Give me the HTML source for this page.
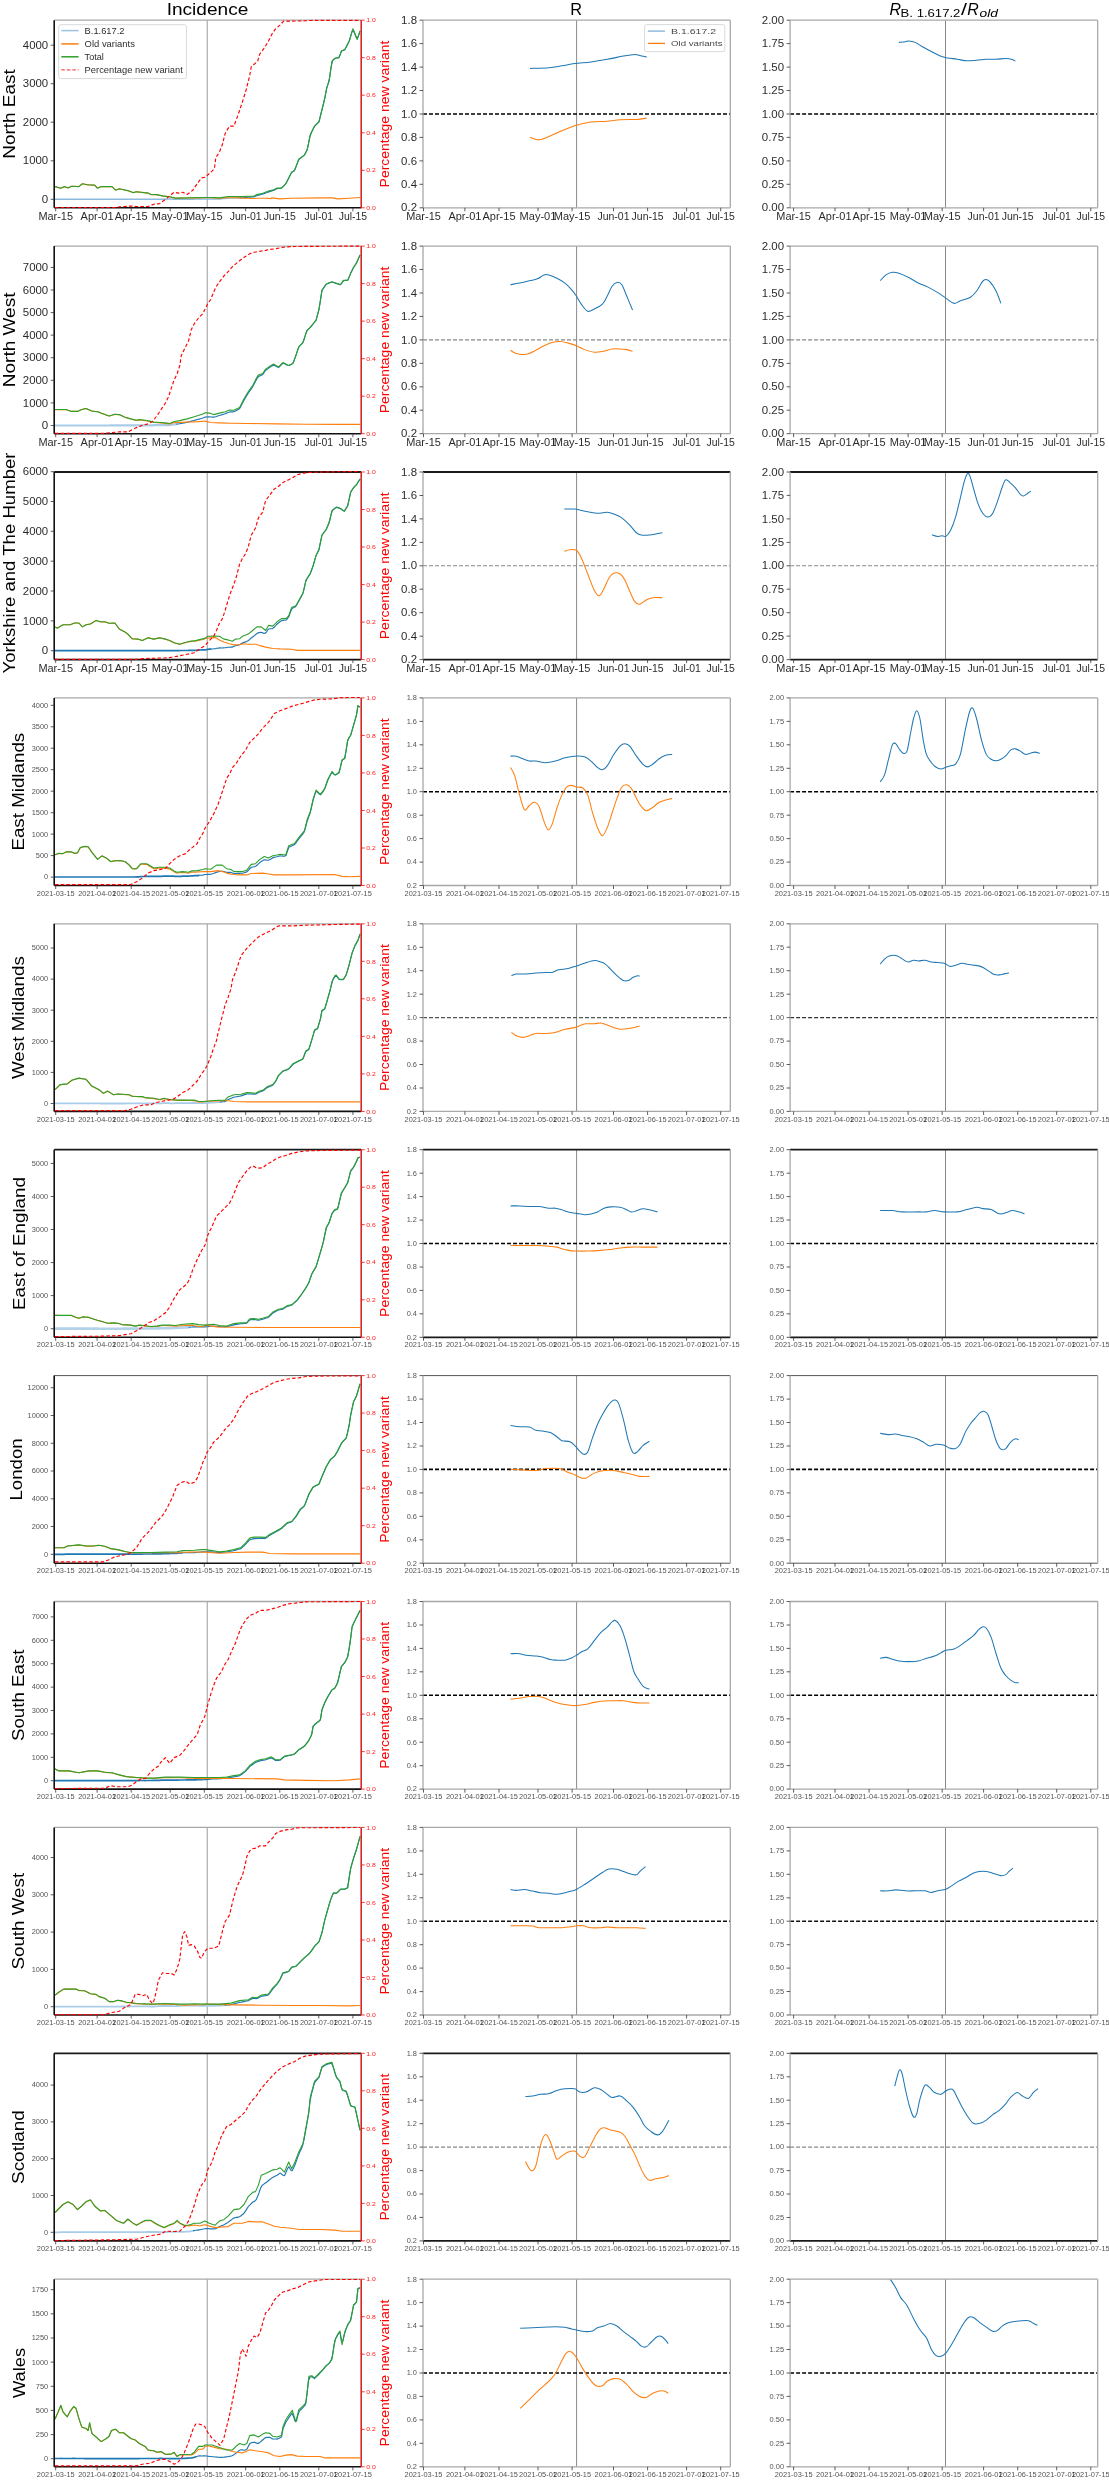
<!DOCTYPE html>
<html><head><meta charset="utf-8"><style>
html,body{margin:0;padding:0;background:#fff;}
svg{display:block;filter:blur(0.45px);}
text{font-family:"Liberation Sans", sans-serif;}
</style></head><body>
<svg width="1109" height="2480" viewBox="0 0 1109 2480">
<rect width="1109" height="2480" fill="#fff"/>
<text x="207.5" y="14.6" font-size="17" fill="#000" text-anchor="middle" textLength="81.7" lengthAdjust="spacingAndGlyphs">Incidence</text>
<text x="576.2" y="15.0" font-size="17" fill="#000" text-anchor="middle" textLength="11.8" lengthAdjust="spacingAndGlyphs">R</text>
<text x="889.4" y="14.6" font-size="17" font-style="italic" textLength="11.5" lengthAdjust="spacingAndGlyphs">R</text>
<text x="900.6" y="16.8" font-size="11.5" textLength="59.8" lengthAdjust="spacingAndGlyphs">B. 1.617.2</text>
<text x="961.0" y="14.6" font-size="17" textLength="6" lengthAdjust="spacingAndGlyphs">/</text>
<text x="967.3" y="14.6" font-size="17" font-style="italic" textLength="11.5" lengthAdjust="spacingAndGlyphs">R</text>
<text x="979.6" y="16.8" font-size="11.5" font-style="italic" textLength="18.4" lengthAdjust="spacingAndGlyphs">old</text>
<text x="14.7" y="114.0" font-size="17" fill="#000" text-anchor="middle" textLength="89.6" lengthAdjust="spacingAndGlyphs" transform="rotate(-90 14.7 114.0)">North East</text>
<line x1="207.3" y1="20.2" x2="207.3" y2="207.8" stroke="#b8b8b8" stroke-width="1.4"/>
<clipPath id="c0_0"><rect x="54.2" y="20.2" width="307.0" height="187.6"/></clipPath>
<polyline points="55.0,199.3 56.5,199.3 58.0,199.3 59.5,199.3 61.0,199.3 62.5,199.3 64.0,199.3 65.5,199.3 67.0,199.3 68.5,199.3 70.0,199.3 71.5,199.3 73.0,199.3 74.5,199.3 76.0,199.3 77.5,199.3 79.0,199.3 80.5,199.3 82.0,199.3 83.5,199.3 85.0,199.3 86.5,199.3 88.0,199.3 89.5,199.3 91.0,199.3 92.5,199.3 94.0,199.3 95.5,199.3 97.0,199.3 98.5,199.3 100.0,199.3 101.5,199.3 103.0,199.3 104.5,199.3 106.0,199.3 107.5,199.3 109.0,199.3 110.5,199.3 112.0,199.3 113.5,199.3 115.0,199.3 116.5,199.3 118.0,199.3 119.5,199.2 121.0,199.2 122.5,199.2 124.0,199.2 125.5,199.2 127.0,199.2 128.5,199.2 130.0,199.2 131.5,199.2 133.0,199.2 134.5,199.2 136.0,199.2 137.5,199.2 139.0,199.2 140.5,199.2 142.0,199.3 143.5,199.3 145.0,199.3 146.5,199.3 148.0,199.3 149.5,199.2 151.0,199.2 152.5,199.2 154.0,199.2 155.5,199.2 157.0,199.2 158.5,199.2 160.0,199.2 161.5,199.2 163.0,199.2 164.5,199.2 166.0,199.2 167.5,199.1 169.0,199.1 170.5,199.1 172.0,199.1 173.5,199.2 175.0,199.2 176.5,199.2 178.0,199.2 179.5,199.2 181.0,199.2 182.5,199.2 184.0,199.2 185.5,199.2 187.0,199.2 188.5,199.2 190.0,199.2 191.5,199.2 193.0,199.2 194.5,199.1 196.0,199.1 197.5,199.1 199.0,199.1 200.5,199.0 202.0,199.0 203.5,199.0 205.0,199.0 206.5,199.0 208.0,199.0 209.5,199.0 211.0,199.0 212.5,198.9 214.0,198.9 215.5,198.9 217.0,198.9 218.5,198.9 220.0,198.9 221.5,198.7 223.0,198.6 224.5,198.5 226.0,198.3 227.5,198.2 229.0,198.1 230.5,198.1 232.0,198.1 233.5,198.1 235.0,198.0 236.5,198.0 238.0,197.9 239.5,197.8 241.0,197.8" fill="none" stroke="#8dbbe0" stroke-width="1.5" stroke-linejoin="round" clip-path="url(#c0_0)"/>
<polyline points="239.5,197.8 241.0,197.8 242.5,197.7 244.0,197.6 245.5,197.5 247.0,197.4 248.5,197.2 250.0,197.1 251.5,196.9 253.0,196.9 254.5,196.6 256.0,196.0 257.5,195.5 259.0,195.1 260.5,194.7 262.0,194.3 263.5,193.9 265.0,193.3 266.5,192.7 268.0,192.1 269.5,191.6 271.0,191.1 272.5,190.6 274.0,190.2 275.5,189.4 277.0,188.6 278.5,188.5 280.0,188.4 281.5,188.2 283.0,186.6 284.5,185.1 286.0,183.4 287.5,180.4 289.0,177.4 290.5,174.4 292.0,172.1 293.5,171.4 295.0,169.3 296.5,165.4 298.0,161.4 299.5,158.8 301.0,157.7 302.5,156.6 304.0,155.5 305.5,153.1 307.0,150.1 308.5,143.7 310.0,136.2 311.5,132.3 313.0,129.3 314.5,126.3 316.0,124.7 317.5,123.2 319.0,121.5 320.5,115.5 322.0,109.5 323.5,103.5 325.0,97.1 326.5,89.1 328.0,84.2 329.5,78.1 331.0,67.6 332.5,60.7 334.0,59.2 335.5,58.3 337.0,58.0 338.5,57.8 340.0,55.0 341.5,51.1 343.0,50.5 344.5,49.9 346.0,47.5 347.5,44.5 349.0,41.5 350.5,36.8 352.0,31.7 353.5,30.5 355.0,34.2 356.5,38.0 358.0,37.1 359.5,32.6 360.1,31.0" fill="none" stroke="#1f77b4" stroke-width="1.15" stroke-linejoin="round" clip-path="url(#c0_0)"/>
<polyline points="55.0,186.6 56.5,187.0 58.0,187.5 59.5,187.9 61.0,188.2 62.5,187.5 64.0,186.8 65.5,187.0 67.0,187.6 68.5,187.8 70.0,187.1 71.5,186.3 73.0,186.4 74.5,186.4 76.0,186.5 77.5,186.5 79.0,186.4 80.5,185.2 82.0,184.0 83.5,184.0 85.0,184.3 86.5,184.6 88.0,184.9 89.5,184.9 91.0,185.0 92.5,185.1 94.0,185.1 95.5,186.1 97.0,187.7 98.5,187.9 100.0,187.1 101.5,186.6 103.0,186.6 104.5,186.6 106.0,186.6 107.5,186.6 109.0,186.6 110.5,186.6 112.0,186.6 113.5,188.1 115.0,189.6 116.5,189.8 118.0,189.2 119.5,188.9 121.0,189.2 122.5,189.5 124.0,189.8 125.5,190.2 127.0,190.5 128.5,190.9 130.0,191.5 131.5,192.1 133.0,192.7 134.5,192.3 136.0,191.9 137.5,191.9 139.0,192.1 140.5,192.3 142.0,192.4 143.5,192.6 145.0,192.8 146.5,192.9 148.0,193.1 149.5,193.8 151.0,194.6 152.5,194.6 154.0,194.7 155.5,194.7 157.0,194.8 158.5,195.1 160.0,195.5 161.5,195.8 163.0,196.1 164.5,196.3 166.0,196.4 167.5,196.6 169.0,196.8 170.5,197.0 172.0,197.4 173.5,197.7 175.0,198.1 176.5,198.2 178.0,198.2 179.5,198.1 181.0,198.1 182.5,198.1 184.0,198.0 185.5,198.0 187.0,198.0 188.5,198.0 190.0,197.9 191.5,197.9 193.0,197.9 194.5,197.9 196.0,197.9 197.5,197.9 199.0,197.9 200.5,197.9 202.0,197.8 203.5,197.8 205.0,197.8 206.5,197.8 208.0,197.8 209.5,197.8 211.0,197.8 212.5,197.9 214.0,197.9 215.5,198.1 217.0,198.2 218.5,198.3 220.0,198.3 221.5,198.1 223.0,198.0 224.5,197.9 226.0,197.8 227.5,197.7 229.0,197.7 230.5,197.7 232.0,197.7 233.5,197.7 235.0,197.8 236.5,197.8 238.0,197.9 239.5,198.0 241.0,198.0 242.5,198.1 244.0,198.1 245.5,198.2 247.0,198.2 248.5,198.3 250.0,198.4 251.5,198.5 253.0,198.5 254.5,198.5 256.0,198.3 257.5,198.2 259.0,198.3 260.5,198.3 262.0,198.3 263.5,198.3 265.0,198.3 266.5,198.3 268.0,198.4 269.5,198.5 271.0,198.6 271.4,197.9 280.0,198.9 291.6,198.2 320.4,197.9 332.0,197.9 337.7,198.9 349.3,198.2 360.1,197.5" fill="none" stroke="#ff7f0e" stroke-width="1.1" stroke-linejoin="round" clip-path="url(#c0_0)"/>
<polyline points="55.0,186.6 60.8,188.3 64.4,186.6 68.0,188.0 71.6,186.3 78.9,186.6 82.5,183.7 87.5,184.8 94.7,185.1 97.6,188.3 101.2,186.6 112.0,186.6 115.6,190.2 119.3,188.7 127.9,190.6 133.0,192.6 136.6,191.8 148.1,193.1 151.0,194.5 156.8,194.6 162.5,195.9 169.7,196.7 175.5,198.1 205.0,197.5 213.7,197.5 219.4,197.9 228.1,196.5 241.1,196.5 254.1,196.1 256.9,194.6 262.7,193.2 268.5,191.0 274.3,189.6 277.1,188.1 281.5,188.1 285.8,183.8 288.7,178.0 291.6,172.3 294.4,170.8 298.8,159.3 304.5,154.9 307.4,149.2 310.3,134.7 314.6,126.1 319.0,121.8 321.9,110.2 324.7,98.7 326.9,87.1 329.1,81.4 332.0,61.2 334.8,58.3 339.2,57.6 341.3,51.1 344.9,49.6 349.3,41.0 352.9,28.7 357.2,39.5 360.1,30.9" fill="none" stroke="#2ca02c" stroke-width="1.1" stroke-linejoin="round" clip-path="url(#c0_0)"/>
<line x1="54.2" y1="20.2" x2="361.2" y2="20.2" stroke="#a8a8a8" stroke-width="1.3"/>
<line x1="54.2" y1="207.8" x2="361.2" y2="207.8" stroke="#111" stroke-width="1.6"/>
<line x1="54.2" y1="20.2" x2="54.2" y2="207.8" stroke="#111" stroke-width="1.6"/>
<line x1="361.2" y1="20.2" x2="361.2" y2="207.8" stroke="#d62728" stroke-width="1.6"/>
<clipPath id="c0_0r"><rect x="54.2" y="19.2" width="307.0" height="189.6"/></clipPath>
<polyline points="55.0,207.5 116.4,207.5 119.3,206.8 125.0,206.5 130.8,206.0 136.6,206.5 148.1,206.5 153.9,204.2 159.6,203.6 165.4,199.5 169.7,195.9 174.1,192.3 178.4,193.1 182.7,192.3 187.1,194.5 192.8,190.2 197.2,183.7 201.5,177.9 205.0,177.3 210.8,172.3 214.4,168.7 215.8,157.8 219.4,152.1 222.3,144.8 225.2,133.3 229.5,126.1 233.9,126.1 238.2,114.5 242.5,101.6 246.1,90.0 249.7,75.6 251.2,66.9 257.7,61.2 259.8,54.0 264.2,48.2 268.5,41.0 272.1,33.8 275.7,28.7 280.0,25.1 283.6,21.1 291.6,21.1 306.0,20.8 311.8,20.3 334.8,20.3 360.8,20.3" fill="none" stroke="#ff0000" stroke-width="1.15" stroke-linejoin="round" stroke-dasharray="3.5,2.2" clip-path="url(#c0_0r)"/>
<line x1="50.7" y1="199.3" x2="54.2" y2="199.3" stroke="#333" stroke-width="0.8"/>
<text x="48.2" y="202.9" font-size="10.0" fill="#000" text-anchor="end" textLength="6.4" lengthAdjust="spacingAndGlyphs" fill-opacity="0.85">0</text>
<line x1="50.7" y1="160.8" x2="54.2" y2="160.8" stroke="#333" stroke-width="0.8"/>
<text x="48.2" y="164.4" font-size="10.0" fill="#000" text-anchor="end" textLength="25.4" lengthAdjust="spacingAndGlyphs" fill-opacity="0.85">1000</text>
<line x1="50.7" y1="122.2" x2="54.2" y2="122.2" stroke="#333" stroke-width="0.8"/>
<text x="48.2" y="125.8" font-size="10.0" fill="#000" text-anchor="end" textLength="25.4" lengthAdjust="spacingAndGlyphs" fill-opacity="0.85">2000</text>
<line x1="50.7" y1="83.7" x2="54.2" y2="83.7" stroke="#333" stroke-width="0.8"/>
<text x="48.2" y="87.3" font-size="10.0" fill="#000" text-anchor="end" textLength="25.4" lengthAdjust="spacingAndGlyphs" fill-opacity="0.85">3000</text>
<line x1="50.7" y1="45.2" x2="54.2" y2="45.2" stroke="#333" stroke-width="0.8"/>
<text x="48.2" y="48.8" font-size="10.0" fill="#000" text-anchor="end" textLength="25.4" lengthAdjust="spacingAndGlyphs" fill-opacity="0.85">4000</text>
<line x1="361.2" y1="207.8" x2="364.7" y2="207.8" stroke="#ff0000" stroke-width="0.8"/>
<text x="366.2" y="210.0" font-size="6.0" fill="#ff0000" text-anchor="start" textLength="9.5" lengthAdjust="spacingAndGlyphs" fill-opacity="0.9">0.0</text>
<line x1="361.2" y1="170.3" x2="364.7" y2="170.3" stroke="#ff0000" stroke-width="0.8"/>
<text x="366.2" y="172.4" font-size="6.0" fill="#ff0000" text-anchor="start" textLength="9.5" lengthAdjust="spacingAndGlyphs" fill-opacity="0.9">0.2</text>
<line x1="361.2" y1="132.8" x2="364.7" y2="132.8" stroke="#ff0000" stroke-width="0.8"/>
<text x="366.2" y="134.9" font-size="6.0" fill="#ff0000" text-anchor="start" textLength="9.5" lengthAdjust="spacingAndGlyphs" fill-opacity="0.9">0.4</text>
<line x1="361.2" y1="95.2" x2="364.7" y2="95.2" stroke="#ff0000" stroke-width="0.8"/>
<text x="366.2" y="97.4" font-size="6.0" fill="#ff0000" text-anchor="start" textLength="9.5" lengthAdjust="spacingAndGlyphs" fill-opacity="0.9">0.6</text>
<line x1="361.2" y1="57.7" x2="364.7" y2="57.7" stroke="#ff0000" stroke-width="0.8"/>
<text x="366.2" y="59.9" font-size="6.0" fill="#ff0000" text-anchor="start" textLength="9.5" lengthAdjust="spacingAndGlyphs" fill-opacity="0.9">0.8</text>
<line x1="361.2" y1="20.2" x2="364.7" y2="20.2" stroke="#ff0000" stroke-width="0.8"/>
<text x="366.2" y="22.4" font-size="6.0" fill="#ff0000" text-anchor="start" textLength="9.5" lengthAdjust="spacingAndGlyphs" fill-opacity="0.9">1.0</text>
<line x1="55.7" y1="207.8" x2="55.7" y2="211.3" stroke="#333" stroke-width="0.8"/>
<text x="55.7" y="220.2" font-size="10.0" fill="#000" text-anchor="middle" textLength="34.6" lengthAdjust="spacingAndGlyphs" fill-opacity="0.85">Mar-15</text>
<line x1="97.1" y1="207.8" x2="97.1" y2="211.3" stroke="#333" stroke-width="0.8"/>
<text x="97.1" y="220.2" font-size="10.0" fill="#000" text-anchor="middle" textLength="33.0" lengthAdjust="spacingAndGlyphs" fill-opacity="0.85">Apr-01</text>
<line x1="131.2" y1="207.8" x2="131.2" y2="211.3" stroke="#333" stroke-width="0.8"/>
<text x="131.2" y="220.2" font-size="10.0" fill="#000" text-anchor="middle" textLength="33.0" lengthAdjust="spacingAndGlyphs" fill-opacity="0.85">Apr-15</text>
<line x1="170.2" y1="207.8" x2="170.2" y2="211.3" stroke="#333" stroke-width="0.8"/>
<text x="170.2" y="220.2" font-size="10.0" fill="#000" text-anchor="middle" textLength="36.8" lengthAdjust="spacingAndGlyphs" fill-opacity="0.85">May-01</text>
<line x1="204.3" y1="207.8" x2="204.3" y2="211.3" stroke="#333" stroke-width="0.8"/>
<text x="204.3" y="220.2" font-size="10.0" fill="#000" text-anchor="middle" textLength="36.8" lengthAdjust="spacingAndGlyphs" fill-opacity="0.85">May-15</text>
<line x1="245.7" y1="207.8" x2="245.7" y2="211.3" stroke="#333" stroke-width="0.8"/>
<text x="245.7" y="220.2" font-size="10.0" fill="#000" text-anchor="middle" textLength="32.0" lengthAdjust="spacingAndGlyphs" fill-opacity="0.85">Jun-01</text>
<line x1="279.8" y1="207.8" x2="279.8" y2="211.3" stroke="#333" stroke-width="0.8"/>
<text x="279.8" y="220.2" font-size="10.0" fill="#000" text-anchor="middle" textLength="32.0" lengthAdjust="spacingAndGlyphs" fill-opacity="0.85">Jun-15</text>
<line x1="318.8" y1="207.8" x2="318.8" y2="211.3" stroke="#333" stroke-width="0.8"/>
<text x="318.8" y="220.2" font-size="10.0" fill="#000" text-anchor="middle" textLength="28.4" lengthAdjust="spacingAndGlyphs" fill-opacity="0.85">Jul-01</text>
<line x1="352.9" y1="207.8" x2="352.9" y2="211.3" stroke="#333" stroke-width="0.8"/>
<text x="352.9" y="220.2" font-size="10.0" fill="#000" text-anchor="middle" textLength="28.4" lengthAdjust="spacingAndGlyphs" fill-opacity="0.85">Jul-15</text>
<rect x="58.7" y="24.7" width="127.7" height="53.9" rx="2" fill="#fff" fill-opacity="0.8" stroke="#d9d9d9" stroke-width="1"/>
<line x1="61.3" y1="30.6" x2="78.6" y2="30.6" stroke="#9cc3e0" stroke-width="1.5"/>
<text x="84.6" y="33.9" font-size="9.0" fill="#000" text-anchor="start" textLength="39.9" lengthAdjust="spacingAndGlyphs" fill-opacity="0.85">B.1.617.2</text>
<line x1="61.3" y1="43.9" x2="78.6" y2="43.9" stroke="#ff7f0e" stroke-width="1.5"/>
<text x="84.6" y="47.2" font-size="9.0" fill="#000" text-anchor="start" textLength="50.3" lengthAdjust="spacingAndGlyphs" fill-opacity="0.85">Old variants</text>
<line x1="61.3" y1="56.8" x2="78.6" y2="56.8" stroke="#2ca02c" stroke-width="1.5"/>
<text x="84.6" y="60.1" font-size="9.0" fill="#000" text-anchor="start" textLength="19.3" lengthAdjust="spacingAndGlyphs" fill-opacity="0.85">Total</text>
<line x1="61.3" y1="69.8" x2="78.6" y2="69.8" stroke="#ff5050" stroke-width="1.3" stroke-dasharray="3.5,2"/>
<text x="84.6" y="73.1" font-size="9.0" fill="#000" text-anchor="start" textLength="98.2" lengthAdjust="spacingAndGlyphs" fill-opacity="0.85">Percentage new variant</text>
<text x="389.0" y="114.0" font-size="12" fill="#ff0000" text-anchor="middle" textLength="146.8" lengthAdjust="spacingAndGlyphs" transform="rotate(-90 389.0 114.0)">Percentage new variant</text>
<line x1="576.6" y1="20.2" x2="576.6" y2="207.8" stroke="#8a8a8a" stroke-width="1.0"/>
<line x1="423.0" y1="114.0" x2="730.3" y2="114.0" stroke="#000" stroke-width="1.6" stroke-dasharray="4,2"/>
<clipPath id="c0_1"><rect x="423.0" y="20.2" width="307.3" height="187.6"/></clipPath>
<path d="M529.97,68.43 C533.11,68.32 543.50,68.21 548.80,67.78 C554.10,67.35 557.46,66.54 561.79,65.83 C566.11,65.13 569.90,64.21 574.77,63.56 C579.64,62.91 585.59,62.64 591.00,61.94 C596.41,61.24 601.82,60.32 607.23,59.34 C612.64,58.37 618.86,56.91 623.46,56.10 C628.06,55.28 632.12,54.58 634.82,54.47 C637.53,54.36 637.69,55.01 639.69,55.45 C641.70,55.88 645.64,56.80 646.83,57.07" fill="none" stroke="#1f77b4" stroke-width="1.05" stroke-linejoin="round" clip-path="url(#c0_1)"/>
<path d="M529.97,137.25 C531.49,137.68 535.92,139.95 539.06,139.85 C542.20,139.74 545.01,138.12 548.80,136.60 C552.59,135.09 557.19,132.65 561.79,130.76 C566.38,128.86 571.52,126.70 576.39,125.24 C581.26,123.78 585.86,122.64 591.00,121.99 C596.14,121.34 602.36,121.72 607.23,121.34 C612.10,120.96 615.35,120.05 620.22,119.72 C625.09,119.40 632.01,119.67 636.45,119.40 C640.88,119.13 645.10,118.31 646.83,118.10" fill="none" stroke="#ff7f0e" stroke-width="1.05" stroke-linejoin="round" clip-path="url(#c0_1)"/>
<line x1="423.0" y1="20.2" x2="730.3" y2="20.2" stroke="#a8a8a8" stroke-width="1.3"/>
<line x1="423.0" y1="207.8" x2="730.3" y2="207.8" stroke="#a8a8a8" stroke-width="1.3"/>
<line x1="423.0" y1="20.2" x2="423.0" y2="207.8" stroke="#a8a8a8" stroke-width="1.3"/>
<line x1="730.3" y1="20.2" x2="730.3" y2="207.8" stroke="#a8a8a8" stroke-width="1.3"/>
<line x1="419.5" y1="207.8" x2="423.0" y2="207.8" stroke="#333" stroke-width="0.8"/>
<text x="417.0" y="211.4" font-size="10.0" fill="#000" text-anchor="end" textLength="15.9" lengthAdjust="spacingAndGlyphs" fill-opacity="0.85">0.2</text>
<line x1="419.5" y1="184.3" x2="423.0" y2="184.3" stroke="#333" stroke-width="0.8"/>
<text x="417.0" y="187.9" font-size="10.0" fill="#000" text-anchor="end" textLength="15.9" lengthAdjust="spacingAndGlyphs" fill-opacity="0.85">0.4</text>
<line x1="419.5" y1="160.9" x2="423.0" y2="160.9" stroke="#333" stroke-width="0.8"/>
<text x="417.0" y="164.5" font-size="10.0" fill="#000" text-anchor="end" textLength="15.9" lengthAdjust="spacingAndGlyphs" fill-opacity="0.85">0.6</text>
<line x1="419.5" y1="137.4" x2="423.0" y2="137.4" stroke="#333" stroke-width="0.8"/>
<text x="417.0" y="141.0" font-size="10.0" fill="#000" text-anchor="end" textLength="15.9" lengthAdjust="spacingAndGlyphs" fill-opacity="0.85">0.8</text>
<line x1="419.5" y1="114.0" x2="423.0" y2="114.0" stroke="#333" stroke-width="0.8"/>
<text x="417.0" y="117.6" font-size="10.0" fill="#000" text-anchor="end" textLength="15.9" lengthAdjust="spacingAndGlyphs" fill-opacity="0.85">1.0</text>
<line x1="419.5" y1="90.5" x2="423.0" y2="90.5" stroke="#333" stroke-width="0.8"/>
<text x="417.0" y="94.1" font-size="10.0" fill="#000" text-anchor="end" textLength="15.9" lengthAdjust="spacingAndGlyphs" fill-opacity="0.85">1.2</text>
<line x1="419.5" y1="67.1" x2="423.0" y2="67.1" stroke="#333" stroke-width="0.8"/>
<text x="417.0" y="70.7" font-size="10.0" fill="#000" text-anchor="end" textLength="15.9" lengthAdjust="spacingAndGlyphs" fill-opacity="0.85">1.4</text>
<line x1="419.5" y1="43.6" x2="423.0" y2="43.6" stroke="#333" stroke-width="0.8"/>
<text x="417.0" y="47.2" font-size="10.0" fill="#000" text-anchor="end" textLength="15.9" lengthAdjust="spacingAndGlyphs" fill-opacity="0.85">1.6</text>
<line x1="419.5" y1="20.2" x2="423.0" y2="20.2" stroke="#333" stroke-width="0.8"/>
<text x="417.0" y="23.8" font-size="10.0" fill="#000" text-anchor="end" textLength="15.9" lengthAdjust="spacingAndGlyphs" fill-opacity="0.85">1.8</text>
<line x1="423.5" y1="207.8" x2="423.5" y2="211.3" stroke="#333" stroke-width="0.8"/>
<text x="423.5" y="220.2" font-size="10.0" fill="#000" text-anchor="middle" textLength="34.6" lengthAdjust="spacingAndGlyphs" fill-opacity="0.85">Mar-15</text>
<line x1="464.9" y1="207.8" x2="464.9" y2="211.3" stroke="#333" stroke-width="0.8"/>
<text x="464.9" y="220.2" font-size="10.0" fill="#000" text-anchor="middle" textLength="33.0" lengthAdjust="spacingAndGlyphs" fill-opacity="0.85">Apr-01</text>
<line x1="499.0" y1="207.8" x2="499.0" y2="211.3" stroke="#333" stroke-width="0.8"/>
<text x="499.0" y="220.2" font-size="10.0" fill="#000" text-anchor="middle" textLength="33.0" lengthAdjust="spacingAndGlyphs" fill-opacity="0.85">Apr-15</text>
<line x1="538.0" y1="207.8" x2="538.0" y2="211.3" stroke="#333" stroke-width="0.8"/>
<text x="538.0" y="220.2" font-size="10.0" fill="#000" text-anchor="middle" textLength="36.8" lengthAdjust="spacingAndGlyphs" fill-opacity="0.85">May-01</text>
<line x1="572.1" y1="207.8" x2="572.1" y2="211.3" stroke="#333" stroke-width="0.8"/>
<text x="572.1" y="220.2" font-size="10.0" fill="#000" text-anchor="middle" textLength="36.8" lengthAdjust="spacingAndGlyphs" fill-opacity="0.85">May-15</text>
<line x1="613.5" y1="207.8" x2="613.5" y2="211.3" stroke="#333" stroke-width="0.8"/>
<text x="613.5" y="220.2" font-size="10.0" fill="#000" text-anchor="middle" textLength="32.0" lengthAdjust="spacingAndGlyphs" fill-opacity="0.85">Jun-01</text>
<line x1="647.6" y1="207.8" x2="647.6" y2="211.3" stroke="#333" stroke-width="0.8"/>
<text x="647.6" y="220.2" font-size="10.0" fill="#000" text-anchor="middle" textLength="32.0" lengthAdjust="spacingAndGlyphs" fill-opacity="0.85">Jun-15</text>
<line x1="686.6" y1="207.8" x2="686.6" y2="211.3" stroke="#333" stroke-width="0.8"/>
<text x="686.6" y="220.2" font-size="10.0" fill="#000" text-anchor="middle" textLength="28.4" lengthAdjust="spacingAndGlyphs" fill-opacity="0.85">Jul-01</text>
<line x1="720.7" y1="207.8" x2="720.7" y2="211.3" stroke="#333" stroke-width="0.8"/>
<text x="720.7" y="220.2" font-size="10.0" fill="#000" text-anchor="middle" textLength="28.4" lengthAdjust="spacingAndGlyphs" fill-opacity="0.85">Jul-15</text>
<rect x="644.6" y="24.6" width="80.2" height="27" rx="2" fill="#fff" fill-opacity="0.8" stroke="#d9d9d9" stroke-width="1"/>
<line x1="647.9" y1="31.1" x2="665.0" y2="31.1" stroke="#7fb2dc" stroke-width="1.3"/>
<text x="671.0" y="33.7" font-size="7.2" fill="#000" text-anchor="start" textLength="45.0" lengthAdjust="spacingAndGlyphs" fill-opacity="0.75">B.1.617.2</text>
<line x1="647.9" y1="43.4" x2="665.0" y2="43.4" stroke="#ff7f0e" stroke-width="1.3"/>
<text x="671.0" y="46.0" font-size="7.2" fill="#000" text-anchor="start" textLength="51.5" lengthAdjust="spacingAndGlyphs" fill-opacity="0.75">Old variants</text>
<line x1="945.5" y1="20.2" x2="945.5" y2="207.8" stroke="#8a8a8a" stroke-width="1.0"/>
<line x1="790.1" y1="114.0" x2="1097.7" y2="114.0" stroke="#000" stroke-width="1.6" stroke-dasharray="4,2"/>
<clipPath id="c0_2"><rect x="790.1" y="20.2" width="307.6" height="187.6"/></clipPath>
<path d="M898.91,42.37 C899.99,42.26 903.76,41.94 905.38,41.72 C907.00,41.51 907.00,40.97 908.62,41.08 C910.24,41.18 912.94,41.51 915.09,42.37 C917.25,43.23 918.87,44.75 921.57,46.26 C924.27,47.77 928.04,49.76 931.28,51.44 C934.52,53.11 938.29,55.21 940.99,56.29 C943.69,57.37 944.77,57.42 947.47,57.91 C950.16,58.40 953.94,58.72 957.18,59.20 C960.41,59.69 963.65,60.66 966.89,60.82 C970.13,60.99 973.36,60.45 976.60,60.18 C979.84,59.91 983.07,59.37 986.31,59.20 C989.55,59.04 992.79,59.31 996.02,59.20 C999.26,59.10 1003.04,58.50 1005.73,58.56 C1008.43,58.61 1010.59,59.10 1012.21,59.53 C1013.83,59.96 1014.91,60.88 1015.45,61.15" fill="none" stroke="#1f77b4" stroke-width="1.05" stroke-linejoin="round" clip-path="url(#c0_2)"/>
<line x1="790.1" y1="20.2" x2="1097.7" y2="20.2" stroke="#a8a8a8" stroke-width="1.3"/>
<line x1="790.1" y1="207.8" x2="1097.7" y2="207.8" stroke="#a8a8a8" stroke-width="1.3"/>
<line x1="790.1" y1="20.2" x2="790.1" y2="207.8" stroke="#a8a8a8" stroke-width="1.3"/>
<line x1="1097.7" y1="20.2" x2="1097.7" y2="207.8" stroke="#a8a8a8" stroke-width="1.3"/>
<line x1="786.6" y1="207.8" x2="790.1" y2="207.8" stroke="#333" stroke-width="0.8"/>
<text x="784.1" y="211.4" font-size="10.0" fill="#000" text-anchor="end" textLength="22.3" lengthAdjust="spacingAndGlyphs" fill-opacity="0.85">0.00</text>
<line x1="786.6" y1="184.3" x2="790.1" y2="184.3" stroke="#333" stroke-width="0.8"/>
<text x="784.1" y="187.9" font-size="10.0" fill="#000" text-anchor="end" textLength="22.3" lengthAdjust="spacingAndGlyphs" fill-opacity="0.85">0.25</text>
<line x1="786.6" y1="160.9" x2="790.1" y2="160.9" stroke="#333" stroke-width="0.8"/>
<text x="784.1" y="164.5" font-size="10.0" fill="#000" text-anchor="end" textLength="22.3" lengthAdjust="spacingAndGlyphs" fill-opacity="0.85">0.50</text>
<line x1="786.6" y1="137.4" x2="790.1" y2="137.4" stroke="#333" stroke-width="0.8"/>
<text x="784.1" y="141.0" font-size="10.0" fill="#000" text-anchor="end" textLength="22.3" lengthAdjust="spacingAndGlyphs" fill-opacity="0.85">0.75</text>
<line x1="786.6" y1="114.0" x2="790.1" y2="114.0" stroke="#333" stroke-width="0.8"/>
<text x="784.1" y="117.6" font-size="10.0" fill="#000" text-anchor="end" textLength="22.3" lengthAdjust="spacingAndGlyphs" fill-opacity="0.85">1.00</text>
<line x1="786.6" y1="90.5" x2="790.1" y2="90.5" stroke="#333" stroke-width="0.8"/>
<text x="784.1" y="94.1" font-size="10.0" fill="#000" text-anchor="end" textLength="22.3" lengthAdjust="spacingAndGlyphs" fill-opacity="0.85">1.25</text>
<line x1="786.6" y1="67.1" x2="790.1" y2="67.1" stroke="#333" stroke-width="0.8"/>
<text x="784.1" y="70.7" font-size="10.0" fill="#000" text-anchor="end" textLength="22.3" lengthAdjust="spacingAndGlyphs" fill-opacity="0.85">1.50</text>
<line x1="786.6" y1="43.6" x2="790.1" y2="43.6" stroke="#333" stroke-width="0.8"/>
<text x="784.1" y="47.2" font-size="10.0" fill="#000" text-anchor="end" textLength="22.3" lengthAdjust="spacingAndGlyphs" fill-opacity="0.85">1.75</text>
<line x1="786.6" y1="20.2" x2="790.1" y2="20.2" stroke="#333" stroke-width="0.8"/>
<text x="784.1" y="23.8" font-size="10.0" fill="#000" text-anchor="end" textLength="22.3" lengthAdjust="spacingAndGlyphs" fill-opacity="0.85">2.00</text>
<line x1="793.6" y1="207.8" x2="793.6" y2="211.3" stroke="#333" stroke-width="0.8"/>
<text x="793.6" y="220.2" font-size="10.0" fill="#000" text-anchor="middle" textLength="34.6" lengthAdjust="spacingAndGlyphs" fill-opacity="0.85">Mar-15</text>
<line x1="835.0" y1="207.8" x2="835.0" y2="211.3" stroke="#333" stroke-width="0.8"/>
<text x="835.0" y="220.2" font-size="10.0" fill="#000" text-anchor="middle" textLength="33.0" lengthAdjust="spacingAndGlyphs" fill-opacity="0.85">Apr-01</text>
<line x1="869.1" y1="207.8" x2="869.1" y2="211.3" stroke="#333" stroke-width="0.8"/>
<text x="869.1" y="220.2" font-size="10.0" fill="#000" text-anchor="middle" textLength="33.0" lengthAdjust="spacingAndGlyphs" fill-opacity="0.85">Apr-15</text>
<line x1="908.1" y1="207.8" x2="908.1" y2="211.3" stroke="#333" stroke-width="0.8"/>
<text x="908.1" y="220.2" font-size="10.0" fill="#000" text-anchor="middle" textLength="36.8" lengthAdjust="spacingAndGlyphs" fill-opacity="0.85">May-01</text>
<line x1="942.2" y1="207.8" x2="942.2" y2="211.3" stroke="#333" stroke-width="0.8"/>
<text x="942.2" y="220.2" font-size="10.0" fill="#000" text-anchor="middle" textLength="36.8" lengthAdjust="spacingAndGlyphs" fill-opacity="0.85">May-15</text>
<line x1="983.6" y1="207.8" x2="983.6" y2="211.3" stroke="#333" stroke-width="0.8"/>
<text x="983.6" y="220.2" font-size="10.0" fill="#000" text-anchor="middle" textLength="32.0" lengthAdjust="spacingAndGlyphs" fill-opacity="0.85">Jun-01</text>
<line x1="1017.7" y1="207.8" x2="1017.7" y2="211.3" stroke="#333" stroke-width="0.8"/>
<text x="1017.7" y="220.2" font-size="10.0" fill="#000" text-anchor="middle" textLength="32.0" lengthAdjust="spacingAndGlyphs" fill-opacity="0.85">Jun-15</text>
<line x1="1056.7" y1="207.8" x2="1056.7" y2="211.3" stroke="#333" stroke-width="0.8"/>
<text x="1056.7" y="220.2" font-size="10.0" fill="#000" text-anchor="middle" textLength="28.4" lengthAdjust="spacingAndGlyphs" fill-opacity="0.85">Jul-01</text>
<line x1="1090.8" y1="207.8" x2="1090.8" y2="211.3" stroke="#333" stroke-width="0.8"/>
<text x="1090.8" y="220.2" font-size="10.0" fill="#000" text-anchor="middle" textLength="28.4" lengthAdjust="spacingAndGlyphs" fill-opacity="0.85">Jul-15</text>
<text x="14.7" y="339.9" font-size="17" fill="#000" text-anchor="middle" textLength="94.7" lengthAdjust="spacingAndGlyphs" transform="rotate(-90 14.7 339.9)">North West</text>
<line x1="207.3" y1="246.1" x2="207.3" y2="433.7" stroke="#b8b8b8" stroke-width="1.4"/>
<clipPath id="c1_0"><rect x="54.2" y="246.1" width="307.0" height="187.6"/></clipPath>
<polyline points="55.0,425.5 56.5,425.5 58.0,425.5 59.5,425.5 61.0,425.5 62.5,425.5 64.0,425.5 65.5,425.5 67.0,425.5 68.5,425.5 70.0,425.5 71.5,425.5 73.0,425.5 74.5,425.5 76.0,425.5 77.5,425.5 79.0,425.5 80.5,425.5 82.0,425.5 83.5,425.5 85.0,425.5 86.5,425.5 88.0,425.5 89.5,425.5 91.0,425.5 92.5,425.5 94.0,425.5 95.5,425.5 97.0,425.5 98.5,425.5 100.0,425.5 101.5,425.5 103.0,425.5 104.5,425.5 106.0,425.5 107.5,425.5 109.0,425.5 110.5,425.4 112.0,425.4 113.5,425.4 115.0,425.4 116.5,425.4 118.0,425.4 119.5,425.4 121.0,425.4 122.5,425.4 124.0,425.4 125.5,425.4 127.0,425.4 128.5,425.4 130.0,425.4 131.5,425.4 133.0,425.4 134.5,425.3 136.0,425.3 137.5,425.3 139.0,425.3 140.5,425.3 142.0,425.3 143.5,425.3 145.0,425.3 146.5,425.3 148.0,425.3 149.5,425.3 151.0,425.3 152.5,425.3 154.0,425.2 155.5,425.2 157.0,425.2 158.5,425.2 160.0,425.1 161.5,425.1 163.0,425.1 164.5,425.1 166.0,425.1 167.5,425.1 169.0,425.1 170.5,425.0 172.0,424.7 173.5,424.5 175.0,424.3 176.5,424.1 178.0,424.0" fill="none" stroke="#a9cde8" stroke-width="2.2" stroke-linejoin="round" clip-path="url(#c1_0)"/>
<polyline points="176.5,424.1 178.0,424.0 179.5,423.8 181.0,423.4 182.5,423.1 184.0,422.9 185.5,422.6 187.0,422.3 188.5,422.0 190.0,421.5 191.5,421.1 193.0,420.7 194.5,420.3 196.0,419.9 197.5,419.5 199.0,419.1 200.5,418.7 202.0,418.3 203.5,417.8 205.0,417.1 206.5,417.0 208.0,416.8 209.5,416.8 211.0,417.0 212.5,417.1 214.0,417.1 215.5,416.7 217.0,416.2 218.5,415.7 220.0,415.3 221.5,414.9 223.0,414.4 224.5,414.0 226.0,413.4 227.5,412.8 229.0,412.2 230.5,411.9 232.0,411.8 233.5,411.8 235.0,411.2 236.5,410.4 238.0,409.6 239.5,408.8 241.0,406.0 242.5,403.1 244.0,400.2 245.5,397.7 247.0,395.1 248.5,392.7 250.0,390.6 251.5,388.6 253.0,386.2 254.5,383.3 256.0,380.4 257.5,377.8 259.0,376.1 260.5,375.6 262.0,375.0 263.5,373.5 265.0,371.2 266.5,369.7 268.0,368.6 269.5,367.5 271.0,366.6 272.5,365.6 274.0,365.3 275.5,366.1 277.0,366.8 278.5,367.6 280.0,366.1 281.5,364.5 283.0,363.1 284.5,363.8 286.0,364.5 287.5,365.2 289.0,365.5 290.5,364.8 292.0,364.0 293.5,362.0 295.0,357.9 296.5,353.6 298.0,349.1 299.5,346.1 301.0,344.6 302.5,343.1 304.0,339.6 305.5,334.8 307.0,330.7 308.5,329.2 310.0,327.7 311.5,325.9 313.0,324.0 314.5,322.2 316.0,320.3 317.5,314.8 319.0,309.0 320.5,299.8 322.0,290.4 323.5,288.1 325.0,285.9 326.5,284.0 328.0,283.5 329.5,282.9 331.0,282.3 332.5,282.2 334.0,282.6 335.5,283.1 337.0,283.6 338.5,284.1 340.0,284.6 341.5,283.4 343.0,281.1 344.5,280.5 346.0,280.4 347.5,280.4 349.0,277.4 350.5,273.6 352.0,270.5 353.5,267.5 355.0,265.2 356.5,262.9 358.0,259.6 359.5,256.3 360.1,255.1" fill="none" stroke="#1f77b4" stroke-width="1.15" stroke-linejoin="round" clip-path="url(#c1_0)"/>
<polyline points="55.0,409.6 56.5,409.6 58.0,409.6 59.5,409.6 61.0,409.6 62.5,409.6 64.0,409.6 65.5,409.6 67.0,409.9 68.5,410.4 70.0,410.9 71.5,411.4 73.0,411.4 74.5,411.4 76.0,411.4 77.5,411.4 79.0,410.7 80.5,410.1 82.0,409.5 83.5,409.1 85.0,408.8 86.5,408.7 88.0,409.4 89.5,410.0 91.0,410.7 92.5,411.1 94.0,411.3 95.5,411.5 97.0,411.6 98.5,412.1 100.0,412.6 101.5,413.2 103.0,413.7 104.5,414.3 106.0,414.9 107.5,415.5 109.0,416.0 110.5,415.7 112.0,415.2 113.5,414.8 115.0,414.4 116.5,414.5 118.0,414.6 119.5,414.8 121.0,415.5 122.5,416.1 124.0,416.8 125.5,417.4 127.0,417.9 128.5,418.3 130.0,418.8 131.5,419.2 133.0,419.6 134.5,420.0 136.0,420.4 137.5,420.3 139.0,419.9 140.5,420.0 142.0,420.2 143.5,420.4 145.0,420.6 146.5,420.8 148.0,421.1 149.5,421.3 151.0,421.7 152.5,422.0 154.0,422.3 155.5,422.5 157.0,422.6 158.5,422.8 160.0,422.9 161.5,423.0 163.0,423.2 164.5,423.3 166.0,423.4 167.5,423.6 169.0,423.9 170.5,423.7 172.0,423.2 173.5,422.8 175.0,422.6 176.5,422.5 178.0,422.4 179.5,422.4 181.0,422.4 182.5,422.4 184.0,422.2 185.5,422.1 187.0,422.1 188.5,421.9 190.0,422.0 191.5,422.0 193.0,421.9 194.5,421.9 196.0,421.7 197.5,421.7 199.0,421.6 200.5,421.5 202.0,421.4 203.5,421.3 205.0,421.1 210.8,422.5 219.4,422.9 231.0,423.2 248.3,423.5 277.1,423.9 306.0,424.2 334.8,424.4 360.1,424.4" fill="none" stroke="#ff7f0e" stroke-width="1.1" stroke-linejoin="round" clip-path="url(#c1_0)"/>
<polyline points="55.0,409.5 65.9,409.5 71.6,411.4 77.4,411.4 81.7,409.5 86.1,408.5 91.8,411.0 97.6,411.7 103.4,413.9 109.2,416.0 114.9,414.3 119.3,414.6 125.0,417.2 130.8,418.9 136.6,420.3 139.4,419.6 145.2,420.3 149.5,421.1 153.9,422.1 159.6,422.5 165.4,422.9 169.7,423.5 174.1,421.5 179.8,420.6 187.1,418.9 194.3,416.7 202.9,413.9 205.0,412.8 209.3,413.1 213.7,414.6 219.4,413.1 225.2,411.7 229.5,410.0 233.9,410.2 239.6,407.4 244.0,398.7 248.3,391.5 252.6,385.7 255.5,379.9 258.4,374.9 262.7,373.5 265.6,369.1 269.9,366.2 273.5,364.1 278.6,367.0 282.9,362.6 288.7,365.5 293.0,363.4 295.9,355.4 298.8,346.8 303.1,342.4 306.7,330.9 310.3,327.3 316.1,320.1 319.0,309.3 320.4,300.6 321.9,290.5 326.2,284.0 332.0,281.8 336.3,283.3 340.6,284.7 343.5,280.4 347.8,280.4 350.7,273.2 353.6,267.4 356.5,263.1 360.1,255.1" fill="none" stroke="#2ca02c" stroke-width="1.1" stroke-linejoin="round" clip-path="url(#c1_0)"/>
<line x1="54.2" y1="246.1" x2="361.2" y2="246.1" stroke="#a8a8a8" stroke-width="1.3"/>
<line x1="54.2" y1="433.7" x2="361.2" y2="433.7" stroke="#111" stroke-width="1.6"/>
<line x1="54.2" y1="246.1" x2="54.2" y2="433.7" stroke="#111" stroke-width="1.6"/>
<line x1="361.2" y1="246.1" x2="361.2" y2="433.7" stroke="#d62728" stroke-width="1.6"/>
<clipPath id="c1_0r"><rect x="54.2" y="245.1" width="307.0" height="189.6"/></clipPath>
<polyline points="55.0,433.3 104.8,433.3 110.6,432.6 119.3,431.9 127.9,431.9 130.8,430.4 136.6,427.6 142.3,425.4 148.1,423.9 152.4,421.5 156.8,416.0 162.5,407.4 165.4,403.0 168.3,397.3 171.2,388.6 174.1,379.9 177.0,374.2 179.8,365.5 181.3,355.4 184.2,349.6 188.5,341.0 191.4,329.4 194.3,323.7 198.6,317.9 202.9,313.6 205.0,309.3 207.9,303.5 210.8,299.2 213.7,291.9 216.5,286.2 219.4,281.8 223.8,276.1 228.1,271.7 232.4,266.7 236.7,263.1 241.1,259.5 245.4,256.6 249.7,253.7 254.1,252.3 259.8,251.3 265.6,250.4 269.9,249.4 274.3,248.9 280.0,247.9 285.8,246.9 294.4,246.5 320.4,246.3 360.1,246.1" fill="none" stroke="#ff0000" stroke-width="1.15" stroke-linejoin="round" stroke-dasharray="3.5,2.2" clip-path="url(#c1_0r)"/>
<line x1="50.7" y1="425.5" x2="54.2" y2="425.5" stroke="#333" stroke-width="0.8"/>
<text x="48.2" y="429.1" font-size="10.0" fill="#000" text-anchor="end" textLength="6.4" lengthAdjust="spacingAndGlyphs" fill-opacity="0.85">0</text>
<line x1="50.7" y1="402.9" x2="54.2" y2="402.9" stroke="#333" stroke-width="0.8"/>
<text x="48.2" y="406.5" font-size="10.0" fill="#000" text-anchor="end" textLength="25.4" lengthAdjust="spacingAndGlyphs" fill-opacity="0.85">1000</text>
<line x1="50.7" y1="380.3" x2="54.2" y2="380.3" stroke="#333" stroke-width="0.8"/>
<text x="48.2" y="383.9" font-size="10.0" fill="#000" text-anchor="end" textLength="25.4" lengthAdjust="spacingAndGlyphs" fill-opacity="0.85">2000</text>
<line x1="50.7" y1="357.7" x2="54.2" y2="357.7" stroke="#333" stroke-width="0.8"/>
<text x="48.2" y="361.3" font-size="10.0" fill="#000" text-anchor="end" textLength="25.4" lengthAdjust="spacingAndGlyphs" fill-opacity="0.85">3000</text>
<line x1="50.7" y1="335.1" x2="54.2" y2="335.1" stroke="#333" stroke-width="0.8"/>
<text x="48.2" y="338.7" font-size="10.0" fill="#000" text-anchor="end" textLength="25.4" lengthAdjust="spacingAndGlyphs" fill-opacity="0.85">4000</text>
<line x1="50.7" y1="312.6" x2="54.2" y2="312.6" stroke="#333" stroke-width="0.8"/>
<text x="48.2" y="316.2" font-size="10.0" fill="#000" text-anchor="end" textLength="25.4" lengthAdjust="spacingAndGlyphs" fill-opacity="0.85">5000</text>
<line x1="50.7" y1="290.0" x2="54.2" y2="290.0" stroke="#333" stroke-width="0.8"/>
<text x="48.2" y="293.6" font-size="10.0" fill="#000" text-anchor="end" textLength="25.4" lengthAdjust="spacingAndGlyphs" fill-opacity="0.85">6000</text>
<line x1="50.7" y1="267.4" x2="54.2" y2="267.4" stroke="#333" stroke-width="0.8"/>
<text x="48.2" y="271.0" font-size="10.0" fill="#000" text-anchor="end" textLength="25.4" lengthAdjust="spacingAndGlyphs" fill-opacity="0.85">7000</text>
<line x1="361.2" y1="433.7" x2="364.7" y2="433.7" stroke="#ff0000" stroke-width="0.8"/>
<text x="366.2" y="435.9" font-size="6.0" fill="#ff0000" text-anchor="start" textLength="9.5" lengthAdjust="spacingAndGlyphs" fill-opacity="0.9">0.0</text>
<line x1="361.2" y1="396.2" x2="364.7" y2="396.2" stroke="#ff0000" stroke-width="0.8"/>
<text x="366.2" y="398.3" font-size="6.0" fill="#ff0000" text-anchor="start" textLength="9.5" lengthAdjust="spacingAndGlyphs" fill-opacity="0.9">0.2</text>
<line x1="361.2" y1="358.7" x2="364.7" y2="358.7" stroke="#ff0000" stroke-width="0.8"/>
<text x="366.2" y="360.8" font-size="6.0" fill="#ff0000" text-anchor="start" textLength="9.5" lengthAdjust="spacingAndGlyphs" fill-opacity="0.9">0.4</text>
<line x1="361.2" y1="321.1" x2="364.7" y2="321.1" stroke="#ff0000" stroke-width="0.8"/>
<text x="366.2" y="323.3" font-size="6.0" fill="#ff0000" text-anchor="start" textLength="9.5" lengthAdjust="spacingAndGlyphs" fill-opacity="0.9">0.6</text>
<line x1="361.2" y1="283.6" x2="364.7" y2="283.6" stroke="#ff0000" stroke-width="0.8"/>
<text x="366.2" y="285.8" font-size="6.0" fill="#ff0000" text-anchor="start" textLength="9.5" lengthAdjust="spacingAndGlyphs" fill-opacity="0.9">0.8</text>
<line x1="361.2" y1="246.1" x2="364.7" y2="246.1" stroke="#ff0000" stroke-width="0.8"/>
<text x="366.2" y="248.3" font-size="6.0" fill="#ff0000" text-anchor="start" textLength="9.5" lengthAdjust="spacingAndGlyphs" fill-opacity="0.9">1.0</text>
<line x1="55.7" y1="433.7" x2="55.7" y2="437.2" stroke="#333" stroke-width="0.8"/>
<text x="55.7" y="446.1" font-size="10.0" fill="#000" text-anchor="middle" textLength="34.6" lengthAdjust="spacingAndGlyphs" fill-opacity="0.85">Mar-15</text>
<line x1="97.1" y1="433.7" x2="97.1" y2="437.2" stroke="#333" stroke-width="0.8"/>
<text x="97.1" y="446.1" font-size="10.0" fill="#000" text-anchor="middle" textLength="33.0" lengthAdjust="spacingAndGlyphs" fill-opacity="0.85">Apr-01</text>
<line x1="131.2" y1="433.7" x2="131.2" y2="437.2" stroke="#333" stroke-width="0.8"/>
<text x="131.2" y="446.1" font-size="10.0" fill="#000" text-anchor="middle" textLength="33.0" lengthAdjust="spacingAndGlyphs" fill-opacity="0.85">Apr-15</text>
<line x1="170.2" y1="433.7" x2="170.2" y2="437.2" stroke="#333" stroke-width="0.8"/>
<text x="170.2" y="446.1" font-size="10.0" fill="#000" text-anchor="middle" textLength="36.8" lengthAdjust="spacingAndGlyphs" fill-opacity="0.85">May-01</text>
<line x1="204.3" y1="433.7" x2="204.3" y2="437.2" stroke="#333" stroke-width="0.8"/>
<text x="204.3" y="446.1" font-size="10.0" fill="#000" text-anchor="middle" textLength="36.8" lengthAdjust="spacingAndGlyphs" fill-opacity="0.85">May-15</text>
<line x1="245.7" y1="433.7" x2="245.7" y2="437.2" stroke="#333" stroke-width="0.8"/>
<text x="245.7" y="446.1" font-size="10.0" fill="#000" text-anchor="middle" textLength="32.0" lengthAdjust="spacingAndGlyphs" fill-opacity="0.85">Jun-01</text>
<line x1="279.8" y1="433.7" x2="279.8" y2="437.2" stroke="#333" stroke-width="0.8"/>
<text x="279.8" y="446.1" font-size="10.0" fill="#000" text-anchor="middle" textLength="32.0" lengthAdjust="spacingAndGlyphs" fill-opacity="0.85">Jun-15</text>
<line x1="318.8" y1="433.7" x2="318.8" y2="437.2" stroke="#333" stroke-width="0.8"/>
<text x="318.8" y="446.1" font-size="10.0" fill="#000" text-anchor="middle" textLength="28.4" lengthAdjust="spacingAndGlyphs" fill-opacity="0.85">Jul-01</text>
<line x1="352.9" y1="433.7" x2="352.9" y2="437.2" stroke="#333" stroke-width="0.8"/>
<text x="352.9" y="446.1" font-size="10.0" fill="#000" text-anchor="middle" textLength="28.4" lengthAdjust="spacingAndGlyphs" fill-opacity="0.85">Jul-15</text>
<text x="389.0" y="339.9" font-size="12" fill="#ff0000" text-anchor="middle" textLength="146.8" lengthAdjust="spacingAndGlyphs" transform="rotate(-90 389.0 339.9)">Percentage new variant</text>
<line x1="576.6" y1="246.1" x2="576.6" y2="433.7" stroke="#8a8a8a" stroke-width="1.0"/>
<line x1="423.0" y1="339.9" x2="730.3" y2="339.9" stroke="#888" stroke-width="1.1" stroke-dasharray="4,2"/>
<clipPath id="c1_1"><rect x="423.0" y="246.1" width="307.3" height="187.6"/></clipPath>
<path d="M510.50,284.69 C512.01,284.42 516.45,283.72 519.59,283.07 C522.72,282.42 526.35,281.50 529.32,280.80 C532.30,280.09 535.00,279.82 537.44,278.85 C539.87,277.88 542.04,275.60 543.93,274.95 C545.83,274.30 546.64,274.41 548.80,274.95 C550.96,275.50 554.21,276.85 556.92,278.20 C559.62,279.55 562.60,281.18 565.03,283.07 C567.47,284.96 569.63,287.40 571.52,289.56 C573.42,291.73 574.77,293.62 576.39,296.05 C578.02,298.49 579.37,301.63 581.26,304.17 C583.16,306.71 585.59,310.50 587.75,311.31 C589.92,312.12 591.81,310.23 594.25,309.04 C596.68,307.85 600.20,306.33 602.36,304.17 C604.53,302.01 605.61,299.03 607.23,296.05 C608.85,293.08 610.48,288.59 612.10,286.32 C613.72,284.04 615.35,282.69 616.97,282.42 C618.59,282.15 620.22,282.42 621.84,284.69 C623.46,286.96 624.92,291.83 626.71,296.05 C628.49,300.27 631.58,307.69 632.55,310.01" fill="none" stroke="#1f77b4" stroke-width="1.05" stroke-linejoin="round" clip-path="url(#c1_1)"/>
<path d="M510.50,350.27 C511.47,350.81 514.28,352.81 516.34,353.51 C518.39,354.21 520.67,354.49 522.83,354.49 C525.00,354.49 527.16,354.21 529.32,353.51 C531.49,352.81 533.38,351.56 535.82,350.27 C538.25,348.97 541.23,347.02 543.93,345.72 C546.64,344.42 549.34,343.18 552.05,342.47 C554.75,341.77 557.46,341.39 560.16,341.50 C562.87,341.61 565.57,342.42 568.28,343.12 C570.98,343.83 573.69,344.64 576.39,345.72 C579.10,346.80 581.53,348.53 584.51,349.62 C587.48,350.70 591.00,351.94 594.25,352.21 C597.49,352.48 601.01,351.78 603.99,351.24 C606.96,350.70 609.40,349.35 612.10,348.97 C614.81,348.59 617.78,348.86 620.22,348.97 C622.65,349.07 624.65,349.24 626.71,349.62 C628.76,349.99 631.58,350.97 632.55,351.24" fill="none" stroke="#ff7f0e" stroke-width="1.05" stroke-linejoin="round" clip-path="url(#c1_1)"/>
<line x1="423.0" y1="246.1" x2="730.3" y2="246.1" stroke="#a8a8a8" stroke-width="1.3"/>
<line x1="423.0" y1="433.7" x2="730.3" y2="433.7" stroke="#a8a8a8" stroke-width="1.3"/>
<line x1="423.0" y1="246.1" x2="423.0" y2="433.7" stroke="#a8a8a8" stroke-width="1.3"/>
<line x1="730.3" y1="246.1" x2="730.3" y2="433.7" stroke="#a8a8a8" stroke-width="1.3"/>
<line x1="419.5" y1="433.7" x2="423.0" y2="433.7" stroke="#333" stroke-width="0.8"/>
<text x="417.0" y="437.3" font-size="10.0" fill="#000" text-anchor="end" textLength="15.9" lengthAdjust="spacingAndGlyphs" fill-opacity="0.85">0.2</text>
<line x1="419.5" y1="410.2" x2="423.0" y2="410.2" stroke="#333" stroke-width="0.8"/>
<text x="417.0" y="413.9" font-size="10.0" fill="#000" text-anchor="end" textLength="15.9" lengthAdjust="spacingAndGlyphs" fill-opacity="0.85">0.4</text>
<line x1="419.5" y1="386.8" x2="423.0" y2="386.8" stroke="#333" stroke-width="0.8"/>
<text x="417.0" y="390.4" font-size="10.0" fill="#000" text-anchor="end" textLength="15.9" lengthAdjust="spacingAndGlyphs" fill-opacity="0.85">0.6</text>
<line x1="419.5" y1="363.3" x2="423.0" y2="363.3" stroke="#333" stroke-width="0.8"/>
<text x="417.0" y="366.9" font-size="10.0" fill="#000" text-anchor="end" textLength="15.9" lengthAdjust="spacingAndGlyphs" fill-opacity="0.85">0.8</text>
<line x1="419.5" y1="339.9" x2="423.0" y2="339.9" stroke="#333" stroke-width="0.8"/>
<text x="417.0" y="343.5" font-size="10.0" fill="#000" text-anchor="end" textLength="15.9" lengthAdjust="spacingAndGlyphs" fill-opacity="0.85">1.0</text>
<line x1="419.5" y1="316.4" x2="423.0" y2="316.4" stroke="#333" stroke-width="0.8"/>
<text x="417.0" y="320.1" font-size="10.0" fill="#000" text-anchor="end" textLength="15.9" lengthAdjust="spacingAndGlyphs" fill-opacity="0.85">1.2</text>
<line x1="419.5" y1="293.0" x2="423.0" y2="293.0" stroke="#333" stroke-width="0.8"/>
<text x="417.0" y="296.6" font-size="10.0" fill="#000" text-anchor="end" textLength="15.9" lengthAdjust="spacingAndGlyphs" fill-opacity="0.85">1.4</text>
<line x1="419.5" y1="269.5" x2="423.0" y2="269.5" stroke="#333" stroke-width="0.8"/>
<text x="417.0" y="273.1" font-size="10.0" fill="#000" text-anchor="end" textLength="15.9" lengthAdjust="spacingAndGlyphs" fill-opacity="0.85">1.6</text>
<line x1="419.5" y1="246.1" x2="423.0" y2="246.1" stroke="#333" stroke-width="0.8"/>
<text x="417.0" y="249.7" font-size="10.0" fill="#000" text-anchor="end" textLength="15.9" lengthAdjust="spacingAndGlyphs" fill-opacity="0.85">1.8</text>
<line x1="423.5" y1="433.7" x2="423.5" y2="437.2" stroke="#333" stroke-width="0.8"/>
<text x="423.5" y="446.1" font-size="10.0" fill="#000" text-anchor="middle" textLength="34.6" lengthAdjust="spacingAndGlyphs" fill-opacity="0.85">Mar-15</text>
<line x1="464.9" y1="433.7" x2="464.9" y2="437.2" stroke="#333" stroke-width="0.8"/>
<text x="464.9" y="446.1" font-size="10.0" fill="#000" text-anchor="middle" textLength="33.0" lengthAdjust="spacingAndGlyphs" fill-opacity="0.85">Apr-01</text>
<line x1="499.0" y1="433.7" x2="499.0" y2="437.2" stroke="#333" stroke-width="0.8"/>
<text x="499.0" y="446.1" font-size="10.0" fill="#000" text-anchor="middle" textLength="33.0" lengthAdjust="spacingAndGlyphs" fill-opacity="0.85">Apr-15</text>
<line x1="538.0" y1="433.7" x2="538.0" y2="437.2" stroke="#333" stroke-width="0.8"/>
<text x="538.0" y="446.1" font-size="10.0" fill="#000" text-anchor="middle" textLength="36.8" lengthAdjust="spacingAndGlyphs" fill-opacity="0.85">May-01</text>
<line x1="572.1" y1="433.7" x2="572.1" y2="437.2" stroke="#333" stroke-width="0.8"/>
<text x="572.1" y="446.1" font-size="10.0" fill="#000" text-anchor="middle" textLength="36.8" lengthAdjust="spacingAndGlyphs" fill-opacity="0.85">May-15</text>
<line x1="613.5" y1="433.7" x2="613.5" y2="437.2" stroke="#333" stroke-width="0.8"/>
<text x="613.5" y="446.1" font-size="10.0" fill="#000" text-anchor="middle" textLength="32.0" lengthAdjust="spacingAndGlyphs" fill-opacity="0.85">Jun-01</text>
<line x1="647.6" y1="433.7" x2="647.6" y2="437.2" stroke="#333" stroke-width="0.8"/>
<text x="647.6" y="446.1" font-size="10.0" fill="#000" text-anchor="middle" textLength="32.0" lengthAdjust="spacingAndGlyphs" fill-opacity="0.85">Jun-15</text>
<line x1="686.6" y1="433.7" x2="686.6" y2="437.2" stroke="#333" stroke-width="0.8"/>
<text x="686.6" y="446.1" font-size="10.0" fill="#000" text-anchor="middle" textLength="28.4" lengthAdjust="spacingAndGlyphs" fill-opacity="0.85">Jul-01</text>
<line x1="720.7" y1="433.7" x2="720.7" y2="437.2" stroke="#333" stroke-width="0.8"/>
<text x="720.7" y="446.1" font-size="10.0" fill="#000" text-anchor="middle" textLength="28.4" lengthAdjust="spacingAndGlyphs" fill-opacity="0.85">Jul-15</text>
<line x1="945.5" y1="246.1" x2="945.5" y2="433.7" stroke="#8a8a8a" stroke-width="1.0"/>
<line x1="790.1" y1="339.9" x2="1097.7" y2="339.9" stroke="#888" stroke-width="1.1" stroke-dasharray="4,2"/>
<clipPath id="c1_2"><rect x="790.1" y="246.1" width="307.6" height="187.6"/></clipPath>
<path d="M880.13,280.67 C881.10,279.70 883.91,276.25 885.96,274.85 C888.01,273.44 890.28,272.53 892.43,272.26 C894.59,271.99 896.21,272.36 898.91,273.23 C901.61,274.09 905.38,275.82 908.62,277.44 C911.86,279.05 915.09,281.32 918.33,282.94 C921.57,284.56 924.81,285.53 928.04,287.15 C931.28,288.77 934.79,290.82 937.75,292.65 C940.72,294.48 943.15,296.37 945.85,298.15 C948.55,299.93 951.51,302.90 953.94,303.33 C956.37,303.76 957.72,301.71 960.41,300.74 C963.11,299.77 967.43,299.12 970.13,297.51 C972.82,295.89 974.71,293.46 976.60,291.03 C978.49,288.60 980.11,284.83 981.46,282.94 C982.81,281.05 983.34,279.97 984.69,279.70 C986.04,279.43 987.66,279.43 989.55,281.32 C991.44,283.21 994.14,287.36 996.02,291.03 C997.91,294.70 1000.07,301.28 1000.88,303.33" fill="none" stroke="#1f77b4" stroke-width="1.05" stroke-linejoin="round" clip-path="url(#c1_2)"/>
<line x1="790.1" y1="246.1" x2="1097.7" y2="246.1" stroke="#a8a8a8" stroke-width="1.3"/>
<line x1="790.1" y1="433.7" x2="1097.7" y2="433.7" stroke="#a8a8a8" stroke-width="1.3"/>
<line x1="790.1" y1="246.1" x2="790.1" y2="433.7" stroke="#a8a8a8" stroke-width="1.3"/>
<line x1="1097.7" y1="246.1" x2="1097.7" y2="433.7" stroke="#a8a8a8" stroke-width="1.3"/>
<line x1="786.6" y1="433.7" x2="790.1" y2="433.7" stroke="#333" stroke-width="0.8"/>
<text x="784.1" y="437.3" font-size="10.0" fill="#000" text-anchor="end" textLength="22.3" lengthAdjust="spacingAndGlyphs" fill-opacity="0.85">0.00</text>
<line x1="786.6" y1="410.2" x2="790.1" y2="410.2" stroke="#333" stroke-width="0.8"/>
<text x="784.1" y="413.9" font-size="10.0" fill="#000" text-anchor="end" textLength="22.3" lengthAdjust="spacingAndGlyphs" fill-opacity="0.85">0.25</text>
<line x1="786.6" y1="386.8" x2="790.1" y2="386.8" stroke="#333" stroke-width="0.8"/>
<text x="784.1" y="390.4" font-size="10.0" fill="#000" text-anchor="end" textLength="22.3" lengthAdjust="spacingAndGlyphs" fill-opacity="0.85">0.50</text>
<line x1="786.6" y1="363.4" x2="790.1" y2="363.4" stroke="#333" stroke-width="0.8"/>
<text x="784.1" y="367.0" font-size="10.0" fill="#000" text-anchor="end" textLength="22.3" lengthAdjust="spacingAndGlyphs" fill-opacity="0.85">0.75</text>
<line x1="786.6" y1="339.9" x2="790.1" y2="339.9" stroke="#333" stroke-width="0.8"/>
<text x="784.1" y="343.5" font-size="10.0" fill="#000" text-anchor="end" textLength="22.3" lengthAdjust="spacingAndGlyphs" fill-opacity="0.85">1.00</text>
<line x1="786.6" y1="316.4" x2="790.1" y2="316.4" stroke="#333" stroke-width="0.8"/>
<text x="784.1" y="320.1" font-size="10.0" fill="#000" text-anchor="end" textLength="22.3" lengthAdjust="spacingAndGlyphs" fill-opacity="0.85">1.25</text>
<line x1="786.6" y1="293.0" x2="790.1" y2="293.0" stroke="#333" stroke-width="0.8"/>
<text x="784.1" y="296.6" font-size="10.0" fill="#000" text-anchor="end" textLength="22.3" lengthAdjust="spacingAndGlyphs" fill-opacity="0.85">1.50</text>
<line x1="786.6" y1="269.5" x2="790.1" y2="269.5" stroke="#333" stroke-width="0.8"/>
<text x="784.1" y="273.1" font-size="10.0" fill="#000" text-anchor="end" textLength="22.3" lengthAdjust="spacingAndGlyphs" fill-opacity="0.85">1.75</text>
<line x1="786.6" y1="246.1" x2="790.1" y2="246.1" stroke="#333" stroke-width="0.8"/>
<text x="784.1" y="249.7" font-size="10.0" fill="#000" text-anchor="end" textLength="22.3" lengthAdjust="spacingAndGlyphs" fill-opacity="0.85">2.00</text>
<line x1="793.6" y1="433.7" x2="793.6" y2="437.2" stroke="#333" stroke-width="0.8"/>
<text x="793.6" y="446.1" font-size="10.0" fill="#000" text-anchor="middle" textLength="34.6" lengthAdjust="spacingAndGlyphs" fill-opacity="0.85">Mar-15</text>
<line x1="835.0" y1="433.7" x2="835.0" y2="437.2" stroke="#333" stroke-width="0.8"/>
<text x="835.0" y="446.1" font-size="10.0" fill="#000" text-anchor="middle" textLength="33.0" lengthAdjust="spacingAndGlyphs" fill-opacity="0.85">Apr-01</text>
<line x1="869.1" y1="433.7" x2="869.1" y2="437.2" stroke="#333" stroke-width="0.8"/>
<text x="869.1" y="446.1" font-size="10.0" fill="#000" text-anchor="middle" textLength="33.0" lengthAdjust="spacingAndGlyphs" fill-opacity="0.85">Apr-15</text>
<line x1="908.1" y1="433.7" x2="908.1" y2="437.2" stroke="#333" stroke-width="0.8"/>
<text x="908.1" y="446.1" font-size="10.0" fill="#000" text-anchor="middle" textLength="36.8" lengthAdjust="spacingAndGlyphs" fill-opacity="0.85">May-01</text>
<line x1="942.2" y1="433.7" x2="942.2" y2="437.2" stroke="#333" stroke-width="0.8"/>
<text x="942.2" y="446.1" font-size="10.0" fill="#000" text-anchor="middle" textLength="36.8" lengthAdjust="spacingAndGlyphs" fill-opacity="0.85">May-15</text>
<line x1="983.6" y1="433.7" x2="983.6" y2="437.2" stroke="#333" stroke-width="0.8"/>
<text x="983.6" y="446.1" font-size="10.0" fill="#000" text-anchor="middle" textLength="32.0" lengthAdjust="spacingAndGlyphs" fill-opacity="0.85">Jun-01</text>
<line x1="1017.7" y1="433.7" x2="1017.7" y2="437.2" stroke="#333" stroke-width="0.8"/>
<text x="1017.7" y="446.1" font-size="10.0" fill="#000" text-anchor="middle" textLength="32.0" lengthAdjust="spacingAndGlyphs" fill-opacity="0.85">Jun-15</text>
<line x1="1056.7" y1="433.7" x2="1056.7" y2="437.2" stroke="#333" stroke-width="0.8"/>
<text x="1056.7" y="446.1" font-size="10.0" fill="#000" text-anchor="middle" textLength="28.4" lengthAdjust="spacingAndGlyphs" fill-opacity="0.85">Jul-01</text>
<line x1="1090.8" y1="433.7" x2="1090.8" y2="437.2" stroke="#333" stroke-width="0.8"/>
<text x="1090.8" y="446.1" font-size="10.0" fill="#000" text-anchor="middle" textLength="28.4" lengthAdjust="spacingAndGlyphs" fill-opacity="0.85">Jul-15</text>
<text x="14.7" y="563.0" font-size="17" fill="#000" text-anchor="middle" textLength="221.0" lengthAdjust="spacingAndGlyphs" transform="rotate(-90 14.7 563.0)">Yorkshire and The Humber</text>
<line x1="207.3" y1="472.0" x2="207.3" y2="659.6" stroke="#b8b8b8" stroke-width="1.4"/>
<clipPath id="c2_0"><rect x="54.2" y="472.0" width="307.0" height="187.6"/></clipPath>
<polyline points="55.0,650.7 56.5,650.7 58.0,650.7 59.5,650.7 61.0,650.7 62.5,650.7 64.0,650.7 65.5,650.7 67.0,650.7 68.5,650.7 70.0,650.7 71.5,650.7 73.0,650.7 74.5,650.7 76.0,650.7 77.5,650.7 79.0,650.7 80.5,650.7 82.0,650.7 83.5,650.7 85.0,650.7 86.5,650.7 88.0,650.7 89.5,650.7 91.0,650.7 92.5,650.7 94.0,650.7 95.5,650.7 97.0,650.7 98.5,650.7 100.0,650.7 101.5,650.7 103.0,650.7 104.5,650.7 106.0,650.7 107.5,650.7 109.0,650.7 110.5,650.7 112.0,650.7 113.5,650.7 115.0,650.7 116.5,650.7 118.0,650.7 119.5,650.7 121.0,650.7 122.5,650.7 124.0,650.7 125.5,650.7 127.0,650.7 128.5,650.7 130.0,650.7 131.5,650.7 133.0,650.7 134.5,650.7 136.0,650.7 137.5,650.7 139.0,650.7 140.5,650.7 142.0,650.7 143.5,650.6 145.0,650.6 146.5,650.6 148.0,650.6 149.5,650.6 151.0,650.6 152.5,650.6 154.0,650.6 155.5,650.6 157.0,650.6 158.5,650.6 160.0,650.6 161.5,650.6 163.0,650.6 164.5,650.6 166.0,650.6 167.5,650.6 169.0,650.6 170.5,650.6 172.0,650.6 173.5,650.6 175.0,650.6 176.5,650.6 178.0,650.6 179.5,650.6 181.0,650.5 182.5,650.5 184.0,650.5 185.5,650.5 187.0,650.5 188.5,650.4 190.0,650.4 191.5,650.4 193.0,650.4 194.5,650.3 196.0,650.3 197.5,650.2 199.0,650.1 200.5,650.0 202.0,649.9 203.5,649.9 205.0,649.8 206.5,649.6 208.0,649.3 209.5,649.2 211.0,649.1" fill="none" stroke="#1f77b4" stroke-width="1.7" stroke-linejoin="round" clip-path="url(#c2_0)"/>
<polyline points="209.5,649.2 211.0,649.1 212.5,649.0 214.0,648.8 215.5,648.6 217.0,648.3 218.5,648.1 220.0,647.9 221.5,648.0 223.0,647.9 224.5,647.8 226.0,647.6 227.5,647.3 229.0,647.2 230.5,647.1 232.0,647.1 233.5,646.6 235.0,645.9 236.5,645.5 238.0,645.1 239.5,644.7 241.0,643.8 242.5,642.9 244.0,642.4 245.5,641.9 247.0,641.2 248.5,640.5 250.0,639.1 251.5,637.8 253.0,636.7 254.5,635.6 256.0,634.3 257.5,633.1 259.0,632.6 260.5,632.3 262.0,632.6 263.5,633.1 265.0,633.4 266.5,632.0 268.0,629.5 269.5,628.7 271.0,628.7 272.5,628.6 274.0,627.3 275.5,625.8 277.0,624.2 278.5,623.0 280.0,621.8 281.5,620.6 283.0,620.4 284.5,620.3 286.0,620.0 287.5,618.5 289.0,616.4 290.5,611.9 292.0,608.6 293.5,607.8 295.0,607.0 296.5,605.3 298.0,602.5 299.5,599.8 301.0,597.1 302.5,594.3 304.0,589.1 305.5,582.3 307.0,578.7 308.5,576.4 310.0,574.1 311.5,570.3 313.0,566.1 314.5,560.9 316.0,555.7 317.5,552.6 319.0,549.3 320.5,541.8 322.0,535.0 323.5,533.0 325.0,531.0 326.5,528.7 328.0,525.3 329.5,521.0 331.0,514.6 332.5,510.2 334.0,509.0 335.5,507.7 337.0,507.4 338.5,507.9 340.0,508.4 341.5,509.3 343.0,510.5 344.5,510.9 346.0,508.5 347.5,506.1 349.0,499.9 350.5,492.8 352.0,490.0 353.5,487.7 355.0,486.2 356.5,484.7 358.0,482.3 359.5,479.9 360.1,479.0" fill="none" stroke="#1f77b4" stroke-width="1.15" stroke-linejoin="round" clip-path="url(#c2_0)"/>
<polyline points="55.0,626.9 56.5,627.9 58.0,627.8 59.5,626.9 61.0,625.9 62.5,625.0 64.0,624.7 65.5,624.7 67.0,624.7 68.5,624.7 70.0,624.7 71.5,624.2 73.0,623.6 74.5,623.0 76.0,623.0 77.5,623.0 79.0,623.2 80.5,624.8 82.0,626.5 83.5,626.2 85.0,625.3 86.5,624.7 88.0,624.4 89.5,624.2 91.0,623.6 92.5,622.7 94.0,621.7 95.5,620.8 97.0,620.7 98.5,621.2 100.0,621.7 101.5,621.9 103.0,621.9 104.5,621.9 106.0,622.3 107.5,622.8 109.0,623.3 110.5,623.2 112.0,623.2 113.5,623.1 115.0,623.2 116.5,625.3 118.0,627.4 119.5,629.2 121.0,630.0 122.5,630.7 124.0,631.5 125.5,632.4 127.0,633.6 128.5,634.8 130.0,636.4 131.5,638.1 133.0,638.9 134.5,639.0 136.0,639.0 137.5,639.1 139.0,639.5 140.5,640.0 142.0,640.5 143.5,640.0 145.0,639.3 146.5,638.5 148.0,637.8 149.5,638.1 151.0,638.5 152.5,638.9 154.0,639.2 155.5,638.8 157.0,638.4 158.5,638.1 160.0,637.9 161.5,638.3 163.0,638.6 164.5,639.0 166.0,639.4 167.5,640.0 169.0,640.5 170.5,641.1 172.0,641.8 173.5,642.6 175.0,643.1 176.5,643.5 178.0,643.9 179.5,644.2 181.0,643.9 182.5,643.5 184.0,643.0 185.5,642.6 187.0,642.3 188.5,641.9 190.0,641.6 191.5,641.4 193.0,641.2 194.5,641.1 196.0,640.9 197.5,640.6 199.0,640.3 200.5,640.0 202.0,639.8 203.5,639.5 205.0,638.4 210.8,637.7 215.1,637.4 219.4,639.9 223.8,642.0 229.5,643.7 233.9,644.9 239.6,644.6 244.0,643.7 248.3,644.2 255.5,644.2 259.8,645.6 265.6,647.1 272.8,648.5 280.0,648.9 291.6,649.2 297.3,650.4 306.0,650.4 360.1,650.4" fill="none" stroke="#ff7f0e" stroke-width="1.1" stroke-linejoin="round" clip-path="url(#c2_0)"/>
<polyline points="55.0,626.9 57.2,628.3 63.0,624.7 70.2,624.7 74.5,623.0 78.9,623.0 82.5,626.9 86.1,624.7 90.4,624.0 96.2,620.4 100.5,621.8 104.8,621.8 109.2,623.3 114.9,623.0 119.3,629.0 125.0,631.9 128.6,634.8 132.2,638.8 138.0,639.1 142.3,640.6 148.1,637.7 153.9,639.1 159.6,637.7 165.4,639.1 169.7,640.6 174.1,642.7 179.8,644.2 184.2,642.7 189.9,641.3 195.7,640.6 201.5,639.1 205.0,638.4 207.9,636.2 213.7,636.0 219.4,636.2 223.8,639.1 228.1,639.9 232.4,641.3 235.3,639.1 239.6,638.8 242.5,636.2 248.3,634.1 252.6,630.5 256.9,626.9 261.3,626.9 265.6,630.5 268.5,625.4 272.8,626.1 277.1,621.8 281.5,618.6 285.8,618.6 288.7,616.0 291.6,607.4 295.9,605.7 300.2,598.0 303.1,593.0 306.0,580.0 310.3,573.5 313.2,565.5 316.1,555.4 319.0,549.7 321.9,535.3 326.2,529.5 329.1,523.0 332.0,510.7 336.3,507.1 340.6,508.6 344.2,511.4 347.8,505.7 350.7,492.0 353.6,487.6 356.5,484.8 360.1,479.0" fill="none" stroke="#2ca02c" stroke-width="1.1" stroke-linejoin="round" clip-path="url(#c2_0)"/>
<line x1="54.2" y1="472.0" x2="361.2" y2="472.0" stroke="#1a1a1a" stroke-width="1.8"/>
<line x1="54.2" y1="659.6" x2="361.2" y2="659.6" stroke="#111" stroke-width="1.6"/>
<line x1="54.2" y1="472.0" x2="54.2" y2="659.6" stroke="#111" stroke-width="1.6"/>
<line x1="361.2" y1="472.0" x2="361.2" y2="659.6" stroke="#d62728" stroke-width="1.6"/>
<clipPath id="c2_0r"><rect x="54.2" y="471.0" width="307.0" height="189.6"/></clipPath>
<polyline points="55.0,659.3 136.6,659.3 143.8,658.6 165.4,657.9 172.6,657.2 179.8,655.7 187.1,654.3 194.3,652.8 201.5,647.8 205.0,645.6 209.3,640.6 213.7,636.2 216.5,630.5 219.4,623.3 222.3,618.9 225.2,610.3 228.1,600.2 231.0,591.5 233.9,584.3 236.7,575.6 239.6,564.1 242.5,558.3 245.4,554.0 248.3,546.8 251.2,535.3 255.5,528.0 258.4,517.9 262.7,512.2 265.6,500.6 269.9,494.9 274.3,489.1 278.6,486.2 282.9,482.6 288.7,479.7 293.0,477.5 297.3,474.7 303.1,473.2 308.9,472.5 317.5,472.1 334.8,471.8 360.1,471.5" fill="none" stroke="#ff0000" stroke-width="1.15" stroke-linejoin="round" stroke-dasharray="3.5,2.2" clip-path="url(#c2_0r)"/>
<line x1="50.7" y1="650.7" x2="54.2" y2="650.7" stroke="#333" stroke-width="0.8"/>
<text x="48.2" y="654.3" font-size="10.0" fill="#000" text-anchor="end" textLength="6.4" lengthAdjust="spacingAndGlyphs" fill-opacity="0.85">0</text>
<line x1="50.7" y1="620.9" x2="54.2" y2="620.9" stroke="#333" stroke-width="0.8"/>
<text x="48.2" y="624.5" font-size="10.0" fill="#000" text-anchor="end" textLength="25.4" lengthAdjust="spacingAndGlyphs" fill-opacity="0.85">1000</text>
<line x1="50.7" y1="591.0" x2="54.2" y2="591.0" stroke="#333" stroke-width="0.8"/>
<text x="48.2" y="594.6" font-size="10.0" fill="#000" text-anchor="end" textLength="25.4" lengthAdjust="spacingAndGlyphs" fill-opacity="0.85">2000</text>
<line x1="50.7" y1="561.2" x2="54.2" y2="561.2" stroke="#333" stroke-width="0.8"/>
<text x="48.2" y="564.8" font-size="10.0" fill="#000" text-anchor="end" textLength="25.4" lengthAdjust="spacingAndGlyphs" fill-opacity="0.85">3000</text>
<line x1="50.7" y1="531.3" x2="54.2" y2="531.3" stroke="#333" stroke-width="0.8"/>
<text x="48.2" y="534.9" font-size="10.0" fill="#000" text-anchor="end" textLength="25.4" lengthAdjust="spacingAndGlyphs" fill-opacity="0.85">4000</text>
<line x1="50.7" y1="501.5" x2="54.2" y2="501.5" stroke="#333" stroke-width="0.8"/>
<text x="48.2" y="505.1" font-size="10.0" fill="#000" text-anchor="end" textLength="25.4" lengthAdjust="spacingAndGlyphs" fill-opacity="0.85">5000</text>
<line x1="50.7" y1="471.7" x2="54.2" y2="471.7" stroke="#333" stroke-width="0.8"/>
<text x="48.2" y="475.3" font-size="10.0" fill="#000" text-anchor="end" textLength="25.4" lengthAdjust="spacingAndGlyphs" fill-opacity="0.85">6000</text>
<line x1="361.2" y1="659.6" x2="364.7" y2="659.6" stroke="#ff0000" stroke-width="0.8"/>
<text x="366.2" y="661.8" font-size="6.0" fill="#ff0000" text-anchor="start" textLength="9.5" lengthAdjust="spacingAndGlyphs" fill-opacity="0.9">0.0</text>
<line x1="361.2" y1="622.1" x2="364.7" y2="622.1" stroke="#ff0000" stroke-width="0.8"/>
<text x="366.2" y="624.2" font-size="6.0" fill="#ff0000" text-anchor="start" textLength="9.5" lengthAdjust="spacingAndGlyphs" fill-opacity="0.9">0.2</text>
<line x1="361.2" y1="584.6" x2="364.7" y2="584.6" stroke="#ff0000" stroke-width="0.8"/>
<text x="366.2" y="586.7" font-size="6.0" fill="#ff0000" text-anchor="start" textLength="9.5" lengthAdjust="spacingAndGlyphs" fill-opacity="0.9">0.4</text>
<line x1="361.2" y1="547.0" x2="364.7" y2="547.0" stroke="#ff0000" stroke-width="0.8"/>
<text x="366.2" y="549.2" font-size="6.0" fill="#ff0000" text-anchor="start" textLength="9.5" lengthAdjust="spacingAndGlyphs" fill-opacity="0.9">0.6</text>
<line x1="361.2" y1="509.5" x2="364.7" y2="509.5" stroke="#ff0000" stroke-width="0.8"/>
<text x="366.2" y="511.7" font-size="6.0" fill="#ff0000" text-anchor="start" textLength="9.5" lengthAdjust="spacingAndGlyphs" fill-opacity="0.9">0.8</text>
<line x1="361.2" y1="472.0" x2="364.7" y2="472.0" stroke="#ff0000" stroke-width="0.8"/>
<text x="366.2" y="474.2" font-size="6.0" fill="#ff0000" text-anchor="start" textLength="9.5" lengthAdjust="spacingAndGlyphs" fill-opacity="0.9">1.0</text>
<line x1="55.7" y1="659.6" x2="55.7" y2="663.1" stroke="#333" stroke-width="0.8"/>
<text x="55.7" y="672.0" font-size="10.0" fill="#000" text-anchor="middle" textLength="34.6" lengthAdjust="spacingAndGlyphs" fill-opacity="0.85">Mar-15</text>
<line x1="97.1" y1="659.6" x2="97.1" y2="663.1" stroke="#333" stroke-width="0.8"/>
<text x="97.1" y="672.0" font-size="10.0" fill="#000" text-anchor="middle" textLength="33.0" lengthAdjust="spacingAndGlyphs" fill-opacity="0.85">Apr-01</text>
<line x1="131.2" y1="659.6" x2="131.2" y2="663.1" stroke="#333" stroke-width="0.8"/>
<text x="131.2" y="672.0" font-size="10.0" fill="#000" text-anchor="middle" textLength="33.0" lengthAdjust="spacingAndGlyphs" fill-opacity="0.85">Apr-15</text>
<line x1="170.2" y1="659.6" x2="170.2" y2="663.1" stroke="#333" stroke-width="0.8"/>
<text x="170.2" y="672.0" font-size="10.0" fill="#000" text-anchor="middle" textLength="36.8" lengthAdjust="spacingAndGlyphs" fill-opacity="0.85">May-01</text>
<line x1="204.3" y1="659.6" x2="204.3" y2="663.1" stroke="#333" stroke-width="0.8"/>
<text x="204.3" y="672.0" font-size="10.0" fill="#000" text-anchor="middle" textLength="36.8" lengthAdjust="spacingAndGlyphs" fill-opacity="0.85">May-15</text>
<line x1="245.7" y1="659.6" x2="245.7" y2="663.1" stroke="#333" stroke-width="0.8"/>
<text x="245.7" y="672.0" font-size="10.0" fill="#000" text-anchor="middle" textLength="32.0" lengthAdjust="spacingAndGlyphs" fill-opacity="0.85">Jun-01</text>
<line x1="279.8" y1="659.6" x2="279.8" y2="663.1" stroke="#333" stroke-width="0.8"/>
<text x="279.8" y="672.0" font-size="10.0" fill="#000" text-anchor="middle" textLength="32.0" lengthAdjust="spacingAndGlyphs" fill-opacity="0.85">Jun-15</text>
<line x1="318.8" y1="659.6" x2="318.8" y2="663.1" stroke="#333" stroke-width="0.8"/>
<text x="318.8" y="672.0" font-size="10.0" fill="#000" text-anchor="middle" textLength="28.4" lengthAdjust="spacingAndGlyphs" fill-opacity="0.85">Jul-01</text>
<line x1="352.9" y1="659.6" x2="352.9" y2="663.1" stroke="#333" stroke-width="0.8"/>
<text x="352.9" y="672.0" font-size="10.0" fill="#000" text-anchor="middle" textLength="28.4" lengthAdjust="spacingAndGlyphs" fill-opacity="0.85">Jul-15</text>
<text x="389.0" y="565.8" font-size="12" fill="#ff0000" text-anchor="middle" textLength="146.8" lengthAdjust="spacingAndGlyphs" transform="rotate(-90 389.0 565.8)">Percentage new variant</text>
<line x1="576.6" y1="472.0" x2="576.6" y2="659.6" stroke="#8a8a8a" stroke-width="1.0"/>
<line x1="423.0" y1="565.8" x2="730.3" y2="565.8" stroke="#888" stroke-width="1.1" stroke-dasharray="4,2"/>
<clipPath id="c2_1"><rect x="423.0" y="472.0" width="307.3" height="187.6"/></clipPath>
<path d="M564.38,509.07 C566.11,509.07 572.23,508.91 574.77,509.07 C577.31,509.23 577.48,509.61 579.64,510.04 C581.80,510.48 584.78,511.13 587.75,511.67 C590.73,512.21 594.25,513.18 597.49,513.29 C600.74,513.40 604.53,512.21 607.23,512.32 C609.94,512.42 611.29,513.02 613.72,513.94 C616.16,514.86 619.13,515.94 621.84,517.83 C624.54,519.73 627.52,522.81 629.95,525.30 C632.39,527.79 634.55,531.14 636.45,532.77 C638.34,534.39 639.15,534.66 641.32,535.04 C643.48,535.42 647.00,535.20 649.43,535.04 C651.87,534.88 653.76,534.44 655.92,534.06 C658.09,533.69 661.33,532.98 662.42,532.77" fill="none" stroke="#1f77b4" stroke-width="1.05" stroke-linejoin="round" clip-path="url(#c2_1)"/>
<path d="M564.38,551.27 C565.30,551.00 567.90,549.81 569.90,549.65 C571.90,549.48 574.50,548.94 576.39,550.30 C578.29,551.65 579.37,553.81 581.26,557.76 C583.16,561.71 585.59,568.58 587.75,573.99 C589.92,579.40 592.35,586.60 594.25,590.22 C596.14,593.85 597.49,596.01 599.12,595.74 C600.74,595.47 602.36,591.52 603.99,588.60 C605.61,585.68 607.23,580.76 608.85,578.21 C610.48,575.67 611.83,574.05 613.72,573.34 C615.62,572.64 618.32,572.80 620.22,573.99 C622.11,575.18 623.46,577.51 625.09,580.49 C626.71,583.46 628.33,588.33 629.95,591.85 C631.58,595.36 633.20,599.53 634.82,601.59 C636.45,603.64 637.80,604.45 639.69,604.18 C641.59,603.91 644.02,601.04 646.19,599.96 C648.35,598.88 649.97,598.07 652.68,597.69 C655.38,597.31 660.79,597.69 662.42,597.69" fill="none" stroke="#ff7f0e" stroke-width="1.05" stroke-linejoin="round" clip-path="url(#c2_1)"/>
<line x1="423.0" y1="472.0" x2="730.3" y2="472.0" stroke="#1a1a1a" stroke-width="1.8"/>
<line x1="423.0" y1="659.6" x2="730.3" y2="659.6" stroke="#1a1a1a" stroke-width="1.8"/>
<line x1="423.0" y1="472.0" x2="423.0" y2="659.6" stroke="#a8a8a8" stroke-width="1.3"/>
<line x1="730.3" y1="472.0" x2="730.3" y2="659.6" stroke="#a8a8a8" stroke-width="1.3"/>
<line x1="419.5" y1="659.6" x2="423.0" y2="659.6" stroke="#333" stroke-width="0.8"/>
<text x="417.0" y="663.2" font-size="10.0" fill="#000" text-anchor="end" textLength="15.9" lengthAdjust="spacingAndGlyphs" fill-opacity="0.85">0.2</text>
<line x1="419.5" y1="636.2" x2="423.0" y2="636.2" stroke="#333" stroke-width="0.8"/>
<text x="417.0" y="639.8" font-size="10.0" fill="#000" text-anchor="end" textLength="15.9" lengthAdjust="spacingAndGlyphs" fill-opacity="0.85">0.4</text>
<line x1="419.5" y1="612.7" x2="423.0" y2="612.7" stroke="#333" stroke-width="0.8"/>
<text x="417.0" y="616.3" font-size="10.0" fill="#000" text-anchor="end" textLength="15.9" lengthAdjust="spacingAndGlyphs" fill-opacity="0.85">0.6</text>
<line x1="419.5" y1="589.2" x2="423.0" y2="589.2" stroke="#333" stroke-width="0.8"/>
<text x="417.0" y="592.9" font-size="10.0" fill="#000" text-anchor="end" textLength="15.9" lengthAdjust="spacingAndGlyphs" fill-opacity="0.85">0.8</text>
<line x1="419.5" y1="565.8" x2="423.0" y2="565.8" stroke="#333" stroke-width="0.8"/>
<text x="417.0" y="569.4" font-size="10.0" fill="#000" text-anchor="end" textLength="15.9" lengthAdjust="spacingAndGlyphs" fill-opacity="0.85">1.0</text>
<line x1="419.5" y1="542.4" x2="423.0" y2="542.4" stroke="#333" stroke-width="0.8"/>
<text x="417.0" y="546.0" font-size="10.0" fill="#000" text-anchor="end" textLength="15.9" lengthAdjust="spacingAndGlyphs" fill-opacity="0.85">1.2</text>
<line x1="419.5" y1="518.9" x2="423.0" y2="518.9" stroke="#333" stroke-width="0.8"/>
<text x="417.0" y="522.5" font-size="10.0" fill="#000" text-anchor="end" textLength="15.9" lengthAdjust="spacingAndGlyphs" fill-opacity="0.85">1.4</text>
<line x1="419.5" y1="495.5" x2="423.0" y2="495.5" stroke="#333" stroke-width="0.8"/>
<text x="417.0" y="499.1" font-size="10.0" fill="#000" text-anchor="end" textLength="15.9" lengthAdjust="spacingAndGlyphs" fill-opacity="0.85">1.6</text>
<line x1="419.5" y1="472.0" x2="423.0" y2="472.0" stroke="#333" stroke-width="0.8"/>
<text x="417.0" y="475.6" font-size="10.0" fill="#000" text-anchor="end" textLength="15.9" lengthAdjust="spacingAndGlyphs" fill-opacity="0.85">1.8</text>
<line x1="423.5" y1="659.6" x2="423.5" y2="663.1" stroke="#333" stroke-width="0.8"/>
<text x="423.5" y="672.0" font-size="10.0" fill="#000" text-anchor="middle" textLength="34.6" lengthAdjust="spacingAndGlyphs" fill-opacity="0.85">Mar-15</text>
<line x1="464.9" y1="659.6" x2="464.9" y2="663.1" stroke="#333" stroke-width="0.8"/>
<text x="464.9" y="672.0" font-size="10.0" fill="#000" text-anchor="middle" textLength="33.0" lengthAdjust="spacingAndGlyphs" fill-opacity="0.85">Apr-01</text>
<line x1="499.0" y1="659.6" x2="499.0" y2="663.1" stroke="#333" stroke-width="0.8"/>
<text x="499.0" y="672.0" font-size="10.0" fill="#000" text-anchor="middle" textLength="33.0" lengthAdjust="spacingAndGlyphs" fill-opacity="0.85">Apr-15</text>
<line x1="538.0" y1="659.6" x2="538.0" y2="663.1" stroke="#333" stroke-width="0.8"/>
<text x="538.0" y="672.0" font-size="10.0" fill="#000" text-anchor="middle" textLength="36.8" lengthAdjust="spacingAndGlyphs" fill-opacity="0.85">May-01</text>
<line x1="572.1" y1="659.6" x2="572.1" y2="663.1" stroke="#333" stroke-width="0.8"/>
<text x="572.1" y="672.0" font-size="10.0" fill="#000" text-anchor="middle" textLength="36.8" lengthAdjust="spacingAndGlyphs" fill-opacity="0.85">May-15</text>
<line x1="613.5" y1="659.6" x2="613.5" y2="663.1" stroke="#333" stroke-width="0.8"/>
<text x="613.5" y="672.0" font-size="10.0" fill="#000" text-anchor="middle" textLength="32.0" lengthAdjust="spacingAndGlyphs" fill-opacity="0.85">Jun-01</text>
<line x1="647.6" y1="659.6" x2="647.6" y2="663.1" stroke="#333" stroke-width="0.8"/>
<text x="647.6" y="672.0" font-size="10.0" fill="#000" text-anchor="middle" textLength="32.0" lengthAdjust="spacingAndGlyphs" fill-opacity="0.85">Jun-15</text>
<line x1="686.6" y1="659.6" x2="686.6" y2="663.1" stroke="#333" stroke-width="0.8"/>
<text x="686.6" y="672.0" font-size="10.0" fill="#000" text-anchor="middle" textLength="28.4" lengthAdjust="spacingAndGlyphs" fill-opacity="0.85">Jul-01</text>
<line x1="720.7" y1="659.6" x2="720.7" y2="663.1" stroke="#333" stroke-width="0.8"/>
<text x="720.7" y="672.0" font-size="10.0" fill="#000" text-anchor="middle" textLength="28.4" lengthAdjust="spacingAndGlyphs" fill-opacity="0.85">Jul-15</text>
<line x1="945.5" y1="472.0" x2="945.5" y2="659.6" stroke="#8a8a8a" stroke-width="1.0"/>
<line x1="790.1" y1="565.8" x2="1097.7" y2="565.8" stroke="#888" stroke-width="1.1" stroke-dasharray="4,2"/>
<clipPath id="c2_2"><rect x="790.1" y="472.0" width="307.6" height="187.6"/></clipPath>
<path d="M931.93,534.84 C932.90,535.11 935.97,536.29 937.75,536.45 C939.54,536.62 941.26,535.81 942.61,535.81 C943.96,535.81 944.50,537.43 945.85,536.45 C947.20,535.48 949.08,533.22 950.70,529.98 C952.32,526.74 953.94,522.43 955.56,517.03 C957.18,511.64 958.96,503.54 960.41,497.61 C961.87,491.67 963.11,485.47 964.30,481.42 C965.49,477.38 966.57,474.14 967.54,473.33 C968.51,472.52 969.16,474.14 970.13,476.57 C971.10,479.00 972.01,483.31 973.36,487.90 C974.71,492.48 976.60,499.77 978.22,504.08 C979.84,508.40 981.46,511.64 983.07,513.79 C984.69,515.95 986.31,517.14 987.93,517.03 C989.55,516.92 991.17,515.84 992.79,513.15 C994.40,510.45 996.02,505.32 997.64,500.85 C999.26,496.37 1001.15,489.79 1002.50,486.28 C1003.85,482.77 1004.39,480.34 1005.73,479.80 C1007.08,479.26 1008.97,481.69 1010.59,483.04 C1012.21,484.39 1013.83,486.01 1015.45,487.90 C1017.06,489.79 1018.95,493.02 1020.30,494.37 C1021.65,495.72 1022.19,496.26 1023.54,495.99 C1024.89,495.72 1027.15,493.56 1028.39,492.75 C1029.64,491.94 1030.55,491.40 1030.98,491.13" fill="none" stroke="#1f77b4" stroke-width="1.05" stroke-linejoin="round" clip-path="url(#c2_2)"/>
<line x1="790.1" y1="472.0" x2="1097.7" y2="472.0" stroke="#1a1a1a" stroke-width="1.8"/>
<line x1="790.1" y1="659.6" x2="1097.7" y2="659.6" stroke="#1a1a1a" stroke-width="1.8"/>
<line x1="790.1" y1="472.0" x2="790.1" y2="659.6" stroke="#a8a8a8" stroke-width="1.3"/>
<line x1="1097.7" y1="472.0" x2="1097.7" y2="659.6" stroke="#a8a8a8" stroke-width="1.3"/>
<line x1="786.6" y1="659.6" x2="790.1" y2="659.6" stroke="#333" stroke-width="0.8"/>
<text x="784.1" y="663.2" font-size="10.0" fill="#000" text-anchor="end" textLength="22.3" lengthAdjust="spacingAndGlyphs" fill-opacity="0.85">0.00</text>
<line x1="786.6" y1="636.1" x2="790.1" y2="636.1" stroke="#333" stroke-width="0.8"/>
<text x="784.1" y="639.8" font-size="10.0" fill="#000" text-anchor="end" textLength="22.3" lengthAdjust="spacingAndGlyphs" fill-opacity="0.85">0.25</text>
<line x1="786.6" y1="612.7" x2="790.1" y2="612.7" stroke="#333" stroke-width="0.8"/>
<text x="784.1" y="616.3" font-size="10.0" fill="#000" text-anchor="end" textLength="22.3" lengthAdjust="spacingAndGlyphs" fill-opacity="0.85">0.50</text>
<line x1="786.6" y1="589.2" x2="790.1" y2="589.2" stroke="#333" stroke-width="0.8"/>
<text x="784.1" y="592.9" font-size="10.0" fill="#000" text-anchor="end" textLength="22.3" lengthAdjust="spacingAndGlyphs" fill-opacity="0.85">0.75</text>
<line x1="786.6" y1="565.8" x2="790.1" y2="565.8" stroke="#333" stroke-width="0.8"/>
<text x="784.1" y="569.4" font-size="10.0" fill="#000" text-anchor="end" textLength="22.3" lengthAdjust="spacingAndGlyphs" fill-opacity="0.85">1.00</text>
<line x1="786.6" y1="542.4" x2="790.1" y2="542.4" stroke="#333" stroke-width="0.8"/>
<text x="784.1" y="546.0" font-size="10.0" fill="#000" text-anchor="end" textLength="22.3" lengthAdjust="spacingAndGlyphs" fill-opacity="0.85">1.25</text>
<line x1="786.6" y1="518.9" x2="790.1" y2="518.9" stroke="#333" stroke-width="0.8"/>
<text x="784.1" y="522.5" font-size="10.0" fill="#000" text-anchor="end" textLength="22.3" lengthAdjust="spacingAndGlyphs" fill-opacity="0.85">1.50</text>
<line x1="786.6" y1="495.4" x2="790.1" y2="495.4" stroke="#333" stroke-width="0.8"/>
<text x="784.1" y="499.1" font-size="10.0" fill="#000" text-anchor="end" textLength="22.3" lengthAdjust="spacingAndGlyphs" fill-opacity="0.85">1.75</text>
<line x1="786.6" y1="472.0" x2="790.1" y2="472.0" stroke="#333" stroke-width="0.8"/>
<text x="784.1" y="475.6" font-size="10.0" fill="#000" text-anchor="end" textLength="22.3" lengthAdjust="spacingAndGlyphs" fill-opacity="0.85">2.00</text>
<line x1="793.6" y1="659.6" x2="793.6" y2="663.1" stroke="#333" stroke-width="0.8"/>
<text x="793.6" y="672.0" font-size="10.0" fill="#000" text-anchor="middle" textLength="34.6" lengthAdjust="spacingAndGlyphs" fill-opacity="0.85">Mar-15</text>
<line x1="835.0" y1="659.6" x2="835.0" y2="663.1" stroke="#333" stroke-width="0.8"/>
<text x="835.0" y="672.0" font-size="10.0" fill="#000" text-anchor="middle" textLength="33.0" lengthAdjust="spacingAndGlyphs" fill-opacity="0.85">Apr-01</text>
<line x1="869.1" y1="659.6" x2="869.1" y2="663.1" stroke="#333" stroke-width="0.8"/>
<text x="869.1" y="672.0" font-size="10.0" fill="#000" text-anchor="middle" textLength="33.0" lengthAdjust="spacingAndGlyphs" fill-opacity="0.85">Apr-15</text>
<line x1="908.1" y1="659.6" x2="908.1" y2="663.1" stroke="#333" stroke-width="0.8"/>
<text x="908.1" y="672.0" font-size="10.0" fill="#000" text-anchor="middle" textLength="36.8" lengthAdjust="spacingAndGlyphs" fill-opacity="0.85">May-01</text>
<line x1="942.2" y1="659.6" x2="942.2" y2="663.1" stroke="#333" stroke-width="0.8"/>
<text x="942.2" y="672.0" font-size="10.0" fill="#000" text-anchor="middle" textLength="36.8" lengthAdjust="spacingAndGlyphs" fill-opacity="0.85">May-15</text>
<line x1="983.6" y1="659.6" x2="983.6" y2="663.1" stroke="#333" stroke-width="0.8"/>
<text x="983.6" y="672.0" font-size="10.0" fill="#000" text-anchor="middle" textLength="32.0" lengthAdjust="spacingAndGlyphs" fill-opacity="0.85">Jun-01</text>
<line x1="1017.7" y1="659.6" x2="1017.7" y2="663.1" stroke="#333" stroke-width="0.8"/>
<text x="1017.7" y="672.0" font-size="10.0" fill="#000" text-anchor="middle" textLength="32.0" lengthAdjust="spacingAndGlyphs" fill-opacity="0.85">Jun-15</text>
<line x1="1056.7" y1="659.6" x2="1056.7" y2="663.1" stroke="#333" stroke-width="0.8"/>
<text x="1056.7" y="672.0" font-size="10.0" fill="#000" text-anchor="middle" textLength="28.4" lengthAdjust="spacingAndGlyphs" fill-opacity="0.85">Jul-01</text>
<line x1="1090.8" y1="659.6" x2="1090.8" y2="663.1" stroke="#333" stroke-width="0.8"/>
<text x="1090.8" y="672.0" font-size="10.0" fill="#000" text-anchor="middle" textLength="28.4" lengthAdjust="spacingAndGlyphs" fill-opacity="0.85">Jul-15</text>
<text x="24.5" y="791.7" font-size="17" fill="#000" text-anchor="middle" textLength="117.8" lengthAdjust="spacingAndGlyphs" transform="rotate(-90 24.5 791.7)">East Midlands</text>
<line x1="207.3" y1="697.9" x2="207.3" y2="885.5" stroke="#b8b8b8" stroke-width="1.4"/>
<clipPath id="c3_0"><rect x="54.2" y="697.9" width="307.0" height="187.6"/></clipPath>
<polyline points="55.0,877.0 56.5,877.0 58.0,877.0 59.5,877.0 61.0,877.0 62.5,877.0 64.0,877.0 65.5,877.0 67.0,877.0 68.5,877.0 70.0,877.0 71.5,877.0 73.0,877.0 74.5,877.0 76.0,877.0 77.5,877.0 79.0,877.0 80.5,877.0 82.0,877.0 83.5,877.0 85.0,877.0 86.5,877.0 88.0,877.0 89.5,877.0 91.0,877.0 92.5,877.0 94.0,877.0 95.5,877.0 97.0,877.0 98.5,877.0 100.0,877.0 101.5,877.0 103.0,877.0 104.5,877.0 106.0,877.0 107.5,877.0 109.0,877.0 110.5,877.0 112.0,877.0 113.5,877.0 115.0,877.0 116.5,877.0 118.0,877.0 119.5,877.0 121.0,877.0 122.5,877.0 124.0,877.0 125.5,877.0 127.0,877.0 128.5,877.0 130.0,877.0 131.5,877.0 133.0,877.0 134.5,877.0 136.0,876.9 137.5,876.9 139.0,876.8 140.5,876.7 142.0,876.6 143.5,876.5 145.0,876.4 146.5,876.3 148.0,876.3 149.5,876.3 151.0,876.3 152.5,876.3 154.0,876.4 155.5,876.3 157.0,876.3 158.5,876.3 160.0,876.3 161.5,876.3 163.0,876.2 164.5,876.2 166.0,876.2 167.5,876.1 169.0,876.1 170.5,876.1 172.0,876.1 173.5,876.2 175.0,876.3 176.5,876.4 178.0,876.4 179.5,876.3 181.0,876.3 182.5,876.2 184.0,876.2 185.5,876.2 187.0,876.2 188.5,876.2 190.0,876.0 191.5,875.9 193.0,875.8 194.5,875.7 196.0,875.7 197.5,875.6 199.0,875.4" fill="none" stroke="#1f77b4" stroke-width="1.7" stroke-linejoin="round" clip-path="url(#c3_0)"/>
<polyline points="197.5,875.6 199.0,875.4 200.5,875.2 202.0,875.1 203.5,874.9 205.0,874.5 206.5,874.5 208.0,874.4 209.5,874.4 211.0,874.2 212.5,873.7 214.0,873.2 215.5,872.6 217.0,872.1 218.5,871.8 220.0,871.5 221.5,871.3 223.0,871.3 224.5,871.7 226.0,872.1 227.5,872.4 229.0,872.4 230.5,872.4 232.0,872.8 233.5,873.5 235.0,873.6 236.5,873.5 238.0,873.4 239.5,873.4 241.0,873.3 242.5,873.2 244.0,872.8 245.5,872.4 247.0,871.8 248.5,870.2 250.0,868.5 251.5,867.3 253.0,867.0 254.5,866.7 256.0,866.0 257.5,864.7 259.0,863.3 260.5,862.1 262.0,861.1 263.5,860.0 265.0,859.8 266.5,860.1 268.0,860.3 269.5,859.8 271.0,858.9 272.5,857.9 274.0,857.4 275.5,857.0 277.0,856.7 278.5,856.3 280.0,855.9 281.5,856.0 283.0,856.1 284.5,856.2 286.0,855.5 287.5,850.8 289.0,847.1 290.5,846.5 292.0,845.8 293.5,845.2 295.0,844.1 296.5,842.1 298.0,840.0 299.5,838.1 301.0,836.2 302.5,834.3 304.0,832.4 305.5,827.7 307.0,821.7 308.5,817.3 310.0,813.5 311.5,807.3 313.0,800.5 314.5,795.6 316.0,791.1 317.5,792.3 319.0,793.7 320.5,794.8 322.0,792.8 323.5,790.8 325.0,788.3 326.5,783.8 328.0,779.8 329.5,776.8 331.0,773.8 332.5,772.6 334.0,774.3 335.5,774.9 337.0,774.0 338.5,773.1 340.0,768.9 341.5,762.1 343.0,759.3 344.5,758.6 346.0,751.2 347.5,741.4 349.0,737.8 350.5,735.5 352.0,730.6 353.5,725.4 355.0,720.1 356.5,714.7 358.0,705.8 359.5,706.8 360.1,707.1" fill="none" stroke="#1f77b4" stroke-width="1.15" stroke-linejoin="round" clip-path="url(#c3_0)"/>
<polyline points="55.0,854.8 56.5,854.3 58.0,853.7 59.5,853.5 61.0,853.6 62.5,853.7 64.0,853.1 65.5,852.2 67.0,852.0 68.5,852.0 70.0,852.0 71.5,852.0 73.0,852.7 74.5,853.4 76.0,853.2 77.5,852.7 79.0,850.0 80.5,847.6 82.0,847.2 83.5,846.8 85.0,846.6 86.5,846.7 88.0,846.8 89.5,848.8 91.0,851.1 92.5,853.1 94.0,855.0 95.5,856.9 97.0,858.7 98.5,858.7 100.0,857.4 101.5,856.2 103.0,856.4 104.5,857.2 106.0,857.9 107.5,859.1 109.0,860.3 110.5,861.6 112.0,861.4 113.5,861.1 115.0,860.9 116.5,860.8 118.0,860.7 119.5,860.6 121.0,860.9 122.5,861.2 124.0,861.4 125.5,862.0 127.0,863.3 128.5,864.5 130.0,866.1 131.5,867.9 133.0,868.8 134.5,868.9 136.0,868.9 137.5,867.8 139.0,866.2 140.5,864.5 142.0,864.2 143.5,864.3 145.0,864.4 146.5,864.5 148.0,865.3 149.5,866.2 151.0,867.1 152.5,868.0 154.0,868.7 155.5,868.6 157.0,868.4 158.5,868.2 160.0,868.1 161.5,868.1 163.0,868.2 164.5,868.2 166.0,868.3 167.5,868.6 169.0,868.9 170.5,869.6 172.0,870.5 173.5,871.4 175.0,872.2 176.5,872.9 178.0,873.0 179.5,872.8 181.0,872.7 182.5,872.5 184.0,872.7 185.5,872.8 187.0,873.0 188.5,873.2 190.0,872.6 191.5,872.1 193.0,872.1 194.5,872.1 196.0,872.1 197.5,872.0 199.0,871.9 200.5,871.8 202.0,871.7 203.5,871.5 205.0,871.6 210.8,871.6 218.0,870.6 222.3,871.6 226.6,873.1 232.4,874.5 239.6,874.9 246.8,874.9 251.2,873.5 262.7,873.1 267.0,873.8 274.3,874.9 291.6,874.9 334.8,874.5 342.1,876.4 349.3,876.7 360.1,876.4" fill="none" stroke="#ff7f0e" stroke-width="1.1" stroke-linejoin="round" clip-path="url(#c3_0)"/>
<polyline points="55.0,854.7 58.7,853.3 63.0,853.6 65.9,851.9 71.6,851.9 74.5,853.3 77.4,852.9 80.3,847.5 84.6,846.4 88.2,846.7 91.8,852.1 97.6,859.4 101.9,855.8 106.3,857.9 110.6,861.5 114.9,860.8 119.3,860.5 125.0,861.5 129.4,865.1 132.2,868.7 136.6,868.7 140.9,863.7 146.7,863.7 151.0,866.3 153.9,868.0 159.6,867.3 165.4,867.3 169.7,868.0 174.1,870.9 177.0,872.3 182.7,871.6 188.5,872.3 191.4,870.9 197.2,870.6 202.9,869.5 205.0,868.7 210.8,869.2 216.5,865.1 222.3,865.1 226.6,868.7 231.0,869.5 233.9,871.6 242.5,871.6 246.8,870.2 251.2,864.4 255.5,863.7 259.8,859.4 264.2,856.5 268.5,857.9 272.8,855.8 277.1,855.0 280.0,854.3 285.8,855.0 288.7,845.7 294.4,843.5 298.8,837.7 304.5,830.5 307.4,819.0 310.3,811.7 313.2,798.8 316.1,790.1 320.4,794.4 324.7,788.7 327.6,780.0 332.0,771.4 334.8,775.0 339.2,772.8 342.1,759.8 344.9,758.4 347.8,739.6 350.7,735.3 353.6,725.2 356.5,715.1 357.9,705.7 360.1,707.1" fill="none" stroke="#2ca02c" stroke-width="1.1" stroke-linejoin="round" clip-path="url(#c3_0)"/>
<line x1="54.2" y1="697.9" x2="361.2" y2="697.9" stroke="#a8a8a8" stroke-width="1.3"/>
<line x1="54.2" y1="885.5" x2="361.2" y2="885.5" stroke="#111" stroke-width="1.6"/>
<line x1="54.2" y1="697.9" x2="54.2" y2="885.5" stroke="#111" stroke-width="1.6"/>
<line x1="361.2" y1="697.9" x2="361.2" y2="885.5" stroke="#d62728" stroke-width="1.6"/>
<clipPath id="c3_0r"><rect x="54.2" y="696.9" width="307.0" height="189.6"/></clipPath>
<polyline points="55.0,884.6 130.8,884.6 136.6,881.7 142.3,878.1 148.1,873.1 153.9,870.6 159.6,869.7 165.4,868.3 169.7,863.7 174.1,859.4 179.8,855.8 185.6,853.6 188.5,850.7 192.8,847.1 197.2,843.5 200.0,837.7 202.9,833.4 205.0,828.3 209.3,821.8 213.7,813.9 218.0,804.5 220.9,795.9 223.8,787.2 226.6,778.6 230.2,772.8 232.4,767.7 236.7,762.7 241.1,755.5 245.4,750.4 249.7,742.5 254.1,738.2 258.4,733.8 262.7,728.1 268.5,722.3 274.3,713.6 280.0,710.8 285.8,708.6 291.6,706.4 297.3,704.7 303.1,703.3 308.9,701.4 314.6,699.9 320.4,699.2 332.0,698.9 339.2,697.8 349.3,697.5 360.1,697.5" fill="none" stroke="#ff0000" stroke-width="1.15" stroke-linejoin="round" stroke-dasharray="3.5,2.2" clip-path="url(#c3_0r)"/>
<line x1="50.7" y1="877.1" x2="54.2" y2="877.1" stroke="#333" stroke-width="0.8"/>
<text x="48.2" y="879.4" font-size="6.5" fill="#000" text-anchor="end" textLength="4.1" lengthAdjust="spacingAndGlyphs" fill-opacity="0.7">0</text>
<line x1="50.7" y1="855.6" x2="54.2" y2="855.6" stroke="#333" stroke-width="0.8"/>
<text x="48.2" y="858.0" font-size="6.5" fill="#000" text-anchor="end" textLength="12.4" lengthAdjust="spacingAndGlyphs" fill-opacity="0.7">500</text>
<line x1="50.7" y1="834.1" x2="54.2" y2="834.1" stroke="#333" stroke-width="0.8"/>
<text x="48.2" y="836.5" font-size="6.5" fill="#000" text-anchor="end" textLength="16.5" lengthAdjust="spacingAndGlyphs" fill-opacity="0.7">1000</text>
<line x1="50.7" y1="812.7" x2="54.2" y2="812.7" stroke="#333" stroke-width="0.8"/>
<text x="48.2" y="815.0" font-size="6.5" fill="#000" text-anchor="end" textLength="16.5" lengthAdjust="spacingAndGlyphs" fill-opacity="0.7">1500</text>
<line x1="50.7" y1="791.2" x2="54.2" y2="791.2" stroke="#333" stroke-width="0.8"/>
<text x="48.2" y="793.5" font-size="6.5" fill="#000" text-anchor="end" textLength="16.5" lengthAdjust="spacingAndGlyphs" fill-opacity="0.7">2000</text>
<line x1="50.7" y1="769.7" x2="54.2" y2="769.7" stroke="#333" stroke-width="0.8"/>
<text x="48.2" y="772.1" font-size="6.5" fill="#000" text-anchor="end" textLength="16.5" lengthAdjust="spacingAndGlyphs" fill-opacity="0.7">2500</text>
<line x1="50.7" y1="748.2" x2="54.2" y2="748.2" stroke="#333" stroke-width="0.8"/>
<text x="48.2" y="750.6" font-size="6.5" fill="#000" text-anchor="end" textLength="16.5" lengthAdjust="spacingAndGlyphs" fill-opacity="0.7">3000</text>
<line x1="50.7" y1="726.8" x2="54.2" y2="726.8" stroke="#333" stroke-width="0.8"/>
<text x="48.2" y="729.1" font-size="6.5" fill="#000" text-anchor="end" textLength="16.5" lengthAdjust="spacingAndGlyphs" fill-opacity="0.7">3500</text>
<line x1="50.7" y1="705.3" x2="54.2" y2="705.3" stroke="#333" stroke-width="0.8"/>
<text x="48.2" y="707.6" font-size="6.5" fill="#000" text-anchor="end" textLength="16.5" lengthAdjust="spacingAndGlyphs" fill-opacity="0.7">4000</text>
<line x1="361.2" y1="885.5" x2="364.7" y2="885.5" stroke="#ff0000" stroke-width="0.8"/>
<text x="366.2" y="887.7" font-size="6.0" fill="#ff0000" text-anchor="start" textLength="9.5" lengthAdjust="spacingAndGlyphs" fill-opacity="0.9">0.0</text>
<line x1="361.2" y1="848.0" x2="364.7" y2="848.0" stroke="#ff0000" stroke-width="0.8"/>
<text x="366.2" y="850.1" font-size="6.0" fill="#ff0000" text-anchor="start" textLength="9.5" lengthAdjust="spacingAndGlyphs" fill-opacity="0.9">0.2</text>
<line x1="361.2" y1="810.5" x2="364.7" y2="810.5" stroke="#ff0000" stroke-width="0.8"/>
<text x="366.2" y="812.6" font-size="6.0" fill="#ff0000" text-anchor="start" textLength="9.5" lengthAdjust="spacingAndGlyphs" fill-opacity="0.9">0.4</text>
<line x1="361.2" y1="772.9" x2="364.7" y2="772.9" stroke="#ff0000" stroke-width="0.8"/>
<text x="366.2" y="775.1" font-size="6.0" fill="#ff0000" text-anchor="start" textLength="9.5" lengthAdjust="spacingAndGlyphs" fill-opacity="0.9">0.6</text>
<line x1="361.2" y1="735.4" x2="364.7" y2="735.4" stroke="#ff0000" stroke-width="0.8"/>
<text x="366.2" y="737.6" font-size="6.0" fill="#ff0000" text-anchor="start" textLength="9.5" lengthAdjust="spacingAndGlyphs" fill-opacity="0.9">0.8</text>
<line x1="361.2" y1="697.9" x2="364.7" y2="697.9" stroke="#ff0000" stroke-width="0.8"/>
<text x="366.2" y="700.1" font-size="6.0" fill="#ff0000" text-anchor="start" textLength="9.5" lengthAdjust="spacingAndGlyphs" fill-opacity="0.9">1.0</text>
<line x1="55.7" y1="885.5" x2="55.7" y2="889.0" stroke="#333" stroke-width="0.8"/>
<text x="55.7" y="895.6" font-size="6.5" fill="#000" text-anchor="middle" textLength="37.8" lengthAdjust="spacingAndGlyphs" fill-opacity="0.7">2021-03-15</text>
<line x1="97.1" y1="885.5" x2="97.1" y2="889.0" stroke="#333" stroke-width="0.8"/>
<text x="97.1" y="895.6" font-size="6.5" fill="#000" text-anchor="middle" textLength="37.8" lengthAdjust="spacingAndGlyphs" fill-opacity="0.7">2021-04-01</text>
<line x1="131.2" y1="885.5" x2="131.2" y2="889.0" stroke="#333" stroke-width="0.8"/>
<text x="131.2" y="895.6" font-size="6.5" fill="#000" text-anchor="middle" textLength="37.8" lengthAdjust="spacingAndGlyphs" fill-opacity="0.7">2021-04-15</text>
<line x1="170.2" y1="885.5" x2="170.2" y2="889.0" stroke="#333" stroke-width="0.8"/>
<text x="170.2" y="895.6" font-size="6.5" fill="#000" text-anchor="middle" textLength="37.8" lengthAdjust="spacingAndGlyphs" fill-opacity="0.7">2021-05-01</text>
<line x1="204.3" y1="885.5" x2="204.3" y2="889.0" stroke="#333" stroke-width="0.8"/>
<text x="204.3" y="895.6" font-size="6.5" fill="#000" text-anchor="middle" textLength="37.8" lengthAdjust="spacingAndGlyphs" fill-opacity="0.7">2021-05-15</text>
<line x1="245.7" y1="885.5" x2="245.7" y2="889.0" stroke="#333" stroke-width="0.8"/>
<text x="245.7" y="895.6" font-size="6.5" fill="#000" text-anchor="middle" textLength="37.8" lengthAdjust="spacingAndGlyphs" fill-opacity="0.7">2021-06-01</text>
<line x1="279.8" y1="885.5" x2="279.8" y2="889.0" stroke="#333" stroke-width="0.8"/>
<text x="279.8" y="895.6" font-size="6.5" fill="#000" text-anchor="middle" textLength="37.8" lengthAdjust="spacingAndGlyphs" fill-opacity="0.7">2021-06-15</text>
<line x1="318.8" y1="885.5" x2="318.8" y2="889.0" stroke="#333" stroke-width="0.8"/>
<text x="318.8" y="895.6" font-size="6.5" fill="#000" text-anchor="middle" textLength="37.8" lengthAdjust="spacingAndGlyphs" fill-opacity="0.7">2021-07-01</text>
<line x1="352.9" y1="885.5" x2="352.9" y2="889.0" stroke="#333" stroke-width="0.8"/>
<text x="352.9" y="895.6" font-size="6.5" fill="#000" text-anchor="middle" textLength="37.8" lengthAdjust="spacingAndGlyphs" fill-opacity="0.7">2021-07-15</text>
<text x="389.0" y="791.7" font-size="12" fill="#ff0000" text-anchor="middle" textLength="146.8" lengthAdjust="spacingAndGlyphs" transform="rotate(-90 389.0 791.7)">Percentage new variant</text>
<line x1="576.6" y1="697.9" x2="576.6" y2="885.5" stroke="#8a8a8a" stroke-width="1.0"/>
<line x1="423.0" y1="791.7" x2="730.3" y2="791.7" stroke="#000" stroke-width="1.6" stroke-dasharray="4,2"/>
<clipPath id="c3_1"><rect x="423.0" y="697.9" width="307.3" height="187.6"/></clipPath>
<path d="M510.50,756.17 C511.47,756.17 514.28,755.74 516.34,756.17 C518.39,756.60 520.67,757.95 522.83,758.77 C525.00,759.58 527.16,760.66 529.32,761.04 C531.49,761.42 533.11,760.77 535.82,761.04 C538.52,761.31 542.31,762.66 545.55,762.66 C548.80,762.66 552.05,761.85 555.29,761.04 C558.54,760.23 561.79,758.60 565.03,757.79 C568.28,756.98 571.52,756.33 574.77,756.17 C578.02,756.01 581.80,756.01 584.51,756.82 C587.21,757.63 588.84,759.25 591.00,761.04 C593.17,762.82 595.60,766.07 597.49,767.53 C599.39,768.99 600.74,770.07 602.36,769.80 C603.99,769.53 605.34,768.45 607.23,765.91 C609.13,763.37 611.56,757.90 613.72,754.55 C615.89,751.19 618.32,747.57 620.22,745.78 C622.11,744.00 623.46,743.73 625.09,743.83 C626.71,743.94 628.06,744.38 629.95,746.43 C631.85,748.49 634.28,753.19 636.45,756.17 C638.61,759.15 641.05,762.50 642.94,764.28 C644.83,766.07 646.19,766.88 647.81,766.88 C649.43,766.88 650.78,765.64 652.68,764.28 C654.57,762.93 657.01,760.28 659.17,758.77 C661.33,757.25 663.50,755.90 665.66,755.20 C667.83,754.49 671.07,754.65 672.16,754.55" fill="none" stroke="#1f77b4" stroke-width="1.05" stroke-linejoin="round" clip-path="url(#c3_1)"/>
<path d="M510.50,767.53 C511.20,768.88 513.20,771.05 514.72,775.65 C516.23,780.25 517.96,789.44 519.59,795.12 C521.21,800.80 522.83,808.00 524.45,809.73 C526.08,811.46 527.70,806.76 529.32,805.51 C530.95,804.27 532.57,802.10 534.19,802.27 C535.82,802.43 537.44,803.35 539.06,806.49 C540.69,809.62 542.42,817.20 543.93,821.09 C545.45,824.99 546.80,829.32 548.15,829.86 C549.50,830.40 550.59,827.96 552.05,824.34 C553.51,820.71 555.29,812.98 556.92,808.11 C558.54,803.24 560.16,798.64 561.79,795.12 C563.41,791.61 565.03,788.63 566.65,787.01 C568.28,785.39 569.90,785.39 571.52,785.39 C573.15,785.39 574.50,786.58 576.39,787.01 C578.29,787.44 580.99,786.63 582.89,787.98 C584.78,789.33 586.13,790.96 587.75,795.12 C589.38,799.29 591.00,807.57 592.62,812.98 C594.25,818.39 595.87,823.80 597.49,827.59 C599.12,831.37 600.74,835.70 602.36,835.70 C603.99,835.70 605.61,831.37 607.23,827.59 C608.85,823.80 610.48,817.85 612.10,812.98 C613.72,808.11 615.35,802.70 616.97,798.37 C618.59,794.04 620.22,789.28 621.84,787.01 C623.46,784.74 625.09,784.47 626.71,784.74 C628.33,785.01 629.95,786.36 631.58,788.63 C633.20,790.90 634.82,795.39 636.45,798.37 C638.07,801.35 639.69,804.43 641.32,806.49 C642.94,808.54 644.29,810.54 646.19,810.71 C648.08,810.87 650.51,808.87 652.68,807.46 C654.84,806.05 657.01,803.51 659.17,802.27 C661.33,801.02 663.50,800.64 665.66,799.99 C667.83,799.34 671.07,798.64 672.16,798.37" fill="none" stroke="#ff7f0e" stroke-width="1.05" stroke-linejoin="round" clip-path="url(#c3_1)"/>
<line x1="423.0" y1="697.9" x2="730.3" y2="697.9" stroke="#a8a8a8" stroke-width="1.3"/>
<line x1="423.0" y1="885.5" x2="730.3" y2="885.5" stroke="#a8a8a8" stroke-width="1.3"/>
<line x1="423.0" y1="697.9" x2="423.0" y2="885.5" stroke="#a8a8a8" stroke-width="1.3"/>
<line x1="730.3" y1="697.9" x2="730.3" y2="885.5" stroke="#a8a8a8" stroke-width="1.3"/>
<line x1="419.5" y1="885.5" x2="423.0" y2="885.5" stroke="#333" stroke-width="0.8"/>
<text x="417.0" y="887.8" font-size="6.5" fill="#000" text-anchor="end" textLength="10.3" lengthAdjust="spacingAndGlyphs" fill-opacity="0.7">0.2</text>
<line x1="419.5" y1="862.1" x2="423.0" y2="862.1" stroke="#333" stroke-width="0.8"/>
<text x="417.0" y="864.4" font-size="6.5" fill="#000" text-anchor="end" textLength="10.3" lengthAdjust="spacingAndGlyphs" fill-opacity="0.7">0.4</text>
<line x1="419.5" y1="838.6" x2="423.0" y2="838.6" stroke="#333" stroke-width="0.8"/>
<text x="417.0" y="840.9" font-size="6.5" fill="#000" text-anchor="end" textLength="10.3" lengthAdjust="spacingAndGlyphs" fill-opacity="0.7">0.6</text>
<line x1="419.5" y1="815.2" x2="423.0" y2="815.2" stroke="#333" stroke-width="0.8"/>
<text x="417.0" y="817.5" font-size="6.5" fill="#000" text-anchor="end" textLength="10.3" lengthAdjust="spacingAndGlyphs" fill-opacity="0.7">0.8</text>
<line x1="419.5" y1="791.7" x2="423.0" y2="791.7" stroke="#333" stroke-width="0.8"/>
<text x="417.0" y="794.0" font-size="6.5" fill="#000" text-anchor="end" textLength="10.3" lengthAdjust="spacingAndGlyphs" fill-opacity="0.7">1.0</text>
<line x1="419.5" y1="768.3" x2="423.0" y2="768.3" stroke="#333" stroke-width="0.8"/>
<text x="417.0" y="770.6" font-size="6.5" fill="#000" text-anchor="end" textLength="10.3" lengthAdjust="spacingAndGlyphs" fill-opacity="0.7">1.2</text>
<line x1="419.5" y1="744.8" x2="423.0" y2="744.8" stroke="#333" stroke-width="0.8"/>
<text x="417.0" y="747.1" font-size="6.5" fill="#000" text-anchor="end" textLength="10.3" lengthAdjust="spacingAndGlyphs" fill-opacity="0.7">1.4</text>
<line x1="419.5" y1="721.4" x2="423.0" y2="721.4" stroke="#333" stroke-width="0.8"/>
<text x="417.0" y="723.7" font-size="6.5" fill="#000" text-anchor="end" textLength="10.3" lengthAdjust="spacingAndGlyphs" fill-opacity="0.7">1.6</text>
<line x1="419.5" y1="697.9" x2="423.0" y2="697.9" stroke="#333" stroke-width="0.8"/>
<text x="417.0" y="700.2" font-size="6.5" fill="#000" text-anchor="end" textLength="10.3" lengthAdjust="spacingAndGlyphs" fill-opacity="0.7">1.8</text>
<line x1="423.5" y1="885.5" x2="423.5" y2="889.0" stroke="#333" stroke-width="0.8"/>
<text x="423.5" y="895.6" font-size="6.5" fill="#000" text-anchor="middle" textLength="37.8" lengthAdjust="spacingAndGlyphs" fill-opacity="0.7">2021-03-15</text>
<line x1="464.9" y1="885.5" x2="464.9" y2="889.0" stroke="#333" stroke-width="0.8"/>
<text x="464.9" y="895.6" font-size="6.5" fill="#000" text-anchor="middle" textLength="37.8" lengthAdjust="spacingAndGlyphs" fill-opacity="0.7">2021-04-01</text>
<line x1="499.0" y1="885.5" x2="499.0" y2="889.0" stroke="#333" stroke-width="0.8"/>
<text x="499.0" y="895.6" font-size="6.5" fill="#000" text-anchor="middle" textLength="37.8" lengthAdjust="spacingAndGlyphs" fill-opacity="0.7">2021-04-15</text>
<line x1="538.0" y1="885.5" x2="538.0" y2="889.0" stroke="#333" stroke-width="0.8"/>
<text x="538.0" y="895.6" font-size="6.5" fill="#000" text-anchor="middle" textLength="37.8" lengthAdjust="spacingAndGlyphs" fill-opacity="0.7">2021-05-01</text>
<line x1="572.1" y1="885.5" x2="572.1" y2="889.0" stroke="#333" stroke-width="0.8"/>
<text x="572.1" y="895.6" font-size="6.5" fill="#000" text-anchor="middle" textLength="37.8" lengthAdjust="spacingAndGlyphs" fill-opacity="0.7">2021-05-15</text>
<line x1="613.5" y1="885.5" x2="613.5" y2="889.0" stroke="#333" stroke-width="0.8"/>
<text x="613.5" y="895.6" font-size="6.5" fill="#000" text-anchor="middle" textLength="37.8" lengthAdjust="spacingAndGlyphs" fill-opacity="0.7">2021-06-01</text>
<line x1="647.6" y1="885.5" x2="647.6" y2="889.0" stroke="#333" stroke-width="0.8"/>
<text x="647.6" y="895.6" font-size="6.5" fill="#000" text-anchor="middle" textLength="37.8" lengthAdjust="spacingAndGlyphs" fill-opacity="0.7">2021-06-15</text>
<line x1="686.6" y1="885.5" x2="686.6" y2="889.0" stroke="#333" stroke-width="0.8"/>
<text x="686.6" y="895.6" font-size="6.5" fill="#000" text-anchor="middle" textLength="37.8" lengthAdjust="spacingAndGlyphs" fill-opacity="0.7">2021-07-01</text>
<line x1="720.7" y1="885.5" x2="720.7" y2="889.0" stroke="#333" stroke-width="0.8"/>
<text x="720.7" y="895.6" font-size="6.5" fill="#000" text-anchor="middle" textLength="37.8" lengthAdjust="spacingAndGlyphs" fill-opacity="0.7">2021-07-15</text>
<line x1="945.5" y1="697.9" x2="945.5" y2="885.5" stroke="#8a8a8a" stroke-width="1.0"/>
<line x1="790.1" y1="791.7" x2="1097.7" y2="791.7" stroke="#000" stroke-width="1.6" stroke-dasharray="4,2"/>
<clipPath id="c3_2"><rect x="790.1" y="697.9" width="307.6" height="187.6"/></clipPath>
<path d="M880.13,781.88 C880.83,780.80 882.94,779.18 884.34,775.40 C885.74,771.63 887.20,764.34 888.55,759.22 C889.90,754.09 891.25,747.24 892.43,744.65 C893.62,742.06 894.48,742.87 895.67,743.68 C896.86,744.49 898.21,747.89 899.56,749.51 C900.91,751.12 902.52,753.12 903.76,753.39 C905.01,753.66 905.92,754.20 907.00,751.12 C908.08,748.05 909.16,740.33 910.24,734.94 C911.32,729.54 912.40,722.80 913.48,718.75 C914.56,714.71 915.63,710.66 916.71,710.66 C917.79,710.66 918.87,713.90 919.95,718.75 C921.03,723.61 922.11,733.86 923.19,739.79 C924.27,745.73 925.08,750.58 926.42,754.36 C927.77,758.14 929.66,760.30 931.28,762.45 C932.90,764.61 934.52,766.23 936.14,767.31 C937.75,768.39 939.37,768.93 940.99,768.93 C942.61,768.93 944.23,767.85 945.85,767.31 C947.47,766.77 949.08,766.23 950.70,765.69 C952.32,765.15 953.94,765.96 955.56,764.07 C957.18,762.18 958.80,760.03 960.41,754.36 C962.03,748.70 963.76,737.10 965.27,730.08 C966.78,723.07 968.24,715.95 969.48,712.28 C970.72,708.61 971.53,706.99 972.72,708.07 C973.90,709.15 975.14,713.47 976.60,718.75 C978.06,724.04 979.84,733.86 981.46,739.79 C983.07,745.73 984.69,751.12 986.31,754.36 C987.93,757.60 989.55,758.14 991.17,759.22 C992.79,760.30 994.40,760.84 996.02,760.84 C997.64,760.84 999.26,760.03 1000.88,759.22 C1002.50,758.41 1004.12,757.49 1005.73,755.98 C1007.35,754.47 1008.97,751.34 1010.59,750.15 C1012.21,748.97 1013.83,748.70 1015.45,748.86 C1017.06,749.02 1018.68,750.21 1020.30,751.12 C1021.92,752.04 1023.54,753.98 1025.16,754.36 C1026.78,754.74 1028.39,753.77 1030.01,753.39 C1031.63,753.01 1033.25,752.10 1034.87,752.10 C1036.49,752.10 1038.92,753.17 1039.72,753.39" fill="none" stroke="#1f77b4" stroke-width="1.05" stroke-linejoin="round" clip-path="url(#c3_2)"/>
<line x1="790.1" y1="697.9" x2="1097.7" y2="697.9" stroke="#a8a8a8" stroke-width="1.3"/>
<line x1="790.1" y1="885.5" x2="1097.7" y2="885.5" stroke="#a8a8a8" stroke-width="1.3"/>
<line x1="790.1" y1="697.9" x2="790.1" y2="885.5" stroke="#a8a8a8" stroke-width="1.3"/>
<line x1="1097.7" y1="697.9" x2="1097.7" y2="885.5" stroke="#a8a8a8" stroke-width="1.3"/>
<line x1="786.6" y1="885.5" x2="790.1" y2="885.5" stroke="#333" stroke-width="0.8"/>
<text x="784.1" y="887.8" font-size="6.5" fill="#000" text-anchor="end" textLength="14.5" lengthAdjust="spacingAndGlyphs" fill-opacity="0.7">0.00</text>
<line x1="786.6" y1="862.1" x2="790.1" y2="862.1" stroke="#333" stroke-width="0.8"/>
<text x="784.1" y="864.4" font-size="6.5" fill="#000" text-anchor="end" textLength="14.5" lengthAdjust="spacingAndGlyphs" fill-opacity="0.7">0.25</text>
<line x1="786.6" y1="838.6" x2="790.1" y2="838.6" stroke="#333" stroke-width="0.8"/>
<text x="784.1" y="840.9" font-size="6.5" fill="#000" text-anchor="end" textLength="14.5" lengthAdjust="spacingAndGlyphs" fill-opacity="0.7">0.50</text>
<line x1="786.6" y1="815.2" x2="790.1" y2="815.2" stroke="#333" stroke-width="0.8"/>
<text x="784.1" y="817.5" font-size="6.5" fill="#000" text-anchor="end" textLength="14.5" lengthAdjust="spacingAndGlyphs" fill-opacity="0.7">0.75</text>
<line x1="786.6" y1="791.7" x2="790.1" y2="791.7" stroke="#333" stroke-width="0.8"/>
<text x="784.1" y="794.0" font-size="6.5" fill="#000" text-anchor="end" textLength="14.5" lengthAdjust="spacingAndGlyphs" fill-opacity="0.7">1.00</text>
<line x1="786.6" y1="768.3" x2="790.1" y2="768.3" stroke="#333" stroke-width="0.8"/>
<text x="784.1" y="770.6" font-size="6.5" fill="#000" text-anchor="end" textLength="14.5" lengthAdjust="spacingAndGlyphs" fill-opacity="0.7">1.25</text>
<line x1="786.6" y1="744.8" x2="790.1" y2="744.8" stroke="#333" stroke-width="0.8"/>
<text x="784.1" y="747.1" font-size="6.5" fill="#000" text-anchor="end" textLength="14.5" lengthAdjust="spacingAndGlyphs" fill-opacity="0.7">1.50</text>
<line x1="786.6" y1="721.4" x2="790.1" y2="721.4" stroke="#333" stroke-width="0.8"/>
<text x="784.1" y="723.7" font-size="6.5" fill="#000" text-anchor="end" textLength="14.5" lengthAdjust="spacingAndGlyphs" fill-opacity="0.7">1.75</text>
<line x1="786.6" y1="697.9" x2="790.1" y2="697.9" stroke="#333" stroke-width="0.8"/>
<text x="784.1" y="700.2" font-size="6.5" fill="#000" text-anchor="end" textLength="14.5" lengthAdjust="spacingAndGlyphs" fill-opacity="0.7">2.00</text>
<line x1="793.6" y1="885.5" x2="793.6" y2="889.0" stroke="#333" stroke-width="0.8"/>
<text x="793.6" y="895.6" font-size="6.5" fill="#000" text-anchor="middle" textLength="37.8" lengthAdjust="spacingAndGlyphs" fill-opacity="0.7">2021-03-15</text>
<line x1="835.0" y1="885.5" x2="835.0" y2="889.0" stroke="#333" stroke-width="0.8"/>
<text x="835.0" y="895.6" font-size="6.5" fill="#000" text-anchor="middle" textLength="37.8" lengthAdjust="spacingAndGlyphs" fill-opacity="0.7">2021-04-01</text>
<line x1="869.1" y1="885.5" x2="869.1" y2="889.0" stroke="#333" stroke-width="0.8"/>
<text x="869.1" y="895.6" font-size="6.5" fill="#000" text-anchor="middle" textLength="37.8" lengthAdjust="spacingAndGlyphs" fill-opacity="0.7">2021-04-15</text>
<line x1="908.1" y1="885.5" x2="908.1" y2="889.0" stroke="#333" stroke-width="0.8"/>
<text x="908.1" y="895.6" font-size="6.5" fill="#000" text-anchor="middle" textLength="37.8" lengthAdjust="spacingAndGlyphs" fill-opacity="0.7">2021-05-01</text>
<line x1="942.2" y1="885.5" x2="942.2" y2="889.0" stroke="#333" stroke-width="0.8"/>
<text x="942.2" y="895.6" font-size="6.5" fill="#000" text-anchor="middle" textLength="37.8" lengthAdjust="spacingAndGlyphs" fill-opacity="0.7">2021-05-15</text>
<line x1="983.6" y1="885.5" x2="983.6" y2="889.0" stroke="#333" stroke-width="0.8"/>
<text x="983.6" y="895.6" font-size="6.5" fill="#000" text-anchor="middle" textLength="37.8" lengthAdjust="spacingAndGlyphs" fill-opacity="0.7">2021-06-01</text>
<line x1="1017.7" y1="885.5" x2="1017.7" y2="889.0" stroke="#333" stroke-width="0.8"/>
<text x="1017.7" y="895.6" font-size="6.5" fill="#000" text-anchor="middle" textLength="37.8" lengthAdjust="spacingAndGlyphs" fill-opacity="0.7">2021-06-15</text>
<line x1="1056.7" y1="885.5" x2="1056.7" y2="889.0" stroke="#333" stroke-width="0.8"/>
<text x="1056.7" y="895.6" font-size="6.5" fill="#000" text-anchor="middle" textLength="37.8" lengthAdjust="spacingAndGlyphs" fill-opacity="0.7">2021-07-01</text>
<line x1="1090.8" y1="885.5" x2="1090.8" y2="889.0" stroke="#333" stroke-width="0.8"/>
<text x="1090.8" y="895.6" font-size="6.5" fill="#000" text-anchor="middle" textLength="37.8" lengthAdjust="spacingAndGlyphs" fill-opacity="0.7">2021-07-15</text>
<text x="24.5" y="1017.6" font-size="17" fill="#000" text-anchor="middle" textLength="122.9" lengthAdjust="spacingAndGlyphs" transform="rotate(-90 24.5 1017.6)">West Midlands</text>
<line x1="207.3" y1="923.8" x2="207.3" y2="1111.4" stroke="#b8b8b8" stroke-width="1.4"/>
<clipPath id="c4_0"><rect x="54.2" y="923.8" width="307.0" height="187.6"/></clipPath>
<polyline points="55.0,1103.4 56.5,1103.4 58.0,1103.4 59.5,1103.4 61.0,1103.4 62.5,1103.4 64.0,1103.4 65.5,1103.4 67.0,1103.4 68.5,1103.4 70.0,1103.4 71.5,1103.4 73.0,1103.4 74.5,1103.4 76.0,1103.4 77.5,1103.4 79.0,1103.4 80.5,1103.4 82.0,1103.4 83.5,1103.4 85.0,1103.4 86.5,1103.4 88.0,1103.4 89.5,1103.4 91.0,1103.4 92.5,1103.4 94.0,1103.4 95.5,1103.4 97.0,1103.4 98.5,1103.4 100.0,1103.4 101.5,1103.5 103.0,1103.5 104.5,1103.5 106.0,1103.5 107.5,1103.4 109.0,1103.5 110.5,1103.5 112.0,1103.5 113.5,1103.5 115.0,1103.5 116.5,1103.5 118.0,1103.5 119.5,1103.5 121.0,1103.5 122.5,1103.5 124.0,1103.5 125.5,1103.5 127.0,1103.4 128.5,1103.4 130.0,1103.4 131.5,1103.4 133.0,1103.4 134.5,1103.4 136.0,1103.3 137.5,1103.3 139.0,1103.3 140.5,1103.3 142.0,1103.3 143.5,1103.3 145.0,1103.3 146.5,1103.3 148.0,1103.3 149.5,1103.3 151.0,1103.3 152.5,1103.3 154.0,1103.3 155.5,1103.3 157.0,1103.3 158.5,1103.3 160.0,1103.3 161.5,1103.3 163.0,1103.2 164.5,1103.2 166.0,1103.2 167.5,1103.2 169.0,1103.2 170.5,1103.3 172.0,1103.3 173.5,1103.3 175.0,1103.2 176.5,1103.2 178.0,1103.2 179.5,1103.2 181.0,1103.2 182.5,1103.2 184.0,1103.1 185.5,1103.1 187.0,1103.1 188.5,1103.1 190.0,1103.1 191.5,1103.0 193.0,1103.0 194.5,1103.0 196.0,1103.1 197.5,1103.1 199.0,1103.1 200.5,1103.1 202.0,1103.1 203.5,1103.1 205.0,1103.1 206.5,1103.0 208.0,1102.9 209.5,1102.8 211.0,1102.7 212.5,1102.6 214.0,1102.5 215.5,1102.4 217.0,1102.3 218.5,1102.1 220.0,1102.0 221.5,1101.9" fill="none" stroke="#a9cde8" stroke-width="1.8" stroke-linejoin="round" clip-path="url(#c4_0)"/>
<polyline points="220.0,1102.0 221.5,1101.9 223.0,1101.7 224.5,1101.6 226.0,1101.0 227.5,1099.9 229.0,1099.2 230.5,1098.6 232.0,1097.9 233.5,1097.3 235.0,1097.0 236.5,1096.7 238.0,1096.4 239.5,1096.2 241.0,1095.9 242.5,1095.4 244.0,1094.9 245.5,1094.4 247.0,1094.0 248.5,1094.0 250.0,1094.0 251.5,1094.0 253.0,1094.1 254.5,1094.1 256.0,1093.9 257.5,1093.1 259.0,1092.3 260.5,1091.7 262.0,1091.3 263.5,1090.5 265.0,1089.2 266.5,1088.0 268.0,1087.2 269.5,1086.6 271.0,1085.9 272.5,1085.3 274.0,1083.6 275.5,1081.6 277.0,1078.7 278.5,1075.6 280.0,1074.1 281.5,1072.6 283.0,1071.2 284.5,1070.7 286.0,1070.1 287.5,1069.6 289.0,1068.7 290.5,1067.0 292.0,1065.3 293.5,1063.9 295.0,1063.1 296.5,1062.4 298.0,1061.6 299.5,1060.8 301.0,1060.1 302.5,1059.3 304.0,1056.2 305.5,1052.2 307.0,1050.6 308.5,1049.8 310.0,1045.8 311.5,1040.8 313.0,1035.8 314.5,1030.6 316.0,1029.6 317.5,1028.8 319.0,1023.9 320.5,1018.7 322.0,1010.8 323.5,1010.0 325.0,1008.3 326.5,1003.1 328.0,997.8 329.5,992.6 331.0,986.5 332.5,980.8 334.0,977.8 335.5,975.8 337.0,976.6 338.5,978.8 340.0,979.7 341.5,979.7 343.0,979.7 344.5,977.8 346.0,975.2 347.5,970.5 349.0,965.3 350.5,959.4 352.0,953.4 353.5,949.5 355.0,945.7 356.5,943.1 358.0,940.3 359.5,935.7 360.1,934.1" fill="none" stroke="#1f77b4" stroke-width="1.15" stroke-linejoin="round" clip-path="url(#c4_0)"/>
<polyline points="55.0,1089.7 56.5,1088.3 58.0,1086.8 59.5,1085.3 61.0,1084.6 62.5,1084.5 64.0,1084.3 65.5,1084.2 67.0,1084.0 68.5,1083.0 70.0,1081.7 71.5,1080.5 73.0,1080.0 74.5,1079.5 76.0,1079.1 77.5,1078.6 79.0,1078.3 80.5,1078.5 82.0,1078.8 83.5,1079.0 85.0,1079.2 86.5,1080.0 88.0,1081.7 89.5,1083.5 91.0,1085.2 92.5,1086.5 94.0,1087.3 95.5,1088.0 97.0,1088.7 98.5,1089.5 100.0,1090.6 101.5,1091.8 103.0,1093.1 104.5,1092.8 106.0,1092.0 107.5,1091.3 109.0,1092.0 110.5,1092.9 112.0,1093.9 113.5,1094.8 115.0,1094.5 116.5,1094.3 118.0,1094.1 119.5,1094.2 121.0,1094.3 122.5,1094.4 124.0,1094.5 125.5,1094.6 127.0,1094.7 128.5,1094.8 130.0,1095.2 131.5,1095.9 133.0,1096.3 134.5,1096.4 136.0,1096.5 137.5,1096.6 139.0,1096.7 140.5,1096.7 142.0,1096.8 143.5,1097.3 145.0,1097.8 146.5,1097.9 148.0,1098.1 149.5,1098.2 151.0,1098.3 152.5,1098.4 154.0,1098.6 155.5,1098.9 157.0,1099.2 158.5,1099.5 160.0,1099.6 161.5,1099.2 163.0,1098.9 164.5,1098.7 166.0,1099.0 167.5,1099.3 169.0,1099.6 170.5,1099.8 172.0,1099.9 173.5,1100.0 175.0,1100.2 176.5,1100.3 178.0,1100.4 179.5,1100.4 181.0,1100.4 182.5,1100.4 184.0,1100.4 185.5,1100.4 187.0,1100.5 188.5,1100.5 190.0,1100.5 191.5,1100.5 193.0,1100.6 194.5,1100.7 196.0,1101.1 197.5,1101.6 199.0,1101.9 200.5,1101.9 202.0,1101.9 203.5,1101.9 205.0,1101.2 219.4,1100.9 226.6,1100.5 233.9,1101.5 248.3,1101.9 291.6,1101.9 360.1,1101.9" fill="none" stroke="#ff7f0e" stroke-width="1.1" stroke-linejoin="round" clip-path="url(#c4_0)"/>
<polyline points="55.0,1089.7 60.1,1084.6 67.3,1083.9 71.6,1080.3 78.9,1078.1 86.1,1079.3 91.8,1086.1 96.2,1088.2 99.1,1089.7 103.4,1093.3 107.7,1091.1 113.5,1094.7 117.8,1094.0 122.1,1094.3 129.4,1094.7 132.2,1096.2 142.3,1096.6 145.2,1097.6 153.9,1098.3 159.6,1099.5 164.0,1098.3 169.7,1099.5 177.0,1100.1 194.3,1100.1 198.6,1101.5 205.0,1101.5 213.7,1100.5 225.2,1100.1 228.1,1096.9 233.9,1094.7 241.1,1094.3 246.8,1092.6 251.2,1092.9 255.5,1093.3 259.8,1091.1 262.7,1090.4 267.0,1086.8 272.8,1084.6 275.7,1081.0 278.6,1075.3 282.9,1070.9 288.7,1068.8 293.0,1063.7 298.8,1060.8 303.1,1058.7 304.5,1054.3 306.0,1050.7 308.9,1049.3 313.2,1034.9 314.6,1029.8 317.5,1028.4 320.4,1019.0 321.9,1010.3 324.7,1008.9 327.6,998.8 330.5,988.7 332.0,981.5 334.8,975.7 336.3,975.0 339.2,979.3 343.5,979.3 346.4,974.3 349.3,964.2 352.2,952.6 355.0,945.4 357.9,940.4 360.1,933.9" fill="none" stroke="#2ca02c" stroke-width="1.1" stroke-linejoin="round" clip-path="url(#c4_0)"/>
<line x1="54.2" y1="923.8" x2="361.2" y2="923.8" stroke="#a8a8a8" stroke-width="1.3"/>
<line x1="54.2" y1="1111.4" x2="361.2" y2="1111.4" stroke="#111" stroke-width="1.6"/>
<line x1="54.2" y1="923.8" x2="54.2" y2="1111.4" stroke="#111" stroke-width="1.6"/>
<line x1="361.2" y1="923.8" x2="361.2" y2="1111.4" stroke="#d62728" stroke-width="1.6"/>
<clipPath id="c4_0r"><rect x="54.2" y="922.8" width="307.0" height="189.6"/></clipPath>
<polyline points="55.0,1110.6 125.0,1110.6 130.8,1109.2 136.6,1107.0 143.8,1104.8 151.0,1104.8 155.3,1102.7 162.5,1101.2 168.3,1100.1 172.6,1099.5 177.0,1096.9 182.7,1092.6 188.5,1089.7 192.8,1085.4 197.2,1081.0 201.5,1073.8 205.0,1069.5 207.9,1063.7 210.8,1056.5 213.7,1047.8 216.5,1040.6 218.0,1033.4 219.4,1027.6 222.3,1016.1 225.2,1004.6 228.1,997.4 231.0,988.7 232.4,980.0 235.3,972.8 238.2,964.2 241.1,955.5 246.8,948.3 252.6,942.5 256.9,938.2 259.8,936.0 265.6,933.1 271.4,930.3 275.7,927.4 278.6,925.9 291.6,925.9 306.0,925.2 320.4,924.9 334.8,924.5 360.1,924.1" fill="none" stroke="#ff0000" stroke-width="1.15" stroke-linejoin="round" stroke-dasharray="3.5,2.2" clip-path="url(#c4_0r)"/>
<line x1="50.7" y1="1103.5" x2="54.2" y2="1103.5" stroke="#333" stroke-width="0.8"/>
<text x="48.2" y="1105.8" font-size="6.5" fill="#000" text-anchor="end" textLength="4.1" lengthAdjust="spacingAndGlyphs" fill-opacity="0.7">0</text>
<line x1="50.7" y1="1072.4" x2="54.2" y2="1072.4" stroke="#333" stroke-width="0.8"/>
<text x="48.2" y="1074.7" font-size="6.5" fill="#000" text-anchor="end" textLength="16.5" lengthAdjust="spacingAndGlyphs" fill-opacity="0.7">1000</text>
<line x1="50.7" y1="1041.3" x2="54.2" y2="1041.3" stroke="#333" stroke-width="0.8"/>
<text x="48.2" y="1043.6" font-size="6.5" fill="#000" text-anchor="end" textLength="16.5" lengthAdjust="spacingAndGlyphs" fill-opacity="0.7">2000</text>
<line x1="50.7" y1="1010.2" x2="54.2" y2="1010.2" stroke="#333" stroke-width="0.8"/>
<text x="48.2" y="1012.5" font-size="6.5" fill="#000" text-anchor="end" textLength="16.5" lengthAdjust="spacingAndGlyphs" fill-opacity="0.7">3000</text>
<line x1="50.7" y1="979.1" x2="54.2" y2="979.1" stroke="#333" stroke-width="0.8"/>
<text x="48.2" y="981.4" font-size="6.5" fill="#000" text-anchor="end" textLength="16.5" lengthAdjust="spacingAndGlyphs" fill-opacity="0.7">4000</text>
<line x1="50.7" y1="948.0" x2="54.2" y2="948.0" stroke="#333" stroke-width="0.8"/>
<text x="48.2" y="950.3" font-size="6.5" fill="#000" text-anchor="end" textLength="16.5" lengthAdjust="spacingAndGlyphs" fill-opacity="0.7">5000</text>
<line x1="361.2" y1="1111.4" x2="364.7" y2="1111.4" stroke="#ff0000" stroke-width="0.8"/>
<text x="366.2" y="1113.6" font-size="6.0" fill="#ff0000" text-anchor="start" textLength="9.5" lengthAdjust="spacingAndGlyphs" fill-opacity="0.9">0.0</text>
<line x1="361.2" y1="1073.9" x2="364.7" y2="1073.9" stroke="#ff0000" stroke-width="0.8"/>
<text x="366.2" y="1076.0" font-size="6.0" fill="#ff0000" text-anchor="start" textLength="9.5" lengthAdjust="spacingAndGlyphs" fill-opacity="0.9">0.2</text>
<line x1="361.2" y1="1036.4" x2="364.7" y2="1036.4" stroke="#ff0000" stroke-width="0.8"/>
<text x="366.2" y="1038.5" font-size="6.0" fill="#ff0000" text-anchor="start" textLength="9.5" lengthAdjust="spacingAndGlyphs" fill-opacity="0.9">0.4</text>
<line x1="361.2" y1="998.8" x2="364.7" y2="998.8" stroke="#ff0000" stroke-width="0.8"/>
<text x="366.2" y="1001.0" font-size="6.0" fill="#ff0000" text-anchor="start" textLength="9.5" lengthAdjust="spacingAndGlyphs" fill-opacity="0.9">0.6</text>
<line x1="361.2" y1="961.3" x2="364.7" y2="961.3" stroke="#ff0000" stroke-width="0.8"/>
<text x="366.2" y="963.5" font-size="6.0" fill="#ff0000" text-anchor="start" textLength="9.5" lengthAdjust="spacingAndGlyphs" fill-opacity="0.9">0.8</text>
<line x1="361.2" y1="923.8" x2="364.7" y2="923.8" stroke="#ff0000" stroke-width="0.8"/>
<text x="366.2" y="926.0" font-size="6.0" fill="#ff0000" text-anchor="start" textLength="9.5" lengthAdjust="spacingAndGlyphs" fill-opacity="0.9">1.0</text>
<line x1="55.7" y1="1111.4" x2="55.7" y2="1114.9" stroke="#333" stroke-width="0.8"/>
<text x="55.7" y="1121.5" font-size="6.5" fill="#000" text-anchor="middle" textLength="37.8" lengthAdjust="spacingAndGlyphs" fill-opacity="0.7">2021-03-15</text>
<line x1="97.1" y1="1111.4" x2="97.1" y2="1114.9" stroke="#333" stroke-width="0.8"/>
<text x="97.1" y="1121.5" font-size="6.5" fill="#000" text-anchor="middle" textLength="37.8" lengthAdjust="spacingAndGlyphs" fill-opacity="0.7">2021-04-01</text>
<line x1="131.2" y1="1111.4" x2="131.2" y2="1114.9" stroke="#333" stroke-width="0.8"/>
<text x="131.2" y="1121.5" font-size="6.5" fill="#000" text-anchor="middle" textLength="37.8" lengthAdjust="spacingAndGlyphs" fill-opacity="0.7">2021-04-15</text>
<line x1="170.2" y1="1111.4" x2="170.2" y2="1114.9" stroke="#333" stroke-width="0.8"/>
<text x="170.2" y="1121.5" font-size="6.5" fill="#000" text-anchor="middle" textLength="37.8" lengthAdjust="spacingAndGlyphs" fill-opacity="0.7">2021-05-01</text>
<line x1="204.3" y1="1111.4" x2="204.3" y2="1114.9" stroke="#333" stroke-width="0.8"/>
<text x="204.3" y="1121.5" font-size="6.5" fill="#000" text-anchor="middle" textLength="37.8" lengthAdjust="spacingAndGlyphs" fill-opacity="0.7">2021-05-15</text>
<line x1="245.7" y1="1111.4" x2="245.7" y2="1114.9" stroke="#333" stroke-width="0.8"/>
<text x="245.7" y="1121.5" font-size="6.5" fill="#000" text-anchor="middle" textLength="37.8" lengthAdjust="spacingAndGlyphs" fill-opacity="0.7">2021-06-01</text>
<line x1="279.8" y1="1111.4" x2="279.8" y2="1114.9" stroke="#333" stroke-width="0.8"/>
<text x="279.8" y="1121.5" font-size="6.5" fill="#000" text-anchor="middle" textLength="37.8" lengthAdjust="spacingAndGlyphs" fill-opacity="0.7">2021-06-15</text>
<line x1="318.8" y1="1111.4" x2="318.8" y2="1114.9" stroke="#333" stroke-width="0.8"/>
<text x="318.8" y="1121.5" font-size="6.5" fill="#000" text-anchor="middle" textLength="37.8" lengthAdjust="spacingAndGlyphs" fill-opacity="0.7">2021-07-01</text>
<line x1="352.9" y1="1111.4" x2="352.9" y2="1114.9" stroke="#333" stroke-width="0.8"/>
<text x="352.9" y="1121.5" font-size="6.5" fill="#000" text-anchor="middle" textLength="37.8" lengthAdjust="spacingAndGlyphs" fill-opacity="0.7">2021-07-15</text>
<text x="389.0" y="1017.6" font-size="12" fill="#ff0000" text-anchor="middle" textLength="146.8" lengthAdjust="spacingAndGlyphs" transform="rotate(-90 389.0 1017.6)">Percentage new variant</text>
<line x1="576.6" y1="923.8" x2="576.6" y2="1111.4" stroke="#8a8a8a" stroke-width="1.0"/>
<line x1="423.0" y1="1017.6" x2="730.3" y2="1017.6" stroke="#555" stroke-width="1.1" stroke-dasharray="4,2"/>
<clipPath id="c4_1"><rect x="423.0" y="923.8" width="307.3" height="187.6"/></clipPath>
<path d="M511.47,975.68 C512.28,975.41 513.90,974.32 516.34,974.05 C518.77,973.78 522.83,974.22 526.08,974.05 C529.32,973.89 532.57,973.35 535.82,973.08 C539.06,972.81 542.85,972.54 545.55,972.43 C548.26,972.32 549.88,972.86 552.05,972.43 C554.21,972.00 555.83,970.48 558.54,969.83 C561.24,969.18 565.30,969.18 568.28,968.54 C571.25,967.89 573.69,966.80 576.39,965.94 C579.10,965.07 581.53,964.26 584.51,963.34 C587.48,962.42 591.54,960.64 594.25,960.42 C596.95,960.20 598.85,961.39 600.74,962.04 C602.63,962.69 603.99,963.13 605.61,964.32 C607.23,965.51 608.58,967.29 610.48,969.18 C612.37,971.08 614.81,973.78 616.97,975.68 C619.13,977.57 621.57,979.73 623.46,980.55 C625.36,981.36 626.71,981.09 628.33,980.55 C629.95,980.01 631.58,978.11 633.20,977.30 C634.82,976.49 636.99,975.84 638.07,975.68 C639.15,975.51 639.42,976.22 639.69,976.33" fill="none" stroke="#1f77b4" stroke-width="1.05" stroke-linejoin="round" clip-path="url(#c4_1)"/>
<path d="M511.47,1032.49 C512.28,1033.03 514.45,1034.92 516.34,1035.73 C518.23,1036.54 520.67,1037.35 522.83,1037.35 C525.00,1037.35 527.16,1036.38 529.32,1035.73 C531.49,1035.08 533.11,1033.84 535.82,1033.46 C538.52,1033.08 542.31,1033.62 545.55,1033.46 C548.80,1033.30 552.05,1033.19 555.29,1032.49 C558.54,1031.78 561.79,1030.05 565.03,1029.24 C568.28,1028.43 572.06,1028.32 574.77,1027.62 C577.48,1026.91 579.37,1025.67 581.26,1025.02 C583.16,1024.37 583.97,1023.94 586.13,1023.72 C588.30,1023.50 591.81,1023.83 594.25,1023.72 C596.68,1023.61 598.58,1022.85 600.74,1023.07 C602.90,1023.29 605.07,1024.26 607.23,1025.02 C609.40,1025.78 611.56,1026.91 613.72,1027.62 C615.89,1028.32 617.51,1029.13 620.22,1029.24 C622.92,1029.35 626.71,1028.81 629.95,1028.27 C633.20,1027.72 638.07,1026.37 639.69,1025.99" fill="none" stroke="#ff7f0e" stroke-width="1.05" stroke-linejoin="round" clip-path="url(#c4_1)"/>
<line x1="423.0" y1="923.8" x2="730.3" y2="923.8" stroke="#a8a8a8" stroke-width="1.3"/>
<line x1="423.0" y1="1111.4" x2="730.3" y2="1111.4" stroke="#a8a8a8" stroke-width="1.3"/>
<line x1="423.0" y1="923.8" x2="423.0" y2="1111.4" stroke="#a8a8a8" stroke-width="1.3"/>
<line x1="730.3" y1="923.8" x2="730.3" y2="1111.4" stroke="#a8a8a8" stroke-width="1.3"/>
<line x1="419.5" y1="1111.4" x2="423.0" y2="1111.4" stroke="#333" stroke-width="0.8"/>
<text x="417.0" y="1113.7" font-size="6.5" fill="#000" text-anchor="end" textLength="10.3" lengthAdjust="spacingAndGlyphs" fill-opacity="0.7">0.2</text>
<line x1="419.5" y1="1088.0" x2="423.0" y2="1088.0" stroke="#333" stroke-width="0.8"/>
<text x="417.0" y="1090.3" font-size="6.5" fill="#000" text-anchor="end" textLength="10.3" lengthAdjust="spacingAndGlyphs" fill-opacity="0.7">0.4</text>
<line x1="419.5" y1="1064.5" x2="423.0" y2="1064.5" stroke="#333" stroke-width="0.8"/>
<text x="417.0" y="1066.8" font-size="6.5" fill="#000" text-anchor="end" textLength="10.3" lengthAdjust="spacingAndGlyphs" fill-opacity="0.7">0.6</text>
<line x1="419.5" y1="1041.1" x2="423.0" y2="1041.1" stroke="#333" stroke-width="0.8"/>
<text x="417.0" y="1043.4" font-size="6.5" fill="#000" text-anchor="end" textLength="10.3" lengthAdjust="spacingAndGlyphs" fill-opacity="0.7">0.8</text>
<line x1="419.5" y1="1017.6" x2="423.0" y2="1017.6" stroke="#333" stroke-width="0.8"/>
<text x="417.0" y="1019.9" font-size="6.5" fill="#000" text-anchor="end" textLength="10.3" lengthAdjust="spacingAndGlyphs" fill-opacity="0.7">1.0</text>
<line x1="419.5" y1="994.2" x2="423.0" y2="994.2" stroke="#333" stroke-width="0.8"/>
<text x="417.0" y="996.5" font-size="6.5" fill="#000" text-anchor="end" textLength="10.3" lengthAdjust="spacingAndGlyphs" fill-opacity="0.7">1.2</text>
<line x1="419.5" y1="970.7" x2="423.0" y2="970.7" stroke="#333" stroke-width="0.8"/>
<text x="417.0" y="973.0" font-size="6.5" fill="#000" text-anchor="end" textLength="10.3" lengthAdjust="spacingAndGlyphs" fill-opacity="0.7">1.4</text>
<line x1="419.5" y1="947.3" x2="423.0" y2="947.3" stroke="#333" stroke-width="0.8"/>
<text x="417.0" y="949.6" font-size="6.5" fill="#000" text-anchor="end" textLength="10.3" lengthAdjust="spacingAndGlyphs" fill-opacity="0.7">1.6</text>
<line x1="419.5" y1="923.8" x2="423.0" y2="923.8" stroke="#333" stroke-width="0.8"/>
<text x="417.0" y="926.1" font-size="6.5" fill="#000" text-anchor="end" textLength="10.3" lengthAdjust="spacingAndGlyphs" fill-opacity="0.7">1.8</text>
<line x1="423.5" y1="1111.4" x2="423.5" y2="1114.9" stroke="#333" stroke-width="0.8"/>
<text x="423.5" y="1121.5" font-size="6.5" fill="#000" text-anchor="middle" textLength="37.8" lengthAdjust="spacingAndGlyphs" fill-opacity="0.7">2021-03-15</text>
<line x1="464.9" y1="1111.4" x2="464.9" y2="1114.9" stroke="#333" stroke-width="0.8"/>
<text x="464.9" y="1121.5" font-size="6.5" fill="#000" text-anchor="middle" textLength="37.8" lengthAdjust="spacingAndGlyphs" fill-opacity="0.7">2021-04-01</text>
<line x1="499.0" y1="1111.4" x2="499.0" y2="1114.9" stroke="#333" stroke-width="0.8"/>
<text x="499.0" y="1121.5" font-size="6.5" fill="#000" text-anchor="middle" textLength="37.8" lengthAdjust="spacingAndGlyphs" fill-opacity="0.7">2021-04-15</text>
<line x1="538.0" y1="1111.4" x2="538.0" y2="1114.9" stroke="#333" stroke-width="0.8"/>
<text x="538.0" y="1121.5" font-size="6.5" fill="#000" text-anchor="middle" textLength="37.8" lengthAdjust="spacingAndGlyphs" fill-opacity="0.7">2021-05-01</text>
<line x1="572.1" y1="1111.4" x2="572.1" y2="1114.9" stroke="#333" stroke-width="0.8"/>
<text x="572.1" y="1121.5" font-size="6.5" fill="#000" text-anchor="middle" textLength="37.8" lengthAdjust="spacingAndGlyphs" fill-opacity="0.7">2021-05-15</text>
<line x1="613.5" y1="1111.4" x2="613.5" y2="1114.9" stroke="#333" stroke-width="0.8"/>
<text x="613.5" y="1121.5" font-size="6.5" fill="#000" text-anchor="middle" textLength="37.8" lengthAdjust="spacingAndGlyphs" fill-opacity="0.7">2021-06-01</text>
<line x1="647.6" y1="1111.4" x2="647.6" y2="1114.9" stroke="#333" stroke-width="0.8"/>
<text x="647.6" y="1121.5" font-size="6.5" fill="#000" text-anchor="middle" textLength="37.8" lengthAdjust="spacingAndGlyphs" fill-opacity="0.7">2021-06-15</text>
<line x1="686.6" y1="1111.4" x2="686.6" y2="1114.9" stroke="#333" stroke-width="0.8"/>
<text x="686.6" y="1121.5" font-size="6.5" fill="#000" text-anchor="middle" textLength="37.8" lengthAdjust="spacingAndGlyphs" fill-opacity="0.7">2021-07-01</text>
<line x1="720.7" y1="1111.4" x2="720.7" y2="1114.9" stroke="#333" stroke-width="0.8"/>
<text x="720.7" y="1121.5" font-size="6.5" fill="#000" text-anchor="middle" textLength="37.8" lengthAdjust="spacingAndGlyphs" fill-opacity="0.7">2021-07-15</text>
<line x1="945.5" y1="923.8" x2="945.5" y2="1111.4" stroke="#8a8a8a" stroke-width="1.0"/>
<line x1="790.1" y1="1017.6" x2="1097.7" y2="1017.6" stroke="#333" stroke-width="1.1" stroke-dasharray="4,2"/>
<clipPath id="c4_2"><rect x="790.1" y="923.8" width="307.6" height="187.6"/></clipPath>
<path d="M880.13,964.18 C880.83,963.37 882.83,960.67 884.34,959.32 C885.85,957.97 887.31,956.73 889.20,956.08 C891.09,955.44 893.78,955.17 895.67,955.44 C897.56,955.71 898.91,956.78 900.53,957.70 C902.15,958.62 904.03,960.24 905.38,960.94 C906.73,961.64 907.27,962.02 908.62,961.91 C909.97,961.80 911.86,960.45 913.48,960.29 C915.09,960.13 916.44,960.94 918.33,960.94 C920.22,960.94 922.65,960.13 924.81,960.29 C926.96,960.45 929.12,961.53 931.28,961.91 C933.44,962.29 935.60,962.34 937.75,962.56 C939.91,962.77 942.61,962.77 944.23,963.20 C945.85,963.64 946.39,964.61 947.47,965.15 C948.55,965.69 949.35,966.44 950.70,966.44 C952.05,966.44 953.67,965.69 955.56,965.15 C957.45,964.61 960.15,963.37 962.03,963.20 C963.92,963.04 965.00,963.85 966.89,964.18 C968.78,964.50 971.48,964.88 973.36,965.15 C975.25,965.42 976.60,965.42 978.22,965.79 C979.84,966.17 981.19,966.44 983.07,967.41 C984.96,968.38 987.66,970.43 989.55,971.62 C991.44,972.81 992.79,974.00 994.40,974.53 C996.02,975.07 997.64,974.97 999.26,974.86 C1000.88,974.75 1002.50,974.21 1004.12,973.89 C1005.73,973.56 1008.16,973.08 1008.97,972.92" fill="none" stroke="#1f77b4" stroke-width="1.05" stroke-linejoin="round" clip-path="url(#c4_2)"/>
<line x1="790.1" y1="923.8" x2="1097.7" y2="923.8" stroke="#a8a8a8" stroke-width="1.3"/>
<line x1="790.1" y1="1111.4" x2="1097.7" y2="1111.4" stroke="#a8a8a8" stroke-width="1.3"/>
<line x1="790.1" y1="923.8" x2="790.1" y2="1111.4" stroke="#a8a8a8" stroke-width="1.3"/>
<line x1="1097.7" y1="923.8" x2="1097.7" y2="1111.4" stroke="#a8a8a8" stroke-width="1.3"/>
<line x1="786.6" y1="1111.4" x2="790.1" y2="1111.4" stroke="#333" stroke-width="0.8"/>
<text x="784.1" y="1113.7" font-size="6.5" fill="#000" text-anchor="end" textLength="14.5" lengthAdjust="spacingAndGlyphs" fill-opacity="0.7">0.00</text>
<line x1="786.6" y1="1088.0" x2="790.1" y2="1088.0" stroke="#333" stroke-width="0.8"/>
<text x="784.1" y="1090.3" font-size="6.5" fill="#000" text-anchor="end" textLength="14.5" lengthAdjust="spacingAndGlyphs" fill-opacity="0.7">0.25</text>
<line x1="786.6" y1="1064.5" x2="790.1" y2="1064.5" stroke="#333" stroke-width="0.8"/>
<text x="784.1" y="1066.8" font-size="6.5" fill="#000" text-anchor="end" textLength="14.5" lengthAdjust="spacingAndGlyphs" fill-opacity="0.7">0.50</text>
<line x1="786.6" y1="1041.1" x2="790.1" y2="1041.1" stroke="#333" stroke-width="0.8"/>
<text x="784.1" y="1043.4" font-size="6.5" fill="#000" text-anchor="end" textLength="14.5" lengthAdjust="spacingAndGlyphs" fill-opacity="0.7">0.75</text>
<line x1="786.6" y1="1017.6" x2="790.1" y2="1017.6" stroke="#333" stroke-width="0.8"/>
<text x="784.1" y="1019.9" font-size="6.5" fill="#000" text-anchor="end" textLength="14.5" lengthAdjust="spacingAndGlyphs" fill-opacity="0.7">1.00</text>
<line x1="786.6" y1="994.2" x2="790.1" y2="994.2" stroke="#333" stroke-width="0.8"/>
<text x="784.1" y="996.5" font-size="6.5" fill="#000" text-anchor="end" textLength="14.5" lengthAdjust="spacingAndGlyphs" fill-opacity="0.7">1.25</text>
<line x1="786.6" y1="970.7" x2="790.1" y2="970.7" stroke="#333" stroke-width="0.8"/>
<text x="784.1" y="973.0" font-size="6.5" fill="#000" text-anchor="end" textLength="14.5" lengthAdjust="spacingAndGlyphs" fill-opacity="0.7">1.50</text>
<line x1="786.6" y1="947.2" x2="790.1" y2="947.2" stroke="#333" stroke-width="0.8"/>
<text x="784.1" y="949.6" font-size="6.5" fill="#000" text-anchor="end" textLength="14.5" lengthAdjust="spacingAndGlyphs" fill-opacity="0.7">1.75</text>
<line x1="786.6" y1="923.8" x2="790.1" y2="923.8" stroke="#333" stroke-width="0.8"/>
<text x="784.1" y="926.1" font-size="6.5" fill="#000" text-anchor="end" textLength="14.5" lengthAdjust="spacingAndGlyphs" fill-opacity="0.7">2.00</text>
<line x1="793.6" y1="1111.4" x2="793.6" y2="1114.9" stroke="#333" stroke-width="0.8"/>
<text x="793.6" y="1121.5" font-size="6.5" fill="#000" text-anchor="middle" textLength="37.8" lengthAdjust="spacingAndGlyphs" fill-opacity="0.7">2021-03-15</text>
<line x1="835.0" y1="1111.4" x2="835.0" y2="1114.9" stroke="#333" stroke-width="0.8"/>
<text x="835.0" y="1121.5" font-size="6.5" fill="#000" text-anchor="middle" textLength="37.8" lengthAdjust="spacingAndGlyphs" fill-opacity="0.7">2021-04-01</text>
<line x1="869.1" y1="1111.4" x2="869.1" y2="1114.9" stroke="#333" stroke-width="0.8"/>
<text x="869.1" y="1121.5" font-size="6.5" fill="#000" text-anchor="middle" textLength="37.8" lengthAdjust="spacingAndGlyphs" fill-opacity="0.7">2021-04-15</text>
<line x1="908.1" y1="1111.4" x2="908.1" y2="1114.9" stroke="#333" stroke-width="0.8"/>
<text x="908.1" y="1121.5" font-size="6.5" fill="#000" text-anchor="middle" textLength="37.8" lengthAdjust="spacingAndGlyphs" fill-opacity="0.7">2021-05-01</text>
<line x1="942.2" y1="1111.4" x2="942.2" y2="1114.9" stroke="#333" stroke-width="0.8"/>
<text x="942.2" y="1121.5" font-size="6.5" fill="#000" text-anchor="middle" textLength="37.8" lengthAdjust="spacingAndGlyphs" fill-opacity="0.7">2021-05-15</text>
<line x1="983.6" y1="1111.4" x2="983.6" y2="1114.9" stroke="#333" stroke-width="0.8"/>
<text x="983.6" y="1121.5" font-size="6.5" fill="#000" text-anchor="middle" textLength="37.8" lengthAdjust="spacingAndGlyphs" fill-opacity="0.7">2021-06-01</text>
<line x1="1017.7" y1="1111.4" x2="1017.7" y2="1114.9" stroke="#333" stroke-width="0.8"/>
<text x="1017.7" y="1121.5" font-size="6.5" fill="#000" text-anchor="middle" textLength="37.8" lengthAdjust="spacingAndGlyphs" fill-opacity="0.7">2021-06-15</text>
<line x1="1056.7" y1="1111.4" x2="1056.7" y2="1114.9" stroke="#333" stroke-width="0.8"/>
<text x="1056.7" y="1121.5" font-size="6.5" fill="#000" text-anchor="middle" textLength="37.8" lengthAdjust="spacingAndGlyphs" fill-opacity="0.7">2021-07-01</text>
<line x1="1090.8" y1="1111.4" x2="1090.8" y2="1114.9" stroke="#333" stroke-width="0.8"/>
<text x="1090.8" y="1121.5" font-size="6.5" fill="#000" text-anchor="middle" textLength="37.8" lengthAdjust="spacingAndGlyphs" fill-opacity="0.7">2021-07-15</text>
<text x="24.5" y="1243.5" font-size="17" fill="#000" text-anchor="middle" textLength="132.9" lengthAdjust="spacingAndGlyphs" transform="rotate(-90 24.5 1243.5)">East of England</text>
<line x1="207.3" y1="1149.7" x2="207.3" y2="1337.3" stroke="#b8b8b8" stroke-width="1.4"/>
<clipPath id="c5_0"><rect x="54.2" y="1149.7" width="307.0" height="187.6"/></clipPath>
<polyline points="55.0,1328.7 56.5,1328.6 58.0,1328.6 59.5,1328.6 61.0,1328.6 62.5,1328.6 64.0,1328.6 65.5,1328.6 67.0,1328.6 68.5,1328.6 70.0,1328.6 71.5,1328.6 73.0,1328.6 74.5,1328.6 76.0,1328.6 77.5,1328.6 79.0,1328.6 80.5,1328.6 82.0,1328.6 83.5,1328.6 85.0,1328.6 86.5,1328.6 88.0,1328.6 89.5,1328.6 91.0,1328.6 92.5,1328.6 94.0,1328.6 95.5,1328.6 97.0,1328.6 98.5,1328.7 100.0,1328.7 101.5,1328.7 103.0,1328.7 104.5,1328.7 106.0,1328.7 107.5,1328.7 109.0,1328.7 110.5,1328.7 112.0,1328.7 113.5,1328.7 115.0,1328.7 116.5,1328.7 118.0,1328.7 119.5,1328.7 121.0,1328.7 122.5,1328.7 124.0,1328.6 125.5,1328.6 127.0,1328.6 128.5,1328.6 130.0,1328.6 131.5,1328.6 133.0,1328.6 134.5,1328.6 136.0,1328.6 137.5,1328.6 139.0,1328.5 140.5,1328.5 142.0,1328.5 143.5,1328.5 145.0,1328.5 146.5,1328.5 148.0,1328.5 149.5,1328.5 151.0,1328.5 152.5,1328.5 154.0,1328.5 155.5,1328.5 157.0,1328.4 158.5,1328.4 160.0,1328.4 161.5,1328.3 163.0,1328.3 164.5,1328.2 166.0,1328.2 167.5,1328.2 169.0,1328.1 170.5,1328.1 172.0,1328.1 173.5,1328.0 175.0,1328.0 176.5,1327.9 178.0,1327.8 179.5,1327.7 181.0,1327.6 182.5,1327.6 184.0,1327.5 185.5,1327.4 187.0,1327.4 188.5,1327.3 190.0,1327.2" fill="none" stroke="#b3d2ea" stroke-width="2.6" stroke-linejoin="round" clip-path="url(#c5_0)"/>
<polyline points="188.5,1327.3 190.0,1327.2 191.5,1327.0 193.0,1326.9 194.5,1326.9 196.0,1326.9 197.5,1326.9 199.0,1326.9 200.5,1326.9 202.0,1326.9 203.5,1326.9 205.0,1326.9 206.5,1326.7 208.0,1326.6 209.5,1326.4 211.0,1326.3 212.5,1326.1 214.0,1326.1 215.5,1326.2 217.0,1326.3 218.5,1326.5 220.0,1326.6 221.5,1326.7 223.0,1326.7 224.5,1326.8 226.0,1326.8 227.5,1326.6 229.0,1326.2 230.5,1325.8 232.0,1325.4 233.5,1324.9 235.0,1324.6 236.5,1324.4 238.0,1324.2 239.5,1324.0 241.0,1323.8 242.5,1323.7 244.0,1323.5 245.5,1323.4 247.0,1323.0 248.5,1321.2 250.0,1319.8 251.5,1319.6 253.0,1319.5 254.5,1319.6 256.0,1319.8 257.5,1320.1 259.0,1320.1 260.5,1319.8 262.0,1319.4 263.5,1319.0 265.0,1318.5 266.5,1318.0 268.0,1317.5 269.5,1316.3 271.0,1314.8 272.5,1313.3 274.0,1312.4 275.5,1311.6 277.0,1310.8 278.5,1310.0 280.0,1309.7 281.5,1309.4 283.0,1309.1 284.5,1308.1 286.0,1307.1 287.5,1306.2 289.0,1305.9 290.5,1305.5 292.0,1304.9 293.5,1303.6 295.0,1302.2 296.5,1300.9 298.0,1299.2 299.5,1297.2 301.0,1295.2 302.5,1293.0 304.0,1290.8 305.5,1288.5 307.0,1286.0 308.5,1283.4 310.0,1279.3 311.5,1274.8 313.0,1272.0 314.5,1269.5 316.0,1267.0 317.5,1262.1 319.0,1257.1 320.5,1252.1 322.0,1246.8 323.5,1241.2 325.0,1233.8 326.5,1227.4 328.0,1224.8 329.5,1221.5 331.0,1216.6 332.5,1212.9 334.0,1211.0 335.5,1209.9 337.0,1209.5 338.5,1205.7 340.0,1199.1 341.5,1193.1 343.0,1190.7 344.5,1188.3 346.0,1185.7 347.5,1183.1 349.0,1177.7 350.5,1171.7 352.0,1169.4 353.5,1167.5 355.0,1164.6 356.5,1161.5 358.0,1158.0 359.5,1157.5 360.1,1157.3" fill="none" stroke="#1f77b4" stroke-width="1.15" stroke-linejoin="round" clip-path="url(#c5_0)"/>
<polyline points="55.0,1315.4 56.5,1315.4 58.0,1315.4 59.5,1315.5 61.0,1315.5 62.5,1315.5 64.0,1315.5 65.5,1315.5 67.0,1315.5 68.5,1315.5 70.0,1315.5 71.5,1315.5 73.0,1316.2 74.5,1316.9 76.0,1317.4 77.5,1317.9 79.0,1318.3 80.5,1317.8 82.0,1317.3 83.5,1316.9 85.0,1317.1 86.5,1317.2 88.0,1317.4 89.5,1317.7 91.0,1318.2 92.5,1318.7 94.0,1319.2 95.5,1319.7 97.0,1320.2 98.5,1320.6 100.0,1321.0 101.5,1321.4 103.0,1321.8 104.5,1322.3 106.0,1322.7 107.5,1323.2 109.0,1323.2 110.5,1323.1 112.0,1323.0 113.5,1323.0 115.0,1323.1 116.5,1323.2 118.0,1323.3 119.5,1323.8 121.0,1324.3 122.5,1324.7 124.0,1324.8 125.5,1324.9 127.0,1324.9 128.5,1325.0 130.0,1325.1 131.5,1325.3 133.0,1325.7 134.5,1326.0 136.0,1326.0 137.5,1325.6 139.0,1325.3 140.5,1325.4 142.0,1325.6 143.5,1325.8 145.0,1326.0 146.5,1326.1 148.0,1326.3 149.5,1326.5 151.0,1326.7 152.5,1326.6 154.0,1326.5 155.5,1326.4 157.0,1326.3 158.5,1326.1 160.0,1325.8 161.5,1325.6 163.0,1325.5 164.5,1325.5 166.0,1325.6 167.5,1325.6 169.0,1325.6 170.5,1325.7 172.0,1325.9 173.5,1326.0 175.0,1326.2 176.5,1326.1 178.0,1326.0 179.5,1325.8 181.0,1325.7 182.5,1325.5 184.0,1325.5 185.5,1325.4 187.0,1325.4 188.5,1325.4 190.0,1325.4 191.5,1325.4 193.0,1325.5 194.5,1325.8 196.0,1326.0 197.5,1326.2 199.0,1326.4 200.5,1326.5 202.0,1326.7 203.5,1326.8 205.0,1325.1 216.5,1326.9 233.9,1327.2 262.7,1327.5 360.1,1327.5" fill="none" stroke="#ff7f0e" stroke-width="1.1" stroke-linejoin="round" clip-path="url(#c5_0)"/>
<polyline points="55.0,1315.4 71.6,1315.4 74.5,1316.8 78.9,1318.3 83.2,1316.8 89.0,1317.4 93.3,1318.9 97.6,1320.3 101.9,1321.5 107.7,1323.2 113.5,1322.9 117.8,1323.2 122.1,1324.6 130.8,1325.1 135.1,1326.1 139.4,1325.1 145.2,1325.8 151.0,1326.5 156.8,1326.1 162.5,1325.1 169.7,1325.1 175.5,1325.5 182.7,1324.3 192.8,1323.6 198.6,1324.6 205.0,1325.1 213.7,1324.3 219.4,1325.5 226.6,1326.1 233.9,1323.6 241.1,1322.9 246.8,1322.6 249.7,1318.9 254.1,1318.6 258.4,1319.3 262.7,1318.3 268.5,1316.4 272.8,1312.1 278.6,1309.2 282.9,1308.5 287.2,1305.6 291.6,1304.9 297.3,1299.8 301.7,1294.0 306.0,1287.6 308.9,1282.5 311.8,1273.8 316.1,1266.6 320.4,1252.2 323.3,1242.1 326.2,1227.7 329.1,1222.6 332.0,1213.3 334.8,1209.6 337.7,1208.9 341.3,1193.1 344.9,1187.3 347.8,1182.2 350.7,1170.7 353.6,1167.1 356.5,1161.3 357.9,1157.7 360.1,1157.0" fill="none" stroke="#2ca02c" stroke-width="1.1" stroke-linejoin="round" clip-path="url(#c5_0)"/>
<line x1="54.2" y1="1149.7" x2="361.2" y2="1149.7" stroke="#1a1a1a" stroke-width="1.8"/>
<line x1="54.2" y1="1337.3" x2="361.2" y2="1337.3" stroke="#111" stroke-width="1.6"/>
<line x1="54.2" y1="1149.7" x2="54.2" y2="1337.3" stroke="#111" stroke-width="1.6"/>
<line x1="361.2" y1="1149.7" x2="361.2" y2="1337.3" stroke="#d62728" stroke-width="1.6"/>
<clipPath id="c5_0r"><rect x="54.2" y="1148.7" width="307.0" height="189.6"/></clipPath>
<polyline points="55.0,1336.6 99.1,1336.2 119.3,1335.6 130.8,1333.7 136.6,1330.8 142.3,1327.2 148.1,1322.9 153.9,1320.7 159.6,1317.1 165.4,1312.8 169.7,1307.0 174.1,1298.4 179.8,1289.7 187.1,1283.9 189.9,1278.2 192.8,1269.5 197.2,1259.4 201.5,1250.8 205.0,1245.0 207.9,1234.9 210.8,1229.1 216.5,1216.1 222.3,1210.4 229.5,1203.2 232.4,1197.4 235.3,1190.2 238.2,1183.0 241.1,1178.6 246.8,1170.7 251.2,1166.4 254.1,1166.4 256.9,1168.2 262.7,1167.8 267.0,1164.2 271.4,1162.0 275.7,1159.1 280.0,1157.0 285.8,1155.5 291.6,1153.4 298.8,1151.9 306.0,1150.9 320.4,1150.5 360.1,1150.1" fill="none" stroke="#ff0000" stroke-width="1.15" stroke-linejoin="round" stroke-dasharray="3.5,2.2" clip-path="url(#c5_0r)"/>
<line x1="50.7" y1="1328.7" x2="54.2" y2="1328.7" stroke="#333" stroke-width="0.8"/>
<text x="48.2" y="1331.0" font-size="6.5" fill="#000" text-anchor="end" textLength="4.1" lengthAdjust="spacingAndGlyphs" fill-opacity="0.7">0</text>
<line x1="50.7" y1="1295.6" x2="54.2" y2="1295.6" stroke="#333" stroke-width="0.8"/>
<text x="48.2" y="1298.0" font-size="6.5" fill="#000" text-anchor="end" textLength="16.5" lengthAdjust="spacingAndGlyphs" fill-opacity="0.7">1000</text>
<line x1="50.7" y1="1262.6" x2="54.2" y2="1262.6" stroke="#333" stroke-width="0.8"/>
<text x="48.2" y="1264.9" font-size="6.5" fill="#000" text-anchor="end" textLength="16.5" lengthAdjust="spacingAndGlyphs" fill-opacity="0.7">2000</text>
<line x1="50.7" y1="1229.5" x2="54.2" y2="1229.5" stroke="#333" stroke-width="0.8"/>
<text x="48.2" y="1231.9" font-size="6.5" fill="#000" text-anchor="end" textLength="16.5" lengthAdjust="spacingAndGlyphs" fill-opacity="0.7">3000</text>
<line x1="50.7" y1="1196.5" x2="54.2" y2="1196.5" stroke="#333" stroke-width="0.8"/>
<text x="48.2" y="1198.8" font-size="6.5" fill="#000" text-anchor="end" textLength="16.5" lengthAdjust="spacingAndGlyphs" fill-opacity="0.7">4000</text>
<line x1="50.7" y1="1163.4" x2="54.2" y2="1163.4" stroke="#333" stroke-width="0.8"/>
<text x="48.2" y="1165.7" font-size="6.5" fill="#000" text-anchor="end" textLength="16.5" lengthAdjust="spacingAndGlyphs" fill-opacity="0.7">5000</text>
<line x1="361.2" y1="1337.3" x2="364.7" y2="1337.3" stroke="#ff0000" stroke-width="0.8"/>
<text x="366.2" y="1339.5" font-size="6.0" fill="#ff0000" text-anchor="start" textLength="9.5" lengthAdjust="spacingAndGlyphs" fill-opacity="0.9">0.0</text>
<line x1="361.2" y1="1299.8" x2="364.7" y2="1299.8" stroke="#ff0000" stroke-width="0.8"/>
<text x="366.2" y="1301.9" font-size="6.0" fill="#ff0000" text-anchor="start" textLength="9.5" lengthAdjust="spacingAndGlyphs" fill-opacity="0.9">0.2</text>
<line x1="361.2" y1="1262.3" x2="364.7" y2="1262.3" stroke="#ff0000" stroke-width="0.8"/>
<text x="366.2" y="1264.4" font-size="6.0" fill="#ff0000" text-anchor="start" textLength="9.5" lengthAdjust="spacingAndGlyphs" fill-opacity="0.9">0.4</text>
<line x1="361.2" y1="1224.7" x2="364.7" y2="1224.7" stroke="#ff0000" stroke-width="0.8"/>
<text x="366.2" y="1226.9" font-size="6.0" fill="#ff0000" text-anchor="start" textLength="9.5" lengthAdjust="spacingAndGlyphs" fill-opacity="0.9">0.6</text>
<line x1="361.2" y1="1187.2" x2="364.7" y2="1187.2" stroke="#ff0000" stroke-width="0.8"/>
<text x="366.2" y="1189.4" font-size="6.0" fill="#ff0000" text-anchor="start" textLength="9.5" lengthAdjust="spacingAndGlyphs" fill-opacity="0.9">0.8</text>
<line x1="361.2" y1="1149.7" x2="364.7" y2="1149.7" stroke="#ff0000" stroke-width="0.8"/>
<text x="366.2" y="1151.9" font-size="6.0" fill="#ff0000" text-anchor="start" textLength="9.5" lengthAdjust="spacingAndGlyphs" fill-opacity="0.9">1.0</text>
<line x1="55.7" y1="1337.3" x2="55.7" y2="1340.8" stroke="#333" stroke-width="0.8"/>
<text x="55.7" y="1347.4" font-size="6.5" fill="#000" text-anchor="middle" textLength="37.8" lengthAdjust="spacingAndGlyphs" fill-opacity="0.7">2021-03-15</text>
<line x1="97.1" y1="1337.3" x2="97.1" y2="1340.8" stroke="#333" stroke-width="0.8"/>
<text x="97.1" y="1347.4" font-size="6.5" fill="#000" text-anchor="middle" textLength="37.8" lengthAdjust="spacingAndGlyphs" fill-opacity="0.7">2021-04-01</text>
<line x1="131.2" y1="1337.3" x2="131.2" y2="1340.8" stroke="#333" stroke-width="0.8"/>
<text x="131.2" y="1347.4" font-size="6.5" fill="#000" text-anchor="middle" textLength="37.8" lengthAdjust="spacingAndGlyphs" fill-opacity="0.7">2021-04-15</text>
<line x1="170.2" y1="1337.3" x2="170.2" y2="1340.8" stroke="#333" stroke-width="0.8"/>
<text x="170.2" y="1347.4" font-size="6.5" fill="#000" text-anchor="middle" textLength="37.8" lengthAdjust="spacingAndGlyphs" fill-opacity="0.7">2021-05-01</text>
<line x1="204.3" y1="1337.3" x2="204.3" y2="1340.8" stroke="#333" stroke-width="0.8"/>
<text x="204.3" y="1347.4" font-size="6.5" fill="#000" text-anchor="middle" textLength="37.8" lengthAdjust="spacingAndGlyphs" fill-opacity="0.7">2021-05-15</text>
<line x1="245.7" y1="1337.3" x2="245.7" y2="1340.8" stroke="#333" stroke-width="0.8"/>
<text x="245.7" y="1347.4" font-size="6.5" fill="#000" text-anchor="middle" textLength="37.8" lengthAdjust="spacingAndGlyphs" fill-opacity="0.7">2021-06-01</text>
<line x1="279.8" y1="1337.3" x2="279.8" y2="1340.8" stroke="#333" stroke-width="0.8"/>
<text x="279.8" y="1347.4" font-size="6.5" fill="#000" text-anchor="middle" textLength="37.8" lengthAdjust="spacingAndGlyphs" fill-opacity="0.7">2021-06-15</text>
<line x1="318.8" y1="1337.3" x2="318.8" y2="1340.8" stroke="#333" stroke-width="0.8"/>
<text x="318.8" y="1347.4" font-size="6.5" fill="#000" text-anchor="middle" textLength="37.8" lengthAdjust="spacingAndGlyphs" fill-opacity="0.7">2021-07-01</text>
<line x1="352.9" y1="1337.3" x2="352.9" y2="1340.8" stroke="#333" stroke-width="0.8"/>
<text x="352.9" y="1347.4" font-size="6.5" fill="#000" text-anchor="middle" textLength="37.8" lengthAdjust="spacingAndGlyphs" fill-opacity="0.7">2021-07-15</text>
<text x="389.0" y="1243.5" font-size="12" fill="#ff0000" text-anchor="middle" textLength="146.8" lengthAdjust="spacingAndGlyphs" transform="rotate(-90 389.0 1243.5)">Percentage new variant</text>
<line x1="576.6" y1="1149.7" x2="576.6" y2="1337.3" stroke="#8a8a8a" stroke-width="1.0"/>
<line x1="423.0" y1="1243.5" x2="730.3" y2="1243.5" stroke="#000" stroke-width="1.6" stroke-dasharray="4,2"/>
<clipPath id="c5_1"><rect x="423.0" y="1149.7" width="307.3" height="187.6"/></clipPath>
<path d="M510.50,1205.90 C512.01,1205.90 516.45,1205.79 519.59,1205.90 C522.72,1206.01 526.08,1206.44 529.32,1206.55 C532.57,1206.65 535.82,1206.28 539.06,1206.55 C542.31,1206.82 546.10,1207.90 548.80,1208.17 C551.51,1208.44 553.13,1207.90 555.29,1208.17 C557.46,1208.44 559.62,1209.14 561.79,1209.79 C563.95,1210.44 565.84,1211.47 568.28,1212.06 C570.71,1212.66 573.69,1212.93 576.39,1213.36 C579.10,1213.80 582.07,1214.55 584.51,1214.66 C586.94,1214.77 588.84,1214.45 591.00,1214.01 C593.17,1213.58 595.33,1213.04 597.49,1212.06 C599.66,1211.09 601.82,1209.04 603.99,1208.17 C606.15,1207.30 607.77,1207.03 610.48,1206.87 C613.18,1206.71 617.51,1206.71 620.22,1207.20 C622.92,1207.68 624.82,1208.98 626.71,1209.79 C628.60,1210.60 629.95,1211.90 631.58,1212.06 C633.20,1212.23 634.55,1211.31 636.45,1210.77 C638.34,1210.23 640.78,1208.98 642.94,1208.82 C645.10,1208.66 647.27,1209.36 649.43,1209.79 C651.60,1210.23 654.57,1211.04 655.92,1211.42 C657.28,1211.79 657.28,1211.96 657.55,1212.06" fill="none" stroke="#1f77b4" stroke-width="1.05" stroke-linejoin="round" clip-path="url(#c5_1)"/>
<path d="M510.50,1245.50 C512.55,1245.50 518.61,1245.50 522.83,1245.50 C527.05,1245.50 531.49,1245.39 535.82,1245.50 C540.14,1245.61 545.28,1245.88 548.80,1246.15 C552.32,1246.42 554.75,1246.69 556.92,1247.12 C559.08,1247.56 559.89,1248.21 561.79,1248.75 C563.68,1249.29 565.84,1249.99 568.28,1250.37 C570.71,1250.75 573.15,1250.91 576.39,1251.02 C579.64,1251.13 583.70,1251.13 587.75,1251.02 C591.81,1250.91 596.95,1250.64 600.74,1250.37 C604.53,1250.10 607.23,1249.77 610.48,1249.40 C613.72,1249.02 616.97,1248.48 620.22,1248.10 C623.46,1247.72 626.17,1247.29 629.95,1247.12 C633.74,1246.96 638.34,1247.12 642.94,1247.12 C647.54,1247.12 655.11,1247.12 657.55,1247.12" fill="none" stroke="#ff7f0e" stroke-width="1.05" stroke-linejoin="round" clip-path="url(#c5_1)"/>
<line x1="423.0" y1="1149.7" x2="730.3" y2="1149.7" stroke="#1a1a1a" stroke-width="1.8"/>
<line x1="423.0" y1="1337.3" x2="730.3" y2="1337.3" stroke="#1a1a1a" stroke-width="1.8"/>
<line x1="423.0" y1="1149.7" x2="423.0" y2="1337.3" stroke="#a8a8a8" stroke-width="1.3"/>
<line x1="730.3" y1="1149.7" x2="730.3" y2="1337.3" stroke="#a8a8a8" stroke-width="1.3"/>
<line x1="419.5" y1="1337.3" x2="423.0" y2="1337.3" stroke="#333" stroke-width="0.8"/>
<text x="417.0" y="1339.6" font-size="6.5" fill="#000" text-anchor="end" textLength="10.3" lengthAdjust="spacingAndGlyphs" fill-opacity="0.7">0.2</text>
<line x1="419.5" y1="1313.8" x2="423.0" y2="1313.8" stroke="#333" stroke-width="0.8"/>
<text x="417.0" y="1316.2" font-size="6.5" fill="#000" text-anchor="end" textLength="10.3" lengthAdjust="spacingAndGlyphs" fill-opacity="0.7">0.4</text>
<line x1="419.5" y1="1290.4" x2="423.0" y2="1290.4" stroke="#333" stroke-width="0.8"/>
<text x="417.0" y="1292.7" font-size="6.5" fill="#000" text-anchor="end" textLength="10.3" lengthAdjust="spacingAndGlyphs" fill-opacity="0.7">0.6</text>
<line x1="419.5" y1="1267.0" x2="423.0" y2="1267.0" stroke="#333" stroke-width="0.8"/>
<text x="417.0" y="1269.3" font-size="6.5" fill="#000" text-anchor="end" textLength="10.3" lengthAdjust="spacingAndGlyphs" fill-opacity="0.7">0.8</text>
<line x1="419.5" y1="1243.5" x2="423.0" y2="1243.5" stroke="#333" stroke-width="0.8"/>
<text x="417.0" y="1245.8" font-size="6.5" fill="#000" text-anchor="end" textLength="10.3" lengthAdjust="spacingAndGlyphs" fill-opacity="0.7">1.0</text>
<line x1="419.5" y1="1220.1" x2="423.0" y2="1220.1" stroke="#333" stroke-width="0.8"/>
<text x="417.0" y="1222.4" font-size="6.5" fill="#000" text-anchor="end" textLength="10.3" lengthAdjust="spacingAndGlyphs" fill-opacity="0.7">1.2</text>
<line x1="419.5" y1="1196.6" x2="423.0" y2="1196.6" stroke="#333" stroke-width="0.8"/>
<text x="417.0" y="1198.9" font-size="6.5" fill="#000" text-anchor="end" textLength="10.3" lengthAdjust="spacingAndGlyphs" fill-opacity="0.7">1.4</text>
<line x1="419.5" y1="1173.2" x2="423.0" y2="1173.2" stroke="#333" stroke-width="0.8"/>
<text x="417.0" y="1175.5" font-size="6.5" fill="#000" text-anchor="end" textLength="10.3" lengthAdjust="spacingAndGlyphs" fill-opacity="0.7">1.6</text>
<line x1="419.5" y1="1149.7" x2="423.0" y2="1149.7" stroke="#333" stroke-width="0.8"/>
<text x="417.0" y="1152.0" font-size="6.5" fill="#000" text-anchor="end" textLength="10.3" lengthAdjust="spacingAndGlyphs" fill-opacity="0.7">1.8</text>
<line x1="423.5" y1="1337.3" x2="423.5" y2="1340.8" stroke="#333" stroke-width="0.8"/>
<text x="423.5" y="1347.4" font-size="6.5" fill="#000" text-anchor="middle" textLength="37.8" lengthAdjust="spacingAndGlyphs" fill-opacity="0.7">2021-03-15</text>
<line x1="464.9" y1="1337.3" x2="464.9" y2="1340.8" stroke="#333" stroke-width="0.8"/>
<text x="464.9" y="1347.4" font-size="6.5" fill="#000" text-anchor="middle" textLength="37.8" lengthAdjust="spacingAndGlyphs" fill-opacity="0.7">2021-04-01</text>
<line x1="499.0" y1="1337.3" x2="499.0" y2="1340.8" stroke="#333" stroke-width="0.8"/>
<text x="499.0" y="1347.4" font-size="6.5" fill="#000" text-anchor="middle" textLength="37.8" lengthAdjust="spacingAndGlyphs" fill-opacity="0.7">2021-04-15</text>
<line x1="538.0" y1="1337.3" x2="538.0" y2="1340.8" stroke="#333" stroke-width="0.8"/>
<text x="538.0" y="1347.4" font-size="6.5" fill="#000" text-anchor="middle" textLength="37.8" lengthAdjust="spacingAndGlyphs" fill-opacity="0.7">2021-05-01</text>
<line x1="572.1" y1="1337.3" x2="572.1" y2="1340.8" stroke="#333" stroke-width="0.8"/>
<text x="572.1" y="1347.4" font-size="6.5" fill="#000" text-anchor="middle" textLength="37.8" lengthAdjust="spacingAndGlyphs" fill-opacity="0.7">2021-05-15</text>
<line x1="613.5" y1="1337.3" x2="613.5" y2="1340.8" stroke="#333" stroke-width="0.8"/>
<text x="613.5" y="1347.4" font-size="6.5" fill="#000" text-anchor="middle" textLength="37.8" lengthAdjust="spacingAndGlyphs" fill-opacity="0.7">2021-06-01</text>
<line x1="647.6" y1="1337.3" x2="647.6" y2="1340.8" stroke="#333" stroke-width="0.8"/>
<text x="647.6" y="1347.4" font-size="6.5" fill="#000" text-anchor="middle" textLength="37.8" lengthAdjust="spacingAndGlyphs" fill-opacity="0.7">2021-06-15</text>
<line x1="686.6" y1="1337.3" x2="686.6" y2="1340.8" stroke="#333" stroke-width="0.8"/>
<text x="686.6" y="1347.4" font-size="6.5" fill="#000" text-anchor="middle" textLength="37.8" lengthAdjust="spacingAndGlyphs" fill-opacity="0.7">2021-07-01</text>
<line x1="720.7" y1="1337.3" x2="720.7" y2="1340.8" stroke="#333" stroke-width="0.8"/>
<text x="720.7" y="1347.4" font-size="6.5" fill="#000" text-anchor="middle" textLength="37.8" lengthAdjust="spacingAndGlyphs" fill-opacity="0.7">2021-07-15</text>
<line x1="945.5" y1="1149.7" x2="945.5" y2="1337.3" stroke="#8a8a8a" stroke-width="1.0"/>
<line x1="790.1" y1="1243.5" x2="1097.7" y2="1243.5" stroke="#000" stroke-width="1.6" stroke-dasharray="4,2"/>
<clipPath id="c5_2"><rect x="790.1" y="1149.7" width="307.6" height="187.6"/></clipPath>
<path d="M880.13,1210.57 C882.18,1210.57 888.77,1210.35 892.43,1210.57 C896.10,1210.79 897.83,1211.65 902.15,1211.86 C906.46,1212.08 914.29,1211.86 918.33,1211.86 C922.38,1211.86 923.73,1212.08 926.42,1211.86 C929.12,1211.65 931.55,1210.57 934.52,1210.57 C937.48,1210.57 940.45,1211.65 944.23,1211.86 C948.01,1212.08 953.40,1212.24 957.18,1211.86 C960.95,1211.49 963.65,1210.35 966.89,1209.60 C970.13,1208.84 973.90,1207.49 976.60,1207.33 C979.30,1207.17 980.65,1208.25 983.07,1208.63 C985.50,1209.01 988.47,1208.74 991.17,1209.60 C993.87,1210.46 996.83,1213.27 999.26,1213.81 C1001.69,1214.35 1003.58,1213.38 1005.73,1212.84 C1007.89,1212.30 1010.05,1210.73 1012.21,1210.57 C1014.37,1210.41 1016.63,1211.33 1018.68,1211.86 C1020.73,1212.40 1023.54,1213.48 1024.51,1213.81" fill="none" stroke="#1f77b4" stroke-width="1.05" stroke-linejoin="round" clip-path="url(#c5_2)"/>
<line x1="790.1" y1="1149.7" x2="1097.7" y2="1149.7" stroke="#1a1a1a" stroke-width="1.8"/>
<line x1="790.1" y1="1337.3" x2="1097.7" y2="1337.3" stroke="#1a1a1a" stroke-width="1.8"/>
<line x1="790.1" y1="1149.7" x2="790.1" y2="1337.3" stroke="#a8a8a8" stroke-width="1.3"/>
<line x1="1097.7" y1="1149.7" x2="1097.7" y2="1337.3" stroke="#a8a8a8" stroke-width="1.3"/>
<line x1="786.6" y1="1337.3" x2="790.1" y2="1337.3" stroke="#333" stroke-width="0.8"/>
<text x="784.1" y="1339.6" font-size="6.5" fill="#000" text-anchor="end" textLength="14.5" lengthAdjust="spacingAndGlyphs" fill-opacity="0.7">0.00</text>
<line x1="786.6" y1="1313.8" x2="790.1" y2="1313.8" stroke="#333" stroke-width="0.8"/>
<text x="784.1" y="1316.2" font-size="6.5" fill="#000" text-anchor="end" textLength="14.5" lengthAdjust="spacingAndGlyphs" fill-opacity="0.7">0.25</text>
<line x1="786.6" y1="1290.4" x2="790.1" y2="1290.4" stroke="#333" stroke-width="0.8"/>
<text x="784.1" y="1292.7" font-size="6.5" fill="#000" text-anchor="end" textLength="14.5" lengthAdjust="spacingAndGlyphs" fill-opacity="0.7">0.50</text>
<line x1="786.6" y1="1267.0" x2="790.1" y2="1267.0" stroke="#333" stroke-width="0.8"/>
<text x="784.1" y="1269.3" font-size="6.5" fill="#000" text-anchor="end" textLength="14.5" lengthAdjust="spacingAndGlyphs" fill-opacity="0.7">0.75</text>
<line x1="786.6" y1="1243.5" x2="790.1" y2="1243.5" stroke="#333" stroke-width="0.8"/>
<text x="784.1" y="1245.8" font-size="6.5" fill="#000" text-anchor="end" textLength="14.5" lengthAdjust="spacingAndGlyphs" fill-opacity="0.7">1.00</text>
<line x1="786.6" y1="1220.0" x2="790.1" y2="1220.0" stroke="#333" stroke-width="0.8"/>
<text x="784.1" y="1222.4" font-size="6.5" fill="#000" text-anchor="end" textLength="14.5" lengthAdjust="spacingAndGlyphs" fill-opacity="0.7">1.25</text>
<line x1="786.6" y1="1196.6" x2="790.1" y2="1196.6" stroke="#333" stroke-width="0.8"/>
<text x="784.1" y="1198.9" font-size="6.5" fill="#000" text-anchor="end" textLength="14.5" lengthAdjust="spacingAndGlyphs" fill-opacity="0.7">1.50</text>
<line x1="786.6" y1="1173.2" x2="790.1" y2="1173.2" stroke="#333" stroke-width="0.8"/>
<text x="784.1" y="1175.5" font-size="6.5" fill="#000" text-anchor="end" textLength="14.5" lengthAdjust="spacingAndGlyphs" fill-opacity="0.7">1.75</text>
<line x1="786.6" y1="1149.7" x2="790.1" y2="1149.7" stroke="#333" stroke-width="0.8"/>
<text x="784.1" y="1152.0" font-size="6.5" fill="#000" text-anchor="end" textLength="14.5" lengthAdjust="spacingAndGlyphs" fill-opacity="0.7">2.00</text>
<line x1="793.6" y1="1337.3" x2="793.6" y2="1340.8" stroke="#333" stroke-width="0.8"/>
<text x="793.6" y="1347.4" font-size="6.5" fill="#000" text-anchor="middle" textLength="37.8" lengthAdjust="spacingAndGlyphs" fill-opacity="0.7">2021-03-15</text>
<line x1="835.0" y1="1337.3" x2="835.0" y2="1340.8" stroke="#333" stroke-width="0.8"/>
<text x="835.0" y="1347.4" font-size="6.5" fill="#000" text-anchor="middle" textLength="37.8" lengthAdjust="spacingAndGlyphs" fill-opacity="0.7">2021-04-01</text>
<line x1="869.1" y1="1337.3" x2="869.1" y2="1340.8" stroke="#333" stroke-width="0.8"/>
<text x="869.1" y="1347.4" font-size="6.5" fill="#000" text-anchor="middle" textLength="37.8" lengthAdjust="spacingAndGlyphs" fill-opacity="0.7">2021-04-15</text>
<line x1="908.1" y1="1337.3" x2="908.1" y2="1340.8" stroke="#333" stroke-width="0.8"/>
<text x="908.1" y="1347.4" font-size="6.5" fill="#000" text-anchor="middle" textLength="37.8" lengthAdjust="spacingAndGlyphs" fill-opacity="0.7">2021-05-01</text>
<line x1="942.2" y1="1337.3" x2="942.2" y2="1340.8" stroke="#333" stroke-width="0.8"/>
<text x="942.2" y="1347.4" font-size="6.5" fill="#000" text-anchor="middle" textLength="37.8" lengthAdjust="spacingAndGlyphs" fill-opacity="0.7">2021-05-15</text>
<line x1="983.6" y1="1337.3" x2="983.6" y2="1340.8" stroke="#333" stroke-width="0.8"/>
<text x="983.6" y="1347.4" font-size="6.5" fill="#000" text-anchor="middle" textLength="37.8" lengthAdjust="spacingAndGlyphs" fill-opacity="0.7">2021-06-01</text>
<line x1="1017.7" y1="1337.3" x2="1017.7" y2="1340.8" stroke="#333" stroke-width="0.8"/>
<text x="1017.7" y="1347.4" font-size="6.5" fill="#000" text-anchor="middle" textLength="37.8" lengthAdjust="spacingAndGlyphs" fill-opacity="0.7">2021-06-15</text>
<line x1="1056.7" y1="1337.3" x2="1056.7" y2="1340.8" stroke="#333" stroke-width="0.8"/>
<text x="1056.7" y="1347.4" font-size="6.5" fill="#000" text-anchor="middle" textLength="37.8" lengthAdjust="spacingAndGlyphs" fill-opacity="0.7">2021-07-01</text>
<line x1="1090.8" y1="1337.3" x2="1090.8" y2="1340.8" stroke="#333" stroke-width="0.8"/>
<text x="1090.8" y="1347.4" font-size="6.5" fill="#000" text-anchor="middle" textLength="37.8" lengthAdjust="spacingAndGlyphs" fill-opacity="0.7">2021-07-15</text>
<text x="22.0" y="1469.4" font-size="17" fill="#000" text-anchor="middle" textLength="62.3" lengthAdjust="spacingAndGlyphs" transform="rotate(-90 22.0 1469.4)">London</text>
<line x1="207.3" y1="1375.6" x2="207.3" y2="1563.2" stroke="#b8b8b8" stroke-width="1.4"/>
<clipPath id="c6_0"><rect x="54.2" y="1375.6" width="307.0" height="187.6"/></clipPath>
<polyline points="55.0,1554.3 56.5,1554.3 58.0,1554.3 59.5,1554.3 61.0,1554.3 62.5,1554.3 64.0,1554.3 65.5,1554.2 67.0,1554.2 68.5,1554.2 70.0,1554.2 71.5,1554.2 73.0,1554.2 74.5,1554.2 76.0,1554.2 77.5,1554.2 79.0,1554.2 80.5,1554.2 82.0,1554.2 83.5,1554.2 85.0,1554.2 86.5,1554.2 88.0,1554.2 89.5,1554.2 91.0,1554.2 92.5,1554.2 94.0,1554.2 95.5,1554.2 97.0,1554.2 98.5,1554.2 100.0,1554.2 101.5,1554.2 103.0,1554.2 104.5,1554.2 106.0,1554.2 107.5,1554.2 109.0,1554.2 110.5,1554.2 112.0,1554.2 113.5,1554.1 115.0,1554.1 116.5,1554.1 118.0,1554.1 119.5,1554.1 121.0,1554.1 122.5,1554.2 124.0,1554.2 125.5,1554.2 127.0,1554.2 128.5,1554.2 130.0,1554.2 131.5,1554.2 133.0,1554.2 134.5,1554.2 136.0,1554.2 137.5,1554.1 139.0,1554.1 140.5,1554.1 142.0,1554.1 143.5,1554.0 145.0,1554.0 146.5,1554.0 148.0,1554.0 149.5,1554.0 151.0,1554.0 152.5,1553.9 154.0,1553.9 155.5,1553.9 157.0,1553.9 158.5,1553.8 160.0,1553.8 161.5,1553.8 163.0,1553.7 164.5,1553.7 166.0,1553.7 167.5,1553.6 169.0,1553.6 170.5,1553.5 172.0,1553.5 173.5,1553.4 175.0,1553.3 176.5,1553.3 178.0,1553.2 179.5,1553.0 181.0,1552.9 182.5,1552.7" fill="none" stroke="#1f77b4" stroke-width="1.7" stroke-linejoin="round" clip-path="url(#c6_0)"/>
<polyline points="181.0,1552.9 182.5,1552.7 184.0,1552.7 185.5,1552.7 187.0,1552.7 188.5,1552.7 190.0,1552.7 191.5,1552.6 193.0,1552.6 194.5,1552.6 196.0,1552.5 197.5,1552.3 199.0,1552.2 200.5,1552.0 202.0,1551.9 203.5,1551.8 205.0,1551.7 206.5,1551.7 208.0,1551.8 209.5,1551.8 211.0,1551.9 212.5,1552.0 214.0,1552.1 215.5,1552.2 217.0,1552.4 218.5,1552.5 220.0,1552.6 221.5,1552.4 223.0,1552.3 224.5,1552.2 226.0,1552.0 227.5,1551.8 229.0,1551.6 230.5,1551.3 232.0,1551.0 233.5,1550.8 235.0,1550.4 236.5,1549.9 238.0,1549.5 239.5,1549.0 241.0,1548.6 242.5,1547.2 244.0,1545.8 245.5,1544.4 247.0,1542.7 248.5,1541.0 250.0,1539.6 251.5,1539.3 253.0,1538.9 254.5,1538.6 256.0,1538.6 257.5,1538.5 259.0,1538.4 260.5,1538.4 262.0,1538.4 263.5,1538.4 265.0,1538.4 266.5,1537.7 268.0,1536.6 269.5,1535.4 271.0,1534.6 272.5,1533.7 274.0,1532.9 275.5,1532.1 277.0,1531.3 278.5,1530.4 280.0,1529.5 281.5,1528.6 283.0,1527.2 284.5,1525.8 286.0,1524.3 287.5,1523.1 289.0,1522.7 290.5,1522.3 292.0,1521.4 293.5,1519.7 295.0,1517.9 296.5,1515.9 298.0,1513.4 299.5,1510.9 301.0,1509.0 302.5,1507.7 304.0,1506.4 305.5,1503.2 307.0,1499.2 308.5,1495.2 310.0,1492.3 311.5,1489.8 313.0,1487.3 314.5,1486.4 316.0,1485.6 317.5,1484.9 319.0,1484.0 320.5,1480.2 322.0,1476.5 323.5,1473.0 325.0,1469.5 326.5,1466.2 328.0,1463.7 329.5,1461.2 331.0,1459.2 332.5,1457.9 334.0,1456.7 335.5,1454.8 337.0,1452.2 338.5,1449.3 340.0,1446.3 341.5,1443.3 343.0,1441.3 344.5,1439.8 346.0,1438.3 347.5,1432.7 349.0,1426.0 350.5,1416.1 352.0,1408.9 353.5,1402.1 355.0,1399.0 356.5,1395.9 358.0,1390.8 359.5,1385.7 360.1,1383.9" fill="none" stroke="#1f77b4" stroke-width="1.15" stroke-linejoin="round" clip-path="url(#c6_0)"/>
<polyline points="55.0,1547.8 56.5,1547.8 58.0,1547.8 59.5,1547.8 61.0,1547.8 62.5,1547.8 64.0,1547.8 65.5,1547.1 67.0,1546.2 68.5,1545.9 70.0,1545.8 71.5,1545.7 73.0,1545.5 74.5,1545.4 76.0,1545.2 77.5,1545.1 79.0,1545.0 80.5,1545.2 82.0,1545.4 83.5,1545.7 85.0,1545.9 86.5,1546.1 88.0,1546.1 89.5,1546.1 91.0,1546.1 92.5,1546.1 94.0,1546.0 95.5,1545.8 97.0,1545.6 98.5,1545.4 100.0,1545.5 101.5,1545.8 103.0,1546.1 104.5,1546.3 106.0,1546.9 107.5,1547.5 109.0,1548.1 110.5,1548.7 112.0,1549.0 113.5,1549.2 115.0,1549.4 116.5,1549.6 118.0,1549.9 119.5,1550.2 121.0,1550.6 122.5,1551.0 124.0,1551.4 125.5,1551.7 127.0,1552.0 128.5,1552.2 130.0,1552.5 131.5,1552.6 133.0,1552.6 134.5,1552.6 136.0,1552.7 137.5,1552.7 139.0,1552.7 140.5,1552.7 142.0,1552.7 143.5,1552.8 145.0,1552.8 146.5,1552.8 148.0,1552.8 149.5,1552.8 151.0,1552.8 152.5,1552.8 154.0,1552.8 155.5,1552.8 157.0,1552.8 158.5,1552.7 160.0,1552.7 161.5,1552.7 163.0,1552.7 164.5,1552.7 166.0,1552.7 167.5,1552.7 169.0,1552.7 170.5,1552.7 172.0,1552.7 173.5,1552.8 175.0,1552.8 176.5,1552.8 178.0,1552.7 179.5,1552.6 181.0,1552.4 182.5,1552.2 184.0,1552.2 185.5,1552.2 187.0,1552.2 188.5,1552.1 190.0,1552.1 191.5,1552.1 193.0,1552.1 194.5,1552.0 196.0,1552.0 197.5,1552.0 199.0,1552.0 200.5,1552.0 202.0,1552.1 203.5,1552.2 205.0,1552.1 219.4,1553.2 233.9,1552.5 248.3,1552.1 262.7,1552.1 269.9,1553.5 291.6,1553.9 360.1,1553.9" fill="none" stroke="#ff7f0e" stroke-width="1.1" stroke-linejoin="round" clip-path="url(#c6_0)"/>
<polyline points="55.0,1547.7 64.4,1547.7 67.3,1546.0 78.9,1544.9 86.1,1546.0 93.3,1546.0 99.1,1545.3 104.8,1546.3 110.6,1548.6 117.8,1549.6 125.0,1551.5 130.8,1552.5 151.0,1552.5 165.4,1552.1 177.0,1551.8 182.7,1550.6 194.3,1550.3 201.5,1549.6 205.0,1549.6 212.2,1550.6 219.4,1551.8 226.6,1551.1 233.9,1549.6 241.1,1547.5 245.4,1543.1 249.7,1538.1 254.1,1537.1 259.8,1537.1 265.6,1537.4 269.9,1534.2 275.7,1531.3 281.5,1528.0 287.2,1522.6 291.6,1521.5 295.9,1516.4 300.2,1509.2 304.5,1505.6 308.9,1494.1 313.2,1486.9 319.0,1484.0 321.9,1476.8 326.2,1466.7 330.5,1459.4 334.8,1455.8 337.7,1450.8 342.1,1442.1 346.4,1437.8 349.3,1424.8 350.7,1414.7 353.6,1401.7 356.5,1396.0 360.1,1383.7" fill="none" stroke="#2ca02c" stroke-width="1.1" stroke-linejoin="round" clip-path="url(#c6_0)"/>
<line x1="54.2" y1="1375.6" x2="361.2" y2="1375.6" stroke="#555555" stroke-width="1.0"/>
<line x1="54.2" y1="1563.2" x2="361.2" y2="1563.2" stroke="#111" stroke-width="1.6"/>
<line x1="54.2" y1="1375.6" x2="54.2" y2="1563.2" stroke="#111" stroke-width="1.6"/>
<line x1="361.2" y1="1375.6" x2="361.2" y2="1563.2" stroke="#d62728" stroke-width="1.6"/>
<clipPath id="c6_0r"><rect x="54.2" y="1374.6" width="307.0" height="189.6"/></clipPath>
<polyline points="55.0,1561.9 103.4,1561.9 107.7,1560.2 114.9,1556.8 122.1,1555.4 127.9,1553.9 132.2,1551.5 136.6,1547.5 142.3,1538.1 149.5,1530.9 155.3,1522.9 161.1,1517.2 164.0,1513.6 168.3,1505.6 172.6,1497.0 177.0,1485.4 181.3,1482.5 185.6,1481.1 189.9,1484.0 194.3,1482.2 197.2,1478.2 200.0,1471.0 202.9,1462.3 205.0,1458.0 207.2,1452.2 210.8,1447.2 213.7,1442.1 219.4,1437.1 225.2,1429.2 229.5,1424.8 233.9,1419.1 238.2,1410.4 242.5,1403.2 248.3,1395.2 251.2,1393.8 256.9,1391.6 262.7,1388.8 268.5,1385.6 274.3,1382.3 280.0,1380.8 285.8,1379.4 291.6,1378.4 298.8,1377.9 306.0,1376.5 313.2,1376.1 360.1,1375.8" fill="none" stroke="#ff0000" stroke-width="1.15" stroke-linejoin="round" stroke-dasharray="3.5,2.2" clip-path="url(#c6_0r)"/>
<line x1="50.7" y1="1554.3" x2="54.2" y2="1554.3" stroke="#333" stroke-width="0.8"/>
<text x="48.2" y="1556.6" font-size="6.5" fill="#000" text-anchor="end" textLength="4.1" lengthAdjust="spacingAndGlyphs" fill-opacity="0.7">0</text>
<line x1="50.7" y1="1526.5" x2="54.2" y2="1526.5" stroke="#333" stroke-width="0.8"/>
<text x="48.2" y="1528.9" font-size="6.5" fill="#000" text-anchor="end" textLength="16.5" lengthAdjust="spacingAndGlyphs" fill-opacity="0.7">2000</text>
<line x1="50.7" y1="1498.8" x2="54.2" y2="1498.8" stroke="#333" stroke-width="0.8"/>
<text x="48.2" y="1501.1" font-size="6.5" fill="#000" text-anchor="end" textLength="16.5" lengthAdjust="spacingAndGlyphs" fill-opacity="0.7">4000</text>
<line x1="50.7" y1="1471.0" x2="54.2" y2="1471.0" stroke="#333" stroke-width="0.8"/>
<text x="48.2" y="1473.4" font-size="6.5" fill="#000" text-anchor="end" textLength="16.5" lengthAdjust="spacingAndGlyphs" fill-opacity="0.7">6000</text>
<line x1="50.7" y1="1443.3" x2="54.2" y2="1443.3" stroke="#333" stroke-width="0.8"/>
<text x="48.2" y="1445.6" font-size="6.5" fill="#000" text-anchor="end" textLength="16.5" lengthAdjust="spacingAndGlyphs" fill-opacity="0.7">8000</text>
<line x1="50.7" y1="1415.5" x2="54.2" y2="1415.5" stroke="#333" stroke-width="0.8"/>
<text x="48.2" y="1417.8" font-size="6.5" fill="#000" text-anchor="end" textLength="20.7" lengthAdjust="spacingAndGlyphs" fill-opacity="0.7">10000</text>
<line x1="50.7" y1="1387.7" x2="54.2" y2="1387.7" stroke="#333" stroke-width="0.8"/>
<text x="48.2" y="1390.1" font-size="6.5" fill="#000" text-anchor="end" textLength="20.7" lengthAdjust="spacingAndGlyphs" fill-opacity="0.7">12000</text>
<line x1="361.2" y1="1563.2" x2="364.7" y2="1563.2" stroke="#ff0000" stroke-width="0.8"/>
<text x="366.2" y="1565.4" font-size="6.0" fill="#ff0000" text-anchor="start" textLength="9.5" lengthAdjust="spacingAndGlyphs" fill-opacity="0.9">0.0</text>
<line x1="361.2" y1="1525.7" x2="364.7" y2="1525.7" stroke="#ff0000" stroke-width="0.8"/>
<text x="366.2" y="1527.8" font-size="6.0" fill="#ff0000" text-anchor="start" textLength="9.5" lengthAdjust="spacingAndGlyphs" fill-opacity="0.9">0.2</text>
<line x1="361.2" y1="1488.2" x2="364.7" y2="1488.2" stroke="#ff0000" stroke-width="0.8"/>
<text x="366.2" y="1490.3" font-size="6.0" fill="#ff0000" text-anchor="start" textLength="9.5" lengthAdjust="spacingAndGlyphs" fill-opacity="0.9">0.4</text>
<line x1="361.2" y1="1450.6" x2="364.7" y2="1450.6" stroke="#ff0000" stroke-width="0.8"/>
<text x="366.2" y="1452.8" font-size="6.0" fill="#ff0000" text-anchor="start" textLength="9.5" lengthAdjust="spacingAndGlyphs" fill-opacity="0.9">0.6</text>
<line x1="361.2" y1="1413.1" x2="364.7" y2="1413.1" stroke="#ff0000" stroke-width="0.8"/>
<text x="366.2" y="1415.3" font-size="6.0" fill="#ff0000" text-anchor="start" textLength="9.5" lengthAdjust="spacingAndGlyphs" fill-opacity="0.9">0.8</text>
<line x1="361.2" y1="1375.6" x2="364.7" y2="1375.6" stroke="#ff0000" stroke-width="0.8"/>
<text x="366.2" y="1377.8" font-size="6.0" fill="#ff0000" text-anchor="start" textLength="9.5" lengthAdjust="spacingAndGlyphs" fill-opacity="0.9">1.0</text>
<line x1="55.7" y1="1563.2" x2="55.7" y2="1566.7" stroke="#333" stroke-width="0.8"/>
<text x="55.7" y="1573.3" font-size="6.5" fill="#000" text-anchor="middle" textLength="37.8" lengthAdjust="spacingAndGlyphs" fill-opacity="0.7">2021-03-15</text>
<line x1="97.1" y1="1563.2" x2="97.1" y2="1566.7" stroke="#333" stroke-width="0.8"/>
<text x="97.1" y="1573.3" font-size="6.5" fill="#000" text-anchor="middle" textLength="37.8" lengthAdjust="spacingAndGlyphs" fill-opacity="0.7">2021-04-01</text>
<line x1="131.2" y1="1563.2" x2="131.2" y2="1566.7" stroke="#333" stroke-width="0.8"/>
<text x="131.2" y="1573.3" font-size="6.5" fill="#000" text-anchor="middle" textLength="37.8" lengthAdjust="spacingAndGlyphs" fill-opacity="0.7">2021-04-15</text>
<line x1="170.2" y1="1563.2" x2="170.2" y2="1566.7" stroke="#333" stroke-width="0.8"/>
<text x="170.2" y="1573.3" font-size="6.5" fill="#000" text-anchor="middle" textLength="37.8" lengthAdjust="spacingAndGlyphs" fill-opacity="0.7">2021-05-01</text>
<line x1="204.3" y1="1563.2" x2="204.3" y2="1566.7" stroke="#333" stroke-width="0.8"/>
<text x="204.3" y="1573.3" font-size="6.5" fill="#000" text-anchor="middle" textLength="37.8" lengthAdjust="spacingAndGlyphs" fill-opacity="0.7">2021-05-15</text>
<line x1="245.7" y1="1563.2" x2="245.7" y2="1566.7" stroke="#333" stroke-width="0.8"/>
<text x="245.7" y="1573.3" font-size="6.5" fill="#000" text-anchor="middle" textLength="37.8" lengthAdjust="spacingAndGlyphs" fill-opacity="0.7">2021-06-01</text>
<line x1="279.8" y1="1563.2" x2="279.8" y2="1566.7" stroke="#333" stroke-width="0.8"/>
<text x="279.8" y="1573.3" font-size="6.5" fill="#000" text-anchor="middle" textLength="37.8" lengthAdjust="spacingAndGlyphs" fill-opacity="0.7">2021-06-15</text>
<line x1="318.8" y1="1563.2" x2="318.8" y2="1566.7" stroke="#333" stroke-width="0.8"/>
<text x="318.8" y="1573.3" font-size="6.5" fill="#000" text-anchor="middle" textLength="37.8" lengthAdjust="spacingAndGlyphs" fill-opacity="0.7">2021-07-01</text>
<line x1="352.9" y1="1563.2" x2="352.9" y2="1566.7" stroke="#333" stroke-width="0.8"/>
<text x="352.9" y="1573.3" font-size="6.5" fill="#000" text-anchor="middle" textLength="37.8" lengthAdjust="spacingAndGlyphs" fill-opacity="0.7">2021-07-15</text>
<text x="389.0" y="1469.4" font-size="12" fill="#ff0000" text-anchor="middle" textLength="146.8" lengthAdjust="spacingAndGlyphs" transform="rotate(-90 389.0 1469.4)">Percentage new variant</text>
<line x1="576.6" y1="1375.6" x2="576.6" y2="1563.2" stroke="#8a8a8a" stroke-width="1.0"/>
<line x1="423.0" y1="1469.4" x2="730.3" y2="1469.4" stroke="#000" stroke-width="1.6" stroke-dasharray="4,2"/>
<clipPath id="c6_1"><rect x="423.0" y="1375.6" width="307.3" height="187.6"/></clipPath>
<path d="M510.50,1425.40 C512.01,1425.62 516.45,1426.43 519.59,1426.70 C522.72,1426.97 526.62,1426.43 529.32,1427.03 C532.03,1427.62 533.65,1429.62 535.82,1430.27 C537.98,1430.92 539.87,1430.54 542.31,1430.92 C544.74,1431.30 547.99,1431.57 550.42,1432.55 C552.86,1433.52 555.02,1435.41 556.92,1436.77 C558.81,1438.12 559.62,1439.85 561.79,1440.66 C563.95,1441.47 567.74,1440.82 569.90,1441.64 C572.06,1442.45 573.15,1443.96 574.77,1445.53 C576.39,1447.10 578.12,1449.59 579.64,1451.05 C581.15,1452.51 582.51,1454.13 583.86,1454.30 C585.21,1454.46 586.29,1454.84 587.75,1452.02 C589.22,1449.21 591.00,1442.01 592.62,1437.42 C594.25,1432.82 595.87,1428.22 597.49,1424.43 C599.12,1420.64 600.74,1417.67 602.36,1414.69 C603.99,1411.72 605.61,1408.85 607.23,1406.58 C608.85,1404.30 610.75,1402.14 612.10,1401.06 C613.45,1399.98 614.27,1399.71 615.35,1400.08 C616.43,1400.46 617.24,1400.08 618.59,1403.33 C619.95,1406.58 621.84,1413.34 623.46,1419.56 C625.09,1425.78 626.71,1435.09 628.33,1440.66 C629.95,1446.23 631.58,1451.27 633.20,1453.00 C634.82,1454.73 636.45,1452.29 638.07,1451.05 C639.69,1449.81 641.05,1447.15 642.94,1445.53 C644.83,1443.91 648.35,1442.01 649.43,1441.31" fill="none" stroke="#1f77b4" stroke-width="1.05" stroke-linejoin="round" clip-path="url(#c6_1)"/>
<path d="M510.50,1469.23 C512.55,1469.34 518.61,1469.66 522.83,1469.88 C527.05,1470.09 532.03,1470.74 535.82,1470.53 C539.60,1470.31 542.31,1468.96 545.55,1468.58 C548.80,1468.20 552.59,1468.15 555.29,1468.25 C558.00,1468.36 559.62,1468.52 561.79,1469.23 C563.95,1469.93 566.11,1471.55 568.28,1472.47 C570.44,1473.39 572.61,1473.83 574.77,1474.75 C576.93,1475.67 579.37,1477.45 581.26,1477.99 C583.16,1478.53 583.97,1478.80 586.13,1477.99 C588.30,1477.18 591.27,1474.37 594.25,1473.12 C597.22,1471.88 600.74,1470.96 603.99,1470.53 C607.23,1470.09 610.48,1470.20 613.72,1470.53 C616.97,1470.85 620.22,1471.77 623.46,1472.47 C626.71,1473.18 630.50,1474.10 633.20,1474.75 C635.91,1475.40 636.99,1476.10 639.69,1476.37 C642.40,1476.64 647.81,1476.37 649.43,1476.37" fill="none" stroke="#ff7f0e" stroke-width="1.05" stroke-linejoin="round" clip-path="url(#c6_1)"/>
<line x1="423.0" y1="1375.6" x2="730.3" y2="1375.6" stroke="#555555" stroke-width="1.0"/>
<line x1="423.0" y1="1563.2" x2="730.3" y2="1563.2" stroke="#555555" stroke-width="1.0"/>
<line x1="423.0" y1="1375.6" x2="423.0" y2="1563.2" stroke="#a8a8a8" stroke-width="1.3"/>
<line x1="730.3" y1="1375.6" x2="730.3" y2="1563.2" stroke="#a8a8a8" stroke-width="1.3"/>
<line x1="419.5" y1="1563.2" x2="423.0" y2="1563.2" stroke="#333" stroke-width="0.8"/>
<text x="417.0" y="1565.5" font-size="6.5" fill="#000" text-anchor="end" textLength="10.3" lengthAdjust="spacingAndGlyphs" fill-opacity="0.7">0.2</text>
<line x1="419.5" y1="1539.8" x2="423.0" y2="1539.8" stroke="#333" stroke-width="0.8"/>
<text x="417.0" y="1542.1" font-size="6.5" fill="#000" text-anchor="end" textLength="10.3" lengthAdjust="spacingAndGlyphs" fill-opacity="0.7">0.4</text>
<line x1="419.5" y1="1516.3" x2="423.0" y2="1516.3" stroke="#333" stroke-width="0.8"/>
<text x="417.0" y="1518.6" font-size="6.5" fill="#000" text-anchor="end" textLength="10.3" lengthAdjust="spacingAndGlyphs" fill-opacity="0.7">0.6</text>
<line x1="419.5" y1="1492.9" x2="423.0" y2="1492.9" stroke="#333" stroke-width="0.8"/>
<text x="417.0" y="1495.2" font-size="6.5" fill="#000" text-anchor="end" textLength="10.3" lengthAdjust="spacingAndGlyphs" fill-opacity="0.7">0.8</text>
<line x1="419.5" y1="1469.4" x2="423.0" y2="1469.4" stroke="#333" stroke-width="0.8"/>
<text x="417.0" y="1471.7" font-size="6.5" fill="#000" text-anchor="end" textLength="10.3" lengthAdjust="spacingAndGlyphs" fill-opacity="0.7">1.0</text>
<line x1="419.5" y1="1446.0" x2="423.0" y2="1446.0" stroke="#333" stroke-width="0.8"/>
<text x="417.0" y="1448.3" font-size="6.5" fill="#000" text-anchor="end" textLength="10.3" lengthAdjust="spacingAndGlyphs" fill-opacity="0.7">1.2</text>
<line x1="419.5" y1="1422.5" x2="423.0" y2="1422.5" stroke="#333" stroke-width="0.8"/>
<text x="417.0" y="1424.8" font-size="6.5" fill="#000" text-anchor="end" textLength="10.3" lengthAdjust="spacingAndGlyphs" fill-opacity="0.7">1.4</text>
<line x1="419.5" y1="1399.1" x2="423.0" y2="1399.1" stroke="#333" stroke-width="0.8"/>
<text x="417.0" y="1401.4" font-size="6.5" fill="#000" text-anchor="end" textLength="10.3" lengthAdjust="spacingAndGlyphs" fill-opacity="0.7">1.6</text>
<line x1="419.5" y1="1375.6" x2="423.0" y2="1375.6" stroke="#333" stroke-width="0.8"/>
<text x="417.0" y="1377.9" font-size="6.5" fill="#000" text-anchor="end" textLength="10.3" lengthAdjust="spacingAndGlyphs" fill-opacity="0.7">1.8</text>
<line x1="423.5" y1="1563.2" x2="423.5" y2="1566.7" stroke="#333" stroke-width="0.8"/>
<text x="423.5" y="1573.3" font-size="6.5" fill="#000" text-anchor="middle" textLength="37.8" lengthAdjust="spacingAndGlyphs" fill-opacity="0.7">2021-03-15</text>
<line x1="464.9" y1="1563.2" x2="464.9" y2="1566.7" stroke="#333" stroke-width="0.8"/>
<text x="464.9" y="1573.3" font-size="6.5" fill="#000" text-anchor="middle" textLength="37.8" lengthAdjust="spacingAndGlyphs" fill-opacity="0.7">2021-04-01</text>
<line x1="499.0" y1="1563.2" x2="499.0" y2="1566.7" stroke="#333" stroke-width="0.8"/>
<text x="499.0" y="1573.3" font-size="6.5" fill="#000" text-anchor="middle" textLength="37.8" lengthAdjust="spacingAndGlyphs" fill-opacity="0.7">2021-04-15</text>
<line x1="538.0" y1="1563.2" x2="538.0" y2="1566.7" stroke="#333" stroke-width="0.8"/>
<text x="538.0" y="1573.3" font-size="6.5" fill="#000" text-anchor="middle" textLength="37.8" lengthAdjust="spacingAndGlyphs" fill-opacity="0.7">2021-05-01</text>
<line x1="572.1" y1="1563.2" x2="572.1" y2="1566.7" stroke="#333" stroke-width="0.8"/>
<text x="572.1" y="1573.3" font-size="6.5" fill="#000" text-anchor="middle" textLength="37.8" lengthAdjust="spacingAndGlyphs" fill-opacity="0.7">2021-05-15</text>
<line x1="613.5" y1="1563.2" x2="613.5" y2="1566.7" stroke="#333" stroke-width="0.8"/>
<text x="613.5" y="1573.3" font-size="6.5" fill="#000" text-anchor="middle" textLength="37.8" lengthAdjust="spacingAndGlyphs" fill-opacity="0.7">2021-06-01</text>
<line x1="647.6" y1="1563.2" x2="647.6" y2="1566.7" stroke="#333" stroke-width="0.8"/>
<text x="647.6" y="1573.3" font-size="6.5" fill="#000" text-anchor="middle" textLength="37.8" lengthAdjust="spacingAndGlyphs" fill-opacity="0.7">2021-06-15</text>
<line x1="686.6" y1="1563.2" x2="686.6" y2="1566.7" stroke="#333" stroke-width="0.8"/>
<text x="686.6" y="1573.3" font-size="6.5" fill="#000" text-anchor="middle" textLength="37.8" lengthAdjust="spacingAndGlyphs" fill-opacity="0.7">2021-07-01</text>
<line x1="720.7" y1="1563.2" x2="720.7" y2="1566.7" stroke="#333" stroke-width="0.8"/>
<text x="720.7" y="1573.3" font-size="6.5" fill="#000" text-anchor="middle" textLength="37.8" lengthAdjust="spacingAndGlyphs" fill-opacity="0.7">2021-07-15</text>
<line x1="945.5" y1="1375.6" x2="945.5" y2="1563.2" stroke="#8a8a8a" stroke-width="1.0"/>
<line x1="790.1" y1="1469.4" x2="1097.7" y2="1469.4" stroke="#000" stroke-width="1.6" stroke-dasharray="4,2"/>
<clipPath id="c6_2"><rect x="790.1" y="1375.6" width="307.6" height="187.6"/></clipPath>
<path d="M880.13,1433.33 C881.64,1433.55 886.61,1434.52 889.20,1434.63 C891.79,1434.74 893.51,1433.82 895.67,1433.98 C897.83,1434.14 899.99,1435.17 902.15,1435.60 C904.30,1436.03 906.19,1436.03 908.62,1436.57 C911.05,1437.11 914.29,1437.92 916.71,1438.84 C919.14,1439.75 921.03,1440.89 923.19,1442.07 C925.35,1443.26 927.50,1445.58 929.66,1445.96 C931.82,1446.34 933.71,1444.45 936.14,1444.34 C938.56,1444.23 942.07,1444.72 944.23,1445.31 C946.39,1445.90 947.20,1447.36 949.08,1447.90 C950.97,1448.44 953.67,1449.25 955.56,1448.55 C957.45,1447.85 958.80,1446.39 960.41,1443.69 C962.03,1440.99 963.65,1435.60 965.27,1432.36 C966.89,1429.12 968.51,1426.59 970.13,1424.27 C971.74,1421.95 973.36,1420.33 974.98,1418.44 C976.60,1416.55 978.38,1414.13 979.84,1412.94 C981.29,1411.75 982.37,1411.05 983.72,1411.32 C985.07,1411.59 986.53,1411.86 987.93,1414.56 C989.33,1417.25 990.79,1423.19 992.14,1427.51 C993.49,1431.82 994.57,1436.84 996.02,1440.45 C997.48,1444.07 999.26,1447.85 1000.88,1449.19 C1002.50,1450.54 1004.12,1449.73 1005.73,1448.55 C1007.35,1447.36 1008.97,1443.69 1010.59,1442.07 C1012.21,1440.45 1014.10,1439.21 1015.45,1438.84 C1016.80,1438.46 1018.14,1439.65 1018.68,1439.81" fill="none" stroke="#1f77b4" stroke-width="1.05" stroke-linejoin="round" clip-path="url(#c6_2)"/>
<line x1="790.1" y1="1375.6" x2="1097.7" y2="1375.6" stroke="#555555" stroke-width="1.0"/>
<line x1="790.1" y1="1563.2" x2="1097.7" y2="1563.2" stroke="#555555" stroke-width="1.0"/>
<line x1="790.1" y1="1375.6" x2="790.1" y2="1563.2" stroke="#a8a8a8" stroke-width="1.3"/>
<line x1="1097.7" y1="1375.6" x2="1097.7" y2="1563.2" stroke="#a8a8a8" stroke-width="1.3"/>
<line x1="786.6" y1="1563.2" x2="790.1" y2="1563.2" stroke="#333" stroke-width="0.8"/>
<text x="784.1" y="1565.5" font-size="6.5" fill="#000" text-anchor="end" textLength="14.5" lengthAdjust="spacingAndGlyphs" fill-opacity="0.7">0.00</text>
<line x1="786.6" y1="1539.8" x2="790.1" y2="1539.8" stroke="#333" stroke-width="0.8"/>
<text x="784.1" y="1542.1" font-size="6.5" fill="#000" text-anchor="end" textLength="14.5" lengthAdjust="spacingAndGlyphs" fill-opacity="0.7">0.25</text>
<line x1="786.6" y1="1516.3" x2="790.1" y2="1516.3" stroke="#333" stroke-width="0.8"/>
<text x="784.1" y="1518.6" font-size="6.5" fill="#000" text-anchor="end" textLength="14.5" lengthAdjust="spacingAndGlyphs" fill-opacity="0.7">0.50</text>
<line x1="786.6" y1="1492.9" x2="790.1" y2="1492.9" stroke="#333" stroke-width="0.8"/>
<text x="784.1" y="1495.2" font-size="6.5" fill="#000" text-anchor="end" textLength="14.5" lengthAdjust="spacingAndGlyphs" fill-opacity="0.7">0.75</text>
<line x1="786.6" y1="1469.4" x2="790.1" y2="1469.4" stroke="#333" stroke-width="0.8"/>
<text x="784.1" y="1471.7" font-size="6.5" fill="#000" text-anchor="end" textLength="14.5" lengthAdjust="spacingAndGlyphs" fill-opacity="0.7">1.00</text>
<line x1="786.6" y1="1446.0" x2="790.1" y2="1446.0" stroke="#333" stroke-width="0.8"/>
<text x="784.1" y="1448.3" font-size="6.5" fill="#000" text-anchor="end" textLength="14.5" lengthAdjust="spacingAndGlyphs" fill-opacity="0.7">1.25</text>
<line x1="786.6" y1="1422.5" x2="790.1" y2="1422.5" stroke="#333" stroke-width="0.8"/>
<text x="784.1" y="1424.8" font-size="6.5" fill="#000" text-anchor="end" textLength="14.5" lengthAdjust="spacingAndGlyphs" fill-opacity="0.7">1.50</text>
<line x1="786.6" y1="1399.1" x2="790.1" y2="1399.1" stroke="#333" stroke-width="0.8"/>
<text x="784.1" y="1401.4" font-size="6.5" fill="#000" text-anchor="end" textLength="14.5" lengthAdjust="spacingAndGlyphs" fill-opacity="0.7">1.75</text>
<line x1="786.6" y1="1375.6" x2="790.1" y2="1375.6" stroke="#333" stroke-width="0.8"/>
<text x="784.1" y="1377.9" font-size="6.5" fill="#000" text-anchor="end" textLength="14.5" lengthAdjust="spacingAndGlyphs" fill-opacity="0.7">2.00</text>
<line x1="793.6" y1="1563.2" x2="793.6" y2="1566.7" stroke="#333" stroke-width="0.8"/>
<text x="793.6" y="1573.3" font-size="6.5" fill="#000" text-anchor="middle" textLength="37.8" lengthAdjust="spacingAndGlyphs" fill-opacity="0.7">2021-03-15</text>
<line x1="835.0" y1="1563.2" x2="835.0" y2="1566.7" stroke="#333" stroke-width="0.8"/>
<text x="835.0" y="1573.3" font-size="6.5" fill="#000" text-anchor="middle" textLength="37.8" lengthAdjust="spacingAndGlyphs" fill-opacity="0.7">2021-04-01</text>
<line x1="869.1" y1="1563.2" x2="869.1" y2="1566.7" stroke="#333" stroke-width="0.8"/>
<text x="869.1" y="1573.3" font-size="6.5" fill="#000" text-anchor="middle" textLength="37.8" lengthAdjust="spacingAndGlyphs" fill-opacity="0.7">2021-04-15</text>
<line x1="908.1" y1="1563.2" x2="908.1" y2="1566.7" stroke="#333" stroke-width="0.8"/>
<text x="908.1" y="1573.3" font-size="6.5" fill="#000" text-anchor="middle" textLength="37.8" lengthAdjust="spacingAndGlyphs" fill-opacity="0.7">2021-05-01</text>
<line x1="942.2" y1="1563.2" x2="942.2" y2="1566.7" stroke="#333" stroke-width="0.8"/>
<text x="942.2" y="1573.3" font-size="6.5" fill="#000" text-anchor="middle" textLength="37.8" lengthAdjust="spacingAndGlyphs" fill-opacity="0.7">2021-05-15</text>
<line x1="983.6" y1="1563.2" x2="983.6" y2="1566.7" stroke="#333" stroke-width="0.8"/>
<text x="983.6" y="1573.3" font-size="6.5" fill="#000" text-anchor="middle" textLength="37.8" lengthAdjust="spacingAndGlyphs" fill-opacity="0.7">2021-06-01</text>
<line x1="1017.7" y1="1563.2" x2="1017.7" y2="1566.7" stroke="#333" stroke-width="0.8"/>
<text x="1017.7" y="1573.3" font-size="6.5" fill="#000" text-anchor="middle" textLength="37.8" lengthAdjust="spacingAndGlyphs" fill-opacity="0.7">2021-06-15</text>
<line x1="1056.7" y1="1563.2" x2="1056.7" y2="1566.7" stroke="#333" stroke-width="0.8"/>
<text x="1056.7" y="1573.3" font-size="6.5" fill="#000" text-anchor="middle" textLength="37.8" lengthAdjust="spacingAndGlyphs" fill-opacity="0.7">2021-07-01</text>
<line x1="1090.8" y1="1563.2" x2="1090.8" y2="1566.7" stroke="#333" stroke-width="0.8"/>
<text x="1090.8" y="1573.3" font-size="6.5" fill="#000" text-anchor="middle" textLength="37.8" lengthAdjust="spacingAndGlyphs" fill-opacity="0.7">2021-07-15</text>
<text x="24.5" y="1695.3" font-size="17" fill="#000" text-anchor="middle" textLength="91.5" lengthAdjust="spacingAndGlyphs" transform="rotate(-90 24.5 1695.3)">South East</text>
<line x1="207.3" y1="1601.5" x2="207.3" y2="1789.1" stroke="#b8b8b8" stroke-width="1.4"/>
<clipPath id="c7_0"><rect x="54.2" y="1601.5" width="307.0" height="187.6"/></clipPath>
<polyline points="55.0,1780.7 56.5,1780.7 58.0,1780.7 59.5,1780.7 61.0,1780.7 62.5,1780.7 64.0,1780.7 65.5,1780.7 67.0,1780.7 68.5,1780.7 70.0,1780.7 71.5,1780.7 73.0,1780.7 74.5,1780.7 76.0,1780.7 77.5,1780.7 79.0,1780.7 80.5,1780.7 82.0,1780.7 83.5,1780.7 85.0,1780.7 86.5,1780.7 88.0,1780.7 89.5,1780.7 91.0,1780.7 92.5,1780.7 94.0,1780.7 95.5,1780.7 97.0,1780.7 98.5,1780.7 100.0,1780.7 101.5,1780.7 103.0,1780.7 104.5,1780.7 106.0,1780.6 107.5,1780.6 109.0,1780.6 110.5,1780.6 112.0,1780.6 113.5,1780.6 115.0,1780.6 116.5,1780.6 118.0,1780.6 119.5,1780.6 121.0,1780.6 122.5,1780.6 124.0,1780.6 125.5,1780.6 127.0,1780.6 128.5,1780.6 130.0,1780.6 131.5,1780.6 133.0,1780.6 134.5,1780.6 136.0,1780.6 137.5,1780.6 139.0,1780.6 140.5,1780.5 142.0,1780.5 143.5,1780.5 145.0,1780.6 146.5,1780.5 148.0,1780.5 149.5,1780.5 151.0,1780.5 152.5,1780.4 154.0,1780.4 155.5,1780.4 157.0,1780.4 158.5,1780.3 160.0,1780.3 161.5,1780.2 163.0,1780.2 164.5,1780.1 166.0,1780.1 167.5,1780.1 169.0,1780.2 170.5,1780.2 172.0,1780.1 173.5,1780.1 175.0,1780.1 176.5,1780.1 178.0,1780.1 179.5,1780.0 181.0,1780.0 182.5,1780.0 184.0,1780.0 185.5,1780.0 187.0,1779.9 188.5,1779.9 190.0,1779.9 191.5,1779.9 193.0,1779.8 194.5,1779.8 196.0,1779.8 197.5,1779.7 199.0,1779.7 200.5,1779.6 202.0,1779.6 203.5,1779.5 205.0,1779.4 206.5,1779.3 208.0,1779.2 209.5,1779.2" fill="none" stroke="#1f77b4" stroke-width="1.7" stroke-linejoin="round" clip-path="url(#c7_0)"/>
<polyline points="208.0,1779.2 209.5,1779.2 211.0,1779.1 212.5,1779.0 214.0,1778.9 215.5,1778.8 217.0,1778.8 218.5,1778.8 220.0,1778.7 221.5,1778.6 223.0,1778.5 224.5,1778.4 226.0,1778.3 227.5,1778.1 229.0,1777.8 230.5,1777.5 232.0,1777.2 233.5,1776.9 235.0,1776.7 236.5,1776.4 238.0,1776.1 239.5,1775.8 241.0,1774.8 242.5,1773.7 244.0,1772.6 245.5,1771.4 247.0,1769.7 248.5,1768.0 250.0,1766.4 251.5,1765.3 253.0,1764.2 254.5,1763.1 256.0,1762.2 257.5,1761.6 259.0,1761.1 260.5,1760.6 262.0,1760.4 263.5,1760.1 265.0,1759.9 266.5,1759.5 268.0,1759.0 269.5,1758.4 271.0,1757.9 272.5,1758.5 274.0,1759.5 275.5,1760.4 277.0,1760.4 278.5,1760.4 280.0,1760.3 281.5,1759.0 283.0,1757.7 284.5,1756.6 286.0,1756.2 287.5,1755.9 289.0,1755.5 290.5,1755.2 292.0,1754.9 293.5,1754.5 295.0,1753.6 296.5,1752.1 298.0,1750.6 299.5,1749.4 301.0,1748.4 302.5,1747.4 304.0,1746.5 305.5,1744.8 307.0,1742.8 308.5,1740.8 310.0,1738.0 311.5,1735.0 313.0,1726.8 314.5,1724.8 316.0,1723.5 317.5,1722.3 319.0,1721.2 320.5,1719.2 322.0,1709.6 323.5,1705.8 325.0,1702.2 326.5,1699.2 328.0,1696.4 329.5,1693.9 331.0,1691.4 332.5,1689.5 334.0,1688.8 335.5,1687.0 337.0,1684.0 338.5,1679.0 340.0,1672.4 341.5,1666.5 343.0,1664.7 344.5,1662.9 346.0,1660.2 347.5,1657.2 349.0,1649.3 350.5,1639.2 352.0,1627.2 353.5,1623.5 355.0,1620.5 356.5,1617.5 358.0,1614.5 359.5,1611.5 360.1,1610.4" fill="none" stroke="#1f77b4" stroke-width="1.15" stroke-linejoin="round" clip-path="url(#c7_0)"/>
<polyline points="55.0,1768.9 56.5,1769.7 58.0,1770.5 59.5,1770.9 61.0,1770.9 62.5,1770.9 64.0,1770.9 65.5,1770.9 67.0,1770.9 68.5,1770.9 70.0,1771.1 71.5,1771.4 73.0,1771.7 74.5,1772.0 76.0,1772.2 77.5,1772.5 79.0,1772.7 80.5,1772.5 82.0,1772.2 83.5,1771.9 85.0,1771.6 86.5,1771.3 88.0,1771.1 89.5,1770.9 91.0,1770.9 92.5,1770.9 94.0,1770.9 95.5,1770.9 97.0,1770.9 98.5,1771.1 100.0,1771.4 101.5,1771.7 103.0,1772.0 104.5,1772.3 106.0,1772.4 107.5,1772.6 109.0,1772.7 110.5,1772.8 112.0,1772.9 113.5,1773.3 115.0,1773.7 116.5,1774.2 118.0,1774.6 119.5,1775.0 121.0,1775.4 122.5,1775.8 124.0,1776.1 125.5,1776.5 127.0,1776.7 128.5,1776.9 130.0,1777.0 131.5,1777.1 133.0,1777.3 134.5,1777.4 136.0,1777.6 137.5,1777.7 139.0,1777.8 140.5,1777.9 142.0,1778.0 143.5,1778.1 145.0,1778.2 146.5,1778.2 148.0,1778.3 149.5,1778.3 151.0,1778.3 152.5,1778.3 154.0,1778.3 155.5,1778.2 157.0,1778.1 158.5,1778.0 160.0,1778.0 161.5,1777.9 163.0,1777.8 164.5,1777.7 166.0,1777.7 167.5,1777.6 169.0,1777.6 170.5,1777.6 172.0,1777.6 173.5,1777.7 175.0,1777.7 176.5,1777.7 178.0,1777.7 179.5,1777.7 181.0,1777.8 182.5,1777.8 184.0,1777.9 185.5,1778.0 187.0,1778.1 188.5,1778.1 190.0,1778.2 191.5,1778.3 193.0,1778.3 194.5,1778.4 196.0,1778.4 197.5,1778.4 199.0,1778.5 200.5,1778.6 202.0,1778.6 203.5,1778.7 205.0,1778.5 233.9,1778.5 277.1,1778.9 284.4,1779.9 306.0,1780.4 334.8,1780.7 349.3,1779.9 360.1,1778.9" fill="none" stroke="#ff7f0e" stroke-width="1.1" stroke-linejoin="round" clip-path="url(#c7_0)"/>
<polyline points="55.0,1768.8 58.7,1770.9 68.8,1770.9 78.9,1772.7 89.0,1770.9 97.6,1770.9 104.8,1772.3 112.0,1772.7 119.3,1774.9 126.5,1776.6 136.6,1777.5 145.2,1778.1 153.9,1778.1 165.4,1777.1 179.8,1777.1 194.3,1777.5 205.0,1777.5 219.4,1777.5 226.6,1777.1 233.9,1775.6 239.6,1774.9 245.4,1770.6 249.7,1765.5 255.5,1761.2 259.8,1759.8 265.6,1758.7 271.4,1756.9 275.7,1759.8 280.0,1759.8 284.4,1756.1 291.6,1754.7 294.4,1754.0 298.8,1749.7 304.5,1746.0 308.9,1740.3 311.8,1734.5 313.2,1725.8 317.5,1722.2 320.4,1720.1 321.9,1710.0 324.7,1702.8 327.6,1697.0 332.0,1689.8 334.8,1688.3 337.7,1682.6 341.3,1666.7 344.9,1662.4 347.8,1656.6 350.0,1643.6 352.2,1626.3 355.0,1620.5 357.9,1614.8 360.1,1610.4" fill="none" stroke="#2ca02c" stroke-width="1.1" stroke-linejoin="round" clip-path="url(#c7_0)"/>
<line x1="54.2" y1="1601.5" x2="361.2" y2="1601.5" stroke="#a8a8a8" stroke-width="1.3"/>
<line x1="54.2" y1="1789.1" x2="361.2" y2="1789.1" stroke="#111" stroke-width="1.6"/>
<line x1="54.2" y1="1601.5" x2="54.2" y2="1789.1" stroke="#111" stroke-width="1.6"/>
<line x1="361.2" y1="1601.5" x2="361.2" y2="1789.1" stroke="#d62728" stroke-width="1.6"/>
<clipPath id="c7_0r"><rect x="54.2" y="1600.5" width="307.0" height="189.6"/></clipPath>
<polyline points="55.0,1788.6 104.8,1788.2 110.6,1785.7 116.4,1786.7 127.9,1786.7 132.2,1785.0 136.6,1781.4 140.9,1778.9 145.2,1778.5 149.5,1773.5 153.9,1769.1 158.2,1766.2 161.1,1761.9 165.4,1757.6 169.7,1763.4 174.1,1757.6 179.8,1755.4 184.2,1750.4 188.5,1744.6 192.8,1739.6 197.2,1734.5 200.0,1725.8 204.4,1717.2 205.0,1715.7 207.9,1704.2 210.8,1694.1 213.7,1685.4 216.5,1678.2 220.9,1672.5 225.2,1663.8 228.1,1659.5 232.4,1649.4 235.3,1643.6 238.2,1635.0 241.1,1627.7 245.4,1620.5 249.7,1615.5 255.5,1613.3 259.8,1610.4 265.6,1610.4 271.4,1609.0 277.1,1607.5 282.9,1605.4 288.7,1603.9 294.4,1603.2 300.2,1602.5 306.0,1601.8 360.1,1601.5" fill="none" stroke="#ff0000" stroke-width="1.15" stroke-linejoin="round" stroke-dasharray="3.5,2.2" clip-path="url(#c7_0r)"/>
<line x1="50.7" y1="1780.7" x2="54.2" y2="1780.7" stroke="#333" stroke-width="0.8"/>
<text x="48.2" y="1783.0" font-size="6.5" fill="#000" text-anchor="end" textLength="4.1" lengthAdjust="spacingAndGlyphs" fill-opacity="0.7">0</text>
<line x1="50.7" y1="1757.3" x2="54.2" y2="1757.3" stroke="#333" stroke-width="0.8"/>
<text x="48.2" y="1759.6" font-size="6.5" fill="#000" text-anchor="end" textLength="16.5" lengthAdjust="spacingAndGlyphs" fill-opacity="0.7">1000</text>
<line x1="50.7" y1="1733.9" x2="54.2" y2="1733.9" stroke="#333" stroke-width="0.8"/>
<text x="48.2" y="1736.2" font-size="6.5" fill="#000" text-anchor="end" textLength="16.5" lengthAdjust="spacingAndGlyphs" fill-opacity="0.7">2000</text>
<line x1="50.7" y1="1710.5" x2="54.2" y2="1710.5" stroke="#333" stroke-width="0.8"/>
<text x="48.2" y="1712.8" font-size="6.5" fill="#000" text-anchor="end" textLength="16.5" lengthAdjust="spacingAndGlyphs" fill-opacity="0.7">3000</text>
<line x1="50.7" y1="1687.1" x2="54.2" y2="1687.1" stroke="#333" stroke-width="0.8"/>
<text x="48.2" y="1689.4" font-size="6.5" fill="#000" text-anchor="end" textLength="16.5" lengthAdjust="spacingAndGlyphs" fill-opacity="0.7">4000</text>
<line x1="50.7" y1="1663.7" x2="54.2" y2="1663.7" stroke="#333" stroke-width="0.8"/>
<text x="48.2" y="1666.0" font-size="6.5" fill="#000" text-anchor="end" textLength="16.5" lengthAdjust="spacingAndGlyphs" fill-opacity="0.7">5000</text>
<line x1="50.7" y1="1640.3" x2="54.2" y2="1640.3" stroke="#333" stroke-width="0.8"/>
<text x="48.2" y="1642.6" font-size="6.5" fill="#000" text-anchor="end" textLength="16.5" lengthAdjust="spacingAndGlyphs" fill-opacity="0.7">6000</text>
<line x1="50.7" y1="1616.9" x2="54.2" y2="1616.9" stroke="#333" stroke-width="0.8"/>
<text x="48.2" y="1619.2" font-size="6.5" fill="#000" text-anchor="end" textLength="16.5" lengthAdjust="spacingAndGlyphs" fill-opacity="0.7">7000</text>
<line x1="361.2" y1="1789.1" x2="364.7" y2="1789.1" stroke="#ff0000" stroke-width="0.8"/>
<text x="366.2" y="1791.3" font-size="6.0" fill="#ff0000" text-anchor="start" textLength="9.5" lengthAdjust="spacingAndGlyphs" fill-opacity="0.9">0.0</text>
<line x1="361.2" y1="1751.6" x2="364.7" y2="1751.6" stroke="#ff0000" stroke-width="0.8"/>
<text x="366.2" y="1753.7" font-size="6.0" fill="#ff0000" text-anchor="start" textLength="9.5" lengthAdjust="spacingAndGlyphs" fill-opacity="0.9">0.2</text>
<line x1="361.2" y1="1714.1" x2="364.7" y2="1714.1" stroke="#ff0000" stroke-width="0.8"/>
<text x="366.2" y="1716.2" font-size="6.0" fill="#ff0000" text-anchor="start" textLength="9.5" lengthAdjust="spacingAndGlyphs" fill-opacity="0.9">0.4</text>
<line x1="361.2" y1="1676.5" x2="364.7" y2="1676.5" stroke="#ff0000" stroke-width="0.8"/>
<text x="366.2" y="1678.7" font-size="6.0" fill="#ff0000" text-anchor="start" textLength="9.5" lengthAdjust="spacingAndGlyphs" fill-opacity="0.9">0.6</text>
<line x1="361.2" y1="1639.0" x2="364.7" y2="1639.0" stroke="#ff0000" stroke-width="0.8"/>
<text x="366.2" y="1641.2" font-size="6.0" fill="#ff0000" text-anchor="start" textLength="9.5" lengthAdjust="spacingAndGlyphs" fill-opacity="0.9">0.8</text>
<line x1="361.2" y1="1601.5" x2="364.7" y2="1601.5" stroke="#ff0000" stroke-width="0.8"/>
<text x="366.2" y="1603.7" font-size="6.0" fill="#ff0000" text-anchor="start" textLength="9.5" lengthAdjust="spacingAndGlyphs" fill-opacity="0.9">1.0</text>
<line x1="55.7" y1="1789.1" x2="55.7" y2="1792.6" stroke="#333" stroke-width="0.8"/>
<text x="55.7" y="1799.2" font-size="6.5" fill="#000" text-anchor="middle" textLength="37.8" lengthAdjust="spacingAndGlyphs" fill-opacity="0.7">2021-03-15</text>
<line x1="97.1" y1="1789.1" x2="97.1" y2="1792.6" stroke="#333" stroke-width="0.8"/>
<text x="97.1" y="1799.2" font-size="6.5" fill="#000" text-anchor="middle" textLength="37.8" lengthAdjust="spacingAndGlyphs" fill-opacity="0.7">2021-04-01</text>
<line x1="131.2" y1="1789.1" x2="131.2" y2="1792.6" stroke="#333" stroke-width="0.8"/>
<text x="131.2" y="1799.2" font-size="6.5" fill="#000" text-anchor="middle" textLength="37.8" lengthAdjust="spacingAndGlyphs" fill-opacity="0.7">2021-04-15</text>
<line x1="170.2" y1="1789.1" x2="170.2" y2="1792.6" stroke="#333" stroke-width="0.8"/>
<text x="170.2" y="1799.2" font-size="6.5" fill="#000" text-anchor="middle" textLength="37.8" lengthAdjust="spacingAndGlyphs" fill-opacity="0.7">2021-05-01</text>
<line x1="204.3" y1="1789.1" x2="204.3" y2="1792.6" stroke="#333" stroke-width="0.8"/>
<text x="204.3" y="1799.2" font-size="6.5" fill="#000" text-anchor="middle" textLength="37.8" lengthAdjust="spacingAndGlyphs" fill-opacity="0.7">2021-05-15</text>
<line x1="245.7" y1="1789.1" x2="245.7" y2="1792.6" stroke="#333" stroke-width="0.8"/>
<text x="245.7" y="1799.2" font-size="6.5" fill="#000" text-anchor="middle" textLength="37.8" lengthAdjust="spacingAndGlyphs" fill-opacity="0.7">2021-06-01</text>
<line x1="279.8" y1="1789.1" x2="279.8" y2="1792.6" stroke="#333" stroke-width="0.8"/>
<text x="279.8" y="1799.2" font-size="6.5" fill="#000" text-anchor="middle" textLength="37.8" lengthAdjust="spacingAndGlyphs" fill-opacity="0.7">2021-06-15</text>
<line x1="318.8" y1="1789.1" x2="318.8" y2="1792.6" stroke="#333" stroke-width="0.8"/>
<text x="318.8" y="1799.2" font-size="6.5" fill="#000" text-anchor="middle" textLength="37.8" lengthAdjust="spacingAndGlyphs" fill-opacity="0.7">2021-07-01</text>
<line x1="352.9" y1="1789.1" x2="352.9" y2="1792.6" stroke="#333" stroke-width="0.8"/>
<text x="352.9" y="1799.2" font-size="6.5" fill="#000" text-anchor="middle" textLength="37.8" lengthAdjust="spacingAndGlyphs" fill-opacity="0.7">2021-07-15</text>
<text x="389.0" y="1695.3" font-size="12" fill="#ff0000" text-anchor="middle" textLength="146.8" lengthAdjust="spacingAndGlyphs" transform="rotate(-90 389.0 1695.3)">Percentage new variant</text>
<line x1="576.6" y1="1601.5" x2="576.6" y2="1789.1" stroke="#8a8a8a" stroke-width="1.0"/>
<line x1="423.0" y1="1695.3" x2="730.3" y2="1695.3" stroke="#000" stroke-width="1.6" stroke-dasharray="4,2"/>
<clipPath id="c7_1"><rect x="423.0" y="1601.5" width="307.3" height="187.6"/></clipPath>
<path d="M510.50,1653.68 C512.01,1653.68 516.99,1653.41 519.59,1653.68 C522.18,1653.95 523.37,1654.92 526.08,1655.30 C528.78,1655.68 533.11,1655.68 535.82,1655.95 C538.52,1656.22 539.87,1656.33 542.31,1656.92 C544.74,1657.52 547.99,1658.98 550.42,1659.52 C552.86,1660.06 554.48,1660.06 556.92,1660.17 C559.35,1660.28 562.60,1660.55 565.03,1660.17 C567.47,1659.79 569.63,1658.71 571.52,1657.90 C573.42,1657.09 574.77,1656.27 576.39,1655.30 C578.02,1654.33 579.37,1653.14 581.26,1652.05 C583.16,1650.97 585.59,1650.70 587.75,1648.81 C589.92,1646.91 592.08,1643.40 594.25,1640.69 C596.41,1637.99 598.58,1634.85 600.74,1632.58 C602.90,1630.30 605.34,1628.84 607.23,1627.06 C609.13,1625.27 610.75,1622.95 612.10,1621.86 C613.45,1620.78 613.99,1619.86 615.35,1620.57 C616.70,1621.27 618.59,1623.00 620.22,1626.08 C621.84,1629.17 623.46,1633.93 625.09,1639.07 C626.71,1644.21 628.49,1651.51 629.95,1656.92 C631.42,1662.33 632.50,1667.85 633.85,1671.53 C635.20,1675.21 636.56,1676.56 638.07,1679.00 C639.59,1681.43 641.32,1684.52 642.94,1686.14 C644.56,1687.76 646.73,1688.30 647.81,1688.74 C648.89,1689.17 649.16,1688.74 649.43,1688.74" fill="none" stroke="#1f77b4" stroke-width="1.05" stroke-linejoin="round" clip-path="url(#c7_1)"/>
<path d="M510.50,1699.12 C512.01,1698.96 516.45,1698.58 519.59,1698.15 C522.72,1697.72 526.08,1696.80 529.32,1696.53 C532.57,1696.26 536.36,1696.20 539.06,1696.53 C541.77,1696.85 543.12,1697.61 545.55,1698.47 C547.99,1699.34 550.96,1700.80 553.67,1701.72 C556.38,1702.64 559.35,1703.45 561.79,1703.99 C564.22,1704.53 566.11,1704.70 568.28,1704.97 C570.44,1705.24 572.61,1705.62 574.77,1705.62 C576.93,1705.62 579.10,1705.24 581.26,1704.97 C583.43,1704.70 585.59,1704.43 587.75,1703.99 C589.92,1703.56 591.54,1702.86 594.25,1702.37 C596.95,1701.88 600.74,1701.34 603.99,1701.07 C607.23,1700.80 610.48,1700.80 613.72,1700.75 C616.97,1700.69 620.22,1700.48 623.46,1700.75 C626.71,1701.02 630.23,1701.99 633.20,1702.37 C636.18,1702.75 638.61,1702.91 641.32,1703.02 C644.02,1703.13 648.08,1703.02 649.43,1703.02" fill="none" stroke="#ff7f0e" stroke-width="1.05" stroke-linejoin="round" clip-path="url(#c7_1)"/>
<line x1="423.0" y1="1601.5" x2="730.3" y2="1601.5" stroke="#a8a8a8" stroke-width="1.3"/>
<line x1="423.0" y1="1789.1" x2="730.3" y2="1789.1" stroke="#a8a8a8" stroke-width="1.3"/>
<line x1="423.0" y1="1601.5" x2="423.0" y2="1789.1" stroke="#a8a8a8" stroke-width="1.3"/>
<line x1="730.3" y1="1601.5" x2="730.3" y2="1789.1" stroke="#a8a8a8" stroke-width="1.3"/>
<line x1="419.5" y1="1789.1" x2="423.0" y2="1789.1" stroke="#333" stroke-width="0.8"/>
<text x="417.0" y="1791.4" font-size="6.5" fill="#000" text-anchor="end" textLength="10.3" lengthAdjust="spacingAndGlyphs" fill-opacity="0.7">0.2</text>
<line x1="419.5" y1="1765.7" x2="423.0" y2="1765.7" stroke="#333" stroke-width="0.8"/>
<text x="417.0" y="1768.0" font-size="6.5" fill="#000" text-anchor="end" textLength="10.3" lengthAdjust="spacingAndGlyphs" fill-opacity="0.7">0.4</text>
<line x1="419.5" y1="1742.2" x2="423.0" y2="1742.2" stroke="#333" stroke-width="0.8"/>
<text x="417.0" y="1744.5" font-size="6.5" fill="#000" text-anchor="end" textLength="10.3" lengthAdjust="spacingAndGlyphs" fill-opacity="0.7">0.6</text>
<line x1="419.5" y1="1718.8" x2="423.0" y2="1718.8" stroke="#333" stroke-width="0.8"/>
<text x="417.0" y="1721.1" font-size="6.5" fill="#000" text-anchor="end" textLength="10.3" lengthAdjust="spacingAndGlyphs" fill-opacity="0.7">0.8</text>
<line x1="419.5" y1="1695.3" x2="423.0" y2="1695.3" stroke="#333" stroke-width="0.8"/>
<text x="417.0" y="1697.6" font-size="6.5" fill="#000" text-anchor="end" textLength="10.3" lengthAdjust="spacingAndGlyphs" fill-opacity="0.7">1.0</text>
<line x1="419.5" y1="1671.8" x2="423.0" y2="1671.8" stroke="#333" stroke-width="0.8"/>
<text x="417.0" y="1674.2" font-size="6.5" fill="#000" text-anchor="end" textLength="10.3" lengthAdjust="spacingAndGlyphs" fill-opacity="0.7">1.2</text>
<line x1="419.5" y1="1648.4" x2="423.0" y2="1648.4" stroke="#333" stroke-width="0.8"/>
<text x="417.0" y="1650.7" font-size="6.5" fill="#000" text-anchor="end" textLength="10.3" lengthAdjust="spacingAndGlyphs" fill-opacity="0.7">1.4</text>
<line x1="419.5" y1="1625.0" x2="423.0" y2="1625.0" stroke="#333" stroke-width="0.8"/>
<text x="417.0" y="1627.3" font-size="6.5" fill="#000" text-anchor="end" textLength="10.3" lengthAdjust="spacingAndGlyphs" fill-opacity="0.7">1.6</text>
<line x1="419.5" y1="1601.5" x2="423.0" y2="1601.5" stroke="#333" stroke-width="0.8"/>
<text x="417.0" y="1603.8" font-size="6.5" fill="#000" text-anchor="end" textLength="10.3" lengthAdjust="spacingAndGlyphs" fill-opacity="0.7">1.8</text>
<line x1="423.5" y1="1789.1" x2="423.5" y2="1792.6" stroke="#333" stroke-width="0.8"/>
<text x="423.5" y="1799.2" font-size="6.5" fill="#000" text-anchor="middle" textLength="37.8" lengthAdjust="spacingAndGlyphs" fill-opacity="0.7">2021-03-15</text>
<line x1="464.9" y1="1789.1" x2="464.9" y2="1792.6" stroke="#333" stroke-width="0.8"/>
<text x="464.9" y="1799.2" font-size="6.5" fill="#000" text-anchor="middle" textLength="37.8" lengthAdjust="spacingAndGlyphs" fill-opacity="0.7">2021-04-01</text>
<line x1="499.0" y1="1789.1" x2="499.0" y2="1792.6" stroke="#333" stroke-width="0.8"/>
<text x="499.0" y="1799.2" font-size="6.5" fill="#000" text-anchor="middle" textLength="37.8" lengthAdjust="spacingAndGlyphs" fill-opacity="0.7">2021-04-15</text>
<line x1="538.0" y1="1789.1" x2="538.0" y2="1792.6" stroke="#333" stroke-width="0.8"/>
<text x="538.0" y="1799.2" font-size="6.5" fill="#000" text-anchor="middle" textLength="37.8" lengthAdjust="spacingAndGlyphs" fill-opacity="0.7">2021-05-01</text>
<line x1="572.1" y1="1789.1" x2="572.1" y2="1792.6" stroke="#333" stroke-width="0.8"/>
<text x="572.1" y="1799.2" font-size="6.5" fill="#000" text-anchor="middle" textLength="37.8" lengthAdjust="spacingAndGlyphs" fill-opacity="0.7">2021-05-15</text>
<line x1="613.5" y1="1789.1" x2="613.5" y2="1792.6" stroke="#333" stroke-width="0.8"/>
<text x="613.5" y="1799.2" font-size="6.5" fill="#000" text-anchor="middle" textLength="37.8" lengthAdjust="spacingAndGlyphs" fill-opacity="0.7">2021-06-01</text>
<line x1="647.6" y1="1789.1" x2="647.6" y2="1792.6" stroke="#333" stroke-width="0.8"/>
<text x="647.6" y="1799.2" font-size="6.5" fill="#000" text-anchor="middle" textLength="37.8" lengthAdjust="spacingAndGlyphs" fill-opacity="0.7">2021-06-15</text>
<line x1="686.6" y1="1789.1" x2="686.6" y2="1792.6" stroke="#333" stroke-width="0.8"/>
<text x="686.6" y="1799.2" font-size="6.5" fill="#000" text-anchor="middle" textLength="37.8" lengthAdjust="spacingAndGlyphs" fill-opacity="0.7">2021-07-01</text>
<line x1="720.7" y1="1789.1" x2="720.7" y2="1792.6" stroke="#333" stroke-width="0.8"/>
<text x="720.7" y="1799.2" font-size="6.5" fill="#000" text-anchor="middle" textLength="37.8" lengthAdjust="spacingAndGlyphs" fill-opacity="0.7">2021-07-15</text>
<line x1="945.5" y1="1601.5" x2="945.5" y2="1789.1" stroke="#8a8a8a" stroke-width="1.0"/>
<line x1="790.1" y1="1695.3" x2="1097.7" y2="1695.3" stroke="#000" stroke-width="1.6" stroke-dasharray="4,2"/>
<clipPath id="c7_2"><rect x="790.1" y="1601.5" width="307.6" height="187.6"/></clipPath>
<path d="M880.13,1658.36 C881.10,1658.20 883.91,1657.23 885.96,1657.39 C888.01,1657.55 890.28,1658.74 892.43,1659.33 C894.59,1659.93 896.21,1660.57 898.91,1660.95 C901.61,1661.33 905.38,1661.60 908.62,1661.60 C911.86,1661.60 915.36,1661.49 918.33,1660.95 C921.30,1660.41 923.73,1659.17 926.42,1658.36 C929.12,1657.55 932.09,1657.01 934.52,1656.10 C936.95,1655.18 939.10,1653.83 940.99,1652.86 C942.88,1651.89 943.69,1650.92 945.85,1650.27 C948.01,1649.62 951.51,1649.78 953.94,1648.97 C956.37,1648.16 958.26,1646.82 960.41,1645.41 C962.57,1644.01 964.73,1642.18 966.89,1640.56 C969.05,1638.94 971.48,1637.43 973.36,1635.70 C975.25,1633.98 976.71,1631.66 978.22,1630.20 C979.73,1628.74 981.08,1627.28 982.43,1626.96 C983.78,1626.64 984.86,1626.53 986.31,1628.26 C987.77,1629.98 989.55,1633.11 991.17,1637.32 C992.79,1641.53 994.40,1648.38 996.02,1653.51 C997.64,1658.63 999.26,1664.40 1000.88,1668.07 C1002.50,1671.74 1004.12,1673.52 1005.73,1675.52 C1007.35,1677.51 1008.97,1678.86 1010.59,1680.05 C1012.21,1681.24 1014.10,1682.21 1015.45,1682.64 C1016.80,1683.07 1018.14,1682.64 1018.68,1682.64" fill="none" stroke="#1f77b4" stroke-width="1.05" stroke-linejoin="round" clip-path="url(#c7_2)"/>
<line x1="790.1" y1="1601.5" x2="1097.7" y2="1601.5" stroke="#a8a8a8" stroke-width="1.3"/>
<line x1="790.1" y1="1789.1" x2="1097.7" y2="1789.1" stroke="#a8a8a8" stroke-width="1.3"/>
<line x1="790.1" y1="1601.5" x2="790.1" y2="1789.1" stroke="#a8a8a8" stroke-width="1.3"/>
<line x1="1097.7" y1="1601.5" x2="1097.7" y2="1789.1" stroke="#a8a8a8" stroke-width="1.3"/>
<line x1="786.6" y1="1789.1" x2="790.1" y2="1789.1" stroke="#333" stroke-width="0.8"/>
<text x="784.1" y="1791.4" font-size="6.5" fill="#000" text-anchor="end" textLength="14.5" lengthAdjust="spacingAndGlyphs" fill-opacity="0.7">0.00</text>
<line x1="786.6" y1="1765.6" x2="790.1" y2="1765.6" stroke="#333" stroke-width="0.8"/>
<text x="784.1" y="1768.0" font-size="6.5" fill="#000" text-anchor="end" textLength="14.5" lengthAdjust="spacingAndGlyphs" fill-opacity="0.7">0.25</text>
<line x1="786.6" y1="1742.2" x2="790.1" y2="1742.2" stroke="#333" stroke-width="0.8"/>
<text x="784.1" y="1744.5" font-size="6.5" fill="#000" text-anchor="end" textLength="14.5" lengthAdjust="spacingAndGlyphs" fill-opacity="0.7">0.50</text>
<line x1="786.6" y1="1718.8" x2="790.1" y2="1718.8" stroke="#333" stroke-width="0.8"/>
<text x="784.1" y="1721.1" font-size="6.5" fill="#000" text-anchor="end" textLength="14.5" lengthAdjust="spacingAndGlyphs" fill-opacity="0.7">0.75</text>
<line x1="786.6" y1="1695.3" x2="790.1" y2="1695.3" stroke="#333" stroke-width="0.8"/>
<text x="784.1" y="1697.6" font-size="6.5" fill="#000" text-anchor="end" textLength="14.5" lengthAdjust="spacingAndGlyphs" fill-opacity="0.7">1.00</text>
<line x1="786.6" y1="1671.8" x2="790.1" y2="1671.8" stroke="#333" stroke-width="0.8"/>
<text x="784.1" y="1674.2" font-size="6.5" fill="#000" text-anchor="end" textLength="14.5" lengthAdjust="spacingAndGlyphs" fill-opacity="0.7">1.25</text>
<line x1="786.6" y1="1648.4" x2="790.1" y2="1648.4" stroke="#333" stroke-width="0.8"/>
<text x="784.1" y="1650.7" font-size="6.5" fill="#000" text-anchor="end" textLength="14.5" lengthAdjust="spacingAndGlyphs" fill-opacity="0.7">1.50</text>
<line x1="786.6" y1="1625.0" x2="790.1" y2="1625.0" stroke="#333" stroke-width="0.8"/>
<text x="784.1" y="1627.3" font-size="6.5" fill="#000" text-anchor="end" textLength="14.5" lengthAdjust="spacingAndGlyphs" fill-opacity="0.7">1.75</text>
<line x1="786.6" y1="1601.5" x2="790.1" y2="1601.5" stroke="#333" stroke-width="0.8"/>
<text x="784.1" y="1603.8" font-size="6.5" fill="#000" text-anchor="end" textLength="14.5" lengthAdjust="spacingAndGlyphs" fill-opacity="0.7">2.00</text>
<line x1="793.6" y1="1789.1" x2="793.6" y2="1792.6" stroke="#333" stroke-width="0.8"/>
<text x="793.6" y="1799.2" font-size="6.5" fill="#000" text-anchor="middle" textLength="37.8" lengthAdjust="spacingAndGlyphs" fill-opacity="0.7">2021-03-15</text>
<line x1="835.0" y1="1789.1" x2="835.0" y2="1792.6" stroke="#333" stroke-width="0.8"/>
<text x="835.0" y="1799.2" font-size="6.5" fill="#000" text-anchor="middle" textLength="37.8" lengthAdjust="spacingAndGlyphs" fill-opacity="0.7">2021-04-01</text>
<line x1="869.1" y1="1789.1" x2="869.1" y2="1792.6" stroke="#333" stroke-width="0.8"/>
<text x="869.1" y="1799.2" font-size="6.5" fill="#000" text-anchor="middle" textLength="37.8" lengthAdjust="spacingAndGlyphs" fill-opacity="0.7">2021-04-15</text>
<line x1="908.1" y1="1789.1" x2="908.1" y2="1792.6" stroke="#333" stroke-width="0.8"/>
<text x="908.1" y="1799.2" font-size="6.5" fill="#000" text-anchor="middle" textLength="37.8" lengthAdjust="spacingAndGlyphs" fill-opacity="0.7">2021-05-01</text>
<line x1="942.2" y1="1789.1" x2="942.2" y2="1792.6" stroke="#333" stroke-width="0.8"/>
<text x="942.2" y="1799.2" font-size="6.5" fill="#000" text-anchor="middle" textLength="37.8" lengthAdjust="spacingAndGlyphs" fill-opacity="0.7">2021-05-15</text>
<line x1="983.6" y1="1789.1" x2="983.6" y2="1792.6" stroke="#333" stroke-width="0.8"/>
<text x="983.6" y="1799.2" font-size="6.5" fill="#000" text-anchor="middle" textLength="37.8" lengthAdjust="spacingAndGlyphs" fill-opacity="0.7">2021-06-01</text>
<line x1="1017.7" y1="1789.1" x2="1017.7" y2="1792.6" stroke="#333" stroke-width="0.8"/>
<text x="1017.7" y="1799.2" font-size="6.5" fill="#000" text-anchor="middle" textLength="37.8" lengthAdjust="spacingAndGlyphs" fill-opacity="0.7">2021-06-15</text>
<line x1="1056.7" y1="1789.1" x2="1056.7" y2="1792.6" stroke="#333" stroke-width="0.8"/>
<text x="1056.7" y="1799.2" font-size="6.5" fill="#000" text-anchor="middle" textLength="37.8" lengthAdjust="spacingAndGlyphs" fill-opacity="0.7">2021-07-01</text>
<line x1="1090.8" y1="1789.1" x2="1090.8" y2="1792.6" stroke="#333" stroke-width="0.8"/>
<text x="1090.8" y="1799.2" font-size="6.5" fill="#000" text-anchor="middle" textLength="37.8" lengthAdjust="spacingAndGlyphs" fill-opacity="0.7">2021-07-15</text>
<text x="24.5" y="1921.2" font-size="17" fill="#000" text-anchor="middle" textLength="96.6" lengthAdjust="spacingAndGlyphs" transform="rotate(-90 24.5 1921.2)">South West</text>
<line x1="207.3" y1="1827.4" x2="207.3" y2="2015.0" stroke="#b8b8b8" stroke-width="1.4"/>
<clipPath id="c8_0"><rect x="54.2" y="1827.4" width="307.0" height="187.6"/></clipPath>
<polyline points="55.0,2006.7 56.5,2006.7 58.0,2006.7 59.5,2006.7 61.0,2006.7 62.5,2006.7 64.0,2006.7 65.5,2006.7 67.0,2006.7 68.5,2006.7 70.0,2006.7 71.5,2006.7 73.0,2006.7 74.5,2006.7 76.0,2006.7 77.5,2006.7 79.0,2006.7 80.5,2006.7 82.0,2006.7 83.5,2006.7 85.0,2006.7 86.5,2006.7 88.0,2006.7 89.5,2006.7 91.0,2006.7 92.5,2006.7 94.0,2006.7 95.5,2006.7 97.0,2006.7 98.5,2006.7 100.0,2006.7 101.5,2006.7 103.0,2006.7 104.5,2006.7 106.0,2006.7 107.5,2006.7 109.0,2006.7 110.5,2006.6 112.0,2006.6 113.5,2006.6 115.0,2006.6 116.5,2006.6 118.0,2006.6 119.5,2006.6 121.0,2006.5 122.5,2006.5 124.0,2006.5 125.5,2006.5 127.0,2006.5 128.5,2006.5 130.0,2006.5 131.5,2006.4 133.0,2006.4 134.5,2006.3 136.0,2006.3 137.5,2006.4 139.0,2006.4 140.5,2006.4 142.0,2006.4 143.5,2006.4 145.0,2006.4 146.5,2006.4 148.0,2006.4 149.5,2006.5 151.0,2006.5 152.5,2006.5 154.0,2006.5 155.5,2006.4 157.0,2006.3 158.5,2006.2 160.0,2006.1 161.5,2006.0 163.0,2006.0 164.5,2006.0 166.0,2006.0 167.5,2006.0 169.0,2006.0 170.5,2006.0 172.0,2006.1 173.5,2006.1 175.0,2006.1 176.5,2006.0 178.0,2006.0 179.5,2005.9 181.0,2005.8 182.5,2005.6 184.0,2005.5 185.5,2005.6 187.0,2005.6 188.5,2005.7 190.0,2005.7 191.5,2005.6 193.0,2005.6 194.5,2005.6 196.0,2005.7 197.5,2005.7 199.0,2005.8 200.5,2005.9 202.0,2005.9 203.5,2005.8 205.0,2005.8 206.5,2005.8 208.0,2005.8 209.5,2005.8 211.0,2005.8 212.5,2005.8 214.0,2005.8 215.5,2005.8 217.0,2005.7 218.5,2005.7 220.0,2005.6 221.5,2005.5 223.0,2005.3 224.5,2005.2 226.0,2005.1" fill="none" stroke="#a9cde8" stroke-width="1.8" stroke-linejoin="round" clip-path="url(#c8_0)"/>
<polyline points="224.5,2005.2 226.0,2005.1 227.5,2005.0 229.0,2004.9 230.5,2004.7 232.0,2004.4 233.5,2004.0 235.0,2003.6 236.5,2003.2 238.0,2002.8 239.5,2002.4 241.0,2002.2 242.5,2001.9 244.0,2001.6 245.5,2001.3 247.0,2000.9 248.5,2000.6 250.0,1999.7 251.5,1998.9 253.0,1998.4 254.5,1998.5 256.0,1998.6 257.5,1998.4 259.0,1997.5 260.5,1996.7 262.0,1996.2 263.5,1995.9 265.0,1995.7 266.5,1995.4 268.0,1995.1 269.5,1993.5 271.0,1991.4 272.5,1989.3 274.0,1987.6 275.5,1985.9 277.0,1984.3 278.5,1982.1 280.0,1979.8 281.5,1976.4 283.0,1973.3 284.5,1972.9 286.0,1972.4 287.5,1972.0 289.0,1971.2 290.5,1968.9 292.0,1967.3 293.5,1966.9 295.0,1966.6 296.5,1965.7 298.0,1964.2 299.5,1962.7 301.0,1961.2 302.5,1959.7 304.0,1958.2 305.5,1956.9 307.0,1955.6 308.5,1954.4 310.0,1952.6 311.5,1950.8 313.0,1948.6 314.5,1946.3 316.0,1944.8 317.5,1943.3 319.0,1941.6 320.5,1937.1 322.0,1932.3 323.5,1925.6 325.0,1919.2 326.5,1913.9 328.0,1908.7 329.5,1903.4 331.0,1898.7 332.5,1895.0 334.0,1893.0 335.5,1893.3 337.0,1892.8 338.5,1891.3 340.0,1889.8 341.5,1889.2 343.0,1889.2 344.5,1889.2 346.0,1888.6 347.5,1887.9 349.0,1878.6 350.5,1869.3 352.0,1863.6 353.5,1858.3 355.0,1853.8 356.5,1849.3 358.0,1843.9 359.5,1838.5 360.1,1836.5" fill="none" stroke="#1f77b4" stroke-width="1.15" stroke-linejoin="round" clip-path="url(#c8_0)"/>
<polyline points="55.0,1995.2 56.5,1994.0 58.0,1992.8 59.5,1991.7 61.0,1990.8 62.5,1989.8 64.0,1989.1 65.5,1989.1 67.0,1989.1 68.5,1989.1 70.0,1989.1 71.5,1989.1 73.0,1989.1 74.5,1989.1 76.0,1989.1 77.5,1989.9 79.0,1990.6 80.5,1990.6 82.0,1990.7 83.5,1990.8 85.0,1991.0 86.5,1991.8 88.0,1992.5 89.5,1993.3 91.0,1993.8 92.5,1994.0 94.0,1994.2 95.5,1994.4 97.0,1995.1 98.5,1996.2 100.0,1996.9 101.5,1997.3 103.0,1997.8 104.5,1998.2 106.0,1999.3 107.5,2000.4 109.0,2001.6 110.5,2001.7 112.0,2001.7 113.5,2001.7 115.0,2001.2 116.5,2000.7 118.0,2000.3 119.5,2000.6 121.0,2000.9 122.5,2001.2 124.0,2001.7 125.5,2002.2 127.0,2002.6 128.5,2002.7 130.0,2002.8 131.5,2003.0 133.0,2003.3 134.5,2003.6 136.0,2003.8 137.5,2003.9 139.0,2003.9 140.5,2004.0 142.0,2004.0 143.5,2004.1 145.0,2004.1 146.5,2004.2 148.0,2004.2 149.5,2004.2 151.0,2004.3 152.5,2004.2 154.0,2004.2 155.5,2004.2 157.0,2004.2 158.5,2004.3 160.0,2004.3 161.5,2004.3 163.0,2004.3 164.5,2004.2 166.0,2004.2 167.5,2004.3 169.0,2004.3 170.5,2004.4 172.0,2004.4 173.5,2004.4 175.0,2004.5 176.5,2004.6 178.0,2004.7 179.5,2004.8 181.0,2005.0 182.5,2005.2 184.0,2005.2 185.5,2005.2 187.0,2005.2 188.5,2005.0 190.0,2005.0 191.5,2004.9 193.0,2004.9 194.5,2004.9 196.0,2004.8 197.5,2004.8 199.0,2004.8 200.5,2004.8 202.0,2004.8 203.5,2004.9 205.0,2004.1 233.9,2004.9 262.7,2005.2 291.6,2005.5 320.4,2005.5 349.3,2005.9 360.1,2005.5" fill="none" stroke="#ff7f0e" stroke-width="1.1" stroke-linejoin="round" clip-path="url(#c8_0)"/>
<polyline points="55.0,1995.1 58.7,1992.2 63.7,1989.1 76.0,1989.1 78.9,1990.5 84.6,1990.8 90.4,1993.7 96.2,1994.4 99.1,1996.6 104.8,1998.3 109.2,2001.6 113.5,2001.6 117.8,2000.2 122.1,2000.9 126.5,2002.3 130.8,2002.6 136.6,2003.5 151.0,2004.1 165.4,2003.5 179.8,2004.1 187.1,2004.1 194.3,2003.8 205.0,2004.1 219.4,2004.1 231.0,2003.1 239.6,2000.6 248.3,1999.7 252.6,1997.3 256.9,1997.7 261.3,1995.1 268.5,1994.0 272.8,1987.9 277.1,1983.6 280.0,1979.3 282.9,1972.8 288.7,1971.3 291.6,1967.0 295.9,1966.3 300.2,1961.9 304.5,1957.6 308.9,1954.0 311.8,1950.4 314.6,1946.1 319.0,1941.7 321.9,1933.1 324.7,1920.1 327.6,1910.0 330.5,1899.9 333.4,1892.7 336.3,1893.4 340.6,1889.1 344.9,1889.1 347.8,1887.6 349.3,1876.8 350.7,1868.2 353.6,1858.1 356.5,1849.4 360.1,1836.4" fill="none" stroke="#2ca02c" stroke-width="1.1" stroke-linejoin="round" clip-path="url(#c8_0)"/>
<line x1="54.2" y1="1827.4" x2="361.2" y2="1827.4" stroke="#a8a8a8" stroke-width="1.3"/>
<line x1="54.2" y1="2015.0" x2="361.2" y2="2015.0" stroke="#111" stroke-width="1.6"/>
<line x1="54.2" y1="1827.4" x2="54.2" y2="2015.0" stroke="#111" stroke-width="1.6"/>
<line x1="361.2" y1="1827.4" x2="361.2" y2="2015.0" stroke="#d62728" stroke-width="1.6"/>
<clipPath id="c8_0r"><rect x="54.2" y="1826.4" width="307.0" height="189.6"/></clipPath>
<polyline points="55.0,2014.6 104.8,2014.6 110.6,2012.7 119.3,2011.3 123.6,2008.1 127.9,2005.9 130.8,2004.5 133.7,1998.0 135.1,1994.4 139.4,1994.4 142.3,1995.9 146.7,1994.4 149.5,2000.2 152.4,2003.5 153.9,2000.9 156.8,1989.4 158.2,1980.7 162.5,1972.8 166.9,1973.5 171.2,1973.5 174.1,1974.9 177.0,1969.2 179.8,1959.1 181.3,1946.1 182.7,1934.5 184.9,1931.6 187.1,1937.4 188.5,1945.4 191.4,1944.6 194.3,1946.1 197.2,1950.4 200.0,1957.6 201.5,1958.3 204.4,1951.8 205.0,1951.1 207.9,1948.2 213.7,1948.2 218.7,1946.1 220.9,1937.4 223.0,1928.8 225.2,1921.5 229.5,1915.1 231.0,1908.6 233.1,1899.9 236.0,1889.8 238.2,1884.0 242.5,1875.4 245.4,1863.8 246.8,1856.6 249.7,1850.9 252.6,1848.7 256.9,1848.0 259.8,1845.8 265.6,1845.8 268.5,1842.2 272.8,1837.9 275.7,1833.5 280.0,1831.4 285.8,1829.9 291.6,1829.2 297.3,1827.8 360.1,1827.5" fill="none" stroke="#ff0000" stroke-width="1.15" stroke-linejoin="round" stroke-dasharray="3.5,2.2" clip-path="url(#c8_0r)"/>
<line x1="50.7" y1="2006.7" x2="54.2" y2="2006.7" stroke="#333" stroke-width="0.8"/>
<text x="48.2" y="2009.0" font-size="6.5" fill="#000" text-anchor="end" textLength="4.1" lengthAdjust="spacingAndGlyphs" fill-opacity="0.7">0</text>
<line x1="50.7" y1="1969.4" x2="54.2" y2="1969.4" stroke="#333" stroke-width="0.8"/>
<text x="48.2" y="1971.7" font-size="6.5" fill="#000" text-anchor="end" textLength="16.5" lengthAdjust="spacingAndGlyphs" fill-opacity="0.7">1000</text>
<line x1="50.7" y1="1932.1" x2="54.2" y2="1932.1" stroke="#333" stroke-width="0.8"/>
<text x="48.2" y="1934.4" font-size="6.5" fill="#000" text-anchor="end" textLength="16.5" lengthAdjust="spacingAndGlyphs" fill-opacity="0.7">2000</text>
<line x1="50.7" y1="1894.8" x2="54.2" y2="1894.8" stroke="#333" stroke-width="0.8"/>
<text x="48.2" y="1897.1" font-size="6.5" fill="#000" text-anchor="end" textLength="16.5" lengthAdjust="spacingAndGlyphs" fill-opacity="0.7">3000</text>
<line x1="50.7" y1="1857.5" x2="54.2" y2="1857.5" stroke="#333" stroke-width="0.8"/>
<text x="48.2" y="1859.8" font-size="6.5" fill="#000" text-anchor="end" textLength="16.5" lengthAdjust="spacingAndGlyphs" fill-opacity="0.7">4000</text>
<line x1="361.2" y1="2015.0" x2="364.7" y2="2015.0" stroke="#ff0000" stroke-width="0.8"/>
<text x="366.2" y="2017.2" font-size="6.0" fill="#ff0000" text-anchor="start" textLength="9.5" lengthAdjust="spacingAndGlyphs" fill-opacity="0.9">0.0</text>
<line x1="361.2" y1="1977.5" x2="364.7" y2="1977.5" stroke="#ff0000" stroke-width="0.8"/>
<text x="366.2" y="1979.6" font-size="6.0" fill="#ff0000" text-anchor="start" textLength="9.5" lengthAdjust="spacingAndGlyphs" fill-opacity="0.9">0.2</text>
<line x1="361.2" y1="1940.0" x2="364.7" y2="1940.0" stroke="#ff0000" stroke-width="0.8"/>
<text x="366.2" y="1942.1" font-size="6.0" fill="#ff0000" text-anchor="start" textLength="9.5" lengthAdjust="spacingAndGlyphs" fill-opacity="0.9">0.4</text>
<line x1="361.2" y1="1902.4" x2="364.7" y2="1902.4" stroke="#ff0000" stroke-width="0.8"/>
<text x="366.2" y="1904.6" font-size="6.0" fill="#ff0000" text-anchor="start" textLength="9.5" lengthAdjust="spacingAndGlyphs" fill-opacity="0.9">0.6</text>
<line x1="361.2" y1="1864.9" x2="364.7" y2="1864.9" stroke="#ff0000" stroke-width="0.8"/>
<text x="366.2" y="1867.1" font-size="6.0" fill="#ff0000" text-anchor="start" textLength="9.5" lengthAdjust="spacingAndGlyphs" fill-opacity="0.9">0.8</text>
<line x1="361.2" y1="1827.4" x2="364.7" y2="1827.4" stroke="#ff0000" stroke-width="0.8"/>
<text x="366.2" y="1829.6" font-size="6.0" fill="#ff0000" text-anchor="start" textLength="9.5" lengthAdjust="spacingAndGlyphs" fill-opacity="0.9">1.0</text>
<line x1="55.7" y1="2015.0" x2="55.7" y2="2018.5" stroke="#333" stroke-width="0.8"/>
<text x="55.7" y="2025.1" font-size="6.5" fill="#000" text-anchor="middle" textLength="37.8" lengthAdjust="spacingAndGlyphs" fill-opacity="0.7">2021-03-15</text>
<line x1="97.1" y1="2015.0" x2="97.1" y2="2018.5" stroke="#333" stroke-width="0.8"/>
<text x="97.1" y="2025.1" font-size="6.5" fill="#000" text-anchor="middle" textLength="37.8" lengthAdjust="spacingAndGlyphs" fill-opacity="0.7">2021-04-01</text>
<line x1="131.2" y1="2015.0" x2="131.2" y2="2018.5" stroke="#333" stroke-width="0.8"/>
<text x="131.2" y="2025.1" font-size="6.5" fill="#000" text-anchor="middle" textLength="37.8" lengthAdjust="spacingAndGlyphs" fill-opacity="0.7">2021-04-15</text>
<line x1="170.2" y1="2015.0" x2="170.2" y2="2018.5" stroke="#333" stroke-width="0.8"/>
<text x="170.2" y="2025.1" font-size="6.5" fill="#000" text-anchor="middle" textLength="37.8" lengthAdjust="spacingAndGlyphs" fill-opacity="0.7">2021-05-01</text>
<line x1="204.3" y1="2015.0" x2="204.3" y2="2018.5" stroke="#333" stroke-width="0.8"/>
<text x="204.3" y="2025.1" font-size="6.5" fill="#000" text-anchor="middle" textLength="37.8" lengthAdjust="spacingAndGlyphs" fill-opacity="0.7">2021-05-15</text>
<line x1="245.7" y1="2015.0" x2="245.7" y2="2018.5" stroke="#333" stroke-width="0.8"/>
<text x="245.7" y="2025.1" font-size="6.5" fill="#000" text-anchor="middle" textLength="37.8" lengthAdjust="spacingAndGlyphs" fill-opacity="0.7">2021-06-01</text>
<line x1="279.8" y1="2015.0" x2="279.8" y2="2018.5" stroke="#333" stroke-width="0.8"/>
<text x="279.8" y="2025.1" font-size="6.5" fill="#000" text-anchor="middle" textLength="37.8" lengthAdjust="spacingAndGlyphs" fill-opacity="0.7">2021-06-15</text>
<line x1="318.8" y1="2015.0" x2="318.8" y2="2018.5" stroke="#333" stroke-width="0.8"/>
<text x="318.8" y="2025.1" font-size="6.5" fill="#000" text-anchor="middle" textLength="37.8" lengthAdjust="spacingAndGlyphs" fill-opacity="0.7">2021-07-01</text>
<line x1="352.9" y1="2015.0" x2="352.9" y2="2018.5" stroke="#333" stroke-width="0.8"/>
<text x="352.9" y="2025.1" font-size="6.5" fill="#000" text-anchor="middle" textLength="37.8" lengthAdjust="spacingAndGlyphs" fill-opacity="0.7">2021-07-15</text>
<text x="389.0" y="1921.2" font-size="12" fill="#ff0000" text-anchor="middle" textLength="146.8" lengthAdjust="spacingAndGlyphs" transform="rotate(-90 389.0 1921.2)">Percentage new variant</text>
<line x1="576.6" y1="1827.4" x2="576.6" y2="2015.0" stroke="#8a8a8a" stroke-width="1.0"/>
<line x1="423.0" y1="1921.2" x2="730.3" y2="1921.2" stroke="#111" stroke-width="1.6" stroke-dasharray="4,2"/>
<clipPath id="c8_1"><rect x="423.0" y="1827.4" width="307.3" height="187.6"/></clipPath>
<path d="M510.50,1889.42 C511.47,1889.58 514.01,1890.39 516.34,1890.39 C518.67,1890.39 521.75,1889.31 524.45,1889.42 C527.16,1889.52 529.86,1890.50 532.57,1891.04 C535.28,1891.58 537.98,1892.28 540.69,1892.66 C543.39,1893.04 546.10,1893.04 548.80,1893.31 C551.51,1893.58 554.21,1894.39 556.92,1894.28 C559.62,1894.18 562.60,1893.20 565.03,1892.66 C567.47,1892.12 569.63,1891.58 571.52,1891.04 C573.42,1890.50 574.23,1890.50 576.39,1889.42 C578.56,1888.33 581.53,1886.44 584.51,1884.55 C587.48,1882.65 591.27,1880.06 594.25,1878.05 C597.22,1876.05 599.93,1874.05 602.36,1872.54 C604.80,1871.02 606.42,1869.51 608.85,1868.96 C611.29,1868.42 614.54,1868.86 616.97,1869.29 C619.40,1869.72 621.30,1870.80 623.46,1871.56 C625.63,1872.32 627.79,1873.29 629.95,1873.83 C632.12,1874.38 634.82,1875.19 636.45,1874.81 C638.07,1874.43 638.18,1872.91 639.69,1871.56 C641.21,1870.21 644.56,1867.50 645.54,1866.69" fill="none" stroke="#1f77b4" stroke-width="1.05" stroke-linejoin="round" clip-path="url(#c8_1)"/>
<path d="M510.50,1925.77 C512.55,1925.77 519.15,1925.72 522.83,1925.77 C526.51,1925.83 529.86,1925.77 532.57,1926.10 C535.28,1926.42 536.36,1927.45 539.06,1927.72 C541.77,1927.99 545.01,1927.72 548.80,1927.72 C552.59,1927.72 558.00,1927.88 561.79,1927.72 C565.57,1927.56 569.09,1927.07 571.52,1926.75 C573.96,1926.42 574.50,1925.94 576.39,1925.77 C578.29,1925.61 580.45,1925.45 582.89,1925.77 C585.32,1926.10 588.03,1927.40 591.00,1927.72 C593.98,1928.05 598.03,1927.83 600.74,1927.72 C603.44,1927.61 604.53,1927.07 607.23,1927.07 C609.94,1927.07 613.72,1927.61 616.97,1927.72 C620.22,1927.83 623.46,1927.72 626.71,1927.72 C629.95,1927.72 633.31,1927.61 636.45,1927.72 C639.59,1927.83 644.02,1928.26 645.54,1928.37" fill="none" stroke="#ff7f0e" stroke-width="1.05" stroke-linejoin="round" clip-path="url(#c8_1)"/>
<line x1="423.0" y1="1827.4" x2="730.3" y2="1827.4" stroke="#a8a8a8" stroke-width="1.3"/>
<line x1="423.0" y1="2015.0" x2="730.3" y2="2015.0" stroke="#a8a8a8" stroke-width="1.3"/>
<line x1="423.0" y1="1827.4" x2="423.0" y2="2015.0" stroke="#a8a8a8" stroke-width="1.3"/>
<line x1="730.3" y1="1827.4" x2="730.3" y2="2015.0" stroke="#a8a8a8" stroke-width="1.3"/>
<line x1="419.5" y1="2015.0" x2="423.0" y2="2015.0" stroke="#333" stroke-width="0.8"/>
<text x="417.0" y="2017.3" font-size="6.5" fill="#000" text-anchor="end" textLength="10.3" lengthAdjust="spacingAndGlyphs" fill-opacity="0.7">0.2</text>
<line x1="419.5" y1="1991.6" x2="423.0" y2="1991.6" stroke="#333" stroke-width="0.8"/>
<text x="417.0" y="1993.9" font-size="6.5" fill="#000" text-anchor="end" textLength="10.3" lengthAdjust="spacingAndGlyphs" fill-opacity="0.7">0.4</text>
<line x1="419.5" y1="1968.1" x2="423.0" y2="1968.1" stroke="#333" stroke-width="0.8"/>
<text x="417.0" y="1970.4" font-size="6.5" fill="#000" text-anchor="end" textLength="10.3" lengthAdjust="spacingAndGlyphs" fill-opacity="0.7">0.6</text>
<line x1="419.5" y1="1944.7" x2="423.0" y2="1944.7" stroke="#333" stroke-width="0.8"/>
<text x="417.0" y="1947.0" font-size="6.5" fill="#000" text-anchor="end" textLength="10.3" lengthAdjust="spacingAndGlyphs" fill-opacity="0.7">0.8</text>
<line x1="419.5" y1="1921.2" x2="423.0" y2="1921.2" stroke="#333" stroke-width="0.8"/>
<text x="417.0" y="1923.5" font-size="6.5" fill="#000" text-anchor="end" textLength="10.3" lengthAdjust="spacingAndGlyphs" fill-opacity="0.7">1.0</text>
<line x1="419.5" y1="1897.8" x2="423.0" y2="1897.8" stroke="#333" stroke-width="0.8"/>
<text x="417.0" y="1900.1" font-size="6.5" fill="#000" text-anchor="end" textLength="10.3" lengthAdjust="spacingAndGlyphs" fill-opacity="0.7">1.2</text>
<line x1="419.5" y1="1874.3" x2="423.0" y2="1874.3" stroke="#333" stroke-width="0.8"/>
<text x="417.0" y="1876.6" font-size="6.5" fill="#000" text-anchor="end" textLength="10.3" lengthAdjust="spacingAndGlyphs" fill-opacity="0.7">1.4</text>
<line x1="419.5" y1="1850.9" x2="423.0" y2="1850.9" stroke="#333" stroke-width="0.8"/>
<text x="417.0" y="1853.2" font-size="6.5" fill="#000" text-anchor="end" textLength="10.3" lengthAdjust="spacingAndGlyphs" fill-opacity="0.7">1.6</text>
<line x1="419.5" y1="1827.4" x2="423.0" y2="1827.4" stroke="#333" stroke-width="0.8"/>
<text x="417.0" y="1829.7" font-size="6.5" fill="#000" text-anchor="end" textLength="10.3" lengthAdjust="spacingAndGlyphs" fill-opacity="0.7">1.8</text>
<line x1="423.5" y1="2015.0" x2="423.5" y2="2018.5" stroke="#333" stroke-width="0.8"/>
<text x="423.5" y="2025.1" font-size="6.5" fill="#000" text-anchor="middle" textLength="37.8" lengthAdjust="spacingAndGlyphs" fill-opacity="0.7">2021-03-15</text>
<line x1="464.9" y1="2015.0" x2="464.9" y2="2018.5" stroke="#333" stroke-width="0.8"/>
<text x="464.9" y="2025.1" font-size="6.5" fill="#000" text-anchor="middle" textLength="37.8" lengthAdjust="spacingAndGlyphs" fill-opacity="0.7">2021-04-01</text>
<line x1="499.0" y1="2015.0" x2="499.0" y2="2018.5" stroke="#333" stroke-width="0.8"/>
<text x="499.0" y="2025.1" font-size="6.5" fill="#000" text-anchor="middle" textLength="37.8" lengthAdjust="spacingAndGlyphs" fill-opacity="0.7">2021-04-15</text>
<line x1="538.0" y1="2015.0" x2="538.0" y2="2018.5" stroke="#333" stroke-width="0.8"/>
<text x="538.0" y="2025.1" font-size="6.5" fill="#000" text-anchor="middle" textLength="37.8" lengthAdjust="spacingAndGlyphs" fill-opacity="0.7">2021-05-01</text>
<line x1="572.1" y1="2015.0" x2="572.1" y2="2018.5" stroke="#333" stroke-width="0.8"/>
<text x="572.1" y="2025.1" font-size="6.5" fill="#000" text-anchor="middle" textLength="37.8" lengthAdjust="spacingAndGlyphs" fill-opacity="0.7">2021-05-15</text>
<line x1="613.5" y1="2015.0" x2="613.5" y2="2018.5" stroke="#333" stroke-width="0.8"/>
<text x="613.5" y="2025.1" font-size="6.5" fill="#000" text-anchor="middle" textLength="37.8" lengthAdjust="spacingAndGlyphs" fill-opacity="0.7">2021-06-01</text>
<line x1="647.6" y1="2015.0" x2="647.6" y2="2018.5" stroke="#333" stroke-width="0.8"/>
<text x="647.6" y="2025.1" font-size="6.5" fill="#000" text-anchor="middle" textLength="37.8" lengthAdjust="spacingAndGlyphs" fill-opacity="0.7">2021-06-15</text>
<line x1="686.6" y1="2015.0" x2="686.6" y2="2018.5" stroke="#333" stroke-width="0.8"/>
<text x="686.6" y="2025.1" font-size="6.5" fill="#000" text-anchor="middle" textLength="37.8" lengthAdjust="spacingAndGlyphs" fill-opacity="0.7">2021-07-01</text>
<line x1="720.7" y1="2015.0" x2="720.7" y2="2018.5" stroke="#333" stroke-width="0.8"/>
<text x="720.7" y="2025.1" font-size="6.5" fill="#000" text-anchor="middle" textLength="37.8" lengthAdjust="spacingAndGlyphs" fill-opacity="0.7">2021-07-15</text>
<line x1="945.5" y1="1827.4" x2="945.5" y2="2015.0" stroke="#8a8a8a" stroke-width="1.0"/>
<line x1="790.1" y1="1921.2" x2="1097.7" y2="1921.2" stroke="#111" stroke-width="1.6" stroke-dasharray="4,2"/>
<clipPath id="c8_2"><rect x="790.1" y="1827.4" width="307.6" height="187.6"/></clipPath>
<path d="M880.13,1890.84 C881.64,1890.84 886.61,1891.00 889.20,1890.84 C891.79,1890.67 892.97,1889.86 895.67,1889.86 C898.37,1889.86 902.15,1890.67 905.38,1890.84 C908.62,1891.00 911.86,1890.84 915.09,1890.84 C918.33,1890.84 922.11,1890.57 924.81,1890.84 C927.50,1891.11 929.12,1892.45 931.28,1892.45 C933.44,1892.45 935.33,1891.38 937.75,1890.84 C940.18,1890.30 943.42,1890.13 945.85,1889.22 C948.28,1888.30 950.16,1886.68 952.32,1885.33 C954.48,1883.98 956.37,1882.53 958.80,1881.12 C961.22,1879.72 964.19,1878.37 966.89,1876.92 C969.59,1875.46 971.74,1873.30 974.98,1872.38 C978.22,1871.47 983.07,1871.20 986.31,1871.41 C989.55,1871.63 991.98,1872.98 994.40,1873.68 C996.83,1874.38 998.99,1875.46 1000.88,1875.62 C1002.77,1875.78 1004.39,1875.35 1005.73,1874.65 C1007.08,1873.95 1007.79,1872.49 1008.97,1871.41 C1010.16,1870.33 1012.21,1868.72 1012.86,1868.18" fill="none" stroke="#1f77b4" stroke-width="1.05" stroke-linejoin="round" clip-path="url(#c8_2)"/>
<line x1="790.1" y1="1827.4" x2="1097.7" y2="1827.4" stroke="#a8a8a8" stroke-width="1.3"/>
<line x1="790.1" y1="2015.0" x2="1097.7" y2="2015.0" stroke="#a8a8a8" stroke-width="1.3"/>
<line x1="790.1" y1="1827.4" x2="790.1" y2="2015.0" stroke="#a8a8a8" stroke-width="1.3"/>
<line x1="1097.7" y1="1827.4" x2="1097.7" y2="2015.0" stroke="#a8a8a8" stroke-width="1.3"/>
<line x1="786.6" y1="2015.0" x2="790.1" y2="2015.0" stroke="#333" stroke-width="0.8"/>
<text x="784.1" y="2017.3" font-size="6.5" fill="#000" text-anchor="end" textLength="14.5" lengthAdjust="spacingAndGlyphs" fill-opacity="0.7">0.00</text>
<line x1="786.6" y1="1991.5" x2="790.1" y2="1991.5" stroke="#333" stroke-width="0.8"/>
<text x="784.1" y="1993.9" font-size="6.5" fill="#000" text-anchor="end" textLength="14.5" lengthAdjust="spacingAndGlyphs" fill-opacity="0.7">0.25</text>
<line x1="786.6" y1="1968.1" x2="790.1" y2="1968.1" stroke="#333" stroke-width="0.8"/>
<text x="784.1" y="1970.4" font-size="6.5" fill="#000" text-anchor="end" textLength="14.5" lengthAdjust="spacingAndGlyphs" fill-opacity="0.7">0.50</text>
<line x1="786.6" y1="1944.7" x2="790.1" y2="1944.7" stroke="#333" stroke-width="0.8"/>
<text x="784.1" y="1947.0" font-size="6.5" fill="#000" text-anchor="end" textLength="14.5" lengthAdjust="spacingAndGlyphs" fill-opacity="0.7">0.75</text>
<line x1="786.6" y1="1921.2" x2="790.1" y2="1921.2" stroke="#333" stroke-width="0.8"/>
<text x="784.1" y="1923.5" font-size="6.5" fill="#000" text-anchor="end" textLength="14.5" lengthAdjust="spacingAndGlyphs" fill-opacity="0.7">1.00</text>
<line x1="786.6" y1="1897.8" x2="790.1" y2="1897.8" stroke="#333" stroke-width="0.8"/>
<text x="784.1" y="1900.1" font-size="6.5" fill="#000" text-anchor="end" textLength="14.5" lengthAdjust="spacingAndGlyphs" fill-opacity="0.7">1.25</text>
<line x1="786.6" y1="1874.3" x2="790.1" y2="1874.3" stroke="#333" stroke-width="0.8"/>
<text x="784.1" y="1876.6" font-size="6.5" fill="#000" text-anchor="end" textLength="14.5" lengthAdjust="spacingAndGlyphs" fill-opacity="0.7">1.50</text>
<line x1="786.6" y1="1850.9" x2="790.1" y2="1850.9" stroke="#333" stroke-width="0.8"/>
<text x="784.1" y="1853.2" font-size="6.5" fill="#000" text-anchor="end" textLength="14.5" lengthAdjust="spacingAndGlyphs" fill-opacity="0.7">1.75</text>
<line x1="786.6" y1="1827.4" x2="790.1" y2="1827.4" stroke="#333" stroke-width="0.8"/>
<text x="784.1" y="1829.7" font-size="6.5" fill="#000" text-anchor="end" textLength="14.5" lengthAdjust="spacingAndGlyphs" fill-opacity="0.7">2.00</text>
<line x1="793.6" y1="2015.0" x2="793.6" y2="2018.5" stroke="#333" stroke-width="0.8"/>
<text x="793.6" y="2025.1" font-size="6.5" fill="#000" text-anchor="middle" textLength="37.8" lengthAdjust="spacingAndGlyphs" fill-opacity="0.7">2021-03-15</text>
<line x1="835.0" y1="2015.0" x2="835.0" y2="2018.5" stroke="#333" stroke-width="0.8"/>
<text x="835.0" y="2025.1" font-size="6.5" fill="#000" text-anchor="middle" textLength="37.8" lengthAdjust="spacingAndGlyphs" fill-opacity="0.7">2021-04-01</text>
<line x1="869.1" y1="2015.0" x2="869.1" y2="2018.5" stroke="#333" stroke-width="0.8"/>
<text x="869.1" y="2025.1" font-size="6.5" fill="#000" text-anchor="middle" textLength="37.8" lengthAdjust="spacingAndGlyphs" fill-opacity="0.7">2021-04-15</text>
<line x1="908.1" y1="2015.0" x2="908.1" y2="2018.5" stroke="#333" stroke-width="0.8"/>
<text x="908.1" y="2025.1" font-size="6.5" fill="#000" text-anchor="middle" textLength="37.8" lengthAdjust="spacingAndGlyphs" fill-opacity="0.7">2021-05-01</text>
<line x1="942.2" y1="2015.0" x2="942.2" y2="2018.5" stroke="#333" stroke-width="0.8"/>
<text x="942.2" y="2025.1" font-size="6.5" fill="#000" text-anchor="middle" textLength="37.8" lengthAdjust="spacingAndGlyphs" fill-opacity="0.7">2021-05-15</text>
<line x1="983.6" y1="2015.0" x2="983.6" y2="2018.5" stroke="#333" stroke-width="0.8"/>
<text x="983.6" y="2025.1" font-size="6.5" fill="#000" text-anchor="middle" textLength="37.8" lengthAdjust="spacingAndGlyphs" fill-opacity="0.7">2021-06-01</text>
<line x1="1017.7" y1="2015.0" x2="1017.7" y2="2018.5" stroke="#333" stroke-width="0.8"/>
<text x="1017.7" y="2025.1" font-size="6.5" fill="#000" text-anchor="middle" textLength="37.8" lengthAdjust="spacingAndGlyphs" fill-opacity="0.7">2021-06-15</text>
<line x1="1056.7" y1="2015.0" x2="1056.7" y2="2018.5" stroke="#333" stroke-width="0.8"/>
<text x="1056.7" y="2025.1" font-size="6.5" fill="#000" text-anchor="middle" textLength="37.8" lengthAdjust="spacingAndGlyphs" fill-opacity="0.7">2021-07-01</text>
<line x1="1090.8" y1="2015.0" x2="1090.8" y2="2018.5" stroke="#333" stroke-width="0.8"/>
<text x="1090.8" y="2025.1" font-size="6.5" fill="#000" text-anchor="middle" textLength="37.8" lengthAdjust="spacingAndGlyphs" fill-opacity="0.7">2021-07-15</text>
<text x="24.5" y="2147.1" font-size="17" fill="#000" text-anchor="middle" textLength="73.9" lengthAdjust="spacingAndGlyphs" transform="rotate(-90 24.5 2147.1)">Scotland</text>
<line x1="207.3" y1="2053.3" x2="207.3" y2="2240.9" stroke="#b8b8b8" stroke-width="1.4"/>
<clipPath id="c9_0"><rect x="54.2" y="2053.3" width="307.0" height="187.6"/></clipPath>
<polyline points="55.0,2232.3 56.5,2232.3 58.0,2232.3 59.5,2232.3 61.0,2232.2 62.5,2232.2 64.0,2232.2 65.5,2232.2 67.0,2232.2 68.5,2232.2 70.0,2232.2 71.5,2232.2 73.0,2232.2 74.5,2232.2 76.0,2232.2 77.5,2232.2 79.0,2232.2 80.5,2232.2 82.0,2232.2 83.5,2232.2 85.0,2232.2 86.5,2232.2 88.0,2232.2 89.5,2232.2 91.0,2232.2 92.5,2232.2 94.0,2232.2 95.5,2232.2 97.0,2232.2 98.5,2232.2 100.0,2232.2 101.5,2232.2 103.0,2232.2 104.5,2232.2 106.0,2232.2 107.5,2232.2 109.0,2232.2 110.5,2232.2 112.0,2232.2 113.5,2232.2 115.0,2232.2 116.5,2232.2 118.0,2232.2 119.5,2232.2 121.0,2232.2 122.5,2232.2 124.0,2232.2 125.5,2232.2 127.0,2232.2 128.5,2232.2 130.0,2232.2 131.5,2232.2 133.0,2232.2 134.5,2232.2 136.0,2232.2 137.5,2232.2 139.0,2232.2 140.5,2232.2 142.0,2232.1 143.5,2232.1 145.0,2232.1 146.5,2232.0 148.0,2232.0 149.5,2232.0 151.0,2232.0 152.5,2232.0 154.0,2232.0 155.5,2232.0 157.0,2232.0 158.5,2232.0 160.0,2232.1 161.5,2232.1 163.0,2232.1 164.5,2232.1 166.0,2232.0 167.5,2232.0 169.0,2231.9 170.5,2231.9 172.0,2231.9 173.5,2231.9 175.0,2231.8 176.5,2231.7 178.0,2231.7 179.5,2231.8 181.0,2231.8 182.5,2231.8 184.0,2231.8 185.5,2231.7 187.0,2231.6 188.5,2231.5 190.0,2231.3 191.5,2231.1 193.0,2230.8 194.5,2230.5" fill="none" stroke="#a9cde8" stroke-width="1.8" stroke-linejoin="round" clip-path="url(#c9_0)"/>
<polyline points="193.0,2230.8 194.5,2230.5 196.0,2230.3 197.5,2230.1 199.0,2229.9 200.5,2229.7 202.0,2229.3 203.5,2229.0 205.0,2228.7 206.5,2228.6 208.0,2228.6 209.5,2228.8 211.0,2228.8 212.5,2228.9 214.0,2228.9 215.5,2228.7 217.0,2227.9 218.5,2227.0 220.0,2226.2 221.5,2225.7 223.0,2225.2 224.5,2224.5 226.0,2223.5 227.5,2222.7 229.0,2221.6 230.5,2220.5 232.0,2219.4 233.5,2218.1 235.0,2217.7 236.5,2217.4 238.0,2217.1 239.5,2216.8 241.0,2215.7 242.5,2214.5 244.0,2213.2 245.5,2211.1 247.0,2208.6 248.5,2206.3 250.0,2204.8 251.5,2203.3 253.0,2202.0 254.5,2201.4 256.0,2199.9 257.5,2196.8 259.0,2192.9 260.5,2188.3 262.0,2185.5 263.5,2184.4 265.0,2183.3 266.5,2182.2 268.0,2181.0 269.5,2179.8 271.0,2178.6 272.5,2177.5 274.0,2176.7 275.5,2175.9 277.0,2175.2 278.5,2174.2 280.0,2173.1 281.5,2174.1 283.0,2175.2 284.5,2175.7 286.0,2172.2 287.5,2168.6 289.0,2166.7 290.5,2169.7 292.0,2170.8 293.5,2168.1 295.0,2164.8 296.5,2160.6 298.0,2156.4 299.5,2152.6 301.0,2149.4 302.5,2146.2 304.0,2139.7 305.5,2131.3 307.0,2123.0 308.5,2114.7 310.0,2101.2 311.5,2093.9 313.0,2088.3 314.5,2082.7 316.0,2080.8 317.5,2079.2 319.0,2077.4 320.5,2072.0 322.0,2067.3 323.5,2066.3 325.0,2065.2 326.5,2064.4 328.0,2064.0 329.5,2063.6 331.0,2063.2 332.5,2064.9 334.0,2069.9 335.5,2074.8 337.0,2078.2 338.5,2080.0 340.0,2082.2 341.5,2088.1 343.0,2090.5 344.5,2091.0 346.0,2091.5 347.5,2095.4 349.0,2100.4 350.5,2105.4 352.0,2106.4 353.5,2106.8 355.0,2107.3 356.5,2114.2 358.0,2121.0 359.5,2127.9 360.1,2130.3" fill="none" stroke="#1f77b4" stroke-width="1.15" stroke-linejoin="round" clip-path="url(#c9_0)"/>
<polyline points="55.0,2212.5 56.5,2211.0 58.0,2209.5 59.5,2208.0 61.0,2206.5 62.5,2205.0 64.0,2204.0 65.5,2203.1 67.0,2202.3 68.5,2202.0 70.0,2202.9 71.5,2203.7 73.0,2204.6 74.5,2206.3 76.0,2208.1 77.5,2209.5 79.0,2208.3 80.5,2207.1 82.0,2205.8 83.5,2204.3 85.0,2202.8 86.5,2201.6 88.0,2200.9 89.5,2200.3 91.0,2200.8 92.5,2203.0 94.0,2205.1 95.5,2206.8 97.0,2208.1 98.5,2209.4 100.0,2210.7 101.5,2211.0 103.0,2210.7 104.5,2210.5 106.0,2211.5 107.5,2212.8 109.0,2214.1 110.5,2215.4 112.0,2216.7 113.5,2218.0 115.0,2219.3 116.5,2220.6 118.0,2221.2 119.5,2221.8 121.0,2222.4 122.5,2223.0 124.0,2222.9 125.5,2221.4 127.0,2219.9 128.5,2219.6 130.0,2220.8 131.5,2222.1 133.0,2223.1 134.5,2224.0 136.0,2224.9 137.5,2224.7 139.0,2223.8 140.5,2222.9 142.0,2222.2 143.5,2221.5 145.0,2220.7 146.5,2220.7 148.0,2220.7 149.5,2220.7 151.0,2220.8 152.5,2221.8 154.0,2222.7 155.5,2223.7 157.0,2224.4 158.5,2225.2 160.0,2225.9 161.5,2226.6 163.0,2227.4 164.5,2227.6 166.0,2226.9 167.5,2226.2 169.0,2225.5 170.5,2224.9 172.0,2224.4 173.5,2223.9 175.0,2222.8 176.5,2221.4 178.0,2221.9 179.5,2223.1 181.0,2224.0 182.5,2224.8 184.0,2225.6 185.5,2225.8 187.0,2225.8 188.5,2225.9 190.0,2225.6 191.5,2225.4 193.0,2225.2 194.5,2225.1 196.0,2225.3 197.5,2225.5 199.0,2225.7 200.5,2225.7 202.0,2225.4 203.5,2225.0 205.0,2224.7 212.2,2226.9 216.5,2227.6 222.3,2226.9 228.1,2226.6 233.9,2223.3 242.5,2223.3 248.3,2221.4 255.5,2221.9 262.7,2221.9 268.5,2224.0 274.3,2226.2 280.0,2227.2 291.6,2228.3 298.8,2229.5 320.4,2229.5 334.8,2230.1 342.1,2231.2 360.1,2231.2" fill="none" stroke="#ff7f0e" stroke-width="1.1" stroke-linejoin="round" clip-path="url(#c9_0)"/>
<polyline points="55.0,2212.5 63.0,2204.5 68.0,2201.7 73.1,2204.5 77.4,2209.6 81.7,2206.0 86.1,2201.7 90.4,2199.8 94.7,2206.0 100.5,2211.0 104.8,2210.3 110.6,2215.4 116.4,2220.4 123.6,2223.3 127.9,2219.0 132.2,2222.6 136.6,2225.2 140.9,2222.6 145.2,2220.4 151.0,2220.4 155.3,2223.3 159.6,2225.5 164.0,2227.6 169.7,2224.7 174.1,2223.3 177.0,2220.4 179.8,2222.9 184.2,2225.2 188.5,2225.2 194.3,2223.3 200.0,2223.3 205.0,2221.1 209.3,2223.3 215.1,2225.2 219.4,2221.1 223.8,2219.7 228.1,2216.1 233.9,2209.6 239.6,2208.9 244.0,2204.5 248.3,2196.6 252.6,2192.3 255.5,2191.6 258.4,2185.1 261.3,2175.2 265.6,2173.5 268.5,2172.1 272.8,2169.9 277.1,2169.2 280.0,2167.7 284.4,2172.1 288.7,2162.0 291.6,2168.5 294.4,2163.4 298.8,2151.9 303.1,2143.2 306.0,2127.4 308.9,2111.5 310.3,2097.1 314.6,2081.2 319.0,2076.9 321.9,2066.8 326.2,2063.9 332.0,2062.4 336.3,2076.9 339.9,2081.2 342.1,2089.8 346.4,2091.3 350.7,2105.7 355.0,2107.2 360.1,2130.2" fill="none" stroke="#2ca02c" stroke-width="1.1" stroke-linejoin="round" clip-path="url(#c9_0)"/>
<line x1="54.2" y1="2053.3" x2="361.2" y2="2053.3" stroke="#1a1a1a" stroke-width="1.8"/>
<line x1="54.2" y1="2240.9" x2="361.2" y2="2240.9" stroke="#111" stroke-width="1.6"/>
<line x1="54.2" y1="2053.3" x2="54.2" y2="2240.9" stroke="#111" stroke-width="1.6"/>
<line x1="361.2" y1="2053.3" x2="361.2" y2="2240.9" stroke="#d62728" stroke-width="1.6"/>
<clipPath id="c9_0r"><rect x="54.2" y="2052.3" width="307.0" height="189.6"/></clipPath>
<polyline points="55.0,2240.6 107.7,2239.9 136.6,2239.2 143.8,2237.3 151.0,2235.6 161.1,2234.1 165.4,2231.2 174.1,2231.5 179.8,2231.2 185.6,2225.5 188.5,2221.1 191.4,2213.9 194.3,2205.3 197.2,2195.2 201.5,2185.1 205.0,2180.7 207.9,2169.2 212.2,2162.0 215.1,2151.9 218.0,2146.1 220.9,2137.4 223.8,2131.7 226.6,2126.6 231.0,2124.5 236.7,2119.4 241.1,2115.8 245.4,2111.5 248.3,2105.7 252.6,2099.9 255.5,2097.1 259.8,2090.6 265.6,2083.3 271.4,2076.9 277.1,2071.1 282.9,2066.8 288.7,2063.9 294.4,2061.7 300.2,2058.1 306.0,2055.9 313.2,2054.9 320.4,2054.1 360.1,2053.5" fill="none" stroke="#ff0000" stroke-width="1.15" stroke-linejoin="round" stroke-dasharray="3.5,2.2" clip-path="url(#c9_0r)"/>
<line x1="50.7" y1="2232.3" x2="54.2" y2="2232.3" stroke="#333" stroke-width="0.8"/>
<text x="48.2" y="2234.6" font-size="6.5" fill="#000" text-anchor="end" textLength="4.1" lengthAdjust="spacingAndGlyphs" fill-opacity="0.7">0</text>
<line x1="50.7" y1="2195.5" x2="54.2" y2="2195.5" stroke="#333" stroke-width="0.8"/>
<text x="48.2" y="2197.8" font-size="6.5" fill="#000" text-anchor="end" textLength="16.5" lengthAdjust="spacingAndGlyphs" fill-opacity="0.7">1000</text>
<line x1="50.7" y1="2158.7" x2="54.2" y2="2158.7" stroke="#333" stroke-width="0.8"/>
<text x="48.2" y="2161.0" font-size="6.5" fill="#000" text-anchor="end" textLength="16.5" lengthAdjust="spacingAndGlyphs" fill-opacity="0.7">2000</text>
<line x1="50.7" y1="2121.9" x2="54.2" y2="2121.9" stroke="#333" stroke-width="0.8"/>
<text x="48.2" y="2124.2" font-size="6.5" fill="#000" text-anchor="end" textLength="16.5" lengthAdjust="spacingAndGlyphs" fill-opacity="0.7">3000</text>
<line x1="50.7" y1="2085.1" x2="54.2" y2="2085.1" stroke="#333" stroke-width="0.8"/>
<text x="48.2" y="2087.4" font-size="6.5" fill="#000" text-anchor="end" textLength="16.5" lengthAdjust="spacingAndGlyphs" fill-opacity="0.7">4000</text>
<line x1="361.2" y1="2240.9" x2="364.7" y2="2240.9" stroke="#ff0000" stroke-width="0.8"/>
<text x="366.2" y="2243.1" font-size="6.0" fill="#ff0000" text-anchor="start" textLength="9.5" lengthAdjust="spacingAndGlyphs" fill-opacity="0.9">0.0</text>
<line x1="361.2" y1="2203.4" x2="364.7" y2="2203.4" stroke="#ff0000" stroke-width="0.8"/>
<text x="366.2" y="2205.5" font-size="6.0" fill="#ff0000" text-anchor="start" textLength="9.5" lengthAdjust="spacingAndGlyphs" fill-opacity="0.9">0.2</text>
<line x1="361.2" y1="2165.9" x2="364.7" y2="2165.9" stroke="#ff0000" stroke-width="0.8"/>
<text x="366.2" y="2168.0" font-size="6.0" fill="#ff0000" text-anchor="start" textLength="9.5" lengthAdjust="spacingAndGlyphs" fill-opacity="0.9">0.4</text>
<line x1="361.2" y1="2128.3" x2="364.7" y2="2128.3" stroke="#ff0000" stroke-width="0.8"/>
<text x="366.2" y="2130.5" font-size="6.0" fill="#ff0000" text-anchor="start" textLength="9.5" lengthAdjust="spacingAndGlyphs" fill-opacity="0.9">0.6</text>
<line x1="361.2" y1="2090.8" x2="364.7" y2="2090.8" stroke="#ff0000" stroke-width="0.8"/>
<text x="366.2" y="2093.0" font-size="6.0" fill="#ff0000" text-anchor="start" textLength="9.5" lengthAdjust="spacingAndGlyphs" fill-opacity="0.9">0.8</text>
<line x1="361.2" y1="2053.3" x2="364.7" y2="2053.3" stroke="#ff0000" stroke-width="0.8"/>
<text x="366.2" y="2055.5" font-size="6.0" fill="#ff0000" text-anchor="start" textLength="9.5" lengthAdjust="spacingAndGlyphs" fill-opacity="0.9">1.0</text>
<line x1="55.7" y1="2240.9" x2="55.7" y2="2244.4" stroke="#333" stroke-width="0.8"/>
<text x="55.7" y="2251.0" font-size="6.5" fill="#000" text-anchor="middle" textLength="37.8" lengthAdjust="spacingAndGlyphs" fill-opacity="0.7">2021-03-15</text>
<line x1="97.1" y1="2240.9" x2="97.1" y2="2244.4" stroke="#333" stroke-width="0.8"/>
<text x="97.1" y="2251.0" font-size="6.5" fill="#000" text-anchor="middle" textLength="37.8" lengthAdjust="spacingAndGlyphs" fill-opacity="0.7">2021-04-01</text>
<line x1="131.2" y1="2240.9" x2="131.2" y2="2244.4" stroke="#333" stroke-width="0.8"/>
<text x="131.2" y="2251.0" font-size="6.5" fill="#000" text-anchor="middle" textLength="37.8" lengthAdjust="spacingAndGlyphs" fill-opacity="0.7">2021-04-15</text>
<line x1="170.2" y1="2240.9" x2="170.2" y2="2244.4" stroke="#333" stroke-width="0.8"/>
<text x="170.2" y="2251.0" font-size="6.5" fill="#000" text-anchor="middle" textLength="37.8" lengthAdjust="spacingAndGlyphs" fill-opacity="0.7">2021-05-01</text>
<line x1="204.3" y1="2240.9" x2="204.3" y2="2244.4" stroke="#333" stroke-width="0.8"/>
<text x="204.3" y="2251.0" font-size="6.5" fill="#000" text-anchor="middle" textLength="37.8" lengthAdjust="spacingAndGlyphs" fill-opacity="0.7">2021-05-15</text>
<line x1="245.7" y1="2240.9" x2="245.7" y2="2244.4" stroke="#333" stroke-width="0.8"/>
<text x="245.7" y="2251.0" font-size="6.5" fill="#000" text-anchor="middle" textLength="37.8" lengthAdjust="spacingAndGlyphs" fill-opacity="0.7">2021-06-01</text>
<line x1="279.8" y1="2240.9" x2="279.8" y2="2244.4" stroke="#333" stroke-width="0.8"/>
<text x="279.8" y="2251.0" font-size="6.5" fill="#000" text-anchor="middle" textLength="37.8" lengthAdjust="spacingAndGlyphs" fill-opacity="0.7">2021-06-15</text>
<line x1="318.8" y1="2240.9" x2="318.8" y2="2244.4" stroke="#333" stroke-width="0.8"/>
<text x="318.8" y="2251.0" font-size="6.5" fill="#000" text-anchor="middle" textLength="37.8" lengthAdjust="spacingAndGlyphs" fill-opacity="0.7">2021-07-01</text>
<line x1="352.9" y1="2240.9" x2="352.9" y2="2244.4" stroke="#333" stroke-width="0.8"/>
<text x="352.9" y="2251.0" font-size="6.5" fill="#000" text-anchor="middle" textLength="37.8" lengthAdjust="spacingAndGlyphs" fill-opacity="0.7">2021-07-15</text>
<text x="389.0" y="2147.1" font-size="12" fill="#ff0000" text-anchor="middle" textLength="146.8" lengthAdjust="spacingAndGlyphs" transform="rotate(-90 389.0 2147.1)">Percentage new variant</text>
<line x1="576.6" y1="2053.3" x2="576.6" y2="2240.9" stroke="#8a8a8a" stroke-width="1.0"/>
<line x1="423.0" y1="2147.1" x2="730.3" y2="2147.1" stroke="#888" stroke-width="1.1" stroke-dasharray="4,2"/>
<clipPath id="c9_1"><rect x="423.0" y="2053.3" width="307.3" height="187.6"/></clipPath>
<path d="M525.43,2096.59 C526.62,2096.48 530.03,2096.32 532.57,2095.94 C535.11,2095.56 537.98,2094.69 540.69,2094.32 C543.39,2093.94 546.10,2094.32 548.80,2093.67 C551.51,2093.02 554.21,2091.23 556.92,2090.42 C559.62,2089.61 562.06,2089.07 565.03,2088.80 C568.01,2088.53 572.34,2088.26 574.77,2088.80 C577.20,2089.34 577.75,2091.50 579.64,2092.04 C581.53,2092.58 583.70,2092.75 586.13,2092.04 C588.57,2091.34 591.81,2088.26 594.25,2087.82 C596.68,2087.39 598.58,2088.36 600.74,2089.45 C602.90,2090.53 605.34,2092.96 607.23,2094.32 C609.13,2095.67 609.94,2097.29 612.10,2097.56 C614.27,2097.83 617.78,2095.40 620.22,2095.94 C622.65,2096.48 624.54,2098.91 626.71,2100.81 C628.87,2102.70 631.04,2104.60 633.20,2107.30 C635.37,2110.01 637.80,2113.95 639.69,2117.04 C641.59,2120.12 642.67,2123.37 644.56,2125.80 C646.46,2128.24 648.89,2130.13 651.06,2131.65 C653.22,2133.16 655.65,2134.89 657.55,2134.89 C659.44,2134.89 660.52,2134.08 662.42,2131.65 C664.31,2129.21 667.83,2122.18 668.91,2120.28" fill="none" stroke="#1f77b4" stroke-width="1.05" stroke-linejoin="round" clip-path="url(#c9_1)"/>
<path d="M525.43,2161.51 C526.35,2163.03 529.22,2169.90 530.95,2170.60 C532.68,2171.30 534.19,2170.06 535.82,2165.73 C537.44,2161.40 539.17,2149.77 540.69,2144.63 C542.20,2139.49 543.55,2135.97 544.91,2134.89 C546.26,2133.81 547.34,2135.43 548.80,2138.14 C550.26,2140.84 552.32,2147.61 553.67,2151.12 C555.02,2154.64 555.56,2158.43 556.92,2159.24 C558.27,2160.05 559.89,2157.18 561.79,2155.99 C563.68,2154.80 566.11,2152.91 568.28,2152.10 C570.44,2151.29 572.88,2150.47 574.77,2151.12 C576.66,2151.77 578.02,2155.02 579.64,2155.99 C581.26,2156.97 582.89,2158.32 584.51,2156.97 C586.13,2155.61 587.75,2151.02 589.38,2147.88 C591.00,2144.74 592.62,2141.11 594.25,2138.14 C595.87,2135.16 597.49,2131.75 599.12,2130.02 C600.74,2128.29 602.09,2127.75 603.99,2127.75 C605.88,2127.75 607.77,2129.27 610.48,2130.02 C613.18,2130.78 617.78,2131.21 620.22,2132.30 C622.65,2133.38 623.46,2134.35 625.09,2136.52 C626.71,2138.68 628.33,2142.30 629.95,2145.28 C631.58,2148.26 633.20,2150.96 634.82,2154.37 C636.45,2157.78 638.07,2162.21 639.69,2165.73 C641.32,2169.25 642.94,2173.04 644.56,2175.47 C646.19,2177.90 647.54,2179.80 649.43,2180.34 C651.33,2180.88 653.76,2179.15 655.92,2178.72 C658.09,2178.28 660.25,2178.28 662.42,2177.74 C664.58,2177.20 667.83,2175.85 668.91,2175.47" fill="none" stroke="#ff7f0e" stroke-width="1.05" stroke-linejoin="round" clip-path="url(#c9_1)"/>
<line x1="423.0" y1="2053.3" x2="730.3" y2="2053.3" stroke="#1a1a1a" stroke-width="1.8"/>
<line x1="423.0" y1="2240.9" x2="730.3" y2="2240.9" stroke="#1a1a1a" stroke-width="1.8"/>
<line x1="423.0" y1="2053.3" x2="423.0" y2="2240.9" stroke="#a8a8a8" stroke-width="1.3"/>
<line x1="730.3" y1="2053.3" x2="730.3" y2="2240.9" stroke="#a8a8a8" stroke-width="1.3"/>
<line x1="419.5" y1="2240.9" x2="423.0" y2="2240.9" stroke="#333" stroke-width="0.8"/>
<text x="417.0" y="2243.2" font-size="6.5" fill="#000" text-anchor="end" textLength="10.3" lengthAdjust="spacingAndGlyphs" fill-opacity="0.7">0.2</text>
<line x1="419.5" y1="2217.4" x2="423.0" y2="2217.4" stroke="#333" stroke-width="0.8"/>
<text x="417.0" y="2219.8" font-size="6.5" fill="#000" text-anchor="end" textLength="10.3" lengthAdjust="spacingAndGlyphs" fill-opacity="0.7">0.4</text>
<line x1="419.5" y1="2194.0" x2="423.0" y2="2194.0" stroke="#333" stroke-width="0.8"/>
<text x="417.0" y="2196.3" font-size="6.5" fill="#000" text-anchor="end" textLength="10.3" lengthAdjust="spacingAndGlyphs" fill-opacity="0.7">0.6</text>
<line x1="419.5" y1="2170.6" x2="423.0" y2="2170.6" stroke="#333" stroke-width="0.8"/>
<text x="417.0" y="2172.9" font-size="6.5" fill="#000" text-anchor="end" textLength="10.3" lengthAdjust="spacingAndGlyphs" fill-opacity="0.7">0.8</text>
<line x1="419.5" y1="2147.1" x2="423.0" y2="2147.1" stroke="#333" stroke-width="0.8"/>
<text x="417.0" y="2149.4" font-size="6.5" fill="#000" text-anchor="end" textLength="10.3" lengthAdjust="spacingAndGlyphs" fill-opacity="0.7">1.0</text>
<line x1="419.5" y1="2123.7" x2="423.0" y2="2123.7" stroke="#333" stroke-width="0.8"/>
<text x="417.0" y="2126.0" font-size="6.5" fill="#000" text-anchor="end" textLength="10.3" lengthAdjust="spacingAndGlyphs" fill-opacity="0.7">1.2</text>
<line x1="419.5" y1="2100.2" x2="423.0" y2="2100.2" stroke="#333" stroke-width="0.8"/>
<text x="417.0" y="2102.5" font-size="6.5" fill="#000" text-anchor="end" textLength="10.3" lengthAdjust="spacingAndGlyphs" fill-opacity="0.7">1.4</text>
<line x1="419.5" y1="2076.8" x2="423.0" y2="2076.8" stroke="#333" stroke-width="0.8"/>
<text x="417.0" y="2079.1" font-size="6.5" fill="#000" text-anchor="end" textLength="10.3" lengthAdjust="spacingAndGlyphs" fill-opacity="0.7">1.6</text>
<line x1="419.5" y1="2053.3" x2="423.0" y2="2053.3" stroke="#333" stroke-width="0.8"/>
<text x="417.0" y="2055.6" font-size="6.5" fill="#000" text-anchor="end" textLength="10.3" lengthAdjust="spacingAndGlyphs" fill-opacity="0.7">1.8</text>
<line x1="423.5" y1="2240.9" x2="423.5" y2="2244.4" stroke="#333" stroke-width="0.8"/>
<text x="423.5" y="2251.0" font-size="6.5" fill="#000" text-anchor="middle" textLength="37.8" lengthAdjust="spacingAndGlyphs" fill-opacity="0.7">2021-03-15</text>
<line x1="464.9" y1="2240.9" x2="464.9" y2="2244.4" stroke="#333" stroke-width="0.8"/>
<text x="464.9" y="2251.0" font-size="6.5" fill="#000" text-anchor="middle" textLength="37.8" lengthAdjust="spacingAndGlyphs" fill-opacity="0.7">2021-04-01</text>
<line x1="499.0" y1="2240.9" x2="499.0" y2="2244.4" stroke="#333" stroke-width="0.8"/>
<text x="499.0" y="2251.0" font-size="6.5" fill="#000" text-anchor="middle" textLength="37.8" lengthAdjust="spacingAndGlyphs" fill-opacity="0.7">2021-04-15</text>
<line x1="538.0" y1="2240.9" x2="538.0" y2="2244.4" stroke="#333" stroke-width="0.8"/>
<text x="538.0" y="2251.0" font-size="6.5" fill="#000" text-anchor="middle" textLength="37.8" lengthAdjust="spacingAndGlyphs" fill-opacity="0.7">2021-05-01</text>
<line x1="572.1" y1="2240.9" x2="572.1" y2="2244.4" stroke="#333" stroke-width="0.8"/>
<text x="572.1" y="2251.0" font-size="6.5" fill="#000" text-anchor="middle" textLength="37.8" lengthAdjust="spacingAndGlyphs" fill-opacity="0.7">2021-05-15</text>
<line x1="613.5" y1="2240.9" x2="613.5" y2="2244.4" stroke="#333" stroke-width="0.8"/>
<text x="613.5" y="2251.0" font-size="6.5" fill="#000" text-anchor="middle" textLength="37.8" lengthAdjust="spacingAndGlyphs" fill-opacity="0.7">2021-06-01</text>
<line x1="647.6" y1="2240.9" x2="647.6" y2="2244.4" stroke="#333" stroke-width="0.8"/>
<text x="647.6" y="2251.0" font-size="6.5" fill="#000" text-anchor="middle" textLength="37.8" lengthAdjust="spacingAndGlyphs" fill-opacity="0.7">2021-06-15</text>
<line x1="686.6" y1="2240.9" x2="686.6" y2="2244.4" stroke="#333" stroke-width="0.8"/>
<text x="686.6" y="2251.0" font-size="6.5" fill="#000" text-anchor="middle" textLength="37.8" lengthAdjust="spacingAndGlyphs" fill-opacity="0.7">2021-07-01</text>
<line x1="720.7" y1="2240.9" x2="720.7" y2="2244.4" stroke="#333" stroke-width="0.8"/>
<text x="720.7" y="2251.0" font-size="6.5" fill="#000" text-anchor="middle" textLength="37.8" lengthAdjust="spacingAndGlyphs" fill-opacity="0.7">2021-07-15</text>
<line x1="945.5" y1="2053.3" x2="945.5" y2="2240.9" stroke="#8a8a8a" stroke-width="1.0"/>
<line x1="790.1" y1="2147.1" x2="1097.7" y2="2147.1" stroke="#888" stroke-width="1.1" stroke-dasharray="4,2"/>
<clipPath id="c9_2"><rect x="790.1" y="2053.3" width="307.6" height="187.6"/></clipPath>
<path d="M894.70,2086.08 C895.13,2084.46 896.48,2079.07 897.29,2076.37 C898.10,2073.67 898.75,2070.33 899.56,2069.90 C900.37,2069.47 901.17,2070.54 902.15,2073.78 C903.12,2077.02 904.20,2084.03 905.38,2089.32 C906.57,2094.61 907.92,2100.92 909.27,2105.51 C910.62,2110.09 912.24,2115.49 913.48,2116.84 C914.72,2118.18 915.63,2116.57 916.71,2113.60 C917.79,2110.63 918.60,2103.73 919.95,2099.03 C921.30,2094.34 923.19,2087.32 924.81,2085.44 C926.42,2083.55 928.04,2086.51 929.66,2087.70 C931.28,2088.89 932.63,2091.48 934.52,2092.56 C936.41,2093.64 939.10,2094.45 940.99,2094.18 C942.88,2093.91 943.96,2091.75 945.85,2090.94 C947.74,2090.13 950.43,2088.24 952.32,2089.32 C954.21,2090.40 955.56,2094.45 957.18,2097.41 C958.80,2100.38 960.41,2104.16 962.03,2107.12 C963.65,2110.09 965.00,2112.52 966.89,2115.22 C968.78,2117.91 971.21,2121.96 973.36,2123.31 C975.52,2124.66 977.68,2123.85 979.84,2123.31 C982.00,2122.77 984.15,2121.53 986.31,2120.07 C988.47,2118.62 990.63,2116.19 992.79,2114.57 C994.94,2112.95 997.10,2112.14 999.26,2110.36 C1001.42,2108.58 1003.85,2106.05 1005.73,2103.89 C1007.62,2101.73 1008.70,2099.30 1010.59,2097.41 C1012.48,2095.52 1015.18,2092.83 1017.06,2092.56 C1018.95,2092.29 1020.03,2094.82 1021.92,2095.79 C1023.81,2096.77 1026.51,2098.92 1028.39,2098.38 C1030.28,2097.84 1031.63,2094.18 1033.25,2092.56 C1034.87,2090.94 1037.30,2089.32 1038.11,2088.67" fill="none" stroke="#1f77b4" stroke-width="1.05" stroke-linejoin="round" clip-path="url(#c9_2)"/>
<line x1="790.1" y1="2053.3" x2="1097.7" y2="2053.3" stroke="#1a1a1a" stroke-width="1.8"/>
<line x1="790.1" y1="2240.9" x2="1097.7" y2="2240.9" stroke="#1a1a1a" stroke-width="1.8"/>
<line x1="790.1" y1="2053.3" x2="790.1" y2="2240.9" stroke="#a8a8a8" stroke-width="1.3"/>
<line x1="1097.7" y1="2053.3" x2="1097.7" y2="2240.9" stroke="#a8a8a8" stroke-width="1.3"/>
<line x1="786.6" y1="2240.9" x2="790.1" y2="2240.9" stroke="#333" stroke-width="0.8"/>
<text x="784.1" y="2243.2" font-size="6.5" fill="#000" text-anchor="end" textLength="14.5" lengthAdjust="spacingAndGlyphs" fill-opacity="0.7">0.00</text>
<line x1="786.6" y1="2217.5" x2="790.1" y2="2217.5" stroke="#333" stroke-width="0.8"/>
<text x="784.1" y="2219.8" font-size="6.5" fill="#000" text-anchor="end" textLength="14.5" lengthAdjust="spacingAndGlyphs" fill-opacity="0.7">0.25</text>
<line x1="786.6" y1="2194.0" x2="790.1" y2="2194.0" stroke="#333" stroke-width="0.8"/>
<text x="784.1" y="2196.3" font-size="6.5" fill="#000" text-anchor="end" textLength="14.5" lengthAdjust="spacingAndGlyphs" fill-opacity="0.7">0.50</text>
<line x1="786.6" y1="2170.6" x2="790.1" y2="2170.6" stroke="#333" stroke-width="0.8"/>
<text x="784.1" y="2172.9" font-size="6.5" fill="#000" text-anchor="end" textLength="14.5" lengthAdjust="spacingAndGlyphs" fill-opacity="0.7">0.75</text>
<line x1="786.6" y1="2147.1" x2="790.1" y2="2147.1" stroke="#333" stroke-width="0.8"/>
<text x="784.1" y="2149.4" font-size="6.5" fill="#000" text-anchor="end" textLength="14.5" lengthAdjust="spacingAndGlyphs" fill-opacity="0.7">1.00</text>
<line x1="786.6" y1="2123.7" x2="790.1" y2="2123.7" stroke="#333" stroke-width="0.8"/>
<text x="784.1" y="2126.0" font-size="6.5" fill="#000" text-anchor="end" textLength="14.5" lengthAdjust="spacingAndGlyphs" fill-opacity="0.7">1.25</text>
<line x1="786.6" y1="2100.2" x2="790.1" y2="2100.2" stroke="#333" stroke-width="0.8"/>
<text x="784.1" y="2102.5" font-size="6.5" fill="#000" text-anchor="end" textLength="14.5" lengthAdjust="spacingAndGlyphs" fill-opacity="0.7">1.50</text>
<line x1="786.6" y1="2076.8" x2="790.1" y2="2076.8" stroke="#333" stroke-width="0.8"/>
<text x="784.1" y="2079.1" font-size="6.5" fill="#000" text-anchor="end" textLength="14.5" lengthAdjust="spacingAndGlyphs" fill-opacity="0.7">1.75</text>
<line x1="786.6" y1="2053.3" x2="790.1" y2="2053.3" stroke="#333" stroke-width="0.8"/>
<text x="784.1" y="2055.6" font-size="6.5" fill="#000" text-anchor="end" textLength="14.5" lengthAdjust="spacingAndGlyphs" fill-opacity="0.7">2.00</text>
<line x1="793.6" y1="2240.9" x2="793.6" y2="2244.4" stroke="#333" stroke-width="0.8"/>
<text x="793.6" y="2251.0" font-size="6.5" fill="#000" text-anchor="middle" textLength="37.8" lengthAdjust="spacingAndGlyphs" fill-opacity="0.7">2021-03-15</text>
<line x1="835.0" y1="2240.9" x2="835.0" y2="2244.4" stroke="#333" stroke-width="0.8"/>
<text x="835.0" y="2251.0" font-size="6.5" fill="#000" text-anchor="middle" textLength="37.8" lengthAdjust="spacingAndGlyphs" fill-opacity="0.7">2021-04-01</text>
<line x1="869.1" y1="2240.9" x2="869.1" y2="2244.4" stroke="#333" stroke-width="0.8"/>
<text x="869.1" y="2251.0" font-size="6.5" fill="#000" text-anchor="middle" textLength="37.8" lengthAdjust="spacingAndGlyphs" fill-opacity="0.7">2021-04-15</text>
<line x1="908.1" y1="2240.9" x2="908.1" y2="2244.4" stroke="#333" stroke-width="0.8"/>
<text x="908.1" y="2251.0" font-size="6.5" fill="#000" text-anchor="middle" textLength="37.8" lengthAdjust="spacingAndGlyphs" fill-opacity="0.7">2021-05-01</text>
<line x1="942.2" y1="2240.9" x2="942.2" y2="2244.4" stroke="#333" stroke-width="0.8"/>
<text x="942.2" y="2251.0" font-size="6.5" fill="#000" text-anchor="middle" textLength="37.8" lengthAdjust="spacingAndGlyphs" fill-opacity="0.7">2021-05-15</text>
<line x1="983.6" y1="2240.9" x2="983.6" y2="2244.4" stroke="#333" stroke-width="0.8"/>
<text x="983.6" y="2251.0" font-size="6.5" fill="#000" text-anchor="middle" textLength="37.8" lengthAdjust="spacingAndGlyphs" fill-opacity="0.7">2021-06-01</text>
<line x1="1017.7" y1="2240.9" x2="1017.7" y2="2244.4" stroke="#333" stroke-width="0.8"/>
<text x="1017.7" y="2251.0" font-size="6.5" fill="#000" text-anchor="middle" textLength="37.8" lengthAdjust="spacingAndGlyphs" fill-opacity="0.7">2021-06-15</text>
<line x1="1056.7" y1="2240.9" x2="1056.7" y2="2244.4" stroke="#333" stroke-width="0.8"/>
<text x="1056.7" y="2251.0" font-size="6.5" fill="#000" text-anchor="middle" textLength="37.8" lengthAdjust="spacingAndGlyphs" fill-opacity="0.7">2021-07-01</text>
<line x1="1090.8" y1="2240.9" x2="1090.8" y2="2244.4" stroke="#333" stroke-width="0.8"/>
<text x="1090.8" y="2251.0" font-size="6.5" fill="#000" text-anchor="middle" textLength="37.8" lengthAdjust="spacingAndGlyphs" fill-opacity="0.7">2021-07-15</text>
<text x="24.5" y="2373.0" font-size="17" fill="#000" text-anchor="middle" textLength="50.2" lengthAdjust="spacingAndGlyphs" transform="rotate(-90 24.5 2373.0)">Wales</text>
<line x1="207.3" y1="2279.2" x2="207.3" y2="2466.8" stroke="#b8b8b8" stroke-width="1.4"/>
<clipPath id="c10_0"><rect x="54.2" y="2279.2" width="307.0" height="187.6"/></clipPath>
<polyline points="55.0,2458.5 56.5,2458.5 58.0,2458.5 59.5,2458.5 61.0,2458.4 62.5,2458.5 64.0,2458.5 65.5,2458.5 67.0,2458.5 68.5,2458.5 70.0,2458.5 71.5,2458.5 73.0,2458.4 74.5,2458.4 76.0,2458.5 77.5,2458.5 79.0,2458.5 80.5,2458.5 82.0,2458.5 83.5,2458.5 85.0,2458.6 86.5,2458.6 88.0,2458.6 89.5,2458.5 91.0,2458.6 92.5,2458.6 94.0,2458.6 95.5,2458.6 97.0,2458.6 98.5,2458.6 100.0,2458.6 101.5,2458.6 103.0,2458.6 104.5,2458.6 106.0,2458.6 107.5,2458.6 109.0,2458.6 110.5,2458.6 112.0,2458.6 113.5,2458.6 115.0,2458.6 116.5,2458.6 118.0,2458.6 119.5,2458.6 121.0,2458.6 122.5,2458.6 124.0,2458.6 125.5,2458.6 127.0,2458.6 128.5,2458.6 130.0,2458.6 131.5,2458.6 133.0,2458.6 134.5,2458.6 136.0,2458.6 137.5,2458.6 139.0,2458.6 140.5,2458.5 142.0,2458.5 143.5,2458.5 145.0,2458.5 146.5,2458.5 148.0,2458.5 149.5,2458.5 151.0,2458.5 152.5,2458.5 154.0,2458.5 155.5,2458.5 157.0,2458.5 158.5,2458.5 160.0,2458.4 161.5,2458.4 163.0,2458.5 164.5,2458.5 166.0,2458.5 167.5,2458.5 169.0,2458.6 170.5,2458.6 172.0,2458.6 173.5,2458.6 175.0,2458.6 176.5,2458.6 178.0,2458.6 179.5,2458.6 181.0,2458.5 182.5,2458.5 184.0,2458.4 185.5,2458.3 187.0,2458.2 188.5,2458.1 190.0,2458.0 191.5,2457.9 193.0,2457.6 194.5,2457.2 196.0,2456.7" fill="none" stroke="#1f77b4" stroke-width="1.7" stroke-linejoin="round" clip-path="url(#c10_0)"/>
<polyline points="194.5,2457.2 196.0,2456.7 197.5,2456.2 199.0,2455.9 200.5,2455.9 202.0,2456.0 203.5,2455.9 205.0,2455.8 206.5,2456.0 208.0,2456.2 209.5,2456.4 211.0,2456.5 212.5,2456.7 214.0,2456.8 215.5,2457.0 217.0,2457.1 218.5,2457.3 220.0,2457.4 221.5,2457.4 223.0,2457.3 224.5,2457.1 226.0,2456.9 227.5,2456.7 229.0,2456.4 230.5,2456.1 232.0,2455.7 233.5,2455.0 235.0,2453.9 236.5,2452.8 238.0,2451.7 239.5,2450.2 241.0,2449.8 242.5,2449.8 244.0,2450.3 245.5,2450.0 247.0,2449.0 248.5,2445.9 250.0,2443.4 251.5,2442.8 253.0,2442.4 254.5,2442.3 256.0,2442.9 257.5,2443.4 259.0,2443.1 260.5,2441.9 262.0,2440.5 263.5,2439.2 265.0,2437.9 266.5,2437.4 268.0,2437.4 269.5,2437.3 271.0,2438.0 272.5,2439.0 274.0,2439.0 275.5,2439.0 277.0,2439.1 278.5,2438.5 280.0,2437.9 281.5,2436.8 283.0,2428.8 284.5,2425.2 286.0,2421.9 287.5,2419.7 289.0,2417.4 290.5,2415.3 292.0,2413.2 293.5,2416.6 295.0,2421.1 296.5,2420.9 298.0,2414.7 299.5,2410.9 301.0,2409.5 302.5,2408.1 304.0,2406.3 305.5,2404.3 307.0,2394.2 308.5,2380.6 310.0,2377.3 311.5,2376.8 313.0,2377.6 314.5,2378.6 316.0,2377.2 317.5,2375.6 319.0,2374.0 320.5,2372.4 322.0,2370.8 323.5,2369.1 325.0,2367.2 326.5,2365.5 328.0,2364.4 329.5,2362.9 331.0,2360.6 332.5,2355.5 334.0,2345.7 335.5,2339.1 337.0,2336.1 338.5,2333.4 340.0,2332.1 341.5,2341.6 343.0,2340.4 344.5,2333.7 346.0,2329.1 347.5,2325.4 349.0,2322.9 350.5,2320.6 352.0,2313.4 353.5,2305.5 355.0,2303.8 356.5,2301.8 358.0,2288.6 359.5,2288.1 360.1,2288.0" fill="none" stroke="#1f77b4" stroke-width="1.15" stroke-linejoin="round" clip-path="url(#c10_0)"/>
<polyline points="55.0,2419.2 56.5,2415.8 58.0,2412.4 59.5,2408.7 61.0,2406.2 62.5,2410.7 64.0,2413.2 65.5,2415.0 67.0,2416.7 68.5,2414.6 70.0,2411.6 71.5,2409.6 73.0,2407.7 74.5,2407.3 76.0,2408.7 77.5,2413.9 79.0,2419.1 80.5,2423.5 82.0,2427.2 83.5,2427.7 85.0,2428.2 86.5,2429.0 88.0,2430.5 89.5,2423.5 91.0,2429.6 92.5,2434.1 94.0,2435.4 95.5,2436.6 97.0,2437.9 98.5,2439.3 100.0,2440.7 101.5,2441.5 103.0,2440.6 104.5,2439.6 106.0,2438.7 107.5,2437.6 109.0,2436.5 110.5,2432.7 112.0,2430.4 113.5,2429.9 115.0,2429.4 116.5,2430.1 118.0,2431.6 119.5,2432.8 121.0,2432.8 122.5,2432.8 124.0,2433.2 125.5,2434.4 127.0,2435.6 128.5,2436.8 130.0,2438.0 131.5,2438.8 133.0,2439.3 134.5,2439.8 136.0,2440.8 137.5,2442.0 139.0,2443.3 140.5,2444.2 142.0,2445.0 143.5,2445.8 145.0,2446.5 146.5,2448.3 148.0,2450.1 149.5,2450.4 151.0,2450.6 152.5,2450.8 154.0,2451.0 155.5,2451.8 157.0,2452.4 158.5,2452.1 160.0,2451.9 161.5,2452.0 163.0,2453.0 164.5,2454.0 166.0,2454.5 167.5,2454.4 169.0,2454.3 170.5,2454.2 172.0,2453.6 173.5,2452.6 175.0,2453.7 176.5,2455.9 178.0,2455.9 179.5,2455.0 181.0,2454.8 182.5,2454.8 184.0,2454.8 185.5,2454.9 187.0,2454.9 188.5,2455.0 190.0,2455.0 191.5,2455.0 193.0,2454.2 194.5,2453.3 196.0,2451.8 197.5,2450.3 199.0,2449.2 200.5,2449.2 202.0,2449.1 203.5,2448.8 205.0,2446.4 207.9,2445.7 213.7,2447.1 219.4,2448.6 226.6,2449.3 232.4,2451.5 236.7,2452.2 242.5,2452.9 249.7,2449.7 255.5,2450.7 262.7,2451.7 268.5,2452.9 274.3,2455.8 280.0,2456.5 285.8,2455.1 291.6,2454.6 297.3,2456.1 306.0,2456.5 320.4,2456.5 324.7,2457.9 360.1,2457.9" fill="none" stroke="#ff7f0e" stroke-width="1.1" stroke-linejoin="round" clip-path="url(#c10_0)"/>
<polyline points="55.0,2419.0 57.9,2412.5 60.8,2405.3 63.0,2411.8 67.3,2416.8 70.2,2411.1 73.8,2406.4 76.0,2408.2 78.9,2418.3 81.7,2426.9 86.1,2428.4 88.2,2430.5 89.7,2422.6 91.8,2433.4 96.2,2437.0 101.2,2441.6 106.3,2438.5 109.2,2436.3 111.3,2430.5 115.6,2429.1 119.3,2432.7 123.6,2432.7 130.8,2438.5 135.1,2439.9 139.4,2443.5 145.2,2446.4 148.1,2450.0 153.9,2450.7 156.8,2452.2 161.1,2451.5 165.4,2454.3 171.2,2454.1 174.1,2452.2 177.0,2456.5 179.8,2454.6 191.4,2454.3 194.3,2452.2 198.6,2446.4 202.9,2446.4 205.0,2445.0 212.2,2445.0 216.5,2446.4 222.3,2448.6 226.6,2450.0 232.4,2450.0 236.7,2445.7 239.6,2443.5 244.0,2445.0 246.8,2443.5 249.7,2435.6 254.1,2434.9 258.4,2437.0 262.7,2434.1 265.6,2432.7 269.9,2433.4 272.8,2436.3 277.1,2437.0 281.5,2435.6 282.9,2426.9 285.8,2419.7 288.7,2415.4 292.3,2410.3 295.9,2421.9 298.8,2409.6 303.1,2406.0 306.0,2402.4 308.9,2376.4 311.8,2375.7 314.6,2377.9 319.0,2373.5 323.3,2369.2 326.2,2365.6 329.1,2363.4 332.0,2359.1 334.8,2340.4 337.7,2334.6 339.9,2331.0 342.1,2344.7 344.9,2331.7 347.8,2324.5 350.7,2320.2 353.6,2305.0 356.5,2302.1 357.9,2288.4 360.1,2287.7" fill="none" stroke="#2ca02c" stroke-width="1.1" stroke-linejoin="round" clip-path="url(#c10_0)"/>
<line x1="54.2" y1="2279.2" x2="361.2" y2="2279.2" stroke="#a8a8a8" stroke-width="1.3"/>
<line x1="54.2" y1="2466.8" x2="361.2" y2="2466.8" stroke="#111" stroke-width="1.6"/>
<line x1="54.2" y1="2279.2" x2="54.2" y2="2466.8" stroke="#111" stroke-width="1.6"/>
<line x1="361.2" y1="2279.2" x2="361.2" y2="2466.8" stroke="#d62728" stroke-width="1.6"/>
<clipPath id="c10_0r"><rect x="54.2" y="2278.2" width="307.0" height="189.6"/></clipPath>
<polyline points="55.0,2465.9 136.6,2465.9 142.3,2464.2 151.0,2463.0 155.3,2460.8 161.1,2459.4 165.4,2459.4 169.7,2461.6 174.1,2464.2 177.0,2463.0 181.3,2458.7 184.2,2452.9 187.1,2445.7 189.9,2438.5 192.8,2429.8 195.7,2424.0 198.6,2424.0 202.9,2425.2 205.0,2426.9 207.9,2432.7 212.2,2438.5 216.5,2442.1 220.1,2445.4 223.8,2438.5 226.6,2426.9 229.5,2415.4 232.4,2401.0 235.3,2386.5 238.2,2372.1 240.3,2354.8 242.2,2349.0 244.0,2351.9 246.1,2356.2 248.3,2346.1 251.2,2340.4 254.1,2336.0 256.9,2337.5 259.8,2333.2 262.7,2323.1 265.6,2313.0 268.5,2310.1 271.4,2305.7 274.3,2300.0 278.6,2295.6 282.9,2292.0 287.2,2291.0 291.6,2289.1 297.3,2287.7 303.1,2284.8 308.9,2281.9 317.5,2280.5 324.7,2279.5 360.1,2279.5" fill="none" stroke="#ff0000" stroke-width="1.15" stroke-linejoin="round" stroke-dasharray="3.5,2.2" clip-path="url(#c10_0r)"/>
<line x1="50.7" y1="2458.7" x2="54.2" y2="2458.7" stroke="#333" stroke-width="0.8"/>
<text x="48.2" y="2461.0" font-size="6.5" fill="#000" text-anchor="end" textLength="4.1" lengthAdjust="spacingAndGlyphs" fill-opacity="0.7">0</text>
<line x1="50.7" y1="2434.6" x2="54.2" y2="2434.6" stroke="#333" stroke-width="0.8"/>
<text x="48.2" y="2436.9" font-size="6.5" fill="#000" text-anchor="end" textLength="12.4" lengthAdjust="spacingAndGlyphs" fill-opacity="0.7">250</text>
<line x1="50.7" y1="2410.4" x2="54.2" y2="2410.4" stroke="#333" stroke-width="0.8"/>
<text x="48.2" y="2412.8" font-size="6.5" fill="#000" text-anchor="end" textLength="12.4" lengthAdjust="spacingAndGlyphs" fill-opacity="0.7">500</text>
<line x1="50.7" y1="2386.3" x2="54.2" y2="2386.3" stroke="#333" stroke-width="0.8"/>
<text x="48.2" y="2388.6" font-size="6.5" fill="#000" text-anchor="end" textLength="12.4" lengthAdjust="spacingAndGlyphs" fill-opacity="0.7">750</text>
<line x1="50.7" y1="2362.1" x2="54.2" y2="2362.1" stroke="#333" stroke-width="0.8"/>
<text x="48.2" y="2364.5" font-size="6.5" fill="#000" text-anchor="end" textLength="16.5" lengthAdjust="spacingAndGlyphs" fill-opacity="0.7">1000</text>
<line x1="50.7" y1="2338.0" x2="54.2" y2="2338.0" stroke="#333" stroke-width="0.8"/>
<text x="48.2" y="2340.3" font-size="6.5" fill="#000" text-anchor="end" textLength="16.5" lengthAdjust="spacingAndGlyphs" fill-opacity="0.7">1250</text>
<line x1="50.7" y1="2313.8" x2="54.2" y2="2313.8" stroke="#333" stroke-width="0.8"/>
<text x="48.2" y="2316.2" font-size="6.5" fill="#000" text-anchor="end" textLength="16.5" lengthAdjust="spacingAndGlyphs" fill-opacity="0.7">1500</text>
<line x1="50.7" y1="2289.7" x2="54.2" y2="2289.7" stroke="#333" stroke-width="0.8"/>
<text x="48.2" y="2292.0" font-size="6.5" fill="#000" text-anchor="end" textLength="16.5" lengthAdjust="spacingAndGlyphs" fill-opacity="0.7">1750</text>
<line x1="361.2" y1="2466.8" x2="364.7" y2="2466.8" stroke="#ff0000" stroke-width="0.8"/>
<text x="366.2" y="2469.0" font-size="6.0" fill="#ff0000" text-anchor="start" textLength="9.5" lengthAdjust="spacingAndGlyphs" fill-opacity="0.9">0.0</text>
<line x1="361.2" y1="2429.3" x2="364.7" y2="2429.3" stroke="#ff0000" stroke-width="0.8"/>
<text x="366.2" y="2431.4" font-size="6.0" fill="#ff0000" text-anchor="start" textLength="9.5" lengthAdjust="spacingAndGlyphs" fill-opacity="0.9">0.2</text>
<line x1="361.2" y1="2391.8" x2="364.7" y2="2391.8" stroke="#ff0000" stroke-width="0.8"/>
<text x="366.2" y="2393.9" font-size="6.0" fill="#ff0000" text-anchor="start" textLength="9.5" lengthAdjust="spacingAndGlyphs" fill-opacity="0.9">0.4</text>
<line x1="361.2" y1="2354.2" x2="364.7" y2="2354.2" stroke="#ff0000" stroke-width="0.8"/>
<text x="366.2" y="2356.4" font-size="6.0" fill="#ff0000" text-anchor="start" textLength="9.5" lengthAdjust="spacingAndGlyphs" fill-opacity="0.9">0.6</text>
<line x1="361.2" y1="2316.7" x2="364.7" y2="2316.7" stroke="#ff0000" stroke-width="0.8"/>
<text x="366.2" y="2318.9" font-size="6.0" fill="#ff0000" text-anchor="start" textLength="9.5" lengthAdjust="spacingAndGlyphs" fill-opacity="0.9">0.8</text>
<line x1="361.2" y1="2279.2" x2="364.7" y2="2279.2" stroke="#ff0000" stroke-width="0.8"/>
<text x="366.2" y="2281.4" font-size="6.0" fill="#ff0000" text-anchor="start" textLength="9.5" lengthAdjust="spacingAndGlyphs" fill-opacity="0.9">1.0</text>
<line x1="55.7" y1="2466.8" x2="55.7" y2="2470.3" stroke="#333" stroke-width="0.8"/>
<text x="55.7" y="2476.9" font-size="6.5" fill="#000" text-anchor="middle" textLength="37.8" lengthAdjust="spacingAndGlyphs" fill-opacity="0.7">2021-03-15</text>
<line x1="97.1" y1="2466.8" x2="97.1" y2="2470.3" stroke="#333" stroke-width="0.8"/>
<text x="97.1" y="2476.9" font-size="6.5" fill="#000" text-anchor="middle" textLength="37.8" lengthAdjust="spacingAndGlyphs" fill-opacity="0.7">2021-04-01</text>
<line x1="131.2" y1="2466.8" x2="131.2" y2="2470.3" stroke="#333" stroke-width="0.8"/>
<text x="131.2" y="2476.9" font-size="6.5" fill="#000" text-anchor="middle" textLength="37.8" lengthAdjust="spacingAndGlyphs" fill-opacity="0.7">2021-04-15</text>
<line x1="170.2" y1="2466.8" x2="170.2" y2="2470.3" stroke="#333" stroke-width="0.8"/>
<text x="170.2" y="2476.9" font-size="6.5" fill="#000" text-anchor="middle" textLength="37.8" lengthAdjust="spacingAndGlyphs" fill-opacity="0.7">2021-05-01</text>
<line x1="204.3" y1="2466.8" x2="204.3" y2="2470.3" stroke="#333" stroke-width="0.8"/>
<text x="204.3" y="2476.9" font-size="6.5" fill="#000" text-anchor="middle" textLength="37.8" lengthAdjust="spacingAndGlyphs" fill-opacity="0.7">2021-05-15</text>
<line x1="245.7" y1="2466.8" x2="245.7" y2="2470.3" stroke="#333" stroke-width="0.8"/>
<text x="245.7" y="2476.9" font-size="6.5" fill="#000" text-anchor="middle" textLength="37.8" lengthAdjust="spacingAndGlyphs" fill-opacity="0.7">2021-06-01</text>
<line x1="279.8" y1="2466.8" x2="279.8" y2="2470.3" stroke="#333" stroke-width="0.8"/>
<text x="279.8" y="2476.9" font-size="6.5" fill="#000" text-anchor="middle" textLength="37.8" lengthAdjust="spacingAndGlyphs" fill-opacity="0.7">2021-06-15</text>
<line x1="318.8" y1="2466.8" x2="318.8" y2="2470.3" stroke="#333" stroke-width="0.8"/>
<text x="318.8" y="2476.9" font-size="6.5" fill="#000" text-anchor="middle" textLength="37.8" lengthAdjust="spacingAndGlyphs" fill-opacity="0.7">2021-07-01</text>
<line x1="352.9" y1="2466.8" x2="352.9" y2="2470.3" stroke="#333" stroke-width="0.8"/>
<text x="352.9" y="2476.9" font-size="6.5" fill="#000" text-anchor="middle" textLength="37.8" lengthAdjust="spacingAndGlyphs" fill-opacity="0.7">2021-07-15</text>
<text x="389.0" y="2373.0" font-size="12" fill="#ff0000" text-anchor="middle" textLength="146.8" lengthAdjust="spacingAndGlyphs" transform="rotate(-90 389.0 2373.0)">Percentage new variant</text>
<line x1="576.6" y1="2279.2" x2="576.6" y2="2466.8" stroke="#8a8a8a" stroke-width="1.0"/>
<line x1="423.0" y1="2373.0" x2="730.3" y2="2373.0" stroke="#000" stroke-width="1.6" stroke-dasharray="4,2"/>
<clipPath id="c10_1"><rect x="423.0" y="2279.2" width="307.3" height="187.6"/></clipPath>
<path d="M520.23,2328.30 C522.29,2328.19 528.89,2327.81 532.57,2327.65 C536.25,2327.49 538.52,2327.49 542.31,2327.33 C546.10,2327.16 551.51,2326.68 555.29,2326.68 C559.08,2326.68 562.33,2326.95 565.03,2327.33 C567.74,2327.71 569.63,2328.52 571.52,2328.95 C573.42,2329.38 574.23,2329.49 576.39,2329.92 C578.56,2330.36 581.80,2331.38 584.51,2331.55 C587.21,2331.71 590.46,2331.55 592.62,2330.90 C594.79,2330.25 595.60,2328.46 597.49,2327.65 C599.39,2326.84 601.82,2326.73 603.99,2326.03 C606.15,2325.32 608.31,2323.43 610.48,2323.43 C612.64,2323.43 614.81,2324.68 616.97,2326.03 C619.13,2327.38 621.30,2329.82 623.46,2331.55 C625.63,2333.28 627.79,2334.79 629.95,2336.42 C632.12,2338.04 634.55,2339.66 636.45,2341.28 C638.34,2342.91 639.69,2345.23 641.32,2346.15 C642.94,2347.07 644.56,2347.45 646.19,2346.80 C647.81,2346.15 649.16,2343.99 651.06,2342.26 C652.95,2340.53 655.65,2337.28 657.55,2336.42 C659.44,2335.55 660.63,2335.87 662.42,2337.06 C664.20,2338.26 667.29,2342.48 668.26,2343.56" fill="none" stroke="#1f77b4" stroke-width="1.05" stroke-linejoin="round" clip-path="url(#c10_1)"/>
<path d="M520.23,2408.48 C521.75,2407.02 526.19,2402.80 529.32,2399.72 C532.46,2396.63 535.82,2393.06 539.06,2389.98 C542.31,2386.89 546.10,2383.92 548.80,2381.21 C551.51,2378.51 553.13,2377.16 555.29,2373.75 C557.46,2370.34 559.89,2364.28 561.79,2360.76 C563.68,2357.25 565.03,2354.11 566.65,2352.65 C568.28,2351.19 569.90,2351.19 571.52,2352.00 C573.15,2352.81 574.50,2354.70 576.39,2357.52 C578.29,2360.33 580.72,2365.36 582.89,2368.88 C585.05,2372.39 587.21,2375.80 589.38,2378.62 C591.54,2381.43 593.71,2384.57 595.87,2385.76 C598.03,2386.95 600.47,2386.51 602.36,2385.76 C604.26,2385.00 605.34,2382.40 607.23,2381.21 C609.13,2380.02 611.56,2378.94 613.72,2378.62 C615.89,2378.29 618.05,2378.29 620.22,2379.27 C622.38,2380.24 624.54,2382.40 626.71,2384.46 C628.87,2386.51 631.04,2389.60 633.20,2391.60 C635.37,2393.60 637.53,2395.50 639.69,2396.47 C641.86,2397.44 644.02,2397.98 646.19,2397.44 C648.35,2396.90 650.51,2394.31 652.68,2393.22 C654.84,2392.14 657.28,2391.33 659.17,2390.95 C661.06,2390.57 662.52,2390.57 664.04,2390.95 C665.55,2391.33 667.56,2392.84 668.26,2393.22" fill="none" stroke="#ff7f0e" stroke-width="1.05" stroke-linejoin="round" clip-path="url(#c10_1)"/>
<line x1="423.0" y1="2279.2" x2="730.3" y2="2279.2" stroke="#a8a8a8" stroke-width="1.3"/>
<line x1="423.0" y1="2466.8" x2="730.3" y2="2466.8" stroke="#a8a8a8" stroke-width="1.3"/>
<line x1="423.0" y1="2279.2" x2="423.0" y2="2466.8" stroke="#a8a8a8" stroke-width="1.3"/>
<line x1="730.3" y1="2279.2" x2="730.3" y2="2466.8" stroke="#a8a8a8" stroke-width="1.3"/>
<line x1="419.5" y1="2466.8" x2="423.0" y2="2466.8" stroke="#333" stroke-width="0.8"/>
<text x="417.0" y="2469.1" font-size="6.5" fill="#000" text-anchor="end" textLength="10.3" lengthAdjust="spacingAndGlyphs" fill-opacity="0.7">0.2</text>
<line x1="419.5" y1="2443.3" x2="423.0" y2="2443.3" stroke="#333" stroke-width="0.8"/>
<text x="417.0" y="2445.7" font-size="6.5" fill="#000" text-anchor="end" textLength="10.3" lengthAdjust="spacingAndGlyphs" fill-opacity="0.7">0.4</text>
<line x1="419.5" y1="2419.9" x2="423.0" y2="2419.9" stroke="#333" stroke-width="0.8"/>
<text x="417.0" y="2422.2" font-size="6.5" fill="#000" text-anchor="end" textLength="10.3" lengthAdjust="spacingAndGlyphs" fill-opacity="0.7">0.6</text>
<line x1="419.5" y1="2396.4" x2="423.0" y2="2396.4" stroke="#333" stroke-width="0.8"/>
<text x="417.0" y="2398.8" font-size="6.5" fill="#000" text-anchor="end" textLength="10.3" lengthAdjust="spacingAndGlyphs" fill-opacity="0.7">0.8</text>
<line x1="419.5" y1="2373.0" x2="423.0" y2="2373.0" stroke="#333" stroke-width="0.8"/>
<text x="417.0" y="2375.3" font-size="6.5" fill="#000" text-anchor="end" textLength="10.3" lengthAdjust="spacingAndGlyphs" fill-opacity="0.7">1.0</text>
<line x1="419.5" y1="2349.5" x2="423.0" y2="2349.5" stroke="#333" stroke-width="0.8"/>
<text x="417.0" y="2351.9" font-size="6.5" fill="#000" text-anchor="end" textLength="10.3" lengthAdjust="spacingAndGlyphs" fill-opacity="0.7">1.2</text>
<line x1="419.5" y1="2326.1" x2="423.0" y2="2326.1" stroke="#333" stroke-width="0.8"/>
<text x="417.0" y="2328.4" font-size="6.5" fill="#000" text-anchor="end" textLength="10.3" lengthAdjust="spacingAndGlyphs" fill-opacity="0.7">1.4</text>
<line x1="419.5" y1="2302.6" x2="423.0" y2="2302.6" stroke="#333" stroke-width="0.8"/>
<text x="417.0" y="2305.0" font-size="6.5" fill="#000" text-anchor="end" textLength="10.3" lengthAdjust="spacingAndGlyphs" fill-opacity="0.7">1.6</text>
<line x1="419.5" y1="2279.2" x2="423.0" y2="2279.2" stroke="#333" stroke-width="0.8"/>
<text x="417.0" y="2281.5" font-size="6.5" fill="#000" text-anchor="end" textLength="10.3" lengthAdjust="spacingAndGlyphs" fill-opacity="0.7">1.8</text>
<line x1="423.5" y1="2466.8" x2="423.5" y2="2470.3" stroke="#333" stroke-width="0.8"/>
<text x="423.5" y="2476.9" font-size="6.5" fill="#000" text-anchor="middle" textLength="37.8" lengthAdjust="spacingAndGlyphs" fill-opacity="0.7">2021-03-15</text>
<line x1="464.9" y1="2466.8" x2="464.9" y2="2470.3" stroke="#333" stroke-width="0.8"/>
<text x="464.9" y="2476.9" font-size="6.5" fill="#000" text-anchor="middle" textLength="37.8" lengthAdjust="spacingAndGlyphs" fill-opacity="0.7">2021-04-01</text>
<line x1="499.0" y1="2466.8" x2="499.0" y2="2470.3" stroke="#333" stroke-width="0.8"/>
<text x="499.0" y="2476.9" font-size="6.5" fill="#000" text-anchor="middle" textLength="37.8" lengthAdjust="spacingAndGlyphs" fill-opacity="0.7">2021-04-15</text>
<line x1="538.0" y1="2466.8" x2="538.0" y2="2470.3" stroke="#333" stroke-width="0.8"/>
<text x="538.0" y="2476.9" font-size="6.5" fill="#000" text-anchor="middle" textLength="37.8" lengthAdjust="spacingAndGlyphs" fill-opacity="0.7">2021-05-01</text>
<line x1="572.1" y1="2466.8" x2="572.1" y2="2470.3" stroke="#333" stroke-width="0.8"/>
<text x="572.1" y="2476.9" font-size="6.5" fill="#000" text-anchor="middle" textLength="37.8" lengthAdjust="spacingAndGlyphs" fill-opacity="0.7">2021-05-15</text>
<line x1="613.5" y1="2466.8" x2="613.5" y2="2470.3" stroke="#333" stroke-width="0.8"/>
<text x="613.5" y="2476.9" font-size="6.5" fill="#000" text-anchor="middle" textLength="37.8" lengthAdjust="spacingAndGlyphs" fill-opacity="0.7">2021-06-01</text>
<line x1="647.6" y1="2466.8" x2="647.6" y2="2470.3" stroke="#333" stroke-width="0.8"/>
<text x="647.6" y="2476.9" font-size="6.5" fill="#000" text-anchor="middle" textLength="37.8" lengthAdjust="spacingAndGlyphs" fill-opacity="0.7">2021-06-15</text>
<line x1="686.6" y1="2466.8" x2="686.6" y2="2470.3" stroke="#333" stroke-width="0.8"/>
<text x="686.6" y="2476.9" font-size="6.5" fill="#000" text-anchor="middle" textLength="37.8" lengthAdjust="spacingAndGlyphs" fill-opacity="0.7">2021-07-01</text>
<line x1="720.7" y1="2466.8" x2="720.7" y2="2470.3" stroke="#333" stroke-width="0.8"/>
<text x="720.7" y="2476.9" font-size="6.5" fill="#000" text-anchor="middle" textLength="37.8" lengthAdjust="spacingAndGlyphs" fill-opacity="0.7">2021-07-15</text>
<line x1="945.5" y1="2279.2" x2="945.5" y2="2466.8" stroke="#8a8a8a" stroke-width="1.0"/>
<line x1="790.1" y1="2373.0" x2="1097.7" y2="2373.0" stroke="#000" stroke-width="1.6" stroke-dasharray="4,2"/>
<clipPath id="c10_2"><rect x="790.1" y="2279.2" width="307.6" height="187.6"/></clipPath>
<path d="M889.84,2278.60 C890.82,2280.11 893.89,2284.53 895.67,2287.66 C897.45,2290.79 898.64,2294.40 900.53,2297.37 C902.42,2300.34 904.84,2301.96 907.00,2305.46 C909.16,2308.97 911.32,2314.37 913.48,2318.41 C915.63,2322.46 917.79,2326.51 919.95,2329.74 C922.11,2332.98 924.54,2334.60 926.42,2337.84 C928.31,2341.07 929.66,2346.20 931.28,2349.17 C932.90,2352.13 934.52,2354.45 936.14,2355.64 C937.75,2356.83 939.37,2356.72 940.99,2356.29 C942.61,2355.86 944.23,2354.78 945.85,2353.05 C947.47,2351.32 948.81,2349.00 950.70,2345.93 C952.59,2342.85 955.02,2338.38 957.18,2334.60 C959.34,2330.82 961.76,2326.13 963.65,2323.27 C965.54,2320.41 966.89,2318.41 968.51,2317.44 C970.13,2316.47 971.48,2316.58 973.36,2317.44 C975.25,2318.31 977.68,2321.00 979.84,2322.62 C982.00,2324.24 984.15,2325.70 986.31,2327.15 C988.47,2328.61 990.90,2330.82 992.79,2331.36 C994.67,2331.90 996.02,2331.31 997.64,2330.39 C999.26,2329.47 1000.61,2327.15 1002.50,2325.86 C1004.39,2324.56 1006.27,2323.43 1008.97,2322.62 C1011.67,2321.81 1015.45,2321.33 1018.68,2321.00 C1021.92,2320.68 1025.97,2320.30 1028.39,2320.68 C1030.82,2321.06 1031.74,2322.51 1033.25,2323.27 C1034.76,2324.02 1036.76,2324.89 1037.46,2325.21" fill="none" stroke="#1f77b4" stroke-width="1.05" stroke-linejoin="round" clip-path="url(#c10_2)"/>
<line x1="790.1" y1="2279.2" x2="1097.7" y2="2279.2" stroke="#a8a8a8" stroke-width="1.3"/>
<line x1="790.1" y1="2466.8" x2="1097.7" y2="2466.8" stroke="#a8a8a8" stroke-width="1.3"/>
<line x1="790.1" y1="2279.2" x2="790.1" y2="2466.8" stroke="#a8a8a8" stroke-width="1.3"/>
<line x1="1097.7" y1="2279.2" x2="1097.7" y2="2466.8" stroke="#a8a8a8" stroke-width="1.3"/>
<line x1="786.6" y1="2466.8" x2="790.1" y2="2466.8" stroke="#333" stroke-width="0.8"/>
<text x="784.1" y="2469.1" font-size="6.5" fill="#000" text-anchor="end" textLength="14.5" lengthAdjust="spacingAndGlyphs" fill-opacity="0.7">0.00</text>
<line x1="786.6" y1="2443.3" x2="790.1" y2="2443.3" stroke="#333" stroke-width="0.8"/>
<text x="784.1" y="2445.7" font-size="6.5" fill="#000" text-anchor="end" textLength="14.5" lengthAdjust="spacingAndGlyphs" fill-opacity="0.7">0.25</text>
<line x1="786.6" y1="2419.9" x2="790.1" y2="2419.9" stroke="#333" stroke-width="0.8"/>
<text x="784.1" y="2422.2" font-size="6.5" fill="#000" text-anchor="end" textLength="14.5" lengthAdjust="spacingAndGlyphs" fill-opacity="0.7">0.50</text>
<line x1="786.6" y1="2396.4" x2="790.1" y2="2396.4" stroke="#333" stroke-width="0.8"/>
<text x="784.1" y="2398.8" font-size="6.5" fill="#000" text-anchor="end" textLength="14.5" lengthAdjust="spacingAndGlyphs" fill-opacity="0.7">0.75</text>
<line x1="786.6" y1="2373.0" x2="790.1" y2="2373.0" stroke="#333" stroke-width="0.8"/>
<text x="784.1" y="2375.3" font-size="6.5" fill="#000" text-anchor="end" textLength="14.5" lengthAdjust="spacingAndGlyphs" fill-opacity="0.7">1.00</text>
<line x1="786.6" y1="2349.5" x2="790.1" y2="2349.5" stroke="#333" stroke-width="0.8"/>
<text x="784.1" y="2351.9" font-size="6.5" fill="#000" text-anchor="end" textLength="14.5" lengthAdjust="spacingAndGlyphs" fill-opacity="0.7">1.25</text>
<line x1="786.6" y1="2326.1" x2="790.1" y2="2326.1" stroke="#333" stroke-width="0.8"/>
<text x="784.1" y="2328.4" font-size="6.5" fill="#000" text-anchor="end" textLength="14.5" lengthAdjust="spacingAndGlyphs" fill-opacity="0.7">1.50</text>
<line x1="786.6" y1="2302.6" x2="790.1" y2="2302.6" stroke="#333" stroke-width="0.8"/>
<text x="784.1" y="2305.0" font-size="6.5" fill="#000" text-anchor="end" textLength="14.5" lengthAdjust="spacingAndGlyphs" fill-opacity="0.7">1.75</text>
<line x1="786.6" y1="2279.2" x2="790.1" y2="2279.2" stroke="#333" stroke-width="0.8"/>
<text x="784.1" y="2281.5" font-size="6.5" fill="#000" text-anchor="end" textLength="14.5" lengthAdjust="spacingAndGlyphs" fill-opacity="0.7">2.00</text>
<line x1="793.6" y1="2466.8" x2="793.6" y2="2470.3" stroke="#333" stroke-width="0.8"/>
<text x="793.6" y="2476.9" font-size="6.5" fill="#000" text-anchor="middle" textLength="37.8" lengthAdjust="spacingAndGlyphs" fill-opacity="0.7">2021-03-15</text>
<line x1="835.0" y1="2466.8" x2="835.0" y2="2470.3" stroke="#333" stroke-width="0.8"/>
<text x="835.0" y="2476.9" font-size="6.5" fill="#000" text-anchor="middle" textLength="37.8" lengthAdjust="spacingAndGlyphs" fill-opacity="0.7">2021-04-01</text>
<line x1="869.1" y1="2466.8" x2="869.1" y2="2470.3" stroke="#333" stroke-width="0.8"/>
<text x="869.1" y="2476.9" font-size="6.5" fill="#000" text-anchor="middle" textLength="37.8" lengthAdjust="spacingAndGlyphs" fill-opacity="0.7">2021-04-15</text>
<line x1="908.1" y1="2466.8" x2="908.1" y2="2470.3" stroke="#333" stroke-width="0.8"/>
<text x="908.1" y="2476.9" font-size="6.5" fill="#000" text-anchor="middle" textLength="37.8" lengthAdjust="spacingAndGlyphs" fill-opacity="0.7">2021-05-01</text>
<line x1="942.2" y1="2466.8" x2="942.2" y2="2470.3" stroke="#333" stroke-width="0.8"/>
<text x="942.2" y="2476.9" font-size="6.5" fill="#000" text-anchor="middle" textLength="37.8" lengthAdjust="spacingAndGlyphs" fill-opacity="0.7">2021-05-15</text>
<line x1="983.6" y1="2466.8" x2="983.6" y2="2470.3" stroke="#333" stroke-width="0.8"/>
<text x="983.6" y="2476.9" font-size="6.5" fill="#000" text-anchor="middle" textLength="37.8" lengthAdjust="spacingAndGlyphs" fill-opacity="0.7">2021-06-01</text>
<line x1="1017.7" y1="2466.8" x2="1017.7" y2="2470.3" stroke="#333" stroke-width="0.8"/>
<text x="1017.7" y="2476.9" font-size="6.5" fill="#000" text-anchor="middle" textLength="37.8" lengthAdjust="spacingAndGlyphs" fill-opacity="0.7">2021-06-15</text>
<line x1="1056.7" y1="2466.8" x2="1056.7" y2="2470.3" stroke="#333" stroke-width="0.8"/>
<text x="1056.7" y="2476.9" font-size="6.5" fill="#000" text-anchor="middle" textLength="37.8" lengthAdjust="spacingAndGlyphs" fill-opacity="0.7">2021-07-01</text>
<line x1="1090.8" y1="2466.8" x2="1090.8" y2="2470.3" stroke="#333" stroke-width="0.8"/>
<text x="1090.8" y="2476.9" font-size="6.5" fill="#000" text-anchor="middle" textLength="37.8" lengthAdjust="spacingAndGlyphs" fill-opacity="0.7">2021-07-15</text>
</svg></body></html>
